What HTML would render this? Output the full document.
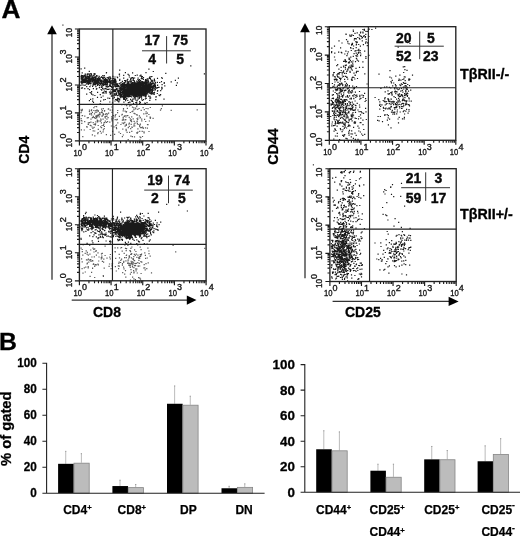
<!DOCTYPE html>
<html><head><meta charset="utf-8"><title>Figure</title>
<style>html,body{margin:0;padding:0;background:#fff;}body{width:520px;height:536px;overflow:hidden;font-family:"Liberation Sans",sans-serif;}svg{display:block;will-change:transform;}</style>
</head><body>
<svg width="520" height="536" viewBox="0 0 520 536">
<rect width="520" height="536" fill="#fff"/>
<text transform="translate(1.4 17.7) scale(1.05 1)" font-family="Liberation Sans, sans-serif" font-size="25" font-weight="bold" fill="#000" stroke="#000" stroke-width="0.3">A</text>
<text x="-0.9" y="350.4" font-family="Liberation Sans, sans-serif" font-size="24.8" font-weight="bold" fill="#000" stroke="#000" stroke-width="0.3">B</text>
<path d="M79.40 140.90v4.5M79.40 140.90h-4.5M88.93 140.90v2.4M79.40 132.48h-2.4M94.50 140.90v2.4M79.40 127.55h-2.4M98.46 140.90v2.4M79.40 124.06h-2.4M101.52 140.90v2.4M79.40 121.35h-2.4M104.03 140.90v2.4M79.40 119.13h-2.4M106.15 140.90v2.4M79.40 117.26h-2.4M107.98 140.90v2.4M79.40 115.64h-2.4M109.60 140.90v2.4M79.40 114.21h-2.4M111.05 140.90v4.5M79.40 112.93h-4.5M120.58 140.90v2.4M79.40 104.50h-2.4M126.15 140.90v2.4M79.40 99.58h-2.4M130.11 140.90v2.4M79.40 96.08h-2.4M133.17 140.90v2.4M79.40 93.37h-2.4M135.68 140.90v2.4M79.40 91.16h-2.4M137.80 140.90v2.4M79.40 89.28h-2.4M139.63 140.90v2.4M79.40 87.66h-2.4M141.25 140.90v2.4M79.40 86.23h-2.4M142.70 140.90v4.5M79.40 84.95h-4.5M152.23 140.90v2.4M79.40 76.53h-2.4M157.80 140.90v2.4M79.40 71.60h-2.4M161.76 140.90v2.4M79.40 68.11h-2.4M164.82 140.90v2.4M79.40 65.40h-2.4M167.33 140.90v2.4M79.40 63.18h-2.4M169.45 140.90v2.4M79.40 61.31h-2.4M171.28 140.90v2.4M79.40 59.69h-2.4M172.90 140.90v2.4M79.40 58.26h-2.4M174.35 140.90v4.5M79.40 56.97h-4.5M183.88 140.90v2.4M79.40 48.55h-2.4M189.45 140.90v2.4M79.40 43.63h-2.4M193.41 140.90v2.4M79.40 40.13h-2.4M196.47 140.90v2.4M79.40 37.42h-2.4M198.98 140.90v2.4M79.40 35.21h-2.4M201.10 140.90v2.4M79.40 33.33h-2.4M202.93 140.90v2.4M79.40 31.71h-2.4M204.55 140.90v2.4M79.40 30.28h-2.4M206.00 140.90v4.5M79.40 29.00h-4.5" stroke="#1a1a1a" stroke-width="1.15" fill="none"/>
<path d="M91.7 81.4h1.2v1.2h-1.2zM82.6 81.4h1.2v1.2h-1.2zM99.3 79.6h1.2v1.2h-1.2zM98.3 80.6h1.2v1.2h-1.2zM81.3 77.9h1.2v1.2h-1.2zM83.3 79.2h1.2v1.2h-1.2zM95.3 80.3h1.2v1.2h-1.2zM88.0 78.2h1.2v1.2h-1.2zM102.6 83.1h1.2v1.2h-1.2zM94.3 78.8h1.2v1.2h-1.2zM115.1 85.5h1.2v1.2h-1.2zM90.4 80.7h1.2v1.2h-1.2zM85.2 80.4h1.2v1.2h-1.2zM109.4 82.2h1.2v1.2h-1.2zM86.5 76.4h1.2v1.2h-1.2zM93.4 78.1h1.2v1.2h-1.2zM99.7 80.8h1.2v1.2h-1.2zM87.4 79.5h1.2v1.2h-1.2zM104.5 78.8h1.2v1.2h-1.2zM101.1 81.1h1.2v1.2h-1.2zM96.3 78.7h1.2v1.2h-1.2zM105.2 84.3h1.2v1.2h-1.2zM88.8 76.9h1.2v1.2h-1.2zM111.5 79.8h1.2v1.2h-1.2zM106.3 79.2h1.2v1.2h-1.2zM84.3 84.9h1.2v1.2h-1.2zM95.1 79.8h1.2v1.2h-1.2zM97.6 78.7h1.2v1.2h-1.2zM81.4 76.9h1.2v1.2h-1.2zM100.6 76.9h1.2v1.2h-1.2zM111.5 79.7h1.2v1.2h-1.2zM101.4 83.4h1.2v1.2h-1.2zM100.9 76.2h1.2v1.2h-1.2zM114.0 82.4h1.2v1.2h-1.2zM97.1 79.5h1.2v1.2h-1.2zM105.3 79.9h1.2v1.2h-1.2zM103.3 84.5h1.2v1.2h-1.2zM90.2 79.2h1.2v1.2h-1.2zM93.9 79.5h1.2v1.2h-1.2zM96.6 79.5h1.2v1.2h-1.2zM86.0 79.6h1.2v1.2h-1.2zM107.7 81.3h1.2v1.2h-1.2zM84.7 79.0h1.2v1.2h-1.2zM111.4 83.2h1.2v1.2h-1.2zM82.9 76.2h1.2v1.2h-1.2zM111.8 81.9h1.2v1.2h-1.2zM109.5 82.1h1.2v1.2h-1.2zM95.0 78.4h1.2v1.2h-1.2zM92.9 83.7h1.2v1.2h-1.2zM85.4 75.3h1.2v1.2h-1.2zM86.3 79.3h1.2v1.2h-1.2zM97.5 81.6h1.2v1.2h-1.2zM101.2 80.2h1.2v1.2h-1.2zM95.1 80.0h1.2v1.2h-1.2zM93.3 74.7h1.2v1.2h-1.2zM104.9 78.3h1.2v1.2h-1.2zM98.6 77.6h1.2v1.2h-1.2zM81.9 76.5h1.2v1.2h-1.2zM112.4 82.0h1.2v1.2h-1.2zM108.7 76.4h1.2v1.2h-1.2zM94.1 78.9h1.2v1.2h-1.2zM102.8 81.0h1.2v1.2h-1.2zM82.2 80.1h1.2v1.2h-1.2zM85.8 79.7h1.2v1.2h-1.2zM92.2 79.6h1.2v1.2h-1.2zM85.4 79.0h1.2v1.2h-1.2zM83.7 78.6h1.2v1.2h-1.2zM111.5 81.4h1.2v1.2h-1.2zM102.1 81.3h1.2v1.2h-1.2zM92.5 80.9h1.2v1.2h-1.2zM93.1 82.7h1.2v1.2h-1.2zM115.8 84.4h1.2v1.2h-1.2zM96.8 79.0h1.2v1.2h-1.2zM83.7 79.0h1.2v1.2h-1.2zM92.3 79.2h1.2v1.2h-1.2zM85.8 83.2h1.2v1.2h-1.2zM80.8 81.2h1.2v1.2h-1.2zM85.3 78.2h1.2v1.2h-1.2zM99.6 82.8h1.2v1.2h-1.2zM115.2 81.8h1.2v1.2h-1.2zM111.1 80.4h1.2v1.2h-1.2zM93.2 78.0h1.2v1.2h-1.2zM86.0 79.4h1.2v1.2h-1.2zM108.0 78.1h1.2v1.2h-1.2zM91.9 80.2h1.2v1.2h-1.2zM115.5 85.3h1.2v1.2h-1.2zM110.7 82.4h1.2v1.2h-1.2zM106.6 76.9h1.2v1.2h-1.2zM88.2 77.2h1.2v1.2h-1.2zM81.0 78.5h1.2v1.2h-1.2zM81.0 78.4h1.2v1.2h-1.2zM104.9 82.2h1.2v1.2h-1.2zM114.4 76.4h1.2v1.2h-1.2zM115.6 83.1h1.2v1.2h-1.2zM114.4 80.2h1.2v1.2h-1.2zM88.2 80.4h1.2v1.2h-1.2zM87.1 80.0h1.2v1.2h-1.2zM112.4 84.1h1.2v1.2h-1.2zM110.3 77.8h1.2v1.2h-1.2zM108.8 81.3h1.2v1.2h-1.2zM83.1 76.3h1.2v1.2h-1.2zM108.2 76.7h1.2v1.2h-1.2zM107.0 79.3h1.2v1.2h-1.2zM108.4 81.0h1.2v1.2h-1.2zM92.0 81.4h1.2v1.2h-1.2zM94.3 74.1h1.2v1.2h-1.2zM94.4 83.1h1.2v1.2h-1.2zM86.1 77.9h1.2v1.2h-1.2zM84.6 81.7h1.2v1.2h-1.2zM109.0 84.7h1.2v1.2h-1.2zM85.3 81.9h1.2v1.2h-1.2zM103.7 75.0h1.2v1.2h-1.2zM92.6 78.5h1.2v1.2h-1.2zM80.5 78.3h1.2v1.2h-1.2zM115.0 79.7h1.2v1.2h-1.2zM113.6 79.0h1.2v1.2h-1.2zM95.6 82.7h1.2v1.2h-1.2zM87.6 76.2h1.2v1.2h-1.2zM89.1 78.9h1.2v1.2h-1.2zM101.1 81.8h1.2v1.2h-1.2zM89.3 78.3h1.2v1.2h-1.2zM112.8 81.7h1.2v1.2h-1.2zM92.7 76.8h1.2v1.2h-1.2zM112.6 81.9h1.2v1.2h-1.2zM95.1 82.0h1.2v1.2h-1.2zM99.1 78.8h1.2v1.2h-1.2zM98.8 82.4h1.2v1.2h-1.2zM86.6 79.4h1.2v1.2h-1.2zM97.0 78.6h1.2v1.2h-1.2zM106.1 78.8h1.2v1.2h-1.2zM98.7 79.4h1.2v1.2h-1.2zM100.0 80.4h1.2v1.2h-1.2zM100.2 79.2h1.2v1.2h-1.2zM88.9 78.7h1.2v1.2h-1.2zM98.3 83.8h1.2v1.2h-1.2zM100.2 80.5h1.2v1.2h-1.2zM96.0 75.0h1.2v1.2h-1.2zM102.1 77.7h1.2v1.2h-1.2zM104.9 80.4h1.2v1.2h-1.2zM96.3 77.4h1.2v1.2h-1.2zM113.9 80.7h1.2v1.2h-1.2zM105.2 84.3h1.2v1.2h-1.2zM89.3 75.6h1.2v1.2h-1.2zM100.1 84.1h1.2v1.2h-1.2zM84.9 77.5h1.2v1.2h-1.2zM84.4 78.1h1.2v1.2h-1.2zM88.7 79.6h1.2v1.2h-1.2zM82.6 76.9h1.2v1.2h-1.2zM112.3 77.7h1.2v1.2h-1.2zM85.6 78.3h1.2v1.2h-1.2zM85.1 75.8h1.2v1.2h-1.2zM111.8 82.6h1.2v1.2h-1.2zM114.3 81.0h1.2v1.2h-1.2zM94.3 73.1h1.2v1.2h-1.2zM110.0 81.5h1.2v1.2h-1.2zM85.8 76.6h1.2v1.2h-1.2zM92.2 80.7h1.2v1.2h-1.2zM87.0 77.7h1.2v1.2h-1.2zM80.7 81.9h1.2v1.2h-1.2zM99.9 79.8h1.2v1.2h-1.2zM91.9 79.7h1.2v1.2h-1.2zM102.5 79.5h1.2v1.2h-1.2zM115.5 81.3h1.2v1.2h-1.2zM108.4 81.8h1.2v1.2h-1.2zM89.6 79.2h1.2v1.2h-1.2zM81.4 79.0h1.2v1.2h-1.2zM84.7 77.2h1.2v1.2h-1.2zM95.2 83.2h1.2v1.2h-1.2zM89.3 77.2h1.2v1.2h-1.2zM85.4 81.5h1.2v1.2h-1.2zM105.2 79.2h1.2v1.2h-1.2zM83.2 82.0h1.2v1.2h-1.2zM95.3 81.0h1.2v1.2h-1.2zM82.6 81.7h1.2v1.2h-1.2zM108.9 79.7h1.2v1.2h-1.2zM83.0 79.3h1.2v1.2h-1.2zM111.1 80.4h1.2v1.2h-1.2zM96.3 78.4h1.2v1.2h-1.2zM113.4 83.6h1.2v1.2h-1.2zM89.6 81.2h1.2v1.2h-1.2zM88.6 81.2h1.2v1.2h-1.2zM83.9 79.3h1.2v1.2h-1.2zM87.3 79.8h1.2v1.2h-1.2zM91.2 78.2h1.2v1.2h-1.2zM90.4 82.9h1.2v1.2h-1.2zM98.0 80.9h1.2v1.2h-1.2zM80.7 80.5h1.2v1.2h-1.2zM89.0 82.9h1.2v1.2h-1.2zM99.8 80.5h1.2v1.2h-1.2zM86.8 74.1h1.2v1.2h-1.2zM83.8 79.7h1.2v1.2h-1.2zM109.5 78.6h1.2v1.2h-1.2zM110.0 82.0h1.2v1.2h-1.2zM94.2 76.3h1.2v1.2h-1.2zM115.4 81.2h1.2v1.2h-1.2zM92.3 81.3h1.2v1.2h-1.2zM102.9 77.4h1.2v1.2h-1.2zM94.6 79.3h1.2v1.2h-1.2zM84.7 79.6h1.2v1.2h-1.2zM82.5 78.7h1.2v1.2h-1.2zM85.9 77.4h1.2v1.2h-1.2zM83.0 81.3h1.2v1.2h-1.2zM104.1 76.7h1.2v1.2h-1.2zM90.1 79.5h1.2v1.2h-1.2zM96.5 81.7h1.2v1.2h-1.2zM85.7 77.4h1.2v1.2h-1.2zM114.6 81.9h1.2v1.2h-1.2zM115.0 79.7h1.2v1.2h-1.2zM114.8 80.8h1.2v1.2h-1.2zM91.1 79.4h1.2v1.2h-1.2zM93.7 79.7h1.2v1.2h-1.2zM97.1 78.5h1.2v1.2h-1.2zM98.2 80.0h1.2v1.2h-1.2zM94.4 80.7h1.2v1.2h-1.2zM81.5 80.6h1.2v1.2h-1.2zM88.4 79.5h1.2v1.2h-1.2zM101.1 76.6h1.2v1.2h-1.2zM103.7 79.8h1.2v1.2h-1.2zM105.8 82.2h1.2v1.2h-1.2zM91.7 78.0h1.2v1.2h-1.2zM115.5 83.4h1.2v1.2h-1.2zM103.2 83.3h1.2v1.2h-1.2zM81.6 81.1h1.2v1.2h-1.2zM102.6 76.4h1.2v1.2h-1.2zM106.4 81.1h1.2v1.2h-1.2zM98.9 79.0h1.2v1.2h-1.2zM98.2 82.0h1.2v1.2h-1.2zM109.8 77.5h1.2v1.2h-1.2zM101.0 82.8h1.2v1.2h-1.2zM105.0 78.5h1.2v1.2h-1.2zM88.3 80.4h1.2v1.2h-1.2zM93.0 79.8h1.2v1.2h-1.2zM83.8 80.3h1.2v1.2h-1.2zM102.6 77.9h1.2v1.2h-1.2zM102.5 79.3h1.2v1.2h-1.2zM108.7 80.8h1.2v1.2h-1.2zM99.3 77.5h1.2v1.2h-1.2zM103.7 83.7h1.2v1.2h-1.2zM89.1 80.8h1.2v1.2h-1.2zM82.7 78.5h1.2v1.2h-1.2zM87.4 82.7h1.2v1.2h-1.2zM106.6 83.2h1.2v1.2h-1.2zM93.8 79.3h1.2v1.2h-1.2zM97.2 78.4h1.2v1.2h-1.2zM102.2 76.9h1.2v1.2h-1.2zM103.1 81.5h1.2v1.2h-1.2zM89.1 79.9h1.2v1.2h-1.2zM106.8 79.7h1.2v1.2h-1.2zM80.4 81.3h1.2v1.2h-1.2zM82.2 78.4h1.2v1.2h-1.2zM104.9 83.8h1.2v1.2h-1.2zM104.3 79.8h1.2v1.2h-1.2zM96.7 82.5h1.2v1.2h-1.2zM96.8 83.3h1.2v1.2h-1.2zM87.2 82.3h1.2v1.2h-1.2zM115.2 81.7h1.2v1.2h-1.2zM96.5 79.7h1.2v1.2h-1.2zM109.5 83.3h1.2v1.2h-1.2zM89.7 78.9h1.2v1.2h-1.2zM87.6 80.6h1.2v1.2h-1.2zM100.9 79.7h1.2v1.2h-1.2zM85.1 73.6h1.2v1.2h-1.2zM84.8 78.2h1.2v1.2h-1.2zM109.5 76.3h1.2v1.2h-1.2zM105.3 80.3h1.2v1.2h-1.2zM88.3 81.3h1.2v1.2h-1.2zM80.9 77.1h1.2v1.2h-1.2zM90.9 79.6h1.2v1.2h-1.2zM85.1 77.9h1.2v1.2h-1.2zM110.2 82.5h1.2v1.2h-1.2zM84.3 74.7h1.2v1.2h-1.2zM113.4 80.1h1.2v1.2h-1.2zM90.4 74.8h1.2v1.2h-1.2zM93.4 73.3h1.2v1.2h-1.2zM101.2 85.3h1.2v1.2h-1.2zM93.0 78.0h1.2v1.2h-1.2zM81.7 79.5h1.2v1.2h-1.2zM83.7 79.8h1.2v1.2h-1.2zM113.7 79.7h1.2v1.2h-1.2zM89.0 79.0h1.2v1.2h-1.2zM86.8 81.8h1.2v1.2h-1.2zM93.4 84.0h1.2v1.2h-1.2zM109.2 79.6h1.2v1.2h-1.2zM102.7 84.8h1.2v1.2h-1.2zM99.8 77.4h1.2v1.2h-1.2zM105.9 84.0h1.2v1.2h-1.2zM96.2 81.0h1.2v1.2h-1.2zM107.1 79.6h1.2v1.2h-1.2zM81.8 77.3h1.2v1.2h-1.2zM113.4 82.9h1.2v1.2h-1.2zM92.4 81.3h1.2v1.2h-1.2zM90.7 79.0h1.2v1.2h-1.2zM89.4 73.3h1.2v1.2h-1.2zM103.6 79.6h1.2v1.2h-1.2zM94.2 82.4h1.2v1.2h-1.2zM86.0 79.9h1.2v1.2h-1.2zM112.6 82.4h1.2v1.2h-1.2zM97.9 80.9h1.2v1.2h-1.2zM115.9 86.1h1.2v1.2h-1.2zM96.2 80.8h1.2v1.2h-1.2zM83.3 80.0h1.2v1.2h-1.2zM92.3 80.9h1.2v1.2h-1.2zM89.3 80.2h1.2v1.2h-1.2zM100.5 83.0h1.2v1.2h-1.2zM94.9 77.4h1.2v1.2h-1.2zM94.9 77.6h1.2v1.2h-1.2zM92.2 79.2h1.2v1.2h-1.2zM82.2 77.8h1.2v1.2h-1.2zM84.5 84.6h1.2v1.2h-1.2zM98.1 77.0h1.2v1.2h-1.2zM87.8 76.0h1.2v1.2h-1.2zM89.8 79.4h1.2v1.2h-1.2zM96.1 82.1h1.2v1.2h-1.2zM114.3 83.9h1.2v1.2h-1.2zM80.8 75.0h1.2v1.2h-1.2zM81.2 77.5h1.2v1.2h-1.2zM97.0 75.4h1.2v1.2h-1.2zM101.1 82.4h1.2v1.2h-1.2zM113.4 81.2h1.2v1.2h-1.2zM109.7 84.5h1.2v1.2h-1.2zM88.9 74.7h1.2v1.2h-1.2zM83.9 80.4h1.2v1.2h-1.2zM104.6 82.7h1.2v1.2h-1.2zM113.9 80.7h1.2v1.2h-1.2zM107.5 77.6h1.2v1.2h-1.2zM96.5 79.3h1.2v1.2h-1.2zM108.2 80.6h1.2v1.2h-1.2zM88.4 82.0h1.2v1.2h-1.2zM90.9 77.9h1.2v1.2h-1.2zM84.6 78.9h1.2v1.2h-1.2zM105.1 83.7h1.2v1.2h-1.2zM84.0 81.3h1.2v1.2h-1.2zM101.0 81.4h1.2v1.2h-1.2zM94.0 80.2h1.2v1.2h-1.2zM80.4 81.6h1.2v1.2h-1.2zM90.9 74.1h1.2v1.2h-1.2zM103.2 81.8h1.2v1.2h-1.2zM111.8 79.5h1.2v1.2h-1.2zM88.9 79.5h1.2v1.2h-1.2zM114.6 80.8h1.2v1.2h-1.2zM80.8 76.9h1.2v1.2h-1.2zM97.9 78.9h1.2v1.2h-1.2zM89.3 77.3h1.2v1.2h-1.2zM104.0 81.9h1.2v1.2h-1.2zM81.2 78.0h1.2v1.2h-1.2zM92.2 76.6h1.2v1.2h-1.2zM87.1 80.7h1.2v1.2h-1.2zM108.7 80.7h1.2v1.2h-1.2zM87.4 76.6h1.2v1.2h-1.2zM114.9 79.8h1.2v1.2h-1.2zM88.3 83.0h1.2v1.2h-1.2zM88.0 79.3h1.2v1.2h-1.2zM114.3 79.4h1.2v1.2h-1.2zM97.8 80.6h1.2v1.2h-1.2zM95.0 81.2h1.2v1.2h-1.2zM104.0 81.6h1.2v1.2h-1.2zM94.2 79.3h1.2v1.2h-1.2zM87.7 80.4h1.2v1.2h-1.2zM81.9 78.5h1.2v1.2h-1.2zM82.2 75.1h1.2v1.2h-1.2zM111.8 84.0h1.2v1.2h-1.2zM106.4 85.7h1.2v1.2h-1.2zM91.9 79.4h1.2v1.2h-1.2zM86.7 82.5h1.2v1.2h-1.2zM81.1 77.3h1.2v1.2h-1.2zM103.9 78.9h1.2v1.2h-1.2zM91.9 81.0h1.2v1.2h-1.2zM86.1 80.9h1.2v1.2h-1.2zM92.7 79.6h1.2v1.2h-1.2zM114.4 85.3h1.2v1.2h-1.2zM87.5 83.2h1.2v1.2h-1.2zM92.8 81.4h1.2v1.2h-1.2zM95.6 76.1h1.2v1.2h-1.2zM81.8 76.6h1.2v1.2h-1.2zM113.1 81.5h1.2v1.2h-1.2zM86.9 76.1h1.2v1.2h-1.2zM81.1 82.2h1.2v1.2h-1.2zM94.8 81.2h1.2v1.2h-1.2zM81.5 75.2h1.2v1.2h-1.2zM81.3 83.3h1.2v1.2h-1.2zM89.3 81.2h1.2v1.2h-1.2zM106.9 82.3h1.2v1.2h-1.2zM89.8 78.2h1.2v1.2h-1.2zM114.5 80.0h1.2v1.2h-1.2zM105.8 79.5h1.2v1.2h-1.2zM91.4 79.5h1.2v1.2h-1.2zM107.2 80.9h1.2v1.2h-1.2zM113.0 77.7h1.2v1.2h-1.2zM80.9 74.7h1.2v1.2h-1.2zM88.4 73.8h1.2v1.2h-1.2zM114.3 82.1h1.2v1.2h-1.2zM93.9 79.7h1.2v1.2h-1.2zM97.8 82.3h1.2v1.2h-1.2zM113.4 82.8h1.2v1.2h-1.2zM106.6 84.3h1.2v1.2h-1.2zM109.6 81.3h1.2v1.2h-1.2zM91.8 76.5h1.2v1.2h-1.2zM91.5 77.0h1.2v1.2h-1.2zM82.8 81.8h1.2v1.2h-1.2zM87.1 79.2h1.2v1.2h-1.2zM82.3 77.1h1.2v1.2h-1.2zM81.2 76.8h1.2v1.2h-1.2zM115.3 80.7h1.2v1.2h-1.2zM111.8 82.8h1.2v1.2h-1.2zM83.0 78.7h1.2v1.2h-1.2zM83.5 75.4h1.2v1.2h-1.2zM96.1 79.9h1.2v1.2h-1.2zM88.4 76.6h1.2v1.2h-1.2zM104.3 82.0h1.2v1.2h-1.2zM106.9 82.6h1.2v1.2h-1.2zM84.4 76.3h1.2v1.2h-1.2zM110.3 80.2h1.2v1.2h-1.2zM93.4 82.4h1.2v1.2h-1.2zM106.6 81.2h1.2v1.2h-1.2zM88.8 80.9h1.2v1.2h-1.2zM86.1 86.0h1.2v1.2h-1.2zM93.1 77.4h1.2v1.2h-1.2zM95.8 88.6h1.2v1.2h-1.2zM89.3 81.1h1.2v1.2h-1.2zM112.3 75.7h1.2v1.2h-1.2zM84.1 67.5h1.2v1.2h-1.2zM99.0 87.0h1.2v1.2h-1.2zM116.6 76.4h1.2v1.2h-1.2zM81.6 79.5h1.2v1.2h-1.2zM87.6 83.7h1.2v1.2h-1.2zM118.9 75.4h1.2v1.2h-1.2zM94.9 76.2h1.2v1.2h-1.2zM114.6 81.4h1.2v1.2h-1.2zM111.1 85.9h1.2v1.2h-1.2zM117.8 91.2h1.2v1.2h-1.2zM104.8 88.0h1.2v1.2h-1.2zM88.7 79.4h1.2v1.2h-1.2zM88.2 83.3h1.2v1.2h-1.2zM90.2 75.4h1.2v1.2h-1.2zM88.1 76.8h1.2v1.2h-1.2zM80.5 76.4h1.2v1.2h-1.2zM87.4 88.0h1.2v1.2h-1.2zM92.5 84.5h1.2v1.2h-1.2zM101.9 92.2h1.2v1.2h-1.2zM82.5 84.6h1.2v1.2h-1.2zM102.0 86.4h1.2v1.2h-1.2zM105.6 86.4h1.2v1.2h-1.2zM107.8 85.9h1.2v1.2h-1.2zM96.4 81.5h1.2v1.2h-1.2zM118.1 90.1h1.2v1.2h-1.2zM92.5 77.4h1.2v1.2h-1.2zM96.7 80.5h1.2v1.2h-1.2zM114.6 90.1h1.2v1.2h-1.2zM87.9 81.1h1.2v1.2h-1.2zM109.1 84.5h1.2v1.2h-1.2zM116.1 86.0h1.2v1.2h-1.2zM97.0 84.8h1.2v1.2h-1.2zM115.3 80.5h1.2v1.2h-1.2zM98.4 83.2h1.2v1.2h-1.2zM102.1 84.1h1.2v1.2h-1.2zM105.6 85.7h1.2v1.2h-1.2zM104.9 82.5h1.2v1.2h-1.2zM94.8 79.3h1.2v1.2h-1.2zM91.3 81.6h1.2v1.2h-1.2zM100.8 85.4h1.2v1.2h-1.2zM99.6 81.8h1.2v1.2h-1.2zM112.2 88.2h1.2v1.2h-1.2zM85.1 80.0h1.2v1.2h-1.2zM117.7 91.6h1.2v1.2h-1.2zM82.1 79.4h1.2v1.2h-1.2zM117.0 77.0h1.2v1.2h-1.2zM104.8 91.0h1.2v1.2h-1.2zM113.0 89.8h1.2v1.2h-1.2zM88.9 89.0h1.2v1.2h-1.2zM96.2 88.0h1.2v1.2h-1.2zM87.3 73.1h1.2v1.2h-1.2zM88.7 76.2h1.2v1.2h-1.2zM95.3 86.0h1.2v1.2h-1.2zM84.9 80.9h1.2v1.2h-1.2zM115.9 93.7h1.2v1.2h-1.2zM81.6 72.2h1.2v1.2h-1.2zM81.5 76.9h1.2v1.2h-1.2zM113.5 90.2h1.2v1.2h-1.2zM102.0 88.0h1.2v1.2h-1.2zM105.1 81.9h1.2v1.2h-1.2zM103.3 88.6h1.2v1.2h-1.2zM97.0 79.5h1.2v1.2h-1.2zM97.5 77.9h1.2v1.2h-1.2zM80.9 75.7h1.2v1.2h-1.2zM89.4 77.3h1.2v1.2h-1.2zM110.5 85.7h1.2v1.2h-1.2zM87.2 75.4h1.2v1.2h-1.2zM98.9 85.0h1.2v1.2h-1.2zM97.2 84.3h1.2v1.2h-1.2zM83.7 74.7h1.2v1.2h-1.2zM81.6 82.5h1.2v1.2h-1.2zM105.5 91.2h1.2v1.2h-1.2zM111.1 88.8h1.2v1.2h-1.2zM100.5 88.9h1.2v1.2h-1.2zM95.1 84.3h1.2v1.2h-1.2zM118.0 92.4h1.2v1.2h-1.2zM119.8 93.7h1.2v1.2h-1.2zM109.3 85.7h1.2v1.2h-1.2zM119.3 82.8h1.2v1.2h-1.2zM99.7 94.1h1.2v1.2h-1.2zM86.6 77.9h1.2v1.2h-1.2zM111.5 86.5h1.2v1.2h-1.2zM94.0 81.3h1.2v1.2h-1.2zM110.2 90.5h1.2v1.2h-1.2zM91.0 91.0h1.2v1.2h-1.2zM112.6 88.7h1.2v1.2h-1.2zM116.8 90.3h1.2v1.2h-1.2zM88.3 80.8h1.2v1.2h-1.2zM92.8 88.1h1.2v1.2h-1.2zM81.5 81.5h1.2v1.2h-1.2zM117.5 88.4h1.2v1.2h-1.2zM107.2 86.6h1.2v1.2h-1.2zM111.4 82.8h1.2v1.2h-1.2zM84.6 73.4h1.2v1.2h-1.2zM94.4 80.7h1.2v1.2h-1.2zM114.9 78.8h1.2v1.2h-1.2zM115.3 83.0h1.2v1.2h-1.2zM84.2 88.0h1.2v1.2h-1.2zM95.8 82.0h1.2v1.2h-1.2zM111.9 83.3h1.2v1.2h-1.2zM103.1 99.3h1.2v1.2h-1.2zM94.4 82.7h1.2v1.2h-1.2zM87.1 75.5h1.2v1.2h-1.2zM109.7 93.6h1.2v1.2h-1.2zM90.1 84.4h1.2v1.2h-1.2zM105.6 90.7h1.2v1.2h-1.2zM106.5 83.3h1.2v1.2h-1.2zM92.5 83.2h1.2v1.2h-1.2zM86.0 80.9h1.2v1.2h-1.2zM104.6 78.0h1.2v1.2h-1.2zM115.8 87.9h1.2v1.2h-1.2zM85.3 81.9h1.2v1.2h-1.2zM80.9 87.6h1.2v1.2h-1.2zM94.3 84.1h1.2v1.2h-1.2zM89.0 75.3h1.2v1.2h-1.2zM88.2 77.7h1.2v1.2h-1.2zM105.0 81.0h1.2v1.2h-1.2zM117.5 86.1h1.2v1.2h-1.2zM89.7 82.8h1.2v1.2h-1.2zM105.5 85.7h1.2v1.2h-1.2zM114.9 86.3h1.2v1.2h-1.2zM90.6 76.4h1.2v1.2h-1.2zM80.5 76.0h1.2v1.2h-1.2zM94.0 76.8h1.2v1.2h-1.2zM105.8 72.4h1.2v1.2h-1.2zM109.3 88.6h1.2v1.2h-1.2zM89.9 82.8h1.2v1.2h-1.2zM101.3 82.3h1.2v1.2h-1.2zM96.2 82.6h1.2v1.2h-1.2zM111.2 86.5h1.2v1.2h-1.2zM80.5 68.3h1.2v1.2h-1.2zM85.7 77.0h1.2v1.2h-1.2zM88.0 76.4h1.2v1.2h-1.2zM105.7 80.0h1.2v1.2h-1.2zM112.5 86.9h1.2v1.2h-1.2zM92.0 85.8h1.2v1.2h-1.2zM81.9 87.3h1.2v1.2h-1.2zM108.6 78.5h1.2v1.2h-1.2zM80.3 84.8h1.2v1.2h-1.2zM98.6 75.7h1.2v1.2h-1.2zM109.7 80.9h1.2v1.2h-1.2zM84.2 81.7h1.2v1.2h-1.2zM89.3 86.0h1.2v1.2h-1.2zM110.0 85.6h1.2v1.2h-1.2zM107.8 88.8h1.2v1.2h-1.2zM90.6 74.8h1.2v1.2h-1.2zM102.2 74.9h1.2v1.2h-1.2zM100.9 86.7h1.2v1.2h-1.2zM90.6 73.1h1.2v1.2h-1.2zM88.7 70.8h1.2v1.2h-1.2zM115.2 89.3h1.2v1.2h-1.2zM89.4 81.8h1.2v1.2h-1.2zM109.8 92.6h1.2v1.2h-1.2zM93.1 79.0h1.2v1.2h-1.2zM115.2 83.5h1.2v1.2h-1.2zM116.3 88.8h1.2v1.2h-1.2zM105.2 81.1h1.2v1.2h-1.2zM119.2 78.7h1.2v1.2h-1.2zM98.8 87.1h1.2v1.2h-1.2zM114.3 78.3h1.2v1.2h-1.2zM97.5 81.6h1.2v1.2h-1.2zM92.3 75.2h1.2v1.2h-1.2zM88.5 79.8h1.2v1.2h-1.2zM116.4 84.0h1.2v1.2h-1.2zM136.7 89.1h1.2v1.2h-1.2zM151.0 92.1h1.2v1.2h-1.2zM132.8 90.4h1.2v1.2h-1.2zM138.0 88.6h1.2v1.2h-1.2zM131.2 84.5h1.2v1.2h-1.2zM130.9 83.7h1.2v1.2h-1.2zM146.0 89.5h1.2v1.2h-1.2zM125.1 94.3h1.2v1.2h-1.2zM143.2 81.4h1.2v1.2h-1.2zM151.3 89.9h1.2v1.2h-1.2zM153.3 82.8h1.2v1.2h-1.2zM140.1 89.6h1.2v1.2h-1.2zM137.2 89.0h1.2v1.2h-1.2zM144.6 82.7h1.2v1.2h-1.2zM124.8 84.8h1.2v1.2h-1.2zM130.7 87.0h1.2v1.2h-1.2zM138.7 89.2h1.2v1.2h-1.2zM135.8 86.3h1.2v1.2h-1.2zM131.7 92.2h1.2v1.2h-1.2zM142.1 88.4h1.2v1.2h-1.2zM132.7 94.2h1.2v1.2h-1.2zM130.4 91.3h1.2v1.2h-1.2zM145.4 86.8h1.2v1.2h-1.2zM142.6 84.2h1.2v1.2h-1.2zM144.2 88.5h1.2v1.2h-1.2zM121.9 92.1h1.2v1.2h-1.2zM127.8 93.7h1.2v1.2h-1.2zM129.7 88.6h1.2v1.2h-1.2zM137.9 87.2h1.2v1.2h-1.2zM137.7 86.5h1.2v1.2h-1.2zM141.3 88.1h1.2v1.2h-1.2zM137.3 79.0h1.2v1.2h-1.2zM145.5 87.8h1.2v1.2h-1.2zM120.2 90.3h1.2v1.2h-1.2zM139.5 91.9h1.2v1.2h-1.2zM126.2 94.7h1.2v1.2h-1.2zM134.1 96.9h1.2v1.2h-1.2zM134.2 91.0h1.2v1.2h-1.2zM132.3 85.1h1.2v1.2h-1.2zM144.9 90.9h1.2v1.2h-1.2zM148.7 90.3h1.2v1.2h-1.2zM130.6 83.4h1.2v1.2h-1.2zM129.9 86.8h1.2v1.2h-1.2zM128.5 91.2h1.2v1.2h-1.2zM138.3 87.4h1.2v1.2h-1.2zM137.0 88.0h1.2v1.2h-1.2zM137.3 91.0h1.2v1.2h-1.2zM143.8 85.5h1.2v1.2h-1.2zM122.5 94.6h1.2v1.2h-1.2zM136.5 92.3h1.2v1.2h-1.2zM121.4 88.7h1.2v1.2h-1.2zM135.7 83.7h1.2v1.2h-1.2zM131.1 91.5h1.2v1.2h-1.2zM144.8 93.2h1.2v1.2h-1.2zM128.1 84.5h1.2v1.2h-1.2zM140.0 91.4h1.2v1.2h-1.2zM137.2 84.0h1.2v1.2h-1.2zM142.2 90.7h1.2v1.2h-1.2zM140.3 86.5h1.2v1.2h-1.2zM138.1 91.1h1.2v1.2h-1.2zM130.7 82.7h1.2v1.2h-1.2zM138.3 90.0h1.2v1.2h-1.2zM135.6 91.6h1.2v1.2h-1.2zM130.5 88.8h1.2v1.2h-1.2zM132.9 90.8h1.2v1.2h-1.2zM149.2 86.5h1.2v1.2h-1.2zM153.2 92.2h1.2v1.2h-1.2zM142.3 90.0h1.2v1.2h-1.2zM150.7 86.6h1.2v1.2h-1.2zM134.5 85.1h1.2v1.2h-1.2zM139.6 92.8h1.2v1.2h-1.2zM140.1 89.6h1.2v1.2h-1.2zM133.8 89.3h1.2v1.2h-1.2zM123.2 93.3h1.2v1.2h-1.2zM132.0 85.1h1.2v1.2h-1.2zM129.0 86.4h1.2v1.2h-1.2zM142.9 91.6h1.2v1.2h-1.2zM123.8 92.8h1.2v1.2h-1.2zM143.1 85.9h1.2v1.2h-1.2zM122.7 87.2h1.2v1.2h-1.2zM130.0 90.3h1.2v1.2h-1.2zM132.4 82.0h1.2v1.2h-1.2zM137.5 83.2h1.2v1.2h-1.2zM143.3 83.8h1.2v1.2h-1.2zM129.5 86.2h1.2v1.2h-1.2zM130.8 93.4h1.2v1.2h-1.2zM142.8 90.0h1.2v1.2h-1.2zM138.2 83.1h1.2v1.2h-1.2zM131.0 87.1h1.2v1.2h-1.2zM127.1 91.1h1.2v1.2h-1.2zM129.1 86.7h1.2v1.2h-1.2zM126.5 82.4h1.2v1.2h-1.2zM140.6 92.7h1.2v1.2h-1.2zM137.0 85.1h1.2v1.2h-1.2zM112.2 91.3h1.2v1.2h-1.2zM146.0 88.7h1.2v1.2h-1.2zM143.5 92.9h1.2v1.2h-1.2zM145.2 86.2h1.2v1.2h-1.2zM144.6 90.4h1.2v1.2h-1.2zM122.3 88.4h1.2v1.2h-1.2zM123.3 89.3h1.2v1.2h-1.2zM140.5 84.5h1.2v1.2h-1.2zM117.8 94.6h1.2v1.2h-1.2zM138.7 93.3h1.2v1.2h-1.2zM124.1 93.2h1.2v1.2h-1.2zM153.3 93.9h1.2v1.2h-1.2zM133.7 89.7h1.2v1.2h-1.2zM134.2 92.1h1.2v1.2h-1.2zM144.4 88.1h1.2v1.2h-1.2zM123.8 92.2h1.2v1.2h-1.2zM131.5 91.1h1.2v1.2h-1.2zM137.8 93.9h1.2v1.2h-1.2zM145.3 86.2h1.2v1.2h-1.2zM138.5 94.4h1.2v1.2h-1.2zM130.9 90.5h1.2v1.2h-1.2zM145.7 92.0h1.2v1.2h-1.2zM140.0 83.7h1.2v1.2h-1.2zM124.7 90.4h1.2v1.2h-1.2zM138.8 97.0h1.2v1.2h-1.2zM128.1 93.1h1.2v1.2h-1.2zM142.1 82.3h1.2v1.2h-1.2zM128.5 89.8h1.2v1.2h-1.2zM131.3 88.5h1.2v1.2h-1.2zM139.5 85.5h1.2v1.2h-1.2zM139.5 86.1h1.2v1.2h-1.2zM130.8 90.9h1.2v1.2h-1.2zM130.6 90.0h1.2v1.2h-1.2zM149.3 87.5h1.2v1.2h-1.2zM134.2 91.2h1.2v1.2h-1.2zM132.4 92.6h1.2v1.2h-1.2zM124.5 91.7h1.2v1.2h-1.2zM131.1 86.3h1.2v1.2h-1.2zM150.7 84.3h1.2v1.2h-1.2zM150.6 89.5h1.2v1.2h-1.2zM148.0 84.1h1.2v1.2h-1.2zM145.8 92.7h1.2v1.2h-1.2zM134.5 88.2h1.2v1.2h-1.2zM156.6 87.3h1.2v1.2h-1.2zM131.9 86.8h1.2v1.2h-1.2zM139.3 89.4h1.2v1.2h-1.2zM137.0 94.3h1.2v1.2h-1.2zM132.7 90.5h1.2v1.2h-1.2zM148.0 84.0h1.2v1.2h-1.2zM144.4 94.1h1.2v1.2h-1.2zM123.8 85.9h1.2v1.2h-1.2zM126.6 83.1h1.2v1.2h-1.2zM139.4 81.9h1.2v1.2h-1.2zM139.8 93.2h1.2v1.2h-1.2zM121.6 88.8h1.2v1.2h-1.2zM119.0 92.7h1.2v1.2h-1.2zM129.2 88.3h1.2v1.2h-1.2zM136.0 90.4h1.2v1.2h-1.2zM132.5 88.9h1.2v1.2h-1.2zM130.8 89.4h1.2v1.2h-1.2zM125.4 89.7h1.2v1.2h-1.2zM118.9 88.4h1.2v1.2h-1.2zM152.0 87.4h1.2v1.2h-1.2zM124.7 90.4h1.2v1.2h-1.2zM127.1 83.7h1.2v1.2h-1.2zM129.2 91.7h1.2v1.2h-1.2zM138.8 88.0h1.2v1.2h-1.2zM127.5 85.6h1.2v1.2h-1.2zM147.1 88.4h1.2v1.2h-1.2zM127.3 82.1h1.2v1.2h-1.2zM123.7 98.1h1.2v1.2h-1.2zM125.6 89.2h1.2v1.2h-1.2zM137.3 87.9h1.2v1.2h-1.2zM133.1 84.1h1.2v1.2h-1.2zM126.5 95.2h1.2v1.2h-1.2zM129.0 92.1h1.2v1.2h-1.2zM120.9 89.0h1.2v1.2h-1.2zM137.7 91.9h1.2v1.2h-1.2zM125.8 91.5h1.2v1.2h-1.2zM138.8 85.8h1.2v1.2h-1.2zM139.6 85.2h1.2v1.2h-1.2zM128.7 89.1h1.2v1.2h-1.2zM112.2 90.3h1.2v1.2h-1.2zM126.9 84.4h1.2v1.2h-1.2zM131.8 91.5h1.2v1.2h-1.2zM132.0 93.2h1.2v1.2h-1.2zM125.5 85.0h1.2v1.2h-1.2zM148.8 88.8h1.2v1.2h-1.2zM143.6 85.0h1.2v1.2h-1.2zM142.4 88.9h1.2v1.2h-1.2zM141.1 88.2h1.2v1.2h-1.2zM145.9 85.5h1.2v1.2h-1.2zM127.2 84.3h1.2v1.2h-1.2zM145.5 85.2h1.2v1.2h-1.2zM126.5 86.2h1.2v1.2h-1.2zM131.7 84.6h1.2v1.2h-1.2zM133.0 86.7h1.2v1.2h-1.2zM130.8 85.7h1.2v1.2h-1.2zM135.8 87.0h1.2v1.2h-1.2zM136.5 89.4h1.2v1.2h-1.2zM138.4 80.9h1.2v1.2h-1.2zM130.9 86.3h1.2v1.2h-1.2zM142.2 82.6h1.2v1.2h-1.2zM129.4 88.1h1.2v1.2h-1.2zM132.6 92.2h1.2v1.2h-1.2zM131.7 92.2h1.2v1.2h-1.2zM122.9 83.5h1.2v1.2h-1.2zM146.0 89.1h1.2v1.2h-1.2zM139.7 88.6h1.2v1.2h-1.2zM139.7 84.1h1.2v1.2h-1.2zM143.7 86.1h1.2v1.2h-1.2zM144.0 88.1h1.2v1.2h-1.2zM118.5 85.7h1.2v1.2h-1.2zM145.2 87.3h1.2v1.2h-1.2zM132.1 89.7h1.2v1.2h-1.2zM131.8 87.1h1.2v1.2h-1.2zM136.4 89.0h1.2v1.2h-1.2zM148.5 87.6h1.2v1.2h-1.2zM151.7 93.3h1.2v1.2h-1.2zM150.3 90.9h1.2v1.2h-1.2zM136.6 89.0h1.2v1.2h-1.2zM134.3 86.2h1.2v1.2h-1.2zM134.9 86.5h1.2v1.2h-1.2zM149.6 89.2h1.2v1.2h-1.2zM131.7 82.4h1.2v1.2h-1.2zM135.0 87.2h1.2v1.2h-1.2zM126.2 85.6h1.2v1.2h-1.2zM116.1 92.3h1.2v1.2h-1.2zM134.9 97.5h1.2v1.2h-1.2zM135.2 88.1h1.2v1.2h-1.2zM147.9 87.9h1.2v1.2h-1.2zM136.9 87.2h1.2v1.2h-1.2zM130.3 94.2h1.2v1.2h-1.2zM144.1 93.7h1.2v1.2h-1.2zM132.5 89.0h1.2v1.2h-1.2zM127.9 92.6h1.2v1.2h-1.2zM123.5 91.6h1.2v1.2h-1.2zM144.9 92.6h1.2v1.2h-1.2zM127.4 93.0h1.2v1.2h-1.2zM129.4 86.6h1.2v1.2h-1.2zM124.1 93.6h1.2v1.2h-1.2zM149.7 85.3h1.2v1.2h-1.2zM129.0 88.0h1.2v1.2h-1.2zM157.1 90.1h1.2v1.2h-1.2zM130.8 82.9h1.2v1.2h-1.2zM129.7 93.2h1.2v1.2h-1.2zM151.6 86.3h1.2v1.2h-1.2zM129.6 87.4h1.2v1.2h-1.2zM119.3 93.2h1.2v1.2h-1.2zM126.2 93.1h1.2v1.2h-1.2zM120.8 85.6h1.2v1.2h-1.2zM138.0 85.8h1.2v1.2h-1.2zM142.2 88.0h1.2v1.2h-1.2zM125.4 91.6h1.2v1.2h-1.2zM142.7 81.4h1.2v1.2h-1.2zM151.2 88.9h1.2v1.2h-1.2zM142.0 81.7h1.2v1.2h-1.2zM129.3 88.0h1.2v1.2h-1.2zM144.8 82.8h1.2v1.2h-1.2zM127.9 82.4h1.2v1.2h-1.2zM133.4 90.0h1.2v1.2h-1.2zM121.0 87.9h1.2v1.2h-1.2zM139.9 93.6h1.2v1.2h-1.2zM141.2 87.1h1.2v1.2h-1.2zM125.4 86.3h1.2v1.2h-1.2zM129.8 89.6h1.2v1.2h-1.2zM135.1 94.3h1.2v1.2h-1.2zM138.0 84.7h1.2v1.2h-1.2zM148.8 90.7h1.2v1.2h-1.2zM136.4 86.1h1.2v1.2h-1.2zM119.4 86.6h1.2v1.2h-1.2zM143.3 85.2h1.2v1.2h-1.2zM124.2 90.3h1.2v1.2h-1.2zM137.6 90.5h1.2v1.2h-1.2zM141.1 92.9h1.2v1.2h-1.2zM128.3 92.6h1.2v1.2h-1.2zM127.0 91.7h1.2v1.2h-1.2zM137.0 89.3h1.2v1.2h-1.2zM143.8 87.8h1.2v1.2h-1.2zM145.1 90.7h1.2v1.2h-1.2zM136.7 86.6h1.2v1.2h-1.2zM129.0 87.4h1.2v1.2h-1.2zM133.8 88.7h1.2v1.2h-1.2zM161.1 88.5h1.2v1.2h-1.2zM142.1 85.1h1.2v1.2h-1.2zM129.4 88.1h1.2v1.2h-1.2zM137.2 84.9h1.2v1.2h-1.2zM149.4 85.4h1.2v1.2h-1.2zM144.8 79.8h1.2v1.2h-1.2zM135.4 89.6h1.2v1.2h-1.2zM137.1 90.5h1.2v1.2h-1.2zM137.9 88.9h1.2v1.2h-1.2zM119.2 87.6h1.2v1.2h-1.2zM115.4 92.5h1.2v1.2h-1.2zM138.1 87.7h1.2v1.2h-1.2zM128.4 87.2h1.2v1.2h-1.2zM151.4 93.1h1.2v1.2h-1.2zM135.0 93.0h1.2v1.2h-1.2zM121.8 83.2h1.2v1.2h-1.2zM131.3 86.0h1.2v1.2h-1.2zM130.7 89.7h1.2v1.2h-1.2zM161.5 84.0h1.2v1.2h-1.2zM135.9 89.5h1.2v1.2h-1.2zM135.2 91.8h1.2v1.2h-1.2zM150.8 83.0h1.2v1.2h-1.2zM136.9 87.6h1.2v1.2h-1.2zM138.6 83.1h1.2v1.2h-1.2zM120.4 82.0h1.2v1.2h-1.2zM140.0 88.9h1.2v1.2h-1.2zM136.1 80.5h1.2v1.2h-1.2zM132.3 86.3h1.2v1.2h-1.2zM123.3 86.6h1.2v1.2h-1.2zM141.5 89.9h1.2v1.2h-1.2zM135.3 90.4h1.2v1.2h-1.2zM130.3 89.3h1.2v1.2h-1.2zM135.8 90.5h1.2v1.2h-1.2zM134.9 88.2h1.2v1.2h-1.2zM134.3 86.5h1.2v1.2h-1.2zM154.7 88.6h1.2v1.2h-1.2zM139.2 96.1h1.2v1.2h-1.2zM147.6 82.2h1.2v1.2h-1.2zM141.5 90.9h1.2v1.2h-1.2zM151.7 91.6h1.2v1.2h-1.2zM142.1 84.0h1.2v1.2h-1.2zM128.0 90.2h1.2v1.2h-1.2zM139.8 84.7h1.2v1.2h-1.2zM132.2 87.5h1.2v1.2h-1.2zM136.0 89.7h1.2v1.2h-1.2zM133.0 84.6h1.2v1.2h-1.2zM146.2 93.1h1.2v1.2h-1.2zM134.6 92.2h1.2v1.2h-1.2zM139.3 90.5h1.2v1.2h-1.2zM139.6 85.6h1.2v1.2h-1.2zM140.4 91.6h1.2v1.2h-1.2zM127.8 96.0h1.2v1.2h-1.2zM153.5 93.2h1.2v1.2h-1.2zM152.6 89.6h1.2v1.2h-1.2zM132.6 86.8h1.2v1.2h-1.2zM128.5 89.6h1.2v1.2h-1.2zM135.2 90.9h1.2v1.2h-1.2zM118.1 98.0h1.2v1.2h-1.2zM155.1 86.8h1.2v1.2h-1.2zM141.3 89.7h1.2v1.2h-1.2zM137.9 87.7h1.2v1.2h-1.2zM134.4 85.9h1.2v1.2h-1.2zM137.0 88.4h1.2v1.2h-1.2zM138.3 85.4h1.2v1.2h-1.2zM135.8 88.7h1.2v1.2h-1.2zM140.7 84.5h1.2v1.2h-1.2zM139.1 91.6h1.2v1.2h-1.2zM140.6 86.9h1.2v1.2h-1.2zM131.3 88.2h1.2v1.2h-1.2zM141.8 93.3h1.2v1.2h-1.2zM134.1 86.5h1.2v1.2h-1.2zM138.7 89.0h1.2v1.2h-1.2zM127.7 86.8h1.2v1.2h-1.2zM134.6 91.0h1.2v1.2h-1.2zM125.2 86.0h1.2v1.2h-1.2zM139.8 84.0h1.2v1.2h-1.2zM136.4 89.7h1.2v1.2h-1.2zM134.5 85.2h1.2v1.2h-1.2zM135.0 87.5h1.2v1.2h-1.2zM138.4 85.5h1.2v1.2h-1.2zM144.9 82.0h1.2v1.2h-1.2zM134.0 88.8h1.2v1.2h-1.2zM143.8 85.8h1.2v1.2h-1.2zM140.2 86.2h1.2v1.2h-1.2zM141.8 94.0h1.2v1.2h-1.2zM132.1 90.4h1.2v1.2h-1.2zM127.5 92.6h1.2v1.2h-1.2zM145.9 87.8h1.2v1.2h-1.2zM125.7 90.8h1.2v1.2h-1.2zM145.4 91.4h1.2v1.2h-1.2zM142.5 81.7h1.2v1.2h-1.2zM129.7 94.0h1.2v1.2h-1.2zM125.0 93.4h1.2v1.2h-1.2zM151.7 89.8h1.2v1.2h-1.2zM145.1 86.6h1.2v1.2h-1.2zM125.0 89.2h1.2v1.2h-1.2zM133.8 88.6h1.2v1.2h-1.2zM141.5 87.6h1.2v1.2h-1.2zM137.1 89.9h1.2v1.2h-1.2zM135.5 94.9h1.2v1.2h-1.2zM139.3 88.5h1.2v1.2h-1.2zM133.7 86.6h1.2v1.2h-1.2zM147.1 88.1h1.2v1.2h-1.2zM126.2 87.5h1.2v1.2h-1.2zM134.3 87.2h1.2v1.2h-1.2zM144.8 83.8h1.2v1.2h-1.2zM139.7 88.7h1.2v1.2h-1.2zM125.4 89.7h1.2v1.2h-1.2zM134.7 90.4h1.2v1.2h-1.2zM131.6 90.0h1.2v1.2h-1.2zM121.2 86.2h1.2v1.2h-1.2zM142.3 91.6h1.2v1.2h-1.2zM135.4 86.6h1.2v1.2h-1.2zM144.8 80.6h1.2v1.2h-1.2zM128.6 91.5h1.2v1.2h-1.2zM141.1 84.6h1.2v1.2h-1.2zM119.3 95.0h1.2v1.2h-1.2zM136.8 85.4h1.2v1.2h-1.2zM136.0 91.6h1.2v1.2h-1.2zM113.2 94.4h1.2v1.2h-1.2zM141.9 80.9h1.2v1.2h-1.2zM142.1 81.9h1.2v1.2h-1.2zM145.3 89.1h1.2v1.2h-1.2zM154.9 84.8h1.2v1.2h-1.2zM135.5 92.2h1.2v1.2h-1.2zM130.0 86.7h1.2v1.2h-1.2zM132.3 88.6h1.2v1.2h-1.2zM126.2 91.1h1.2v1.2h-1.2zM140.2 88.4h1.2v1.2h-1.2zM150.1 86.2h1.2v1.2h-1.2zM146.7 85.7h1.2v1.2h-1.2zM142.0 81.4h1.2v1.2h-1.2zM137.2 87.8h1.2v1.2h-1.2zM131.2 86.9h1.2v1.2h-1.2zM132.5 86.4h1.2v1.2h-1.2zM116.6 88.3h1.2v1.2h-1.2zM130.8 87.2h1.2v1.2h-1.2zM126.4 89.0h1.2v1.2h-1.2zM142.2 87.1h1.2v1.2h-1.2zM131.3 93.6h1.2v1.2h-1.2zM143.9 91.0h1.2v1.2h-1.2zM145.4 86.6h1.2v1.2h-1.2zM134.4 92.5h1.2v1.2h-1.2zM130.7 88.6h1.2v1.2h-1.2zM138.7 89.6h1.2v1.2h-1.2zM133.1 92.2h1.2v1.2h-1.2zM134.0 91.2h1.2v1.2h-1.2zM144.7 90.0h1.2v1.2h-1.2zM141.8 84.1h1.2v1.2h-1.2zM124.2 87.5h1.2v1.2h-1.2zM139.6 93.4h1.2v1.2h-1.2zM125.0 90.6h1.2v1.2h-1.2zM128.2 86.8h1.2v1.2h-1.2zM133.1 91.2h1.2v1.2h-1.2zM137.3 92.5h1.2v1.2h-1.2zM127.0 92.4h1.2v1.2h-1.2zM143.5 88.1h1.2v1.2h-1.2zM139.6 86.3h1.2v1.2h-1.2zM126.1 88.1h1.2v1.2h-1.2zM130.0 99.0h1.2v1.2h-1.2zM131.3 94.6h1.2v1.2h-1.2zM137.2 89.5h1.2v1.2h-1.2zM141.9 85.4h1.2v1.2h-1.2zM143.4 89.2h1.2v1.2h-1.2zM122.5 91.8h1.2v1.2h-1.2zM140.3 89.7h1.2v1.2h-1.2zM149.1 86.0h1.2v1.2h-1.2zM139.9 90.8h1.2v1.2h-1.2zM127.8 93.4h1.2v1.2h-1.2zM123.0 85.3h1.2v1.2h-1.2zM140.0 84.5h1.2v1.2h-1.2zM134.5 83.1h1.2v1.2h-1.2zM136.1 84.7h1.2v1.2h-1.2zM138.4 83.1h1.2v1.2h-1.2zM139.4 87.3h1.2v1.2h-1.2zM136.1 88.3h1.2v1.2h-1.2zM136.6 84.0h1.2v1.2h-1.2zM113.4 90.7h1.2v1.2h-1.2zM127.5 87.8h1.2v1.2h-1.2zM139.2 81.5h1.2v1.2h-1.2zM128.9 87.1h1.2v1.2h-1.2zM126.4 90.5h1.2v1.2h-1.2zM134.3 85.9h1.2v1.2h-1.2zM127.0 92.1h1.2v1.2h-1.2zM129.8 91.1h1.2v1.2h-1.2zM139.4 81.8h1.2v1.2h-1.2zM126.2 89.4h1.2v1.2h-1.2zM138.4 91.0h1.2v1.2h-1.2zM142.4 91.5h1.2v1.2h-1.2zM132.3 88.2h1.2v1.2h-1.2zM142.2 86.6h1.2v1.2h-1.2zM144.6 82.4h1.2v1.2h-1.2zM141.1 87.5h1.2v1.2h-1.2zM118.6 93.5h1.2v1.2h-1.2zM138.2 88.4h1.2v1.2h-1.2zM126.2 87.8h1.2v1.2h-1.2zM148.5 84.6h1.2v1.2h-1.2zM105.6 88.3h1.2v1.2h-1.2zM125.2 89.1h1.2v1.2h-1.2zM132.1 85.8h1.2v1.2h-1.2zM128.3 92.8h1.2v1.2h-1.2zM123.1 96.4h1.2v1.2h-1.2zM130.8 85.3h1.2v1.2h-1.2zM142.3 89.9h1.2v1.2h-1.2zM126.5 92.0h1.2v1.2h-1.2zM119.7 86.9h1.2v1.2h-1.2zM145.2 86.9h1.2v1.2h-1.2zM124.3 91.4h1.2v1.2h-1.2zM143.4 87.8h1.2v1.2h-1.2zM120.0 88.8h1.2v1.2h-1.2zM139.1 90.9h1.2v1.2h-1.2zM151.4 86.3h1.2v1.2h-1.2zM131.4 88.8h1.2v1.2h-1.2zM145.9 84.5h1.2v1.2h-1.2zM146.7 78.2h1.2v1.2h-1.2zM142.4 85.7h1.2v1.2h-1.2zM139.4 90.6h1.2v1.2h-1.2zM125.3 89.2h1.2v1.2h-1.2zM137.6 90.4h1.2v1.2h-1.2zM127.5 85.9h1.2v1.2h-1.2zM119.0 98.8h1.2v1.2h-1.2zM133.8 88.0h1.2v1.2h-1.2zM122.6 92.9h1.2v1.2h-1.2zM130.9 93.9h1.2v1.2h-1.2zM142.8 88.0h1.2v1.2h-1.2zM141.8 84.2h1.2v1.2h-1.2zM132.7 86.9h1.2v1.2h-1.2zM124.6 89.6h1.2v1.2h-1.2zM134.3 93.6h1.2v1.2h-1.2zM106.7 88.9h1.2v1.2h-1.2zM127.6 87.7h1.2v1.2h-1.2zM139.1 89.7h1.2v1.2h-1.2zM135.7 87.0h1.2v1.2h-1.2zM139.8 89.4h1.2v1.2h-1.2zM119.7 89.1h1.2v1.2h-1.2zM123.7 85.6h1.2v1.2h-1.2zM136.8 88.7h1.2v1.2h-1.2zM136.5 85.5h1.2v1.2h-1.2zM133.8 85.6h1.2v1.2h-1.2zM138.8 90.7h1.2v1.2h-1.2zM150.6 91.6h1.2v1.2h-1.2zM128.6 87.7h1.2v1.2h-1.2zM127.4 90.4h1.2v1.2h-1.2zM152.5 89.5h1.2v1.2h-1.2zM116.6 86.0h1.2v1.2h-1.2zM124.4 91.4h1.2v1.2h-1.2zM135.5 89.6h1.2v1.2h-1.2zM150.8 84.4h1.2v1.2h-1.2zM128.2 96.0h1.2v1.2h-1.2zM138.4 85.7h1.2v1.2h-1.2zM118.1 85.0h1.2v1.2h-1.2zM114.5 90.7h1.2v1.2h-1.2zM135.9 92.0h1.2v1.2h-1.2zM134.3 86.3h1.2v1.2h-1.2zM129.1 95.7h1.2v1.2h-1.2zM120.3 90.6h1.2v1.2h-1.2zM135.7 90.7h1.2v1.2h-1.2zM132.0 90.6h1.2v1.2h-1.2zM142.5 87.5h1.2v1.2h-1.2zM131.6 88.3h1.2v1.2h-1.2zM127.2 88.6h1.2v1.2h-1.2zM132.9 89.6h1.2v1.2h-1.2zM147.0 92.0h1.2v1.2h-1.2zM131.7 91.0h1.2v1.2h-1.2zM138.0 91.0h1.2v1.2h-1.2zM135.7 89.5h1.2v1.2h-1.2zM131.5 86.3h1.2v1.2h-1.2zM143.0 92.4h1.2v1.2h-1.2zM141.2 89.6h1.2v1.2h-1.2zM137.8 86.9h1.2v1.2h-1.2zM120.2 92.2h1.2v1.2h-1.2zM137.2 86.6h1.2v1.2h-1.2zM127.2 93.7h1.2v1.2h-1.2zM120.0 96.0h1.2v1.2h-1.2zM141.0 96.2h1.2v1.2h-1.2zM129.3 89.1h1.2v1.2h-1.2zM131.1 89.5h1.2v1.2h-1.2zM133.7 86.2h1.2v1.2h-1.2zM144.7 85.1h1.2v1.2h-1.2zM131.1 90.9h1.2v1.2h-1.2zM130.9 87.5h1.2v1.2h-1.2zM138.6 87.1h1.2v1.2h-1.2zM124.8 89.2h1.2v1.2h-1.2zM133.6 94.6h1.2v1.2h-1.2zM126.1 92.8h1.2v1.2h-1.2zM128.7 88.0h1.2v1.2h-1.2zM132.7 89.8h1.2v1.2h-1.2zM142.9 93.9h1.2v1.2h-1.2zM130.0 93.6h1.2v1.2h-1.2zM144.1 90.6h1.2v1.2h-1.2zM129.0 92.3h1.2v1.2h-1.2zM134.6 89.9h1.2v1.2h-1.2zM133.2 91.1h1.2v1.2h-1.2zM145.1 91.6h1.2v1.2h-1.2zM133.7 92.2h1.2v1.2h-1.2zM148.0 84.3h1.2v1.2h-1.2zM148.2 82.9h1.2v1.2h-1.2zM140.2 90.2h1.2v1.2h-1.2zM148.3 88.4h1.2v1.2h-1.2zM131.4 86.2h1.2v1.2h-1.2zM124.7 92.2h1.2v1.2h-1.2zM133.5 86.3h1.2v1.2h-1.2zM140.1 85.6h1.2v1.2h-1.2zM131.7 87.4h1.2v1.2h-1.2zM149.7 92.3h1.2v1.2h-1.2zM134.1 83.4h1.2v1.2h-1.2zM137.9 88.6h1.2v1.2h-1.2zM138.5 90.3h1.2v1.2h-1.2zM132.7 92.0h1.2v1.2h-1.2zM142.7 88.7h1.2v1.2h-1.2zM132.0 87.3h1.2v1.2h-1.2zM141.5 84.3h1.2v1.2h-1.2zM134.1 86.2h1.2v1.2h-1.2zM123.5 91.7h1.2v1.2h-1.2zM135.3 88.7h1.2v1.2h-1.2zM143.0 82.8h1.2v1.2h-1.2zM134.9 89.6h1.2v1.2h-1.2zM142.7 84.3h1.2v1.2h-1.2zM141.7 88.8h1.2v1.2h-1.2zM147.2 91.4h1.2v1.2h-1.2zM140.2 95.5h1.2v1.2h-1.2zM135.5 87.2h1.2v1.2h-1.2zM132.6 85.7h1.2v1.2h-1.2zM135.3 82.2h1.2v1.2h-1.2zM134.8 90.1h1.2v1.2h-1.2zM144.0 86.7h1.2v1.2h-1.2zM147.4 85.3h1.2v1.2h-1.2zM134.3 82.3h1.2v1.2h-1.2zM129.0 86.5h1.2v1.2h-1.2zM148.0 89.2h1.2v1.2h-1.2zM126.2 91.2h1.2v1.2h-1.2zM139.5 87.5h1.2v1.2h-1.2zM135.7 87.6h1.2v1.2h-1.2zM130.9 83.1h1.2v1.2h-1.2zM134.7 93.0h1.2v1.2h-1.2zM147.5 86.6h1.2v1.2h-1.2zM129.2 88.5h1.2v1.2h-1.2zM143.0 89.1h1.2v1.2h-1.2zM130.6 90.2h1.2v1.2h-1.2zM133.8 90.5h1.2v1.2h-1.2zM132.1 84.0h1.2v1.2h-1.2zM136.0 91.1h1.2v1.2h-1.2zM126.2 89.1h1.2v1.2h-1.2zM142.9 86.7h1.2v1.2h-1.2zM130.0 95.8h1.2v1.2h-1.2zM142.5 91.4h1.2v1.2h-1.2zM127.6 94.7h1.2v1.2h-1.2zM121.6 88.1h1.2v1.2h-1.2zM141.7 92.5h1.2v1.2h-1.2zM127.7 87.1h1.2v1.2h-1.2zM137.1 82.0h1.2v1.2h-1.2zM140.8 90.0h1.2v1.2h-1.2zM131.8 90.7h1.2v1.2h-1.2zM142.0 89.0h1.2v1.2h-1.2zM139.9 93.2h1.2v1.2h-1.2zM131.5 89.5h1.2v1.2h-1.2zM131.1 92.4h1.2v1.2h-1.2zM132.1 90.5h1.2v1.2h-1.2zM136.6 88.7h1.2v1.2h-1.2zM149.8 87.0h1.2v1.2h-1.2zM147.3 90.3h1.2v1.2h-1.2zM146.5 87.1h1.2v1.2h-1.2zM143.2 90.4h1.2v1.2h-1.2zM130.4 89.9h1.2v1.2h-1.2zM134.4 88.6h1.2v1.2h-1.2zM146.3 85.3h1.2v1.2h-1.2zM121.5 84.1h1.2v1.2h-1.2zM131.7 86.8h1.2v1.2h-1.2zM135.6 90.5h1.2v1.2h-1.2zM150.1 88.3h1.2v1.2h-1.2zM139.3 85.8h1.2v1.2h-1.2zM140.3 92.6h1.2v1.2h-1.2zM146.6 81.2h1.2v1.2h-1.2zM142.9 93.2h1.2v1.2h-1.2zM142.4 83.1h1.2v1.2h-1.2zM133.0 90.8h1.2v1.2h-1.2zM138.9 85.6h1.2v1.2h-1.2zM128.1 92.4h1.2v1.2h-1.2zM124.4 94.3h1.2v1.2h-1.2zM135.7 89.6h1.2v1.2h-1.2zM124.5 87.6h1.2v1.2h-1.2zM141.2 83.3h1.2v1.2h-1.2zM152.6 82.5h1.2v1.2h-1.2zM125.4 89.6h1.2v1.2h-1.2zM139.5 90.7h1.2v1.2h-1.2zM132.4 88.2h1.2v1.2h-1.2zM133.5 86.9h1.2v1.2h-1.2zM114.2 93.7h1.2v1.2h-1.2zM137.6 88.9h1.2v1.2h-1.2zM130.3 89.9h1.2v1.2h-1.2zM135.4 88.4h1.2v1.2h-1.2zM144.6 82.1h1.2v1.2h-1.2zM137.6 84.9h1.2v1.2h-1.2zM132.9 93.8h1.2v1.2h-1.2zM126.5 89.1h1.2v1.2h-1.2zM130.6 92.2h1.2v1.2h-1.2zM127.4 83.8h1.2v1.2h-1.2zM139.7 87.1h1.2v1.2h-1.2zM132.9 92.4h1.2v1.2h-1.2zM128.2 88.0h1.2v1.2h-1.2zM136.7 89.8h1.2v1.2h-1.2zM131.2 92.4h1.2v1.2h-1.2zM154.0 85.6h1.2v1.2h-1.2zM150.9 80.3h1.2v1.2h-1.2zM147.1 86.4h1.2v1.2h-1.2zM136.6 87.4h1.2v1.2h-1.2zM130.2 84.9h1.2v1.2h-1.2zM132.2 93.1h1.2v1.2h-1.2zM144.9 86.6h1.2v1.2h-1.2zM131.1 86.7h1.2v1.2h-1.2zM125.6 95.4h1.2v1.2h-1.2zM141.0 88.5h1.2v1.2h-1.2zM131.4 85.6h1.2v1.2h-1.2zM146.4 90.2h1.2v1.2h-1.2zM127.6 92.5h1.2v1.2h-1.2zM126.4 91.5h1.2v1.2h-1.2zM127.6 88.0h1.2v1.2h-1.2zM139.6 89.7h1.2v1.2h-1.2zM143.9 85.1h1.2v1.2h-1.2zM148.5 91.8h1.2v1.2h-1.2zM135.4 90.1h1.2v1.2h-1.2zM129.1 88.7h1.2v1.2h-1.2zM124.6 89.9h1.2v1.2h-1.2zM137.1 92.9h1.2v1.2h-1.2zM143.3 90.6h1.2v1.2h-1.2zM132.5 88.1h1.2v1.2h-1.2zM132.7 89.6h1.2v1.2h-1.2zM119.6 92.6h1.2v1.2h-1.2zM122.6 88.1h1.2v1.2h-1.2zM135.7 86.9h1.2v1.2h-1.2zM149.2 87.1h1.2v1.2h-1.2zM148.5 91.3h1.2v1.2h-1.2zM131.4 90.3h1.2v1.2h-1.2zM146.2 86.5h1.2v1.2h-1.2zM136.2 86.7h1.2v1.2h-1.2zM136.0 87.4h1.2v1.2h-1.2zM136.2 91.8h1.2v1.2h-1.2zM147.0 88.0h1.2v1.2h-1.2zM137.2 91.3h1.2v1.2h-1.2zM133.1 85.3h1.2v1.2h-1.2zM144.7 84.7h1.2v1.2h-1.2zM143.2 84.8h1.2v1.2h-1.2zM150.6 83.8h1.2v1.2h-1.2zM142.5 92.9h1.2v1.2h-1.2zM127.6 94.2h1.2v1.2h-1.2zM128.7 83.4h1.2v1.2h-1.2zM141.5 90.4h1.2v1.2h-1.2zM133.8 80.5h1.2v1.2h-1.2zM135.0 87.6h1.2v1.2h-1.2zM132.4 87.9h1.2v1.2h-1.2zM120.7 88.1h1.2v1.2h-1.2zM150.4 92.3h1.2v1.2h-1.2zM132.5 86.5h1.2v1.2h-1.2zM138.8 91.8h1.2v1.2h-1.2zM141.5 84.2h1.2v1.2h-1.2zM136.8 88.9h1.2v1.2h-1.2zM147.4 91.5h1.2v1.2h-1.2zM139.8 92.2h1.2v1.2h-1.2zM132.2 93.9h1.2v1.2h-1.2zM132.0 90.2h1.2v1.2h-1.2zM143.1 84.9h1.2v1.2h-1.2zM129.7 83.4h1.2v1.2h-1.2zM136.9 88.3h1.2v1.2h-1.2zM132.8 90.5h1.2v1.2h-1.2zM118.0 90.1h1.2v1.2h-1.2zM136.2 87.7h1.2v1.2h-1.2zM142.1 93.8h1.2v1.2h-1.2zM131.8 85.8h1.2v1.2h-1.2zM130.5 89.4h1.2v1.2h-1.2zM140.3 85.3h1.2v1.2h-1.2zM143.8 84.5h1.2v1.2h-1.2zM142.3 89.4h1.2v1.2h-1.2zM139.3 95.3h1.2v1.2h-1.2zM133.3 88.3h1.2v1.2h-1.2zM139.4 91.1h1.2v1.2h-1.2zM124.4 90.5h1.2v1.2h-1.2zM129.4 91.2h1.2v1.2h-1.2zM146.8 87.8h1.2v1.2h-1.2zM134.6 89.3h1.2v1.2h-1.2zM111.1 93.3h1.2v1.2h-1.2zM140.1 88.7h1.2v1.2h-1.2zM132.2 86.5h1.2v1.2h-1.2zM134.0 92.7h1.2v1.2h-1.2zM134.7 93.1h1.2v1.2h-1.2zM114.3 89.0h1.2v1.2h-1.2zM137.8 88.4h1.2v1.2h-1.2zM121.8 87.6h1.2v1.2h-1.2zM145.8 83.4h1.2v1.2h-1.2zM127.3 85.7h1.2v1.2h-1.2zM130.9 91.1h1.2v1.2h-1.2zM140.4 81.5h1.2v1.2h-1.2zM147.6 85.6h1.2v1.2h-1.2zM130.6 94.5h1.2v1.2h-1.2zM134.8 84.6h1.2v1.2h-1.2zM130.2 86.7h1.2v1.2h-1.2zM127.2 88.3h1.2v1.2h-1.2zM142.7 89.1h1.2v1.2h-1.2zM124.1 98.8h1.2v1.2h-1.2zM127.3 89.7h1.2v1.2h-1.2zM135.8 91.1h1.2v1.2h-1.2zM132.8 90.3h1.2v1.2h-1.2zM152.9 87.4h1.2v1.2h-1.2zM126.6 90.5h1.2v1.2h-1.2zM128.9 88.0h1.2v1.2h-1.2zM137.1 89.6h1.2v1.2h-1.2zM133.2 91.6h1.2v1.2h-1.2zM133.9 84.5h1.2v1.2h-1.2zM142.7 86.8h1.2v1.2h-1.2zM145.5 85.6h1.2v1.2h-1.2zM140.2 89.2h1.2v1.2h-1.2zM113.2 85.7h1.2v1.2h-1.2zM126.3 94.0h1.2v1.2h-1.2zM119.9 93.0h1.2v1.2h-1.2zM144.5 89.4h1.2v1.2h-1.2zM141.1 86.5h1.2v1.2h-1.2zM135.4 89.3h1.2v1.2h-1.2zM139.0 90.6h1.2v1.2h-1.2zM133.8 86.5h1.2v1.2h-1.2zM130.9 90.4h1.2v1.2h-1.2zM121.8 85.7h1.2v1.2h-1.2zM132.1 87.1h1.2v1.2h-1.2zM133.3 80.1h1.2v1.2h-1.2zM132.7 88.0h1.2v1.2h-1.2zM141.9 81.5h1.2v1.2h-1.2zM133.0 90.4h1.2v1.2h-1.2zM139.5 92.2h1.2v1.2h-1.2zM144.2 84.4h1.2v1.2h-1.2zM140.8 87.0h1.2v1.2h-1.2zM128.9 94.2h1.2v1.2h-1.2zM130.3 86.3h1.2v1.2h-1.2zM132.1 86.1h1.2v1.2h-1.2zM143.8 89.1h1.2v1.2h-1.2zM147.1 88.9h1.2v1.2h-1.2zM130.4 92.5h1.2v1.2h-1.2zM130.1 87.6h1.2v1.2h-1.2zM134.1 88.9h1.2v1.2h-1.2zM145.4 85.7h1.2v1.2h-1.2zM138.4 88.2h1.2v1.2h-1.2zM125.1 85.9h1.2v1.2h-1.2zM133.7 90.1h1.2v1.2h-1.2zM138.2 89.9h1.2v1.2h-1.2zM135.9 87.1h1.2v1.2h-1.2zM139.0 85.0h1.2v1.2h-1.2zM124.4 88.5h1.2v1.2h-1.2zM123.7 88.0h1.2v1.2h-1.2zM129.3 87.3h1.2v1.2h-1.2zM135.1 86.0h1.2v1.2h-1.2zM132.0 83.3h1.2v1.2h-1.2zM136.7 85.6h1.2v1.2h-1.2zM138.9 79.0h1.2v1.2h-1.2zM128.9 90.0h1.2v1.2h-1.2zM115.3 89.2h1.2v1.2h-1.2zM136.3 88.9h1.2v1.2h-1.2zM123.1 90.5h1.2v1.2h-1.2zM136.7 85.3h1.2v1.2h-1.2zM141.7 87.9h1.2v1.2h-1.2zM135.7 87.1h1.2v1.2h-1.2zM140.0 88.5h1.2v1.2h-1.2zM144.9 89.2h1.2v1.2h-1.2zM130.4 88.3h1.2v1.2h-1.2zM143.1 86.7h1.2v1.2h-1.2zM138.7 90.0h1.2v1.2h-1.2zM134.0 81.1h1.2v1.2h-1.2zM136.6 89.2h1.2v1.2h-1.2zM136.6 86.0h1.2v1.2h-1.2zM145.5 87.3h1.2v1.2h-1.2zM130.3 86.7h1.2v1.2h-1.2zM138.5 84.7h1.2v1.2h-1.2zM127.2 95.9h1.2v1.2h-1.2zM146.4 91.1h1.2v1.2h-1.2zM146.9 89.5h1.2v1.2h-1.2zM121.5 93.8h1.2v1.2h-1.2zM145.8 89.3h1.2v1.2h-1.2zM119.2 94.2h1.2v1.2h-1.2zM146.9 86.0h1.2v1.2h-1.2zM136.6 91.1h1.2v1.2h-1.2zM134.8 92.3h1.2v1.2h-1.2zM136.2 90.8h1.2v1.2h-1.2zM136.2 83.6h1.2v1.2h-1.2zM127.2 99.8h1.2v1.2h-1.2zM137.8 92.7h1.2v1.2h-1.2zM145.0 93.4h1.2v1.2h-1.2zM140.1 86.2h1.2v1.2h-1.2zM135.7 82.2h1.2v1.2h-1.2zM133.9 91.7h1.2v1.2h-1.2zM117.5 90.9h1.2v1.2h-1.2zM142.4 92.4h1.2v1.2h-1.2zM127.8 87.1h1.2v1.2h-1.2zM119.9 86.6h1.2v1.2h-1.2zM140.0 95.1h1.2v1.2h-1.2zM125.9 94.0h1.2v1.2h-1.2zM139.1 86.6h1.2v1.2h-1.2zM153.8 78.6h1.2v1.2h-1.2zM134.9 89.4h1.2v1.2h-1.2zM153.3 93.0h1.2v1.2h-1.2zM154.4 87.4h1.2v1.2h-1.2zM143.7 92.4h1.2v1.2h-1.2zM139.8 89.4h1.2v1.2h-1.2zM134.0 87.4h1.2v1.2h-1.2zM125.2 96.0h1.2v1.2h-1.2zM131.8 82.0h1.2v1.2h-1.2zM137.7 88.3h1.2v1.2h-1.2zM137.0 94.5h1.2v1.2h-1.2zM134.6 87.8h1.2v1.2h-1.2zM129.3 89.1h1.2v1.2h-1.2zM131.8 89.6h1.2v1.2h-1.2zM161.6 87.6h1.2v1.2h-1.2zM128.3 95.6h1.2v1.2h-1.2zM142.7 90.7h1.2v1.2h-1.2zM141.5 90.8h1.2v1.2h-1.2zM141.1 92.8h1.2v1.2h-1.2zM143.9 92.3h1.2v1.2h-1.2zM131.3 89.0h1.2v1.2h-1.2zM129.4 92.3h1.2v1.2h-1.2zM142.5 86.4h1.2v1.2h-1.2zM140.4 96.9h1.2v1.2h-1.2zM145.9 84.0h1.2v1.2h-1.2zM134.7 90.8h1.2v1.2h-1.2zM135.2 89.9h1.2v1.2h-1.2zM145.4 88.8h1.2v1.2h-1.2zM126.3 91.8h1.2v1.2h-1.2zM134.7 89.1h1.2v1.2h-1.2zM130.8 84.4h1.2v1.2h-1.2zM125.1 88.4h1.2v1.2h-1.2zM126.5 80.4h1.2v1.2h-1.2zM145.1 83.9h1.2v1.2h-1.2zM129.4 90.9h1.2v1.2h-1.2zM115.3 94.9h1.2v1.2h-1.2zM129.1 91.4h1.2v1.2h-1.2zM131.5 90.0h1.2v1.2h-1.2zM136.4 88.5h1.2v1.2h-1.2zM120.2 85.1h1.2v1.2h-1.2zM135.2 93.3h1.2v1.2h-1.2zM130.9 90.8h1.2v1.2h-1.2zM136.9 90.1h1.2v1.2h-1.2zM143.8 82.9h1.2v1.2h-1.2zM137.8 87.8h1.2v1.2h-1.2zM132.9 86.0h1.2v1.2h-1.2zM128.9 85.8h1.2v1.2h-1.2zM126.3 97.8h1.2v1.2h-1.2zM149.7 87.4h1.2v1.2h-1.2zM141.7 84.8h1.2v1.2h-1.2zM112.2 84.6h1.2v1.2h-1.2zM136.7 93.3h1.2v1.2h-1.2zM135.1 85.3h1.2v1.2h-1.2zM133.5 85.5h1.2v1.2h-1.2zM123.8 88.9h1.2v1.2h-1.2zM132.2 86.2h1.2v1.2h-1.2zM128.1 86.2h1.2v1.2h-1.2zM137.5 93.1h1.2v1.2h-1.2zM133.7 96.2h1.2v1.2h-1.2zM121.9 90.7h1.2v1.2h-1.2zM125.8 88.9h1.2v1.2h-1.2zM136.4 90.4h1.2v1.2h-1.2zM145.0 85.9h1.2v1.2h-1.2zM125.1 88.9h1.2v1.2h-1.2zM138.0 86.1h1.2v1.2h-1.2zM143.0 93.5h1.2v1.2h-1.2zM123.6 90.9h1.2v1.2h-1.2zM144.0 81.4h1.2v1.2h-1.2zM137.2 87.7h1.2v1.2h-1.2zM123.6 94.0h1.2v1.2h-1.2zM137.3 86.8h1.2v1.2h-1.2zM139.2 90.4h1.2v1.2h-1.2zM141.9 90.0h1.2v1.2h-1.2zM138.9 84.4h1.2v1.2h-1.2zM132.0 89.3h1.2v1.2h-1.2zM112.3 97.8h1.2v1.2h-1.2zM132.3 85.4h1.2v1.2h-1.2zM120.3 90.8h1.2v1.2h-1.2zM135.8 86.6h1.2v1.2h-1.2zM132.0 86.0h1.2v1.2h-1.2zM129.2 88.8h1.2v1.2h-1.2zM130.1 91.3h1.2v1.2h-1.2zM134.3 89.1h1.2v1.2h-1.2zM138.9 92.5h1.2v1.2h-1.2zM140.5 88.9h1.2v1.2h-1.2zM134.1 86.0h1.2v1.2h-1.2zM132.6 91.1h1.2v1.2h-1.2zM137.4 87.1h1.2v1.2h-1.2zM124.3 84.5h1.2v1.2h-1.2zM138.2 91.8h1.2v1.2h-1.2zM138.6 83.7h1.2v1.2h-1.2zM133.7 89.5h1.2v1.2h-1.2zM127.8 90.4h1.2v1.2h-1.2zM133.8 86.0h1.2v1.2h-1.2zM125.1 92.2h1.2v1.2h-1.2zM138.5 85.4h1.2v1.2h-1.2zM127.0 92.3h1.2v1.2h-1.2zM140.5 87.1h1.2v1.2h-1.2zM148.8 86.4h1.2v1.2h-1.2zM126.6 93.0h1.2v1.2h-1.2zM133.9 89.9h1.2v1.2h-1.2zM135.8 85.2h1.2v1.2h-1.2zM125.6 88.8h1.2v1.2h-1.2zM147.3 84.2h1.2v1.2h-1.2zM146.9 88.3h1.2v1.2h-1.2zM126.2 90.3h1.2v1.2h-1.2zM140.3 85.2h1.2v1.2h-1.2zM117.7 91.4h1.2v1.2h-1.2zM126.2 90.9h1.2v1.2h-1.2zM119.5 89.6h1.2v1.2h-1.2zM128.7 84.3h1.2v1.2h-1.2zM133.5 89.3h1.2v1.2h-1.2zM130.8 85.1h1.2v1.2h-1.2zM137.3 82.6h1.2v1.2h-1.2zM140.0 89.8h1.2v1.2h-1.2zM149.5 90.3h1.2v1.2h-1.2zM138.5 89.2h1.2v1.2h-1.2zM135.7 84.2h1.2v1.2h-1.2zM147.7 89.3h1.2v1.2h-1.2zM133.1 85.0h1.2v1.2h-1.2zM147.9 89.3h1.2v1.2h-1.2zM125.6 91.7h1.2v1.2h-1.2zM151.3 87.1h1.2v1.2h-1.2zM138.8 86.9h1.2v1.2h-1.2zM130.2 92.6h1.2v1.2h-1.2zM161.2 86.7h1.2v1.2h-1.2zM134.5 91.3h1.2v1.2h-1.2zM133.0 91.2h1.2v1.2h-1.2zM142.4 84.6h1.2v1.2h-1.2zM126.5 89.2h1.2v1.2h-1.2zM142.5 88.9h1.2v1.2h-1.2zM145.9 83.1h1.2v1.2h-1.2zM139.6 86.2h1.2v1.2h-1.2zM136.3 89.6h1.2v1.2h-1.2zM127.4 88.6h1.2v1.2h-1.2zM125.8 90.4h1.2v1.2h-1.2zM128.4 87.6h1.2v1.2h-1.2zM137.3 86.3h1.2v1.2h-1.2zM145.1 85.6h1.2v1.2h-1.2zM142.6 88.9h1.2v1.2h-1.2zM126.9 88.7h1.2v1.2h-1.2zM128.5 88.0h1.2v1.2h-1.2zM133.2 94.8h1.2v1.2h-1.2zM132.0 94.1h1.2v1.2h-1.2zM139.2 83.9h1.2v1.2h-1.2zM116.2 92.6h1.2v1.2h-1.2zM118.9 92.5h1.2v1.2h-1.2zM144.1 89.1h1.2v1.2h-1.2zM133.8 87.9h1.2v1.2h-1.2zM137.7 87.4h1.2v1.2h-1.2zM131.0 87.8h1.2v1.2h-1.2zM145.3 85.7h1.2v1.2h-1.2zM138.7 84.5h1.2v1.2h-1.2zM129.6 84.6h1.2v1.2h-1.2zM133.9 91.0h1.2v1.2h-1.2zM138.0 86.7h1.2v1.2h-1.2zM140.6 87.0h1.2v1.2h-1.2zM138.6 89.2h1.2v1.2h-1.2zM140.0 80.0h1.2v1.2h-1.2zM124.7 92.1h1.2v1.2h-1.2zM134.6 96.1h1.2v1.2h-1.2zM133.5 87.0h1.2v1.2h-1.2zM147.9 89.3h1.2v1.2h-1.2zM151.3 88.9h1.2v1.2h-1.2zM133.8 91.1h1.2v1.2h-1.2zM128.9 87.7h1.2v1.2h-1.2zM130.9 88.3h1.2v1.2h-1.2zM142.0 86.4h1.2v1.2h-1.2zM138.2 86.7h1.2v1.2h-1.2zM142.8 78.8h1.2v1.2h-1.2zM133.8 89.3h1.2v1.2h-1.2zM126.5 92.7h1.2v1.2h-1.2zM137.3 92.7h1.2v1.2h-1.2zM143.5 90.0h1.2v1.2h-1.2zM134.3 85.1h1.2v1.2h-1.2zM133.7 87.2h1.2v1.2h-1.2zM137.6 86.9h1.2v1.2h-1.2zM160.9 81.1h1.2v1.2h-1.2zM145.3 86.2h1.2v1.2h-1.2zM133.5 91.8h1.2v1.2h-1.2zM135.5 84.6h1.2v1.2h-1.2zM138.9 87.6h1.2v1.2h-1.2zM118.4 90.8h1.2v1.2h-1.2zM126.7 86.9h1.2v1.2h-1.2zM139.5 89.2h1.2v1.2h-1.2zM133.1 96.0h1.2v1.2h-1.2zM139.0 86.3h1.2v1.2h-1.2zM137.5 88.0h1.2v1.2h-1.2zM117.2 85.0h1.2v1.2h-1.2zM124.0 96.4h1.2v1.2h-1.2zM134.0 87.8h1.2v1.2h-1.2zM130.8 92.3h1.2v1.2h-1.2zM135.7 94.2h1.2v1.2h-1.2zM142.0 93.4h1.2v1.2h-1.2zM134.5 89.9h1.2v1.2h-1.2zM131.9 88.4h1.2v1.2h-1.2zM121.1 88.0h1.2v1.2h-1.2zM127.6 87.2h1.2v1.2h-1.2zM145.6 88.6h1.2v1.2h-1.2zM145.7 90.5h1.2v1.2h-1.2zM143.1 91.2h1.2v1.2h-1.2zM130.5 91.7h1.2v1.2h-1.2zM132.8 87.1h1.2v1.2h-1.2zM145.4 94.8h1.2v1.2h-1.2zM127.4 95.0h1.2v1.2h-1.2zM142.4 85.2h1.2v1.2h-1.2zM137.8 89.6h1.2v1.2h-1.2zM138.6 87.1h1.2v1.2h-1.2zM124.8 89.7h1.2v1.2h-1.2zM142.6 90.5h1.2v1.2h-1.2zM141.0 91.7h1.2v1.2h-1.2zM127.3 89.2h1.2v1.2h-1.2zM138.3 91.6h1.2v1.2h-1.2zM136.8 90.2h1.2v1.2h-1.2zM136.6 95.4h1.2v1.2h-1.2zM117.4 90.1h1.2v1.2h-1.2zM156.0 87.5h1.2v1.2h-1.2zM120.3 90.4h1.2v1.2h-1.2zM123.6 87.4h1.2v1.2h-1.2zM137.4 94.1h1.2v1.2h-1.2zM139.3 90.5h1.2v1.2h-1.2zM143.9 88.5h1.2v1.2h-1.2zM128.4 88.9h1.2v1.2h-1.2zM138.3 87.4h1.2v1.2h-1.2zM130.0 87.9h1.2v1.2h-1.2zM123.1 86.3h1.2v1.2h-1.2zM134.7 87.5h1.2v1.2h-1.2zM135.8 93.2h1.2v1.2h-1.2zM138.0 88.3h1.2v1.2h-1.2zM125.8 85.9h1.2v1.2h-1.2zM138.6 85.5h1.2v1.2h-1.2zM139.1 84.8h1.2v1.2h-1.2zM136.6 88.3h1.2v1.2h-1.2zM143.7 86.6h1.2v1.2h-1.2zM132.4 89.7h1.2v1.2h-1.2zM136.0 94.1h1.2v1.2h-1.2zM133.4 87.0h1.2v1.2h-1.2zM132.9 90.4h1.2v1.2h-1.2zM137.4 90.7h1.2v1.2h-1.2zM124.0 97.8h1.2v1.2h-1.2zM150.7 87.1h1.2v1.2h-1.2zM125.5 90.0h1.2v1.2h-1.2zM138.9 81.0h1.2v1.2h-1.2zM135.6 83.7h1.2v1.2h-1.2zM139.3 92.8h1.2v1.2h-1.2zM144.1 82.9h1.2v1.2h-1.2zM146.9 90.6h1.2v1.2h-1.2zM132.5 90.5h1.2v1.2h-1.2zM148.1 86.4h1.2v1.2h-1.2zM135.4 86.8h1.2v1.2h-1.2zM145.1 80.7h1.2v1.2h-1.2zM147.2 84.4h1.2v1.2h-1.2zM143.2 82.6h1.2v1.2h-1.2zM127.7 87.3h1.2v1.2h-1.2zM142.4 82.7h1.2v1.2h-1.2zM140.5 86.1h1.2v1.2h-1.2zM145.8 86.7h1.2v1.2h-1.2zM139.5 87.7h1.2v1.2h-1.2zM150.3 86.1h1.2v1.2h-1.2zM135.3 95.1h1.2v1.2h-1.2zM136.1 90.8h1.2v1.2h-1.2zM129.4 89.8h1.2v1.2h-1.2zM116.7 90.6h1.2v1.2h-1.2zM130.1 84.1h1.2v1.2h-1.2zM123.8 93.4h1.2v1.2h-1.2zM139.0 83.3h1.2v1.2h-1.2zM150.5 85.0h1.2v1.2h-1.2zM132.4 89.7h1.2v1.2h-1.2zM126.1 84.1h1.2v1.2h-1.2zM129.3 93.0h1.2v1.2h-1.2zM143.4 82.7h1.2v1.2h-1.2zM145.5 87.8h1.2v1.2h-1.2zM139.6 88.4h1.2v1.2h-1.2zM138.9 85.0h1.2v1.2h-1.2zM128.0 87.0h1.2v1.2h-1.2zM132.5 90.9h1.2v1.2h-1.2zM125.4 94.7h1.2v1.2h-1.2zM130.3 87.1h1.2v1.2h-1.2zM141.3 89.5h1.2v1.2h-1.2zM132.7 85.3h1.2v1.2h-1.2zM127.2 84.1h1.2v1.2h-1.2zM145.0 91.3h1.2v1.2h-1.2zM151.0 88.9h1.2v1.2h-1.2zM138.3 90.8h1.2v1.2h-1.2zM143.4 87.0h1.2v1.2h-1.2zM138.4 95.4h1.2v1.2h-1.2zM121.5 85.2h1.2v1.2h-1.2zM127.5 91.8h1.2v1.2h-1.2zM145.3 86.6h1.2v1.2h-1.2zM141.1 87.9h1.2v1.2h-1.2zM138.0 86.6h1.2v1.2h-1.2zM135.3 88.6h1.2v1.2h-1.2zM144.9 95.1h1.2v1.2h-1.2zM120.5 91.7h1.2v1.2h-1.2zM135.5 91.8h1.2v1.2h-1.2zM144.3 90.4h1.2v1.2h-1.2zM142.2 84.9h1.2v1.2h-1.2zM121.4 95.4h1.2v1.2h-1.2zM145.5 84.6h1.2v1.2h-1.2zM146.2 89.8h1.2v1.2h-1.2zM115.2 93.4h1.2v1.2h-1.2zM127.3 93.2h1.2v1.2h-1.2zM129.9 86.7h1.2v1.2h-1.2zM122.7 89.0h1.2v1.2h-1.2zM143.9 85.6h1.2v1.2h-1.2zM120.1 97.0h1.2v1.2h-1.2zM150.8 89.5h1.2v1.2h-1.2zM131.0 85.0h1.2v1.2h-1.2zM121.9 91.7h1.2v1.2h-1.2zM146.3 84.1h1.2v1.2h-1.2zM135.5 87.7h1.2v1.2h-1.2zM133.4 90.4h1.2v1.2h-1.2zM152.8 85.0h1.2v1.2h-1.2zM142.5 91.6h1.2v1.2h-1.2zM133.1 88.3h1.2v1.2h-1.2zM124.4 93.1h1.2v1.2h-1.2zM131.1 86.8h1.2v1.2h-1.2zM136.1 85.7h1.2v1.2h-1.2zM126.9 88.4h1.2v1.2h-1.2zM147.8 86.8h1.2v1.2h-1.2zM139.9 83.4h1.2v1.2h-1.2zM119.4 96.0h1.2v1.2h-1.2zM132.2 83.8h1.2v1.2h-1.2zM134.6 90.7h1.2v1.2h-1.2zM121.2 87.0h1.2v1.2h-1.2zM137.7 85.4h1.2v1.2h-1.2zM142.1 91.2h1.2v1.2h-1.2zM139.2 86.9h1.2v1.2h-1.2zM135.1 86.6h1.2v1.2h-1.2zM134.4 89.7h1.2v1.2h-1.2zM133.0 92.0h1.2v1.2h-1.2zM157.0 84.9h1.2v1.2h-1.2zM138.3 91.1h1.2v1.2h-1.2zM140.8 87.3h1.2v1.2h-1.2zM131.5 92.3h1.2v1.2h-1.2zM140.7 89.8h1.2v1.2h-1.2zM128.8 91.3h1.2v1.2h-1.2zM142.1 87.4h1.2v1.2h-1.2zM140.9 95.3h1.2v1.2h-1.2zM119.9 92.0h1.2v1.2h-1.2zM125.8 85.0h1.2v1.2h-1.2zM133.5 90.6h1.2v1.2h-1.2zM135.9 84.7h1.2v1.2h-1.2zM123.5 87.8h1.2v1.2h-1.2zM135.6 85.8h1.2v1.2h-1.2zM123.0 95.5h1.2v1.2h-1.2zM128.5 88.7h1.2v1.2h-1.2zM130.9 87.1h1.2v1.2h-1.2zM135.8 87.6h1.2v1.2h-1.2zM140.7 84.2h1.2v1.2h-1.2zM123.1 96.1h1.2v1.2h-1.2zM134.9 91.2h1.2v1.2h-1.2zM145.3 89.6h1.2v1.2h-1.2zM135.8 83.4h1.2v1.2h-1.2zM122.2 93.0h1.2v1.2h-1.2zM141.1 90.0h1.2v1.2h-1.2zM121.7 82.8h1.2v1.2h-1.2zM126.7 85.5h1.2v1.2h-1.2zM136.8 85.1h1.2v1.2h-1.2zM148.7 85.4h1.2v1.2h-1.2zM130.8 91.9h1.2v1.2h-1.2zM138.2 85.4h1.2v1.2h-1.2zM142.3 94.3h1.2v1.2h-1.2zM125.3 88.7h1.2v1.2h-1.2zM126.5 83.0h1.2v1.2h-1.2zM140.7 90.4h1.2v1.2h-1.2zM143.6 89.3h1.2v1.2h-1.2zM118.7 90.0h1.2v1.2h-1.2zM129.9 85.2h1.2v1.2h-1.2zM126.3 92.0h1.2v1.2h-1.2zM133.0 95.3h1.2v1.2h-1.2zM139.4 81.9h1.2v1.2h-1.2zM143.0 92.1h1.2v1.2h-1.2zM135.8 84.6h1.2v1.2h-1.2zM150.3 82.9h1.2v1.2h-1.2zM134.8 82.3h1.2v1.2h-1.2zM125.0 83.9h1.2v1.2h-1.2zM144.6 91.7h1.2v1.2h-1.2zM132.1 84.4h1.2v1.2h-1.2zM135.0 89.9h1.2v1.2h-1.2zM122.7 85.9h1.2v1.2h-1.2zM134.6 91.0h1.2v1.2h-1.2zM136.1 90.0h1.2v1.2h-1.2zM125.0 81.3h1.2v1.2h-1.2zM138.1 85.3h1.2v1.2h-1.2zM134.5 87.4h1.2v1.2h-1.2zM139.5 85.7h1.2v1.2h-1.2zM147.6 87.6h1.2v1.2h-1.2zM139.9 90.3h1.2v1.2h-1.2zM144.2 89.2h1.2v1.2h-1.2zM120.8 87.8h1.2v1.2h-1.2zM151.1 88.8h1.2v1.2h-1.2zM140.2 89.7h1.2v1.2h-1.2zM130.1 86.8h1.2v1.2h-1.2zM130.1 93.0h1.2v1.2h-1.2zM138.6 94.3h1.2v1.2h-1.2zM139.7 94.5h1.2v1.2h-1.2zM139.3 84.3h1.2v1.2h-1.2zM150.1 88.4h1.2v1.2h-1.2zM145.5 88.4h1.2v1.2h-1.2zM132.7 89.4h1.2v1.2h-1.2zM126.0 85.4h1.2v1.2h-1.2zM128.0 87.5h1.2v1.2h-1.2zM124.1 89.3h1.2v1.2h-1.2zM138.1 95.2h1.2v1.2h-1.2zM151.0 87.0h1.2v1.2h-1.2zM143.0 87.2h1.2v1.2h-1.2zM138.8 88.2h1.2v1.2h-1.2zM130.9 89.3h1.2v1.2h-1.2zM123.0 91.2h1.2v1.2h-1.2zM133.1 85.2h1.2v1.2h-1.2zM132.5 90.7h1.2v1.2h-1.2zM129.8 90.7h1.2v1.2h-1.2zM140.3 93.4h1.2v1.2h-1.2zM126.3 89.1h1.2v1.2h-1.2zM139.8 93.3h1.2v1.2h-1.2zM137.7 90.9h1.2v1.2h-1.2zM123.1 87.8h1.2v1.2h-1.2zM149.6 86.4h1.2v1.2h-1.2zM153.8 84.5h1.2v1.2h-1.2zM133.1 83.4h1.2v1.2h-1.2zM140.9 89.0h1.2v1.2h-1.2zM152.6 87.6h1.2v1.2h-1.2zM133.4 84.0h1.2v1.2h-1.2zM134.8 91.9h1.2v1.2h-1.2zM141.8 92.2h1.2v1.2h-1.2zM142.8 87.8h1.2v1.2h-1.2zM140.6 88.7h1.2v1.2h-1.2zM124.2 95.4h1.2v1.2h-1.2zM138.7 84.8h1.2v1.2h-1.2zM138.8 89.3h1.2v1.2h-1.2zM144.0 92.7h1.2v1.2h-1.2zM109.7 92.8h1.2v1.2h-1.2zM148.5 84.2h1.2v1.2h-1.2zM119.7 91.0h1.2v1.2h-1.2zM138.4 89.5h1.2v1.2h-1.2zM126.1 87.9h1.2v1.2h-1.2zM137.2 91.0h1.2v1.2h-1.2zM154.2 87.9h1.2v1.2h-1.2zM130.4 81.1h1.2v1.2h-1.2zM144.6 87.3h1.2v1.2h-1.2zM134.6 85.3h1.2v1.2h-1.2zM141.8 82.0h1.2v1.2h-1.2zM136.4 88.9h1.2v1.2h-1.2zM138.1 92.8h1.2v1.2h-1.2zM134.7 89.0h1.2v1.2h-1.2zM142.8 82.7h1.2v1.2h-1.2zM133.0 89.1h1.2v1.2h-1.2zM143.6 85.2h1.2v1.2h-1.2zM142.4 89.3h1.2v1.2h-1.2zM122.8 84.7h1.2v1.2h-1.2zM123.3 90.2h1.2v1.2h-1.2zM137.3 90.9h1.2v1.2h-1.2zM142.5 86.1h1.2v1.2h-1.2zM144.6 90.6h1.2v1.2h-1.2zM139.5 89.9h1.2v1.2h-1.2zM124.5 90.8h1.2v1.2h-1.2zM126.7 85.3h1.2v1.2h-1.2zM132.5 89.3h1.2v1.2h-1.2zM135.0 87.5h1.2v1.2h-1.2zM127.0 90.0h1.2v1.2h-1.2zM129.2 84.4h1.2v1.2h-1.2zM136.3 93.5h1.2v1.2h-1.2zM132.0 85.3h1.2v1.2h-1.2zM147.3 93.4h1.2v1.2h-1.2zM133.0 88.1h1.2v1.2h-1.2zM137.3 98.5h1.2v1.2h-1.2zM136.6 91.9h1.2v1.2h-1.2zM139.3 82.1h1.2v1.2h-1.2zM126.1 85.3h1.2v1.2h-1.2zM139.2 88.6h1.2v1.2h-1.2zM150.8 86.3h1.2v1.2h-1.2zM138.1 88.6h1.2v1.2h-1.2zM136.7 96.4h1.2v1.2h-1.2zM137.9 93.4h1.2v1.2h-1.2zM146.6 85.5h1.2v1.2h-1.2zM141.4 86.8h1.2v1.2h-1.2zM136.4 89.1h1.2v1.2h-1.2zM135.7 87.0h1.2v1.2h-1.2zM148.8 86.5h1.2v1.2h-1.2zM141.5 93.8h1.2v1.2h-1.2zM140.9 91.6h1.2v1.2h-1.2zM147.4 91.2h1.2v1.2h-1.2zM150.2 82.4h1.2v1.2h-1.2zM152.3 87.2h1.2v1.2h-1.2zM120.5 87.8h1.2v1.2h-1.2zM123.5 89.6h1.2v1.2h-1.2zM122.7 86.3h1.2v1.2h-1.2zM138.0 88.9h1.2v1.2h-1.2zM128.7 88.4h1.2v1.2h-1.2zM134.7 88.9h1.2v1.2h-1.2zM135.4 87.9h1.2v1.2h-1.2zM143.0 82.5h1.2v1.2h-1.2zM131.3 89.4h1.2v1.2h-1.2zM132.1 87.0h1.2v1.2h-1.2zM131.7 89.6h1.2v1.2h-1.2zM146.2 87.0h1.2v1.2h-1.2zM133.2 90.0h1.2v1.2h-1.2zM133.4 82.2h1.2v1.2h-1.2zM137.8 87.1h1.2v1.2h-1.2zM130.6 91.2h1.2v1.2h-1.2zM135.9 86.6h1.2v1.2h-1.2zM116.8 84.4h1.2v1.2h-1.2zM135.6 88.2h1.2v1.2h-1.2zM139.3 89.0h1.2v1.2h-1.2zM131.4 84.7h1.2v1.2h-1.2zM126.1 89.0h1.2v1.2h-1.2zM125.6 92.1h1.2v1.2h-1.2zM124.1 83.5h1.2v1.2h-1.2zM133.8 82.7h1.2v1.2h-1.2zM149.5 84.0h1.2v1.2h-1.2zM135.1 87.8h1.2v1.2h-1.2zM128.5 83.2h1.2v1.2h-1.2zM119.5 93.0h1.2v1.2h-1.2zM144.3 95.2h1.2v1.2h-1.2zM122.9 91.6h1.2v1.2h-1.2zM135.4 91.5h1.2v1.2h-1.2zM131.1 91.5h1.2v1.2h-1.2zM143.2 90.0h1.2v1.2h-1.2zM147.9 86.9h1.2v1.2h-1.2zM148.8 85.0h1.2v1.2h-1.2zM149.8 77.9h1.2v1.2h-1.2zM135.6 85.9h1.2v1.2h-1.2zM135.5 92.1h1.2v1.2h-1.2zM141.7 88.4h1.2v1.2h-1.2zM150.1 82.3h1.2v1.2h-1.2zM128.5 94.4h1.2v1.2h-1.2zM138.3 81.3h1.2v1.2h-1.2zM138.4 84.3h1.2v1.2h-1.2zM148.2 91.4h1.2v1.2h-1.2zM130.8 93.4h1.2v1.2h-1.2zM128.3 92.4h1.2v1.2h-1.2zM140.5 87.7h1.2v1.2h-1.2zM123.3 88.7h1.2v1.2h-1.2zM115.8 88.4h1.2v1.2h-1.2zM119.6 94.2h1.2v1.2h-1.2zM127.2 81.0h1.2v1.2h-1.2zM140.5 89.4h1.2v1.2h-1.2zM131.1 96.2h1.2v1.2h-1.2zM142.2 88.2h1.2v1.2h-1.2zM130.0 79.0h1.2v1.2h-1.2zM139.6 91.5h1.2v1.2h-1.2zM130.4 84.2h1.2v1.2h-1.2zM135.1 82.9h1.2v1.2h-1.2zM135.6 91.2h1.2v1.2h-1.2zM148.5 88.3h1.2v1.2h-1.2zM137.2 91.0h1.2v1.2h-1.2zM147.5 86.4h1.2v1.2h-1.2zM124.9 86.8h1.2v1.2h-1.2zM124.7 86.5h1.2v1.2h-1.2zM134.5 89.9h1.2v1.2h-1.2zM136.8 88.7h1.2v1.2h-1.2zM132.4 90.3h1.2v1.2h-1.2zM143.1 90.5h1.2v1.2h-1.2zM148.4 86.5h1.2v1.2h-1.2zM133.3 94.6h1.2v1.2h-1.2zM137.2 89.9h1.2v1.2h-1.2zM132.6 92.2h1.2v1.2h-1.2zM132.0 85.5h1.2v1.2h-1.2zM135.0 87.1h1.2v1.2h-1.2zM142.7 86.7h1.2v1.2h-1.2zM136.6 87.8h1.2v1.2h-1.2zM138.4 86.2h1.2v1.2h-1.2zM145.0 82.9h1.2v1.2h-1.2zM132.2 86.5h1.2v1.2h-1.2zM141.1 88.2h1.2v1.2h-1.2zM139.7 87.1h1.2v1.2h-1.2zM129.3 85.3h1.2v1.2h-1.2zM132.6 87.0h1.2v1.2h-1.2zM137.9 89.6h1.2v1.2h-1.2zM143.9 87.5h1.2v1.2h-1.2zM129.1 85.6h1.2v1.2h-1.2zM136.0 89.8h1.2v1.2h-1.2zM152.3 87.7h1.2v1.2h-1.2zM150.6 93.6h1.2v1.2h-1.2zM126.5 93.5h1.2v1.2h-1.2zM145.3 92.3h1.2v1.2h-1.2zM135.4 91.9h1.2v1.2h-1.2zM131.4 88.7h1.2v1.2h-1.2zM135.7 94.7h1.2v1.2h-1.2zM133.6 92.0h1.2v1.2h-1.2zM136.1 86.1h1.2v1.2h-1.2zM137.6 90.7h1.2v1.2h-1.2zM129.4 91.3h1.2v1.2h-1.2zM129.4 86.2h1.2v1.2h-1.2zM137.4 87.6h1.2v1.2h-1.2zM127.0 83.8h1.2v1.2h-1.2zM135.7 89.4h1.2v1.2h-1.2zM131.5 89.6h1.2v1.2h-1.2zM122.4 91.1h1.2v1.2h-1.2zM139.1 89.2h1.2v1.2h-1.2zM130.2 89.3h1.2v1.2h-1.2zM136.6 92.2h1.2v1.2h-1.2zM137.9 89.3h1.2v1.2h-1.2zM129.3 92.1h1.2v1.2h-1.2zM145.6 86.0h1.2v1.2h-1.2zM141.0 89.2h1.2v1.2h-1.2zM135.1 84.2h1.2v1.2h-1.2zM150.6 80.9h1.2v1.2h-1.2zM138.1 87.1h1.2v1.2h-1.2zM145.3 86.3h1.2v1.2h-1.2zM135.8 90.7h1.2v1.2h-1.2zM139.4 86.5h1.2v1.2h-1.2zM141.4 89.4h1.2v1.2h-1.2zM144.0 86.1h1.2v1.2h-1.2zM135.1 87.3h1.2v1.2h-1.2zM128.3 90.1h1.2v1.2h-1.2zM139.0 93.1h1.2v1.2h-1.2zM132.7 90.2h1.2v1.2h-1.2zM145.3 87.3h1.2v1.2h-1.2zM136.0 89.0h1.2v1.2h-1.2zM129.6 85.8h1.2v1.2h-1.2zM145.1 88.3h1.2v1.2h-1.2zM134.9 84.4h1.2v1.2h-1.2zM136.5 92.5h1.2v1.2h-1.2zM125.6 86.4h1.2v1.2h-1.2zM145.0 92.6h1.2v1.2h-1.2zM148.8 85.5h1.2v1.2h-1.2zM140.6 85.6h1.2v1.2h-1.2zM140.0 87.0h1.2v1.2h-1.2zM137.2 93.0h1.2v1.2h-1.2zM138.4 87.5h1.2v1.2h-1.2zM136.0 89.5h1.2v1.2h-1.2zM131.1 89.7h1.2v1.2h-1.2zM140.6 93.4h1.2v1.2h-1.2zM117.9 86.1h1.2v1.2h-1.2zM124.9 92.5h1.2v1.2h-1.2zM156.4 87.4h1.2v1.2h-1.2zM136.5 92.4h1.2v1.2h-1.2zM114.6 89.9h1.2v1.2h-1.2zM108.9 91.5h1.2v1.2h-1.2zM131.2 87.3h1.2v1.2h-1.2zM138.4 86.4h1.2v1.2h-1.2zM145.0 87.7h1.2v1.2h-1.2zM138.8 96.9h1.2v1.2h-1.2zM131.7 92.1h1.2v1.2h-1.2zM128.4 93.5h1.2v1.2h-1.2zM143.7 88.3h1.2v1.2h-1.2zM144.0 93.3h1.2v1.2h-1.2zM147.3 87.6h1.2v1.2h-1.2zM135.0 92.4h1.2v1.2h-1.2zM122.9 87.7h1.2v1.2h-1.2zM139.6 90.2h1.2v1.2h-1.2zM151.4 93.1h1.2v1.2h-1.2zM138.3 89.8h1.2v1.2h-1.2zM124.3 89.0h1.2v1.2h-1.2zM137.7 87.6h1.2v1.2h-1.2zM136.0 90.6h1.2v1.2h-1.2zM127.4 87.4h1.2v1.2h-1.2zM120.4 93.8h1.2v1.2h-1.2zM126.5 83.6h1.2v1.2h-1.2zM142.1 87.3h1.2v1.2h-1.2zM143.7 86.6h1.2v1.2h-1.2zM153.6 89.4h1.2v1.2h-1.2zM136.8 88.9h1.2v1.2h-1.2zM133.7 91.5h1.2v1.2h-1.2zM152.5 85.7h1.2v1.2h-1.2zM126.2 91.4h1.2v1.2h-1.2zM144.6 82.7h1.2v1.2h-1.2zM129.6 85.8h1.2v1.2h-1.2zM140.3 89.9h1.2v1.2h-1.2zM129.3 85.4h1.2v1.2h-1.2zM141.3 81.1h1.2v1.2h-1.2zM141.0 87.6h1.2v1.2h-1.2zM151.8 90.5h1.2v1.2h-1.2zM130.6 88.1h1.2v1.2h-1.2zM133.1 86.4h1.2v1.2h-1.2zM136.2 91.8h1.2v1.2h-1.2zM122.7 89.0h1.2v1.2h-1.2zM148.2 90.0h1.2v1.2h-1.2zM128.6 86.5h1.2v1.2h-1.2zM128.3 83.8h1.2v1.2h-1.2zM145.3 88.0h1.2v1.2h-1.2zM129.6 84.3h1.2v1.2h-1.2zM132.2 87.2h1.2v1.2h-1.2zM150.1 85.7h1.2v1.2h-1.2zM136.5 92.1h1.2v1.2h-1.2zM141.2 87.5h1.2v1.2h-1.2zM117.0 95.0h1.2v1.2h-1.2zM140.6 86.7h1.2v1.2h-1.2zM134.7 85.5h1.2v1.2h-1.2zM127.9 84.3h1.2v1.2h-1.2zM139.7 90.0h1.2v1.2h-1.2zM137.0 91.1h1.2v1.2h-1.2zM140.0 88.6h1.2v1.2h-1.2zM128.0 91.3h1.2v1.2h-1.2zM145.5 89.8h1.2v1.2h-1.2zM146.0 86.1h1.2v1.2h-1.2zM127.2 93.5h1.2v1.2h-1.2zM130.6 89.9h1.2v1.2h-1.2zM133.9 88.8h1.2v1.2h-1.2zM133.2 87.0h1.2v1.2h-1.2zM120.4 96.3h1.2v1.2h-1.2zM137.2 82.0h1.2v1.2h-1.2zM127.8 85.5h1.2v1.2h-1.2zM129.2 80.6h1.2v1.2h-1.2zM140.4 93.7h1.2v1.2h-1.2zM133.4 91.3h1.2v1.2h-1.2zM140.6 84.0h1.2v1.2h-1.2zM145.8 82.0h1.2v1.2h-1.2zM130.6 87.8h1.2v1.2h-1.2zM146.1 88.0h1.2v1.2h-1.2zM134.5 86.0h1.2v1.2h-1.2zM136.3 88.7h1.2v1.2h-1.2zM141.7 92.7h1.2v1.2h-1.2zM141.7 88.1h1.2v1.2h-1.2zM134.2 94.1h1.2v1.2h-1.2zM137.2 88.4h1.2v1.2h-1.2zM150.6 92.5h1.2v1.2h-1.2zM140.3 87.8h1.2v1.2h-1.2zM130.2 92.6h1.2v1.2h-1.2zM131.7 92.2h1.2v1.2h-1.2zM128.9 89.5h1.2v1.2h-1.2zM138.9 88.8h1.2v1.2h-1.2zM137.5 89.7h1.2v1.2h-1.2zM126.1 85.7h1.2v1.2h-1.2zM134.3 94.7h1.2v1.2h-1.2zM134.5 85.6h1.2v1.2h-1.2zM130.0 89.2h1.2v1.2h-1.2zM145.4 85.8h1.2v1.2h-1.2zM140.2 88.8h1.2v1.2h-1.2zM132.5 85.7h1.2v1.2h-1.2zM134.2 86.3h1.2v1.2h-1.2zM140.0 82.3h1.2v1.2h-1.2zM145.0 90.3h1.2v1.2h-1.2zM140.4 93.2h1.2v1.2h-1.2zM140.6 82.4h1.2v1.2h-1.2zM135.9 90.1h1.2v1.2h-1.2zM129.8 85.3h1.2v1.2h-1.2zM139.1 90.0h1.2v1.2h-1.2zM131.9 88.1h1.2v1.2h-1.2zM131.2 87.1h1.2v1.2h-1.2zM135.0 92.2h1.2v1.2h-1.2zM122.0 88.7h1.2v1.2h-1.2zM149.0 88.4h1.2v1.2h-1.2zM136.8 91.3h1.2v1.2h-1.2zM127.1 85.3h1.2v1.2h-1.2zM121.6 85.0h1.2v1.2h-1.2zM137.6 91.2h1.2v1.2h-1.2zM132.0 86.6h1.2v1.2h-1.2zM138.9 90.3h1.2v1.2h-1.2zM137.7 82.1h1.2v1.2h-1.2zM130.9 80.6h1.2v1.2h-1.2zM137.5 85.6h1.2v1.2h-1.2zM130.0 94.1h1.2v1.2h-1.2zM146.6 89.2h1.2v1.2h-1.2zM137.8 89.0h1.2v1.2h-1.2zM130.6 88.9h1.2v1.2h-1.2zM151.5 84.3h1.2v1.2h-1.2zM130.0 89.6h1.2v1.2h-1.2zM143.0 90.7h1.2v1.2h-1.2zM127.4 88.9h1.2v1.2h-1.2zM133.3 84.7h1.2v1.2h-1.2zM136.1 86.9h1.2v1.2h-1.2zM143.2 89.4h1.2v1.2h-1.2zM129.0 89.5h1.2v1.2h-1.2zM132.5 86.8h1.2v1.2h-1.2zM131.4 92.5h1.2v1.2h-1.2zM132.0 83.2h1.2v1.2h-1.2zM129.0 91.9h1.2v1.2h-1.2zM153.5 83.5h1.2v1.2h-1.2zM132.5 87.8h1.2v1.2h-1.2zM123.7 91.0h1.2v1.2h-1.2zM135.1 89.6h1.2v1.2h-1.2zM154.2 86.0h1.2v1.2h-1.2zM142.1 90.8h1.2v1.2h-1.2zM130.2 87.1h1.2v1.2h-1.2zM148.5 89.8h1.2v1.2h-1.2zM136.7 84.9h1.2v1.2h-1.2zM142.9 89.7h1.2v1.2h-1.2zM153.9 91.8h1.2v1.2h-1.2zM142.2 88.9h1.2v1.2h-1.2zM136.0 86.7h1.2v1.2h-1.2zM138.1 89.2h1.2v1.2h-1.2zM141.0 91.7h1.2v1.2h-1.2zM138.1 86.6h1.2v1.2h-1.2zM142.3 93.2h1.2v1.2h-1.2zM128.5 90.6h1.2v1.2h-1.2zM140.1 90.0h1.2v1.2h-1.2zM139.7 87.9h1.2v1.2h-1.2zM134.7 94.3h1.2v1.2h-1.2zM156.9 77.7h1.2v1.2h-1.2zM102.9 91.8h1.2v1.2h-1.2zM126.5 84.7h1.2v1.2h-1.2zM114.9 90.7h1.2v1.2h-1.2zM134.3 84.2h1.2v1.2h-1.2zM146.4 102.0h1.2v1.2h-1.2zM153.6 93.8h1.2v1.2h-1.2zM129.8 91.8h1.2v1.2h-1.2zM134.5 94.7h1.2v1.2h-1.2zM142.4 86.9h1.2v1.2h-1.2zM142.0 82.7h1.2v1.2h-1.2zM145.0 96.3h1.2v1.2h-1.2zM130.4 91.2h1.2v1.2h-1.2zM114.0 94.3h1.2v1.2h-1.2zM146.1 80.6h1.2v1.2h-1.2zM157.0 87.1h1.2v1.2h-1.2zM113.2 80.1h1.2v1.2h-1.2zM146.0 85.3h1.2v1.2h-1.2zM148.9 77.2h1.2v1.2h-1.2zM133.8 93.6h1.2v1.2h-1.2zM126.4 92.1h1.2v1.2h-1.2zM130.5 89.9h1.2v1.2h-1.2zM139.1 101.1h1.2v1.2h-1.2zM119.4 93.1h1.2v1.2h-1.2zM151.6 79.7h1.2v1.2h-1.2zM136.0 101.7h1.2v1.2h-1.2zM148.3 68.5h1.2v1.2h-1.2zM132.0 77.1h1.2v1.2h-1.2zM138.8 82.8h1.2v1.2h-1.2zM127.9 82.7h1.2v1.2h-1.2zM138.7 84.4h1.2v1.2h-1.2zM123.6 86.7h1.2v1.2h-1.2zM140.1 82.0h1.2v1.2h-1.2zM149.0 76.5h1.2v1.2h-1.2zM140.2 84.8h1.2v1.2h-1.2zM154.9 82.5h1.2v1.2h-1.2zM126.6 79.6h1.2v1.2h-1.2zM160.1 90.1h1.2v1.2h-1.2zM121.3 86.1h1.2v1.2h-1.2zM122.9 97.5h1.2v1.2h-1.2zM140.3 74.6h1.2v1.2h-1.2zM137.7 93.0h1.2v1.2h-1.2zM135.0 90.4h1.2v1.2h-1.2zM133.6 88.9h1.2v1.2h-1.2zM137.7 83.0h1.2v1.2h-1.2zM139.4 88.3h1.2v1.2h-1.2zM134.5 83.3h1.2v1.2h-1.2zM122.2 89.7h1.2v1.2h-1.2zM145.4 72.0h1.2v1.2h-1.2zM128.2 96.2h1.2v1.2h-1.2zM146.6 82.5h1.2v1.2h-1.2zM152.1 80.6h1.2v1.2h-1.2zM125.0 100.0h1.2v1.2h-1.2zM129.5 86.4h1.2v1.2h-1.2zM114.2 82.3h1.2v1.2h-1.2zM120.1 87.4h1.2v1.2h-1.2zM111.8 95.2h1.2v1.2h-1.2zM130.5 84.0h1.2v1.2h-1.2zM127.0 92.5h1.2v1.2h-1.2zM154.4 84.0h1.2v1.2h-1.2zM155.4 96.5h1.2v1.2h-1.2zM152.0 88.5h1.2v1.2h-1.2zM116.2 92.6h1.2v1.2h-1.2zM129.8 89.0h1.2v1.2h-1.2zM111.2 86.9h1.2v1.2h-1.2zM138.0 81.6h1.2v1.2h-1.2zM138.7 97.7h1.2v1.2h-1.2zM137.9 83.1h1.2v1.2h-1.2zM165.2 72.7h1.2v1.2h-1.2zM123.4 90.6h1.2v1.2h-1.2zM127.5 73.7h1.2v1.2h-1.2zM138.3 92.5h1.2v1.2h-1.2zM124.9 97.1h1.2v1.2h-1.2zM141.3 94.6h1.2v1.2h-1.2zM115.7 88.4h1.2v1.2h-1.2zM155.2 99.0h1.2v1.2h-1.2zM151.7 86.7h1.2v1.2h-1.2zM137.3 83.5h1.2v1.2h-1.2zM148.9 82.5h1.2v1.2h-1.2zM136.6 74.6h1.2v1.2h-1.2zM115.9 99.5h1.2v1.2h-1.2zM135.7 88.8h1.2v1.2h-1.2zM107.2 88.7h1.2v1.2h-1.2zM161.2 76.9h1.2v1.2h-1.2zM104.9 88.0h1.2v1.2h-1.2zM128.3 86.5h1.2v1.2h-1.2zM119.1 79.9h1.2v1.2h-1.2zM119.3 92.3h1.2v1.2h-1.2zM134.4 92.6h1.2v1.2h-1.2zM121.3 91.8h1.2v1.2h-1.2zM129.4 88.3h1.2v1.2h-1.2zM146.8 87.1h1.2v1.2h-1.2zM130.5 77.4h1.2v1.2h-1.2zM135.8 92.3h1.2v1.2h-1.2zM127.0 87.5h1.2v1.2h-1.2zM112.5 80.3h1.2v1.2h-1.2zM140.1 95.3h1.2v1.2h-1.2zM131.1 77.3h1.2v1.2h-1.2zM130.2 78.0h1.2v1.2h-1.2zM131.5 99.7h1.2v1.2h-1.2zM138.8 86.4h1.2v1.2h-1.2zM148.2 84.5h1.2v1.2h-1.2zM139.2 88.5h1.2v1.2h-1.2zM140.7 78.1h1.2v1.2h-1.2zM144.1 92.6h1.2v1.2h-1.2zM105.9 72.0h1.2v1.2h-1.2zM123.6 97.4h1.2v1.2h-1.2zM135.3 91.7h1.2v1.2h-1.2zM142.1 92.7h1.2v1.2h-1.2zM126.9 84.2h1.2v1.2h-1.2zM139.8 91.1h1.2v1.2h-1.2zM142.3 89.3h1.2v1.2h-1.2zM128.8 94.7h1.2v1.2h-1.2zM141.0 93.9h1.2v1.2h-1.2zM102.5 95.4h1.2v1.2h-1.2zM103.8 90.4h1.2v1.2h-1.2zM126.5 88.7h1.2v1.2h-1.2zM128.9 85.9h1.2v1.2h-1.2zM137.5 89.5h1.2v1.2h-1.2zM124.8 72.1h1.2v1.2h-1.2zM125.0 91.4h1.2v1.2h-1.2zM124.2 90.7h1.2v1.2h-1.2zM130.3 81.8h1.2v1.2h-1.2zM150.0 97.2h1.2v1.2h-1.2zM133.7 87.2h1.2v1.2h-1.2zM147.3 78.6h1.2v1.2h-1.2zM123.8 95.2h1.2v1.2h-1.2zM146.6 83.8h1.2v1.2h-1.2zM125.0 90.2h1.2v1.2h-1.2zM116.9 85.3h1.2v1.2h-1.2zM132.0 72.2h1.2v1.2h-1.2zM142.6 91.9h1.2v1.2h-1.2zM148.7 77.8h1.2v1.2h-1.2zM118.5 83.2h1.2v1.2h-1.2zM118.2 101.3h1.2v1.2h-1.2zM122.4 86.1h1.2v1.2h-1.2zM137.7 90.2h1.2v1.2h-1.2zM153.7 79.7h1.2v1.2h-1.2zM146.3 87.9h1.2v1.2h-1.2zM119.9 89.2h1.2v1.2h-1.2zM116.9 98.6h1.2v1.2h-1.2zM125.6 94.3h1.2v1.2h-1.2zM151.8 82.8h1.2v1.2h-1.2zM123.4 88.9h1.2v1.2h-1.2zM121.5 93.9h1.2v1.2h-1.2zM137.3 82.6h1.2v1.2h-1.2zM126.2 92.5h1.2v1.2h-1.2zM116.3 99.1h1.2v1.2h-1.2zM124.9 86.8h1.2v1.2h-1.2zM123.1 98.4h1.2v1.2h-1.2zM145.6 95.2h1.2v1.2h-1.2zM143.4 87.7h1.2v1.2h-1.2zM156.9 90.6h1.2v1.2h-1.2zM140.6 90.9h1.2v1.2h-1.2zM144.5 88.8h1.2v1.2h-1.2zM132.8 77.5h1.2v1.2h-1.2zM161.6 77.9h1.2v1.2h-1.2zM107.1 84.4h1.2v1.2h-1.2zM160.0 94.0h1.2v1.2h-1.2zM127.2 89.6h1.2v1.2h-1.2zM134.7 74.9h1.2v1.2h-1.2zM130.7 89.6h1.2v1.2h-1.2zM150.2 79.1h1.2v1.2h-1.2zM105.8 78.9h1.2v1.2h-1.2zM139.3 87.8h1.2v1.2h-1.2zM136.9 88.3h1.2v1.2h-1.2zM130.2 79.1h1.2v1.2h-1.2zM140.9 89.7h1.2v1.2h-1.2zM142.5 95.1h1.2v1.2h-1.2zM118.9 73.4h1.2v1.2h-1.2zM111.9 102.2h1.2v1.2h-1.2zM123.1 90.6h1.2v1.2h-1.2zM134.8 92.1h1.2v1.2h-1.2zM176.7 82.2h1.2v1.2h-1.2zM132.8 83.8h1.2v1.2h-1.2zM138.2 90.7h1.2v1.2h-1.2zM122.4 96.5h1.2v1.2h-1.2zM149.9 89.6h1.2v1.2h-1.2zM133.6 86.1h1.2v1.2h-1.2zM113.6 92.7h1.2v1.2h-1.2zM122.3 84.9h1.2v1.2h-1.2zM148.0 81.0h1.2v1.2h-1.2zM128.2 93.3h1.2v1.2h-1.2zM159.1 81.9h1.2v1.2h-1.2zM149.3 82.6h1.2v1.2h-1.2zM140.0 90.3h1.2v1.2h-1.2zM120.2 94.8h1.2v1.2h-1.2zM158.4 86.7h1.2v1.2h-1.2zM138.5 79.9h1.2v1.2h-1.2zM158.2 86.8h1.2v1.2h-1.2zM118.4 93.2h1.2v1.2h-1.2zM116.0 84.1h1.2v1.2h-1.2zM107.3 97.6h1.2v1.2h-1.2zM163.7 82.0h1.2v1.2h-1.2zM126.5 84.2h1.2v1.2h-1.2zM127.7 91.4h1.2v1.2h-1.2zM154.0 80.2h1.2v1.2h-1.2zM140.7 75.7h1.2v1.2h-1.2zM154.8 86.0h1.2v1.2h-1.2zM125.9 97.7h1.2v1.2h-1.2zM133.6 96.3h1.2v1.2h-1.2zM149.0 97.4h1.2v1.2h-1.2zM124.6 88.4h1.2v1.2h-1.2zM139.8 86.0h1.2v1.2h-1.2zM154.8 82.0h1.2v1.2h-1.2zM148.0 95.5h1.2v1.2h-1.2zM109.6 82.6h1.2v1.2h-1.2zM123.3 84.6h1.2v1.2h-1.2zM140.1 86.1h1.2v1.2h-1.2zM136.0 84.5h1.2v1.2h-1.2zM133.9 90.6h1.2v1.2h-1.2zM144.7 82.0h1.2v1.2h-1.2zM133.5 82.7h1.2v1.2h-1.2zM132.7 78.5h1.2v1.2h-1.2zM147.4 91.2h1.2v1.2h-1.2zM133.4 83.2h1.2v1.2h-1.2zM129.1 83.6h1.2v1.2h-1.2zM114.9 98.9h1.2v1.2h-1.2zM177.8 77.6h1.2v1.2h-1.2zM119.8 91.9h1.2v1.2h-1.2zM142.9 77.1h1.2v1.2h-1.2zM110.0 92.2h1.2v1.2h-1.2zM109.1 97.8h1.2v1.2h-1.2zM128.6 88.4h1.2v1.2h-1.2zM135.0 83.9h1.2v1.2h-1.2zM133.2 85.7h1.2v1.2h-1.2zM151.2 86.1h1.2v1.2h-1.2zM134.6 84.1h1.2v1.2h-1.2zM126.8 83.2h1.2v1.2h-1.2zM135.1 99.2h1.2v1.2h-1.2zM149.5 88.3h1.2v1.2h-1.2zM156.7 92.9h1.2v1.2h-1.2zM137.7 86.3h1.2v1.2h-1.2zM120.7 89.8h1.2v1.2h-1.2zM130.9 77.6h1.2v1.2h-1.2zM118.3 100.7h1.2v1.2h-1.2zM137.8 90.5h1.2v1.2h-1.2zM137.6 84.4h1.2v1.2h-1.2zM141.0 94.1h1.2v1.2h-1.2zM131.0 91.0h1.2v1.2h-1.2zM148.3 83.8h1.2v1.2h-1.2zM137.2 82.7h1.2v1.2h-1.2zM142.8 84.8h1.2v1.2h-1.2zM149.9 81.9h1.2v1.2h-1.2zM157.0 84.4h1.2v1.2h-1.2zM124.1 82.3h1.2v1.2h-1.2zM143.6 81.6h1.2v1.2h-1.2zM158.5 94.5h1.2v1.2h-1.2zM141.7 78.1h1.2v1.2h-1.2zM134.7 82.9h1.2v1.2h-1.2zM111.5 91.4h1.2v1.2h-1.2zM163.6 82.7h1.2v1.2h-1.2zM145.5 95.2h1.2v1.2h-1.2zM122.5 86.0h1.2v1.2h-1.2zM138.5 90.3h1.2v1.2h-1.2zM120.1 89.6h1.2v1.2h-1.2zM133.6 93.6h1.2v1.2h-1.2zM114.2 84.9h1.2v1.2h-1.2zM128.5 85.8h1.2v1.2h-1.2zM144.4 83.0h1.2v1.2h-1.2zM170.6 81.2h1.2v1.2h-1.2zM145.9 93.5h1.2v1.2h-1.2zM147.5 85.6h1.2v1.2h-1.2zM124.2 86.4h1.2v1.2h-1.2zM143.7 87.8h1.2v1.2h-1.2zM142.6 90.8h1.2v1.2h-1.2zM123.5 82.1h1.2v1.2h-1.2zM153.7 83.5h1.2v1.2h-1.2zM114.4 100.4h1.2v1.2h-1.2zM124.2 82.1h1.2v1.2h-1.2zM147.6 79.7h1.2v1.2h-1.2zM123.7 94.7h1.2v1.2h-1.2zM124.3 104.0h1.2v1.2h-1.2zM136.7 87.8h1.2v1.2h-1.2zM126.7 86.5h1.2v1.2h-1.2zM128.5 87.7h1.2v1.2h-1.2zM145.0 78.9h1.2v1.2h-1.2zM123.1 74.8h1.2v1.2h-1.2zM154.6 86.1h1.2v1.2h-1.2zM134.8 87.1h1.2v1.2h-1.2zM148.1 88.9h1.2v1.2h-1.2zM146.1 85.9h1.2v1.2h-1.2zM133.4 87.2h1.2v1.2h-1.2zM110.8 95.6h1.2v1.2h-1.2zM114.5 82.2h1.2v1.2h-1.2zM143.7 87.4h1.2v1.2h-1.2zM145.6 97.8h1.2v1.2h-1.2zM159.2 95.1h1.2v1.2h-1.2zM132.1 100.7h1.2v1.2h-1.2zM123.6 87.5h1.2v1.2h-1.2zM148.0 85.5h1.2v1.2h-1.2zM133.4 85.3h1.2v1.2h-1.2zM152.7 70.9h1.2v1.2h-1.2zM151.5 93.4h1.2v1.2h-1.2zM134.1 91.1h1.2v1.2h-1.2zM122.4 95.2h1.2v1.2h-1.2zM174.8 79.7h1.2v1.2h-1.2zM153.2 86.2h1.2v1.2h-1.2zM130.6 84.6h1.2v1.2h-1.2zM132.5 79.7h1.2v1.2h-1.2zM117.3 99.0h1.2v1.2h-1.2zM134.8 91.0h1.2v1.2h-1.2zM139.0 90.3h1.2v1.2h-1.2zM115.2 82.4h1.2v1.2h-1.2zM143.2 93.5h1.2v1.2h-1.2zM120.1 84.6h1.2v1.2h-1.2zM121.1 92.3h1.2v1.2h-1.2zM139.5 87.5h1.2v1.2h-1.2zM126.6 90.1h1.2v1.2h-1.2zM135.4 82.7h1.2v1.2h-1.2zM139.3 83.1h1.2v1.2h-1.2zM147.4 90.9h1.2v1.2h-1.2zM126.1 91.7h1.2v1.2h-1.2zM135.9 83.0h1.2v1.2h-1.2zM123.1 77.5h1.2v1.2h-1.2zM120.3 90.4h1.2v1.2h-1.2zM150.7 82.7h1.2v1.2h-1.2zM137.1 89.6h1.2v1.2h-1.2zM145.1 89.8h1.2v1.2h-1.2zM151.0 91.6h1.2v1.2h-1.2zM125.1 90.5h1.2v1.2h-1.2zM104.6 87.9h1.2v1.2h-1.2zM135.3 91.2h1.2v1.2h-1.2zM131.1 93.0h1.2v1.2h-1.2zM152.2 81.3h1.2v1.2h-1.2zM127.9 89.5h1.2v1.2h-1.2zM141.4 88.1h1.2v1.2h-1.2zM145.8 79.4h1.2v1.2h-1.2zM145.1 94.4h1.2v1.2h-1.2zM149.4 89.5h1.2v1.2h-1.2zM131.9 90.2h1.2v1.2h-1.2zM134.0 77.4h1.2v1.2h-1.2zM127.1 87.6h1.2v1.2h-1.2zM128.3 81.9h1.2v1.2h-1.2zM132.0 85.3h1.2v1.2h-1.2zM135.9 87.1h1.2v1.2h-1.2zM137.2 93.7h1.2v1.2h-1.2zM136.8 90.0h1.2v1.2h-1.2zM119.1 69.5h1.2v1.2h-1.2zM129.8 92.1h1.2v1.2h-1.2zM130.6 83.7h1.2v1.2h-1.2zM118.9 94.0h1.2v1.2h-1.2zM128.1 89.4h1.2v1.2h-1.2zM149.7 90.2h1.2v1.2h-1.2zM164.2 85.2h1.2v1.2h-1.2zM147.4 91.3h1.2v1.2h-1.2zM126.5 88.2h1.2v1.2h-1.2zM127.7 81.3h1.2v1.2h-1.2zM138.9 82.4h1.2v1.2h-1.2zM156.8 81.7h1.2v1.2h-1.2zM127.9 88.4h1.2v1.2h-1.2zM128.3 88.2h1.2v1.2h-1.2zM127.1 78.8h1.2v1.2h-1.2zM103.6 80.8h1.2v1.2h-1.2zM154.8 89.4h1.2v1.2h-1.2zM137.0 84.4h1.2v1.2h-1.2zM133.1 89.5h1.2v1.2h-1.2zM116.9 83.3h1.2v1.2h-1.2zM123.4 96.1h1.2v1.2h-1.2zM121.3 95.6h1.2v1.2h-1.2zM134.0 87.8h1.2v1.2h-1.2zM152.6 92.2h1.2v1.2h-1.2zM147.2 80.1h1.2v1.2h-1.2zM149.8 97.5h1.2v1.2h-1.2zM133.7 84.5h1.2v1.2h-1.2zM120.8 94.7h1.2v1.2h-1.2zM138.8 87.4h1.2v1.2h-1.2zM118.9 98.6h1.2v1.2h-1.2zM146.4 86.8h1.2v1.2h-1.2zM154.2 80.5h1.2v1.2h-1.2zM146.5 80.6h1.2v1.2h-1.2zM153.3 84.8h1.2v1.2h-1.2zM150.9 84.1h1.2v1.2h-1.2zM140.2 94.5h1.2v1.2h-1.2zM123.3 88.7h1.2v1.2h-1.2zM124.1 93.5h1.2v1.2h-1.2zM127.2 85.5h1.2v1.2h-1.2zM132.4 95.0h1.2v1.2h-1.2zM121.5 88.0h1.2v1.2h-1.2zM130.7 84.2h1.2v1.2h-1.2zM124.8 87.0h1.2v1.2h-1.2zM137.5 77.5h1.2v1.2h-1.2zM138.0 79.8h1.2v1.2h-1.2zM135.2 102.0h1.2v1.2h-1.2zM122.4 87.7h1.2v1.2h-1.2zM131.7 93.9h1.2v1.2h-1.2zM128.8 76.4h1.2v1.2h-1.2zM114.1 89.7h1.2v1.2h-1.2zM138.3 94.1h1.2v1.2h-1.2zM128.0 92.1h1.2v1.2h-1.2zM121.2 96.4h1.2v1.2h-1.2zM134.1 83.2h1.2v1.2h-1.2zM137.3 98.5h1.2v1.2h-1.2zM124.0 80.1h1.2v1.2h-1.2zM121.8 80.8h1.2v1.2h-1.2zM134.3 89.8h1.2v1.2h-1.2zM132.9 88.9h1.2v1.2h-1.2zM150.4 84.9h1.2v1.2h-1.2zM118.7 73.7h1.2v1.2h-1.2zM138.1 83.0h1.2v1.2h-1.2zM131.8 90.3h1.2v1.2h-1.2zM141.0 77.2h1.2v1.2h-1.2zM122.6 88.6h1.2v1.2h-1.2zM133.1 94.9h1.2v1.2h-1.2zM128.5 74.7h1.2v1.2h-1.2zM150.2 76.3h1.2v1.2h-1.2zM122.4 90.6h1.2v1.2h-1.2zM121.2 104.0h1.2v1.2h-1.2zM138.1 90.8h1.2v1.2h-1.2zM129.3 101.9h1.2v1.2h-1.2zM142.0 82.6h1.2v1.2h-1.2zM151.3 75.9h1.2v1.2h-1.2zM127.4 89.7h1.2v1.2h-1.2zM136.8 81.3h1.2v1.2h-1.2zM155.5 95.9h1.2v1.2h-1.2zM122.8 90.5h1.2v1.2h-1.2zM126.8 85.2h1.2v1.2h-1.2zM147.8 87.7h1.2v1.2h-1.2zM133.6 88.2h1.2v1.2h-1.2zM119.8 96.0h1.2v1.2h-1.2zM125.2 96.3h1.2v1.2h-1.2zM129.0 84.9h1.2v1.2h-1.2zM154.3 87.8h1.2v1.2h-1.2zM126.7 84.5h1.2v1.2h-1.2zM142.9 99.0h1.2v1.2h-1.2zM143.0 84.6h1.2v1.2h-1.2zM120.4 83.9h1.2v1.2h-1.2zM133.5 89.1h1.2v1.2h-1.2zM126.5 96.1h1.2v1.2h-1.2zM122.6 83.6h1.2v1.2h-1.2zM141.5 90.2h1.2v1.2h-1.2zM129.9 93.9h1.2v1.2h-1.2zM116.7 98.8h1.2v1.2h-1.2zM163.4 98.5h1.2v1.2h-1.2zM136.5 100.0h1.2v1.2h-1.2zM135.7 95.9h1.2v1.2h-1.2zM132.4 88.9h1.2v1.2h-1.2zM141.8 76.0h1.2v1.2h-1.2zM132.3 98.6h1.2v1.2h-1.2zM97.0 91.8h1.2v1.2h-1.2zM147.0 89.0h1.2v1.2h-1.2zM137.5 96.2h1.2v1.2h-1.2zM139.4 75.2h1.2v1.2h-1.2zM122.7 86.2h1.2v1.2h-1.2zM136.9 84.6h1.2v1.2h-1.2zM133.6 98.2h1.2v1.2h-1.2zM96.9 96.7h1.2v1.2h-1.2zM147.2 90.7h1.2v1.2h-1.2zM135.2 87.9h1.2v1.2h-1.2zM139.7 88.8h1.2v1.2h-1.2zM125.6 92.9h1.2v1.2h-1.2zM124.3 87.8h1.2v1.2h-1.2zM130.3 80.4h1.2v1.2h-1.2zM142.9 86.7h1.2v1.2h-1.2zM119.9 87.8h1.2v1.2h-1.2zM117.1 97.5h1.2v1.2h-1.2zM141.7 99.8h1.2v1.2h-1.2zM127.6 92.3h1.2v1.2h-1.2zM122.4 82.7h1.2v1.2h-1.2zM133.8 90.2h1.2v1.2h-1.2zM147.0 85.2h1.2v1.2h-1.2zM149.3 92.9h1.2v1.2h-1.2zM123.7 86.9h1.2v1.2h-1.2zM123.1 98.9h1.2v1.2h-1.2zM127.9 93.5h1.2v1.2h-1.2zM146.9 85.3h1.2v1.2h-1.2zM128.7 90.0h1.2v1.2h-1.2zM125.0 80.0h1.2v1.2h-1.2zM122.5 90.3h1.2v1.2h-1.2zM137.5 98.6h1.2v1.2h-1.2zM111.3 91.9h1.2v1.2h-1.2zM120.1 95.6h1.2v1.2h-1.2zM144.0 87.9h1.2v1.2h-1.2zM154.1 84.2h1.2v1.2h-1.2zM128.1 81.2h1.2v1.2h-1.2zM126.5 88.6h1.2v1.2h-1.2zM143.7 95.2h1.2v1.2h-1.2zM131.5 83.0h1.2v1.2h-1.2zM99.6 103.2h1.2v1.2h-1.2zM136.2 102.5h1.2v1.2h-1.2zM125.4 98.9h1.2v1.2h-1.2zM123.3 101.6h1.2v1.2h-1.2zM123.4 96.8h1.2v1.2h-1.2zM149.2 99.8h1.2v1.2h-1.2zM139.8 102.0h1.2v1.2h-1.2zM139.0 102.7h1.2v1.2h-1.2zM104.7 98.9h1.2v1.2h-1.2zM129.2 101.6h1.2v1.2h-1.2zM121.4 92.4h1.2v1.2h-1.2zM100.6 96.7h1.2v1.2h-1.2zM92.9 101.8h1.2v1.2h-1.2zM142.7 91.9h1.2v1.2h-1.2zM130.0 98.8h1.2v1.2h-1.2zM92.0 100.5h1.2v1.2h-1.2zM134.6 92.9h1.2v1.2h-1.2zM90.5 92.5h1.2v1.2h-1.2zM134.9 95.5h1.2v1.2h-1.2zM137.8 90.6h1.2v1.2h-1.2zM91.0 93.6h1.2v1.2h-1.2zM142.1 90.6h1.2v1.2h-1.2zM88.8 100.0h1.2v1.2h-1.2zM90.0 98.7h1.2v1.2h-1.2zM89.5 91.9h1.2v1.2h-1.2zM127.8 102.0h1.2v1.2h-1.2zM111.0 95.2h1.2v1.2h-1.2zM86.1 93.5h1.2v1.2h-1.2zM100.0 100.6h1.2v1.2h-1.2zM131.1 100.6h1.2v1.2h-1.2zM119.1 99.2h1.2v1.2h-1.2zM92.4 94.2h1.2v1.2h-1.2zM103.3 92.5h1.2v1.2h-1.2zM132.8 91.4h1.2v1.2h-1.2zM105.5 92.5h1.2v1.2h-1.2zM141.0 98.2h1.2v1.2h-1.2zM115.7 94.1h1.2v1.2h-1.2zM144.8 103.0h1.2v1.2h-1.2zM113.7 97.1h1.2v1.2h-1.2zM140.9 92.1h1.2v1.2h-1.2zM101.1 89.6h1.2v1.2h-1.2zM117.1 100.3h1.2v1.2h-1.2zM94.3 94.9h1.2v1.2h-1.2zM149.4 95.7h1.2v1.2h-1.2zM109.2 101.4h1.2v1.2h-1.2zM142.9 94.0h1.2v1.2h-1.2zM92.2 98.2h1.2v1.2h-1.2zM132.9 102.8h1.2v1.2h-1.2zM127.6 92.9h1.2v1.2h-1.2zM118.0 92.6h1.2v1.2h-1.2zM113.4 95.5h1.2v1.2h-1.2zM144.2 102.5h1.2v1.2h-1.2zM145.1 95.6h1.2v1.2h-1.2zM147.6 90.2h1.2v1.2h-1.2zM144.8 98.2h1.2v1.2h-1.2zM141.6 94.6h1.2v1.2h-1.2zM149.4 88.4h1.2v1.2h-1.2zM175.8 84.7h1.2v1.2h-1.2zM190.2 65.3h1.2v1.2h-1.2zM203.8 73.3h1.2v1.2h-1.2z" fill="#1a1a1a" fill-opacity="1.00"/>
<path d="M136.3 104.5h1.2v1.2h-1.2zM128.9 105.2h1.2v1.2h-1.2zM97.7 114.5h1.2v1.2h-1.2zM96.7 114.7h1.2v1.2h-1.2zM93.9 117.1h1.2v1.2h-1.2zM96.4 116.3h1.2v1.2h-1.2zM90.4 118.5h1.2v1.2h-1.2zM104.0 122.0h1.2v1.2h-1.2zM96.2 109.6h1.2v1.2h-1.2zM91.0 109.3h1.2v1.2h-1.2zM95.5 115.3h1.2v1.2h-1.2zM87.7 122.2h1.2v1.2h-1.2zM89.3 112.7h1.2v1.2h-1.2zM95.0 123.3h1.2v1.2h-1.2zM112.8 115.0h1.2v1.2h-1.2zM98.1 114.8h1.2v1.2h-1.2zM98.6 116.3h1.2v1.2h-1.2zM117.1 109.9h1.2v1.2h-1.2zM99.2 112.0h1.2v1.2h-1.2zM102.5 113.9h1.2v1.2h-1.2zM104.0 110.0h1.2v1.2h-1.2zM114.6 119.0h1.2v1.2h-1.2zM87.7 122.4h1.2v1.2h-1.2zM96.7 109.5h1.2v1.2h-1.2zM103.1 113.9h1.2v1.2h-1.2zM105.1 113.7h1.2v1.2h-1.2zM106.3 118.5h1.2v1.2h-1.2zM102.5 118.6h1.2v1.2h-1.2zM97.5 115.0h1.2v1.2h-1.2zM103.1 122.4h1.2v1.2h-1.2zM97.2 133.0h1.2v1.2h-1.2zM111.7 109.6h1.2v1.2h-1.2zM107.5 117.0h1.2v1.2h-1.2zM101.6 112.0h1.2v1.2h-1.2zM111.4 111.8h1.2v1.2h-1.2zM99.4 112.5h1.2v1.2h-1.2zM113.4 126.2h1.2v1.2h-1.2zM90.9 114.4h1.2v1.2h-1.2zM102.5 114.5h1.2v1.2h-1.2zM97.6 110.1h1.2v1.2h-1.2zM101.7 110.0h1.2v1.2h-1.2zM105.8 134.0h1.2v1.2h-1.2zM97.7 128.8h1.2v1.2h-1.2zM102.6 112.9h1.2v1.2h-1.2zM97.6 110.9h1.2v1.2h-1.2zM100.8 122.3h1.2v1.2h-1.2zM106.4 115.6h1.2v1.2h-1.2zM91.8 117.0h1.2v1.2h-1.2zM111.6 119.4h1.2v1.2h-1.2zM97.0 121.3h1.2v1.2h-1.2zM93.5 126.8h1.2v1.2h-1.2zM96.1 111.5h1.2v1.2h-1.2zM96.0 116.9h1.2v1.2h-1.2zM106.9 113.6h1.2v1.2h-1.2zM87.7 117.0h1.2v1.2h-1.2zM103.6 128.1h1.2v1.2h-1.2zM92.3 127.7h1.2v1.2h-1.2zM104.7 120.6h1.2v1.2h-1.2zM94.7 111.5h1.2v1.2h-1.2zM93.4 123.9h1.2v1.2h-1.2zM101.5 124.9h1.2v1.2h-1.2zM112.5 117.6h1.2v1.2h-1.2zM99.7 130.7h1.2v1.2h-1.2zM91.0 114.4h1.2v1.2h-1.2zM97.5 114.9h1.2v1.2h-1.2zM101.0 111.8h1.2v1.2h-1.2zM108.0 108.2h1.2v1.2h-1.2zM94.4 105.9h1.2v1.2h-1.2zM90.3 121.6h1.2v1.2h-1.2zM104.3 116.2h1.2v1.2h-1.2zM105.8 121.8h1.2v1.2h-1.2zM96.0 117.3h1.2v1.2h-1.2zM102.5 131.3h1.2v1.2h-1.2zM97.0 120.1h1.2v1.2h-1.2zM103.8 125.9h1.2v1.2h-1.2zM102.9 124.9h1.2v1.2h-1.2zM92.7 115.7h1.2v1.2h-1.2zM86.7 117.2h1.2v1.2h-1.2zM116.1 119.2h1.2v1.2h-1.2zM100.6 119.4h1.2v1.2h-1.2zM101.0 108.5h1.2v1.2h-1.2zM95.2 116.3h1.2v1.2h-1.2zM101.2 111.6h1.2v1.2h-1.2zM99.3 112.5h1.2v1.2h-1.2zM90.9 113.0h1.2v1.2h-1.2zM94.5 123.3h1.2v1.2h-1.2zM109.2 121.5h1.2v1.2h-1.2zM98.5 113.7h1.2v1.2h-1.2zM89.2 113.9h1.2v1.2h-1.2zM110.8 125.4h1.2v1.2h-1.2zM101.5 115.9h1.2v1.2h-1.2zM100.0 120.4h1.2v1.2h-1.2zM99.9 120.5h1.2v1.2h-1.2zM94.7 117.9h1.2v1.2h-1.2zM97.6 124.9h1.2v1.2h-1.2zM91.5 126.4h1.2v1.2h-1.2zM99.4 114.1h1.2v1.2h-1.2zM100.1 118.4h1.2v1.2h-1.2zM98.4 120.4h1.2v1.2h-1.2zM96.0 106.0h1.2v1.2h-1.2zM104.8 117.4h1.2v1.2h-1.2zM111.5 120.2h1.2v1.2h-1.2zM86.2 126.0h1.2v1.2h-1.2zM95.3 121.3h1.2v1.2h-1.2zM115.3 125.0h1.2v1.2h-1.2zM92.5 116.9h1.2v1.2h-1.2zM88.9 122.1h1.2v1.2h-1.2zM103.9 110.5h1.2v1.2h-1.2zM103.1 123.9h1.2v1.2h-1.2zM105.6 113.0h1.2v1.2h-1.2zM95.2 109.9h1.2v1.2h-1.2zM94.8 124.4h1.2v1.2h-1.2zM87.8 123.8h1.2v1.2h-1.2zM107.7 108.6h1.2v1.2h-1.2zM91.8 134.2h1.2v1.2h-1.2zM111.3 106.4h1.2v1.2h-1.2zM100.1 126.2h1.2v1.2h-1.2zM107.0 121.0h1.2v1.2h-1.2zM84.2 115.6h1.2v1.2h-1.2zM102.8 129.3h1.2v1.2h-1.2zM86.5 126.6h1.2v1.2h-1.2zM101.0 127.0h1.2v1.2h-1.2zM80.7 120.1h1.2v1.2h-1.2zM90.4 125.1h1.2v1.2h-1.2zM90.8 110.1h1.2v1.2h-1.2zM101.5 115.2h1.2v1.2h-1.2zM105.3 115.8h1.2v1.2h-1.2zM97.5 131.9h1.2v1.2h-1.2zM83.7 129.4h1.2v1.2h-1.2zM82.2 136.0h1.2v1.2h-1.2zM80.8 129.2h1.2v1.2h-1.2zM91.8 111.7h1.2v1.2h-1.2zM92.6 122.0h1.2v1.2h-1.2zM93.3 109.9h1.2v1.2h-1.2zM96.7 115.6h1.2v1.2h-1.2zM111.0 118.3h1.2v1.2h-1.2zM93.9 113.3h1.2v1.2h-1.2zM111.0 116.3h1.2v1.2h-1.2zM100.7 132.6h1.2v1.2h-1.2zM92.6 130.2h1.2v1.2h-1.2zM88.9 109.5h1.2v1.2h-1.2zM81.4 120.4h1.2v1.2h-1.2zM108.0 112.5h1.2v1.2h-1.2zM94.1 130.4h1.2v1.2h-1.2zM88.8 110.9h1.2v1.2h-1.2zM96.6 119.6h1.2v1.2h-1.2zM110.0 134.7h1.2v1.2h-1.2zM87.6 123.9h1.2v1.2h-1.2zM93.3 107.1h1.2v1.2h-1.2zM94.2 135.3h1.2v1.2h-1.2zM89.7 124.8h1.2v1.2h-1.2zM102.7 108.0h1.2v1.2h-1.2zM109.6 109.5h1.2v1.2h-1.2zM89.6 128.9h1.2v1.2h-1.2zM80.6 118.0h1.2v1.2h-1.2zM84.1 121.1h1.2v1.2h-1.2zM80.4 109.4h1.2v1.2h-1.2zM81.0 110.3h1.2v1.2h-1.2zM81.6 115.1h1.2v1.2h-1.2zM80.5 112.1h1.2v1.2h-1.2zM81.7 108.8h1.2v1.2h-1.2zM81.5 109.7h1.2v1.2h-1.2zM81.9 114.9h1.2v1.2h-1.2zM81.2 122.7h1.2v1.2h-1.2zM133.6 120.9h1.2v1.2h-1.2zM126.8 107.8h1.2v1.2h-1.2zM129.7 111.9h1.2v1.2h-1.2zM125.2 119.1h1.2v1.2h-1.2zM124.2 121.8h1.2v1.2h-1.2zM124.5 115.1h1.2v1.2h-1.2zM129.0 131.8h1.2v1.2h-1.2zM144.9 127.3h1.2v1.2h-1.2zM124.5 119.2h1.2v1.2h-1.2zM139.1 126.1h1.2v1.2h-1.2zM116.7 118.7h1.2v1.2h-1.2zM124.5 125.6h1.2v1.2h-1.2zM136.6 114.5h1.2v1.2h-1.2zM149.9 116.7h1.2v1.2h-1.2zM152.5 117.7h1.2v1.2h-1.2zM130.3 135.5h1.2v1.2h-1.2zM126.4 115.1h1.2v1.2h-1.2zM144.0 118.8h1.2v1.2h-1.2zM135.2 108.3h1.2v1.2h-1.2zM146.8 127.6h1.2v1.2h-1.2zM134.1 125.2h1.2v1.2h-1.2zM126.6 115.1h1.2v1.2h-1.2zM117.2 122.3h1.2v1.2h-1.2zM141.9 126.5h1.2v1.2h-1.2zM139.1 125.2h1.2v1.2h-1.2zM122.9 107.9h1.2v1.2h-1.2zM136.6 120.6h1.2v1.2h-1.2zM139.7 116.8h1.2v1.2h-1.2zM123.2 123.0h1.2v1.2h-1.2zM126.1 105.1h1.2v1.2h-1.2zM125.6 111.6h1.2v1.2h-1.2zM121.2 114.4h1.2v1.2h-1.2zM139.4 139.3h1.2v1.2h-1.2zM146.2 115.6h1.2v1.2h-1.2zM141.1 118.5h1.2v1.2h-1.2zM134.5 113.3h1.2v1.2h-1.2zM130.3 104.8h1.2v1.2h-1.2zM146.8 112.6h1.2v1.2h-1.2zM136.2 114.1h1.2v1.2h-1.2zM133.4 109.1h1.2v1.2h-1.2zM127.7 127.0h1.2v1.2h-1.2zM138.5 107.9h1.2v1.2h-1.2zM133.5 123.6h1.2v1.2h-1.2zM125.3 116.4h1.2v1.2h-1.2zM128.8 122.6h1.2v1.2h-1.2zM139.1 130.8h1.2v1.2h-1.2zM133.9 136.2h1.2v1.2h-1.2zM122.7 134.4h1.2v1.2h-1.2zM128.7 125.7h1.2v1.2h-1.2zM129.9 119.9h1.2v1.2h-1.2zM122.9 122.5h1.2v1.2h-1.2zM148.8 120.4h1.2v1.2h-1.2zM130.8 119.2h1.2v1.2h-1.2zM137.3 117.4h1.2v1.2h-1.2zM131.0 121.0h1.2v1.2h-1.2zM142.5 127.3h1.2v1.2h-1.2zM121.7 113.7h1.2v1.2h-1.2zM131.2 126.4h1.2v1.2h-1.2zM139.5 117.4h1.2v1.2h-1.2zM149.7 117.8h1.2v1.2h-1.2zM143.4 131.3h1.2v1.2h-1.2zM145.1 120.9h1.2v1.2h-1.2zM136.1 106.1h1.2v1.2h-1.2zM115.3 113.9h1.2v1.2h-1.2zM137.3 128.2h1.2v1.2h-1.2zM130.1 128.0h1.2v1.2h-1.2zM136.1 132.2h1.2v1.2h-1.2zM117.0 112.1h1.2v1.2h-1.2zM122.6 110.2h1.2v1.2h-1.2zM145.5 111.2h1.2v1.2h-1.2zM123.7 115.7h1.2v1.2h-1.2zM138.8 115.2h1.2v1.2h-1.2zM137.5 123.9h1.2v1.2h-1.2zM122.9 108.5h1.2v1.2h-1.2zM145.4 113.0h1.2v1.2h-1.2zM121.6 122.4h1.2v1.2h-1.2zM131.5 111.1h1.2v1.2h-1.2zM140.7 127.0h1.2v1.2h-1.2zM133.5 112.7h1.2v1.2h-1.2zM134.4 122.5h1.2v1.2h-1.2zM122.9 119.4h1.2v1.2h-1.2zM159.9 109.5h1.2v1.2h-1.2zM115.9 124.4h1.2v1.2h-1.2zM127.2 114.9h1.2v1.2h-1.2zM136.5 118.0h1.2v1.2h-1.2zM139.8 123.5h1.2v1.2h-1.2zM141.2 120.2h1.2v1.2h-1.2zM112.0 130.7h1.2v1.2h-1.2zM116.0 128.0h1.2v1.2h-1.2zM133.2 107.3h1.2v1.2h-1.2zM131.6 126.7h1.2v1.2h-1.2zM122.0 119.5h1.2v1.2h-1.2zM124.5 110.5h1.2v1.2h-1.2zM125.6 130.0h1.2v1.2h-1.2zM137.1 118.9h1.2v1.2h-1.2zM130.3 120.2h1.2v1.2h-1.2zM133.5 120.7h1.2v1.2h-1.2zM115.8 127.0h1.2v1.2h-1.2zM137.2 108.8h1.2v1.2h-1.2zM129.7 118.3h1.2v1.2h-1.2zM125.8 123.7h1.2v1.2h-1.2zM128.6 116.7h1.2v1.2h-1.2zM122.6 116.7h1.2v1.2h-1.2zM121.8 119.5h1.2v1.2h-1.2zM142.7 127.7h1.2v1.2h-1.2zM134.8 107.4h1.2v1.2h-1.2zM140.1 127.1h1.2v1.2h-1.2zM131.1 116.2h1.2v1.2h-1.2zM140.6 109.8h1.2v1.2h-1.2zM127.6 139.0h1.2v1.2h-1.2zM131.2 130.8h1.2v1.2h-1.2zM125.5 124.2h1.2v1.2h-1.2zM131.9 106.6h1.2v1.2h-1.2zM125.5 128.8h1.2v1.2h-1.2zM147.4 124.1h1.2v1.2h-1.2zM146.9 124.1h1.2v1.2h-1.2zM149.7 106.9h1.2v1.2h-1.2zM130.6 123.7h1.2v1.2h-1.2zM140.2 137.0h1.2v1.2h-1.2zM136.4 121.3h1.2v1.2h-1.2zM136.8 123.1h1.2v1.2h-1.2zM139.4 136.3h1.2v1.2h-1.2zM114.5 116.3h1.2v1.2h-1.2zM145.5 107.9h1.2v1.2h-1.2zM142.5 107.0h1.2v1.2h-1.2zM137.3 131.6h1.2v1.2h-1.2zM122.6 118.2h1.2v1.2h-1.2zM122.2 128.6h1.2v1.2h-1.2zM133.0 125.4h1.2v1.2h-1.2zM125.7 124.8h1.2v1.2h-1.2zM148.4 130.9h1.2v1.2h-1.2zM148.3 113.9h1.2v1.2h-1.2zM132.6 118.3h1.2v1.2h-1.2zM126.5 131.7h1.2v1.2h-1.2zM120.3 123.9h1.2v1.2h-1.2zM141.9 135.9h1.2v1.2h-1.2zM114.7 114.7h1.2v1.2h-1.2zM131.8 136.0h1.2v1.2h-1.2zM119.9 132.9h1.2v1.2h-1.2zM128.3 123.5h1.2v1.2h-1.2zM147.4 108.1h1.2v1.2h-1.2zM125.9 111.0h1.2v1.2h-1.2zM118.8 115.7h1.2v1.2h-1.2zM139.2 124.6h1.2v1.2h-1.2zM118.4 131.6h1.2v1.2h-1.2zM132.3 110.6h1.2v1.2h-1.2zM143.5 132.3h1.2v1.2h-1.2zM121.8 136.1h1.2v1.2h-1.2zM143.2 113.3h1.2v1.2h-1.2zM114.0 133.8h1.2v1.2h-1.2zM143.7 109.1h1.2v1.2h-1.2zM141.6 130.7h1.2v1.2h-1.2zM136.8 132.6h1.2v1.2h-1.2zM149.5 116.5h1.2v1.2h-1.2zM196.6 109.2h1.2v1.2h-1.2zM170.6 109.7h1.2v1.2h-1.2zM161.8 105.2h1.2v1.2h-1.2zM160.8 108.0h1.2v1.2h-1.2z" fill="#1a1a1a" fill-opacity="0.72"/>
<rect x="79.40" y="29.00" width="126.60" height="111.90" fill="none" stroke="#222" stroke-width="1.35"/>
<path d="M112.85 29.00V140.90M79.40 104.40H206.00" stroke="#222" stroke-width="1.15" fill="none"/>
<text x="73.40" y="155.60" font-family="Liberation Sans, sans-serif" font-size="9" fill="#151515" stroke="#151515" stroke-width="0.35" textLength="8.5" lengthAdjust="spacingAndGlyphs">10</text>
<text x="82.00" y="150.30" font-family="Liberation Sans, sans-serif" font-size="9" fill="#151515" stroke="#151515" stroke-width="0.35">0</text>
<g transform="translate(71.80 140.90) rotate(-90)"><text x="-6.5" y="0" font-family="Liberation Sans, sans-serif" font-size="9" fill="#151515" stroke="#151515" stroke-width="0.35" textLength="9.2" lengthAdjust="spacingAndGlyphs">10</text><text x="2.5" y="-5.6" font-family="Liberation Sans, sans-serif" font-size="9" fill="#151515" stroke="#151515" stroke-width="0.35">0</text></g>
<text x="105.05" y="155.60" font-family="Liberation Sans, sans-serif" font-size="9" fill="#151515" stroke="#151515" stroke-width="0.35" textLength="8.5" lengthAdjust="spacingAndGlyphs">10</text>
<text x="113.65" y="150.30" font-family="Liberation Sans, sans-serif" font-size="9" fill="#151515" stroke="#151515" stroke-width="0.35">1</text>
<g transform="translate(71.80 112.93) rotate(-90)"><text x="-6.5" y="0" font-family="Liberation Sans, sans-serif" font-size="9" fill="#151515" stroke="#151515" stroke-width="0.35" textLength="9.2" lengthAdjust="spacingAndGlyphs">10</text><text x="2.5" y="-5.6" font-family="Liberation Sans, sans-serif" font-size="9" fill="#151515" stroke="#151515" stroke-width="0.35">1</text></g>
<text x="136.70" y="155.60" font-family="Liberation Sans, sans-serif" font-size="9" fill="#151515" stroke="#151515" stroke-width="0.35" textLength="8.5" lengthAdjust="spacingAndGlyphs">10</text>
<text x="145.30" y="150.30" font-family="Liberation Sans, sans-serif" font-size="9" fill="#151515" stroke="#151515" stroke-width="0.35">2</text>
<g transform="translate(71.80 84.95) rotate(-90)"><text x="-6.5" y="0" font-family="Liberation Sans, sans-serif" font-size="9" fill="#151515" stroke="#151515" stroke-width="0.35" textLength="9.2" lengthAdjust="spacingAndGlyphs">10</text><text x="2.5" y="-5.6" font-family="Liberation Sans, sans-serif" font-size="9" fill="#151515" stroke="#151515" stroke-width="0.35">2</text></g>
<text x="168.35" y="155.60" font-family="Liberation Sans, sans-serif" font-size="9" fill="#151515" stroke="#151515" stroke-width="0.35" textLength="8.5" lengthAdjust="spacingAndGlyphs">10</text>
<text x="176.95" y="150.30" font-family="Liberation Sans, sans-serif" font-size="9" fill="#151515" stroke="#151515" stroke-width="0.35">3</text>
<g transform="translate(71.80 56.97) rotate(-90)"><text x="-6.5" y="0" font-family="Liberation Sans, sans-serif" font-size="9" fill="#151515" stroke="#151515" stroke-width="0.35" textLength="9.2" lengthAdjust="spacingAndGlyphs">10</text><text x="2.5" y="-5.6" font-family="Liberation Sans, sans-serif" font-size="9" fill="#151515" stroke="#151515" stroke-width="0.35">3</text></g>
<text x="200.00" y="155.60" font-family="Liberation Sans, sans-serif" font-size="9" fill="#151515" stroke="#151515" stroke-width="0.35" textLength="8.5" lengthAdjust="spacingAndGlyphs">10</text>
<text x="208.60" y="150.30" font-family="Liberation Sans, sans-serif" font-size="9" fill="#151515" stroke="#151515" stroke-width="0.35">4</text>
<g transform="translate(71.80 29.00) rotate(-90)"><text x="-8.2" y="0" font-family="Liberation Sans, sans-serif" font-size="9" fill="#151515" stroke="#151515" stroke-width="0.35" textLength="9.2" lengthAdjust="spacingAndGlyphs">10</text><rect x="3.2" y="-9.5" width="1.4" height="1.2" fill="#555"/></g>
<path d="M142.00 50.80H190.80M166.60 36.10V63.50" stroke="#333" stroke-width="1" fill="none"/>
<text x="152.20" y="45.00" font-family="Liberation Sans, sans-serif" font-size="14" font-weight="bold" text-anchor="middle" fill="#0a0a0a" stroke="#0a0a0a" stroke-width="0.35">17</text>
<text x="180.20" y="45.00" font-family="Liberation Sans, sans-serif" font-size="14" font-weight="bold" text-anchor="middle" fill="#0a0a0a" stroke="#0a0a0a" stroke-width="0.35">75</text>
<text x="152.20" y="63.50" font-family="Liberation Sans, sans-serif" font-size="14" font-weight="bold" text-anchor="middle" fill="#0a0a0a" stroke="#0a0a0a" stroke-width="0.35">4</text>
<text x="180.20" y="63.50" font-family="Liberation Sans, sans-serif" font-size="14" font-weight="bold" text-anchor="middle" fill="#0a0a0a" stroke="#0a0a0a" stroke-width="0.35">5</text>
<path d="M79.40 280.80v4.5M79.40 280.80h-4.5M88.94 280.80v2.4M79.40 272.36h-2.4M94.51 280.80v2.4M79.40 267.43h-2.4M98.47 280.80v2.4M79.40 263.93h-2.4M101.54 280.80v2.4M79.40 261.21h-2.4M104.05 280.80v2.4M79.40 258.99h-2.4M106.17 280.80v2.4M79.40 257.12h-2.4M108.01 280.80v2.4M79.40 255.49h-2.4M109.63 280.80v2.4M79.40 254.06h-2.4M111.08 280.80v4.5M79.40 252.78h-4.5M120.61 280.80v2.4M79.40 244.34h-2.4M126.19 280.80v2.4M79.40 239.40h-2.4M130.15 280.80v2.4M79.40 235.90h-2.4M133.21 280.80v2.4M79.40 233.19h-2.4M135.72 280.80v2.4M79.40 230.97h-2.4M137.84 280.80v2.4M79.40 229.09h-2.4M139.68 280.80v2.4M79.40 227.47h-2.4M141.30 280.80v2.4M79.40 226.03h-2.4M142.75 280.80v4.5M79.40 224.75h-4.5M152.29 280.80v2.4M79.40 216.31h-2.4M157.86 280.80v2.4M79.40 211.38h-2.4M161.82 280.80v2.4M79.40 207.88h-2.4M164.89 280.80v2.4M79.40 205.16h-2.4M167.40 280.80v2.4M79.40 202.94h-2.4M169.52 280.80v2.4M79.40 201.07h-2.4M171.36 280.80v2.4M79.40 199.44h-2.4M172.98 280.80v2.4M79.40 198.01h-2.4M174.43 280.80v4.5M79.40 196.72h-4.5M183.96 280.80v2.4M79.40 188.29h-2.4M189.54 280.80v2.4M79.40 183.35h-2.4M193.50 280.80v2.4M79.40 179.85h-2.4M196.56 280.80v2.4M79.40 177.14h-2.4M199.07 280.80v2.4M79.40 174.92h-2.4M201.19 280.80v2.4M79.40 173.04h-2.4M203.03 280.80v2.4M79.40 171.42h-2.4M204.65 280.80v2.4M79.40 169.98h-2.4M206.10 280.80v4.5M79.40 168.70h-4.5" stroke="#1a1a1a" stroke-width="1.15" fill="none"/>
<path d="M93.5 219.7h1.2v1.2h-1.2zM112.0 225.9h1.2v1.2h-1.2zM114.0 222.8h1.2v1.2h-1.2zM83.9 219.8h1.2v1.2h-1.2zM82.5 218.1h1.2v1.2h-1.2zM96.1 222.3h1.2v1.2h-1.2zM115.4 222.5h1.2v1.2h-1.2zM95.1 223.8h1.2v1.2h-1.2zM86.2 224.9h1.2v1.2h-1.2zM99.5 221.8h1.2v1.2h-1.2zM95.3 222.6h1.2v1.2h-1.2zM97.8 225.1h1.2v1.2h-1.2zM96.1 225.9h1.2v1.2h-1.2zM87.5 221.5h1.2v1.2h-1.2zM81.9 222.6h1.2v1.2h-1.2zM108.2 225.8h1.2v1.2h-1.2zM112.0 224.6h1.2v1.2h-1.2zM95.9 227.0h1.2v1.2h-1.2zM99.4 222.3h1.2v1.2h-1.2zM82.4 221.3h1.2v1.2h-1.2zM104.0 222.6h1.2v1.2h-1.2zM113.1 222.1h1.2v1.2h-1.2zM109.5 223.7h1.2v1.2h-1.2zM99.9 224.0h1.2v1.2h-1.2zM103.6 223.5h1.2v1.2h-1.2zM97.5 223.6h1.2v1.2h-1.2zM81.2 221.0h1.2v1.2h-1.2zM90.1 218.7h1.2v1.2h-1.2zM96.0 222.9h1.2v1.2h-1.2zM86.5 223.4h1.2v1.2h-1.2zM109.4 220.2h1.2v1.2h-1.2zM92.5 223.5h1.2v1.2h-1.2zM109.0 220.9h1.2v1.2h-1.2zM94.1 220.5h1.2v1.2h-1.2zM100.2 225.6h1.2v1.2h-1.2zM104.2 229.8h1.2v1.2h-1.2zM99.2 222.3h1.2v1.2h-1.2zM92.0 221.5h1.2v1.2h-1.2zM88.3 222.2h1.2v1.2h-1.2zM96.0 222.4h1.2v1.2h-1.2zM111.3 225.0h1.2v1.2h-1.2zM90.9 218.3h1.2v1.2h-1.2zM88.4 221.4h1.2v1.2h-1.2zM106.0 221.6h1.2v1.2h-1.2zM92.6 222.6h1.2v1.2h-1.2zM109.4 220.7h1.2v1.2h-1.2zM115.5 219.2h1.2v1.2h-1.2zM80.4 226.3h1.2v1.2h-1.2zM111.6 227.3h1.2v1.2h-1.2zM94.0 223.1h1.2v1.2h-1.2zM107.7 223.1h1.2v1.2h-1.2zM108.2 225.4h1.2v1.2h-1.2zM99.8 223.2h1.2v1.2h-1.2zM81.3 218.4h1.2v1.2h-1.2zM107.8 224.4h1.2v1.2h-1.2zM89.3 219.9h1.2v1.2h-1.2zM102.9 219.7h1.2v1.2h-1.2zM96.0 222.3h1.2v1.2h-1.2zM87.4 218.2h1.2v1.2h-1.2zM99.3 219.7h1.2v1.2h-1.2zM87.1 219.5h1.2v1.2h-1.2zM91.2 221.6h1.2v1.2h-1.2zM92.5 223.3h1.2v1.2h-1.2zM106.3 222.3h1.2v1.2h-1.2zM106.3 223.0h1.2v1.2h-1.2zM84.2 221.6h1.2v1.2h-1.2zM83.5 220.1h1.2v1.2h-1.2zM89.1 220.1h1.2v1.2h-1.2zM111.8 224.0h1.2v1.2h-1.2zM113.8 223.5h1.2v1.2h-1.2zM105.0 227.6h1.2v1.2h-1.2zM100.2 222.9h1.2v1.2h-1.2zM114.4 230.6h1.2v1.2h-1.2zM80.5 220.2h1.2v1.2h-1.2zM87.1 223.8h1.2v1.2h-1.2zM95.5 223.1h1.2v1.2h-1.2zM110.1 223.7h1.2v1.2h-1.2zM91.1 227.6h1.2v1.2h-1.2zM89.8 222.6h1.2v1.2h-1.2zM87.6 223.7h1.2v1.2h-1.2zM84.3 223.2h1.2v1.2h-1.2zM86.5 221.8h1.2v1.2h-1.2zM96.1 226.0h1.2v1.2h-1.2zM91.0 218.0h1.2v1.2h-1.2zM106.1 223.0h1.2v1.2h-1.2zM92.4 226.2h1.2v1.2h-1.2zM100.2 220.9h1.2v1.2h-1.2zM97.1 222.2h1.2v1.2h-1.2zM111.9 225.4h1.2v1.2h-1.2zM101.9 227.9h1.2v1.2h-1.2zM111.9 227.5h1.2v1.2h-1.2zM81.2 220.8h1.2v1.2h-1.2zM99.3 221.3h1.2v1.2h-1.2zM110.0 222.3h1.2v1.2h-1.2zM104.0 225.8h1.2v1.2h-1.2zM86.9 220.0h1.2v1.2h-1.2zM115.4 222.7h1.2v1.2h-1.2zM86.8 221.7h1.2v1.2h-1.2zM89.9 221.4h1.2v1.2h-1.2zM84.2 223.4h1.2v1.2h-1.2zM86.3 224.3h1.2v1.2h-1.2zM108.6 226.8h1.2v1.2h-1.2zM111.0 226.1h1.2v1.2h-1.2zM84.6 222.5h1.2v1.2h-1.2zM96.9 227.0h1.2v1.2h-1.2zM113.6 223.0h1.2v1.2h-1.2zM114.5 226.6h1.2v1.2h-1.2zM92.4 227.5h1.2v1.2h-1.2zM87.2 220.8h1.2v1.2h-1.2zM99.6 224.2h1.2v1.2h-1.2zM110.6 223.6h1.2v1.2h-1.2zM107.9 223.8h1.2v1.2h-1.2zM83.6 218.2h1.2v1.2h-1.2zM114.5 228.0h1.2v1.2h-1.2zM106.0 226.3h1.2v1.2h-1.2zM91.4 221.3h1.2v1.2h-1.2zM107.0 221.4h1.2v1.2h-1.2zM81.6 223.6h1.2v1.2h-1.2zM108.9 222.9h1.2v1.2h-1.2zM97.0 223.6h1.2v1.2h-1.2zM99.6 221.1h1.2v1.2h-1.2zM80.9 220.3h1.2v1.2h-1.2zM110.9 224.2h1.2v1.2h-1.2zM104.4 217.5h1.2v1.2h-1.2zM114.1 227.5h1.2v1.2h-1.2zM114.4 227.8h1.2v1.2h-1.2zM106.2 225.6h1.2v1.2h-1.2zM101.8 228.9h1.2v1.2h-1.2zM95.8 223.3h1.2v1.2h-1.2zM101.4 224.0h1.2v1.2h-1.2zM81.1 219.5h1.2v1.2h-1.2zM113.2 224.2h1.2v1.2h-1.2zM84.9 222.4h1.2v1.2h-1.2zM115.8 224.5h1.2v1.2h-1.2zM85.3 220.0h1.2v1.2h-1.2zM112.3 222.6h1.2v1.2h-1.2zM84.7 218.8h1.2v1.2h-1.2zM94.9 222.8h1.2v1.2h-1.2zM95.1 222.6h1.2v1.2h-1.2zM82.1 222.6h1.2v1.2h-1.2zM114.3 224.4h1.2v1.2h-1.2zM110.3 224.0h1.2v1.2h-1.2zM105.0 222.8h1.2v1.2h-1.2zM97.7 221.5h1.2v1.2h-1.2zM98.4 223.0h1.2v1.2h-1.2zM108.9 227.4h1.2v1.2h-1.2zM95.1 226.4h1.2v1.2h-1.2zM89.6 222.3h1.2v1.2h-1.2zM103.3 226.2h1.2v1.2h-1.2zM100.5 225.4h1.2v1.2h-1.2zM98.5 221.0h1.2v1.2h-1.2zM115.6 224.7h1.2v1.2h-1.2zM91.8 222.8h1.2v1.2h-1.2zM91.3 224.1h1.2v1.2h-1.2zM81.2 223.1h1.2v1.2h-1.2zM113.1 219.2h1.2v1.2h-1.2zM105.1 224.1h1.2v1.2h-1.2zM106.3 223.8h1.2v1.2h-1.2zM106.2 221.6h1.2v1.2h-1.2zM87.4 218.7h1.2v1.2h-1.2zM107.9 222.7h1.2v1.2h-1.2zM86.0 219.2h1.2v1.2h-1.2zM109.0 227.8h1.2v1.2h-1.2zM115.2 225.8h1.2v1.2h-1.2zM83.8 222.7h1.2v1.2h-1.2zM106.1 223.6h1.2v1.2h-1.2zM108.1 220.2h1.2v1.2h-1.2zM98.6 217.7h1.2v1.2h-1.2zM103.3 221.3h1.2v1.2h-1.2zM103.6 221.0h1.2v1.2h-1.2zM107.2 222.2h1.2v1.2h-1.2zM100.6 225.0h1.2v1.2h-1.2zM95.2 224.5h1.2v1.2h-1.2zM95.6 220.5h1.2v1.2h-1.2zM94.1 221.6h1.2v1.2h-1.2zM95.4 218.0h1.2v1.2h-1.2zM83.3 226.3h1.2v1.2h-1.2zM80.6 220.8h1.2v1.2h-1.2zM96.2 220.3h1.2v1.2h-1.2zM101.3 222.0h1.2v1.2h-1.2zM80.6 222.6h1.2v1.2h-1.2zM111.5 226.1h1.2v1.2h-1.2zM96.7 222.0h1.2v1.2h-1.2zM91.7 227.2h1.2v1.2h-1.2zM110.1 225.9h1.2v1.2h-1.2zM88.7 221.9h1.2v1.2h-1.2zM108.7 227.8h1.2v1.2h-1.2zM96.9 221.4h1.2v1.2h-1.2zM108.7 225.1h1.2v1.2h-1.2zM111.1 224.9h1.2v1.2h-1.2zM101.4 222.3h1.2v1.2h-1.2zM115.5 223.9h1.2v1.2h-1.2zM85.2 219.0h1.2v1.2h-1.2zM82.2 221.3h1.2v1.2h-1.2zM109.1 223.0h1.2v1.2h-1.2zM104.0 218.3h1.2v1.2h-1.2zM113.6 225.2h1.2v1.2h-1.2zM102.2 226.0h1.2v1.2h-1.2zM95.2 224.6h1.2v1.2h-1.2zM89.0 225.7h1.2v1.2h-1.2zM84.4 219.9h1.2v1.2h-1.2zM88.2 220.2h1.2v1.2h-1.2zM91.7 225.0h1.2v1.2h-1.2zM95.8 223.3h1.2v1.2h-1.2zM105.9 222.2h1.2v1.2h-1.2zM91.9 228.1h1.2v1.2h-1.2zM91.8 220.2h1.2v1.2h-1.2zM101.8 225.2h1.2v1.2h-1.2zM102.4 225.0h1.2v1.2h-1.2zM103.0 223.0h1.2v1.2h-1.2zM84.5 222.2h1.2v1.2h-1.2zM100.2 224.1h1.2v1.2h-1.2zM102.3 225.2h1.2v1.2h-1.2zM112.4 222.4h1.2v1.2h-1.2zM101.1 223.0h1.2v1.2h-1.2zM89.9 222.4h1.2v1.2h-1.2zM89.4 220.7h1.2v1.2h-1.2zM95.8 224.0h1.2v1.2h-1.2zM86.9 221.0h1.2v1.2h-1.2zM84.7 222.2h1.2v1.2h-1.2zM94.2 224.7h1.2v1.2h-1.2zM107.3 221.4h1.2v1.2h-1.2zM94.3 224.2h1.2v1.2h-1.2zM107.9 226.0h1.2v1.2h-1.2zM113.2 222.8h1.2v1.2h-1.2zM89.0 225.1h1.2v1.2h-1.2zM104.6 223.1h1.2v1.2h-1.2zM93.7 222.3h1.2v1.2h-1.2zM111.9 225.5h1.2v1.2h-1.2zM92.9 221.5h1.2v1.2h-1.2zM99.0 220.4h1.2v1.2h-1.2zM87.4 222.9h1.2v1.2h-1.2zM104.5 225.5h1.2v1.2h-1.2zM99.6 227.0h1.2v1.2h-1.2zM95.6 222.7h1.2v1.2h-1.2zM82.5 221.3h1.2v1.2h-1.2zM109.6 225.7h1.2v1.2h-1.2zM99.8 222.2h1.2v1.2h-1.2zM90.5 223.9h1.2v1.2h-1.2zM90.1 219.6h1.2v1.2h-1.2zM108.4 227.5h1.2v1.2h-1.2zM105.1 226.3h1.2v1.2h-1.2zM84.1 219.2h1.2v1.2h-1.2zM81.6 222.3h1.2v1.2h-1.2zM99.0 224.7h1.2v1.2h-1.2zM109.6 221.7h1.2v1.2h-1.2zM88.7 220.7h1.2v1.2h-1.2zM115.3 224.6h1.2v1.2h-1.2zM81.7 219.1h1.2v1.2h-1.2zM115.3 224.4h1.2v1.2h-1.2zM84.2 226.4h1.2v1.2h-1.2zM103.5 220.2h1.2v1.2h-1.2zM90.7 226.3h1.2v1.2h-1.2zM83.6 223.0h1.2v1.2h-1.2zM115.2 228.8h1.2v1.2h-1.2zM103.1 222.5h1.2v1.2h-1.2zM89.8 220.3h1.2v1.2h-1.2zM83.1 222.2h1.2v1.2h-1.2zM102.0 223.2h1.2v1.2h-1.2zM92.6 223.4h1.2v1.2h-1.2zM113.5 226.8h1.2v1.2h-1.2zM88.9 223.8h1.2v1.2h-1.2zM103.7 226.5h1.2v1.2h-1.2zM98.4 225.1h1.2v1.2h-1.2zM84.0 226.2h1.2v1.2h-1.2zM86.3 221.9h1.2v1.2h-1.2zM97.1 225.8h1.2v1.2h-1.2zM99.9 222.3h1.2v1.2h-1.2zM96.9 217.6h1.2v1.2h-1.2zM81.5 221.6h1.2v1.2h-1.2zM91.4 221.9h1.2v1.2h-1.2zM85.2 218.2h1.2v1.2h-1.2zM84.6 219.0h1.2v1.2h-1.2zM90.6 224.5h1.2v1.2h-1.2zM83.9 218.5h1.2v1.2h-1.2zM104.7 224.2h1.2v1.2h-1.2zM85.6 219.3h1.2v1.2h-1.2zM103.7 222.9h1.2v1.2h-1.2zM85.9 223.0h1.2v1.2h-1.2zM94.5 224.3h1.2v1.2h-1.2zM99.9 224.8h1.2v1.2h-1.2zM99.9 219.4h1.2v1.2h-1.2zM83.2 224.0h1.2v1.2h-1.2zM91.9 226.9h1.2v1.2h-1.2zM113.1 222.3h1.2v1.2h-1.2zM107.5 219.5h1.2v1.2h-1.2zM100.6 222.2h1.2v1.2h-1.2zM84.2 221.6h1.2v1.2h-1.2zM111.5 225.3h1.2v1.2h-1.2zM91.6 219.7h1.2v1.2h-1.2zM83.6 223.2h1.2v1.2h-1.2zM105.4 224.9h1.2v1.2h-1.2zM111.7 219.9h1.2v1.2h-1.2zM91.4 224.9h1.2v1.2h-1.2zM105.0 226.9h1.2v1.2h-1.2zM93.4 221.7h1.2v1.2h-1.2zM109.9 225.2h1.2v1.2h-1.2zM96.6 223.6h1.2v1.2h-1.2zM91.6 220.2h1.2v1.2h-1.2zM98.5 222.8h1.2v1.2h-1.2zM92.7 217.2h1.2v1.2h-1.2zM105.0 219.5h1.2v1.2h-1.2zM107.4 226.6h1.2v1.2h-1.2zM100.0 221.8h1.2v1.2h-1.2zM111.9 225.7h1.2v1.2h-1.2zM108.8 223.6h1.2v1.2h-1.2zM87.0 222.9h1.2v1.2h-1.2zM114.7 228.9h1.2v1.2h-1.2zM99.0 224.1h1.2v1.2h-1.2zM99.9 220.6h1.2v1.2h-1.2zM100.1 222.5h1.2v1.2h-1.2zM83.2 222.5h1.2v1.2h-1.2zM85.0 221.1h1.2v1.2h-1.2zM104.2 220.6h1.2v1.2h-1.2zM104.9 220.0h1.2v1.2h-1.2zM113.5 224.7h1.2v1.2h-1.2zM88.5 222.1h1.2v1.2h-1.2zM108.0 225.6h1.2v1.2h-1.2zM107.7 226.3h1.2v1.2h-1.2zM85.6 216.4h1.2v1.2h-1.2zM106.9 222.8h1.2v1.2h-1.2zM94.3 220.6h1.2v1.2h-1.2zM114.6 224.7h1.2v1.2h-1.2zM108.2 223.0h1.2v1.2h-1.2zM106.3 221.8h1.2v1.2h-1.2zM97.5 223.6h1.2v1.2h-1.2zM111.7 221.9h1.2v1.2h-1.2zM104.6 220.5h1.2v1.2h-1.2zM109.0 224.9h1.2v1.2h-1.2zM99.0 223.3h1.2v1.2h-1.2zM112.3 224.2h1.2v1.2h-1.2zM105.7 218.8h1.2v1.2h-1.2zM85.4 222.0h1.2v1.2h-1.2zM92.2 221.3h1.2v1.2h-1.2zM93.4 217.9h1.2v1.2h-1.2zM115.8 224.1h1.2v1.2h-1.2zM84.4 221.0h1.2v1.2h-1.2zM82.7 219.5h1.2v1.2h-1.2zM89.4 221.2h1.2v1.2h-1.2zM93.9 221.6h1.2v1.2h-1.2zM104.8 218.8h1.2v1.2h-1.2zM90.4 220.4h1.2v1.2h-1.2zM93.3 224.3h1.2v1.2h-1.2zM87.4 226.7h1.2v1.2h-1.2zM104.5 220.2h1.2v1.2h-1.2zM97.0 220.5h1.2v1.2h-1.2zM99.6 222.8h1.2v1.2h-1.2zM100.0 223.1h1.2v1.2h-1.2zM106.4 220.9h1.2v1.2h-1.2zM99.8 220.9h1.2v1.2h-1.2zM96.2 221.8h1.2v1.2h-1.2zM95.7 222.1h1.2v1.2h-1.2zM91.4 220.9h1.2v1.2h-1.2zM92.7 218.6h1.2v1.2h-1.2zM92.2 220.1h1.2v1.2h-1.2zM95.2 217.6h1.2v1.2h-1.2zM94.6 218.7h1.2v1.2h-1.2zM91.6 221.7h1.2v1.2h-1.2zM102.0 222.0h1.2v1.2h-1.2zM93.4 220.3h1.2v1.2h-1.2zM103.2 217.5h1.2v1.2h-1.2zM102.1 217.8h1.2v1.2h-1.2zM92.6 221.4h1.2v1.2h-1.2zM94.8 225.2h1.2v1.2h-1.2zM98.7 221.2h1.2v1.2h-1.2zM101.1 221.4h1.2v1.2h-1.2zM91.7 223.9h1.2v1.2h-1.2zM104.1 224.3h1.2v1.2h-1.2zM89.7 225.8h1.2v1.2h-1.2zM93.8 223.1h1.2v1.2h-1.2zM102.4 226.9h1.2v1.2h-1.2zM87.3 218.9h1.2v1.2h-1.2zM102.3 222.5h1.2v1.2h-1.2zM94.3 214.4h1.2v1.2h-1.2zM98.4 220.9h1.2v1.2h-1.2zM81.9 227.6h1.2v1.2h-1.2zM82.5 220.0h1.2v1.2h-1.2zM96.0 221.8h1.2v1.2h-1.2zM100.1 220.7h1.2v1.2h-1.2zM91.2 220.5h1.2v1.2h-1.2zM84.7 218.7h1.2v1.2h-1.2zM106.6 219.7h1.2v1.2h-1.2zM95.6 225.7h1.2v1.2h-1.2zM101.7 221.6h1.2v1.2h-1.2zM100.0 220.7h1.2v1.2h-1.2zM91.1 223.6h1.2v1.2h-1.2zM96.7 225.1h1.2v1.2h-1.2zM94.6 220.4h1.2v1.2h-1.2zM97.9 220.9h1.2v1.2h-1.2zM94.3 219.2h1.2v1.2h-1.2zM97.4 222.1h1.2v1.2h-1.2zM105.9 221.2h1.2v1.2h-1.2zM86.5 222.4h1.2v1.2h-1.2zM108.3 220.3h1.2v1.2h-1.2zM91.7 220.9h1.2v1.2h-1.2zM80.6 220.5h1.2v1.2h-1.2zM95.0 217.8h1.2v1.2h-1.2zM99.1 219.2h1.2v1.2h-1.2zM86.0 219.6h1.2v1.2h-1.2zM99.4 225.8h1.2v1.2h-1.2zM102.7 221.8h1.2v1.2h-1.2zM93.2 220.7h1.2v1.2h-1.2zM101.2 220.1h1.2v1.2h-1.2zM98.2 223.6h1.2v1.2h-1.2zM91.1 219.9h1.2v1.2h-1.2zM98.4 221.3h1.2v1.2h-1.2zM95.3 220.1h1.2v1.2h-1.2zM95.7 225.7h1.2v1.2h-1.2zM103.3 217.5h1.2v1.2h-1.2zM96.3 221.5h1.2v1.2h-1.2zM96.2 218.1h1.2v1.2h-1.2zM95.3 221.6h1.2v1.2h-1.2zM92.3 222.0h1.2v1.2h-1.2zM82.9 217.8h1.2v1.2h-1.2zM96.5 222.2h1.2v1.2h-1.2zM95.1 220.2h1.2v1.2h-1.2zM97.0 223.8h1.2v1.2h-1.2zM100.9 221.1h1.2v1.2h-1.2zM93.5 223.8h1.2v1.2h-1.2zM98.9 223.4h1.2v1.2h-1.2zM94.5 219.3h1.2v1.2h-1.2zM97.0 219.8h1.2v1.2h-1.2zM102.2 223.3h1.2v1.2h-1.2zM84.2 222.9h1.2v1.2h-1.2zM103.2 223.7h1.2v1.2h-1.2zM93.4 219.3h1.2v1.2h-1.2zM101.2 223.7h1.2v1.2h-1.2zM96.3 218.6h1.2v1.2h-1.2zM87.8 221.9h1.2v1.2h-1.2zM91.5 219.7h1.2v1.2h-1.2zM98.4 223.8h1.2v1.2h-1.2zM84.9 219.7h1.2v1.2h-1.2zM103.0 221.2h1.2v1.2h-1.2zM94.2 222.8h1.2v1.2h-1.2zM89.9 218.4h1.2v1.2h-1.2zM96.1 225.0h1.2v1.2h-1.2zM101.5 221.3h1.2v1.2h-1.2zM101.5 220.3h1.2v1.2h-1.2zM89.6 217.4h1.2v1.2h-1.2zM97.5 223.4h1.2v1.2h-1.2zM98.0 221.2h1.2v1.2h-1.2zM93.8 223.9h1.2v1.2h-1.2zM95.7 217.9h1.2v1.2h-1.2zM103.4 219.8h1.2v1.2h-1.2zM98.1 221.3h1.2v1.2h-1.2zM101.7 221.9h1.2v1.2h-1.2zM102.6 221.8h1.2v1.2h-1.2zM93.5 220.1h1.2v1.2h-1.2zM99.5 219.4h1.2v1.2h-1.2zM101.0 220.7h1.2v1.2h-1.2zM91.0 219.2h1.2v1.2h-1.2zM95.2 225.5h1.2v1.2h-1.2zM100.2 221.3h1.2v1.2h-1.2zM91.1 225.8h1.2v1.2h-1.2zM94.5 221.3h1.2v1.2h-1.2zM93.7 224.4h1.2v1.2h-1.2zM97.0 220.2h1.2v1.2h-1.2zM97.0 219.0h1.2v1.2h-1.2zM90.3 220.9h1.2v1.2h-1.2zM80.5 224.1h1.2v1.2h-1.2zM106.7 218.7h1.2v1.2h-1.2zM95.2 217.6h1.2v1.2h-1.2zM96.9 221.8h1.2v1.2h-1.2zM100.0 218.2h1.2v1.2h-1.2zM92.8 219.8h1.2v1.2h-1.2zM94.7 226.7h1.2v1.2h-1.2zM94.9 221.2h1.2v1.2h-1.2zM93.3 223.2h1.2v1.2h-1.2zM109.8 224.0h1.2v1.2h-1.2zM104.3 218.8h1.2v1.2h-1.2zM101.7 221.4h1.2v1.2h-1.2zM102.8 223.8h1.2v1.2h-1.2zM99.5 217.4h1.2v1.2h-1.2zM96.7 220.1h1.2v1.2h-1.2zM98.4 221.4h1.2v1.2h-1.2zM101.7 217.5h1.2v1.2h-1.2zM92.0 221.1h1.2v1.2h-1.2zM97.7 220.3h1.2v1.2h-1.2zM95.8 221.4h1.2v1.2h-1.2zM101.7 221.0h1.2v1.2h-1.2zM97.3 217.0h1.2v1.2h-1.2zM81.9 217.9h1.2v1.2h-1.2zM97.9 215.9h1.2v1.2h-1.2zM98.2 221.1h1.2v1.2h-1.2zM96.0 219.6h1.2v1.2h-1.2zM93.7 223.3h1.2v1.2h-1.2zM97.9 221.2h1.2v1.2h-1.2zM93.4 221.8h1.2v1.2h-1.2zM102.4 221.3h1.2v1.2h-1.2zM94.0 218.5h1.2v1.2h-1.2zM96.5 219.1h1.2v1.2h-1.2zM88.2 223.4h1.2v1.2h-1.2zM92.6 216.5h1.2v1.2h-1.2zM92.1 225.6h1.2v1.2h-1.2zM95.4 218.2h1.2v1.2h-1.2zM90.0 223.0h1.2v1.2h-1.2zM98.2 221.8h1.2v1.2h-1.2zM94.9 222.4h1.2v1.2h-1.2zM104.3 222.4h1.2v1.2h-1.2zM95.1 218.0h1.2v1.2h-1.2zM98.4 225.0h1.2v1.2h-1.2zM99.5 218.3h1.2v1.2h-1.2zM97.0 224.4h1.2v1.2h-1.2zM92.6 222.5h1.2v1.2h-1.2zM102.5 225.2h1.2v1.2h-1.2zM87.4 217.2h1.2v1.2h-1.2zM98.0 223.0h1.2v1.2h-1.2zM94.1 221.3h1.2v1.2h-1.2zM93.8 224.1h1.2v1.2h-1.2zM99.3 231.5h1.2v1.2h-1.2zM105.5 222.3h1.2v1.2h-1.2zM103.4 227.1h1.2v1.2h-1.2zM119.2 228.7h1.2v1.2h-1.2zM84.5 220.8h1.2v1.2h-1.2zM88.9 222.5h1.2v1.2h-1.2zM80.8 220.7h1.2v1.2h-1.2zM99.8 229.7h1.2v1.2h-1.2zM95.3 225.1h1.2v1.2h-1.2zM88.2 228.3h1.2v1.2h-1.2zM89.8 224.3h1.2v1.2h-1.2zM93.0 220.2h1.2v1.2h-1.2zM93.0 227.3h1.2v1.2h-1.2zM80.8 227.8h1.2v1.2h-1.2zM99.7 217.8h1.2v1.2h-1.2zM98.3 237.0h1.2v1.2h-1.2zM88.2 229.0h1.2v1.2h-1.2zM84.9 213.1h1.2v1.2h-1.2zM100.0 223.0h1.2v1.2h-1.2zM92.8 223.6h1.2v1.2h-1.2zM104.7 222.5h1.2v1.2h-1.2zM104.8 219.2h1.2v1.2h-1.2zM95.1 225.8h1.2v1.2h-1.2zM113.5 227.6h1.2v1.2h-1.2zM114.6 229.1h1.2v1.2h-1.2zM110.8 225.6h1.2v1.2h-1.2zM86.9 221.8h1.2v1.2h-1.2zM114.4 230.3h1.2v1.2h-1.2zM112.8 229.8h1.2v1.2h-1.2zM117.4 223.0h1.2v1.2h-1.2zM90.4 217.0h1.2v1.2h-1.2zM89.3 220.5h1.2v1.2h-1.2zM95.3 232.8h1.2v1.2h-1.2zM87.4 229.7h1.2v1.2h-1.2zM85.4 222.3h1.2v1.2h-1.2zM105.5 233.9h1.2v1.2h-1.2zM101.0 231.2h1.2v1.2h-1.2zM88.4 216.7h1.2v1.2h-1.2zM101.4 227.7h1.2v1.2h-1.2zM85.9 227.3h1.2v1.2h-1.2zM83.1 216.6h1.2v1.2h-1.2zM106.2 235.6h1.2v1.2h-1.2zM83.5 224.9h1.2v1.2h-1.2zM101.2 232.9h1.2v1.2h-1.2zM81.1 229.0h1.2v1.2h-1.2zM104.0 230.0h1.2v1.2h-1.2zM83.2 224.0h1.2v1.2h-1.2zM103.6 221.9h1.2v1.2h-1.2zM101.2 218.5h1.2v1.2h-1.2zM95.8 236.2h1.2v1.2h-1.2zM96.9 214.9h1.2v1.2h-1.2zM119.5 225.3h1.2v1.2h-1.2zM110.8 218.4h1.2v1.2h-1.2zM105.5 224.1h1.2v1.2h-1.2zM118.4 236.9h1.2v1.2h-1.2zM88.7 222.4h1.2v1.2h-1.2zM102.7 222.1h1.2v1.2h-1.2zM111.3 228.4h1.2v1.2h-1.2zM88.8 222.5h1.2v1.2h-1.2zM97.1 219.0h1.2v1.2h-1.2zM108.3 223.9h1.2v1.2h-1.2zM120.0 211.6h1.2v1.2h-1.2zM112.0 226.3h1.2v1.2h-1.2zM99.8 233.6h1.2v1.2h-1.2zM117.6 222.8h1.2v1.2h-1.2zM81.0 224.8h1.2v1.2h-1.2zM98.8 220.7h1.2v1.2h-1.2zM84.2 222.6h1.2v1.2h-1.2zM99.4 228.5h1.2v1.2h-1.2zM97.8 226.7h1.2v1.2h-1.2zM93.9 218.0h1.2v1.2h-1.2zM95.5 224.9h1.2v1.2h-1.2zM85.3 230.7h1.2v1.2h-1.2zM118.8 228.7h1.2v1.2h-1.2zM91.3 221.5h1.2v1.2h-1.2zM109.7 230.6h1.2v1.2h-1.2zM99.7 225.6h1.2v1.2h-1.2zM85.3 223.1h1.2v1.2h-1.2zM88.2 220.3h1.2v1.2h-1.2zM95.4 229.0h1.2v1.2h-1.2zM118.6 221.1h1.2v1.2h-1.2zM118.5 230.5h1.2v1.2h-1.2zM105.7 217.7h1.2v1.2h-1.2zM93.4 218.9h1.2v1.2h-1.2zM81.4 229.7h1.2v1.2h-1.2zM103.3 224.1h1.2v1.2h-1.2zM82.7 223.2h1.2v1.2h-1.2zM105.7 220.9h1.2v1.2h-1.2zM91.3 229.0h1.2v1.2h-1.2zM91.0 221.8h1.2v1.2h-1.2zM115.8 228.2h1.2v1.2h-1.2zM99.5 229.7h1.2v1.2h-1.2zM119.2 230.7h1.2v1.2h-1.2zM111.8 229.5h1.2v1.2h-1.2zM83.0 215.1h1.2v1.2h-1.2zM108.5 231.5h1.2v1.2h-1.2zM111.7 235.5h1.2v1.2h-1.2zM94.3 232.5h1.2v1.2h-1.2zM112.6 215.7h1.2v1.2h-1.2zM99.1 227.4h1.2v1.2h-1.2zM90.3 228.1h1.2v1.2h-1.2zM82.0 228.5h1.2v1.2h-1.2zM86.6 228.9h1.2v1.2h-1.2zM114.5 222.2h1.2v1.2h-1.2zM86.0 217.6h1.2v1.2h-1.2zM84.3 224.3h1.2v1.2h-1.2zM90.5 232.1h1.2v1.2h-1.2zM100.4 221.4h1.2v1.2h-1.2zM104.4 234.8h1.2v1.2h-1.2zM103.8 215.5h1.2v1.2h-1.2zM82.0 225.5h1.2v1.2h-1.2zM89.6 221.8h1.2v1.2h-1.2zM85.5 216.4h1.2v1.2h-1.2zM98.4 224.7h1.2v1.2h-1.2zM98.8 230.9h1.2v1.2h-1.2zM101.5 232.5h1.2v1.2h-1.2zM92.4 231.1h1.2v1.2h-1.2zM116.9 216.4h1.2v1.2h-1.2zM119.4 232.9h1.2v1.2h-1.2zM98.0 227.5h1.2v1.2h-1.2zM90.3 223.8h1.2v1.2h-1.2zM85.5 211.8h1.2v1.2h-1.2zM100.2 236.8h1.2v1.2h-1.2zM98.0 222.9h1.2v1.2h-1.2zM84.2 217.1h1.2v1.2h-1.2zM111.4 228.7h1.2v1.2h-1.2zM87.4 221.0h1.2v1.2h-1.2zM80.5 238.7h1.2v1.2h-1.2zM104.4 233.6h1.2v1.2h-1.2zM96.9 230.3h1.2v1.2h-1.2zM117.0 229.5h1.2v1.2h-1.2zM89.1 235.3h1.2v1.2h-1.2zM81.9 225.1h1.2v1.2h-1.2zM95.5 226.1h1.2v1.2h-1.2zM118.9 222.5h1.2v1.2h-1.2zM81.4 230.1h1.2v1.2h-1.2zM100.6 223.2h1.2v1.2h-1.2zM103.2 225.3h1.2v1.2h-1.2zM97.8 220.4h1.2v1.2h-1.2zM107.7 235.6h1.2v1.2h-1.2zM84.8 225.0h1.2v1.2h-1.2zM90.5 225.4h1.2v1.2h-1.2zM105.5 240.4h1.2v1.2h-1.2zM114.6 224.5h1.2v1.2h-1.2zM85.0 226.0h1.2v1.2h-1.2zM98.9 216.4h1.2v1.2h-1.2zM119.8 225.7h1.2v1.2h-1.2zM88.6 222.5h1.2v1.2h-1.2zM85.2 217.7h1.2v1.2h-1.2zM114.3 222.4h1.2v1.2h-1.2zM80.4 237.8h1.2v1.2h-1.2zM90.5 225.2h1.2v1.2h-1.2zM90.6 226.1h1.2v1.2h-1.2zM111.7 225.0h1.2v1.2h-1.2zM115.9 220.5h1.2v1.2h-1.2zM80.2 220.2h1.2v1.2h-1.2zM104.3 218.9h1.2v1.2h-1.2zM100.7 219.4h1.2v1.2h-1.2zM84.6 224.9h1.2v1.2h-1.2zM83.2 231.3h1.2v1.2h-1.2zM84.3 223.5h1.2v1.2h-1.2zM101.9 235.5h1.2v1.2h-1.2zM94.3 231.9h1.2v1.2h-1.2zM89.5 222.6h1.2v1.2h-1.2zM102.6 229.1h1.2v1.2h-1.2zM97.4 221.0h1.2v1.2h-1.2zM103.1 233.7h1.2v1.2h-1.2zM87.2 223.3h1.2v1.2h-1.2zM125.5 227.4h1.2v1.2h-1.2zM119.3 230.4h1.2v1.2h-1.2zM140.7 228.1h1.2v1.2h-1.2zM127.4 233.0h1.2v1.2h-1.2zM135.3 224.6h1.2v1.2h-1.2zM127.1 226.7h1.2v1.2h-1.2zM131.1 232.5h1.2v1.2h-1.2zM126.1 228.4h1.2v1.2h-1.2zM132.4 224.3h1.2v1.2h-1.2zM127.8 230.8h1.2v1.2h-1.2zM140.2 221.3h1.2v1.2h-1.2zM137.0 226.9h1.2v1.2h-1.2zM141.4 229.6h1.2v1.2h-1.2zM146.7 228.1h1.2v1.2h-1.2zM128.5 225.9h1.2v1.2h-1.2zM120.5 231.3h1.2v1.2h-1.2zM135.5 230.8h1.2v1.2h-1.2zM134.2 223.1h1.2v1.2h-1.2zM128.4 227.9h1.2v1.2h-1.2zM132.7 230.9h1.2v1.2h-1.2zM142.4 228.4h1.2v1.2h-1.2zM115.6 226.4h1.2v1.2h-1.2zM115.0 227.3h1.2v1.2h-1.2zM122.3 230.0h1.2v1.2h-1.2zM129.8 232.3h1.2v1.2h-1.2zM139.8 226.1h1.2v1.2h-1.2zM138.8 227.8h1.2v1.2h-1.2zM135.0 232.6h1.2v1.2h-1.2zM122.7 229.0h1.2v1.2h-1.2zM143.4 224.8h1.2v1.2h-1.2zM133.2 228.7h1.2v1.2h-1.2zM128.3 224.3h1.2v1.2h-1.2zM126.2 225.6h1.2v1.2h-1.2zM139.8 228.5h1.2v1.2h-1.2zM136.9 223.9h1.2v1.2h-1.2zM135.4 228.5h1.2v1.2h-1.2zM139.6 225.2h1.2v1.2h-1.2zM137.8 232.5h1.2v1.2h-1.2zM145.4 224.0h1.2v1.2h-1.2zM122.8 224.3h1.2v1.2h-1.2zM138.9 229.7h1.2v1.2h-1.2zM134.1 225.3h1.2v1.2h-1.2zM141.2 232.9h1.2v1.2h-1.2zM131.2 228.0h1.2v1.2h-1.2zM140.7 229.3h1.2v1.2h-1.2zM141.9 226.1h1.2v1.2h-1.2zM134.1 227.0h1.2v1.2h-1.2zM127.1 227.8h1.2v1.2h-1.2zM129.3 230.3h1.2v1.2h-1.2zM129.2 228.8h1.2v1.2h-1.2zM125.3 224.8h1.2v1.2h-1.2zM142.5 224.1h1.2v1.2h-1.2zM145.5 230.3h1.2v1.2h-1.2zM113.9 227.8h1.2v1.2h-1.2zM128.3 228.8h1.2v1.2h-1.2zM130.1 226.5h1.2v1.2h-1.2zM141.2 227.1h1.2v1.2h-1.2zM138.9 225.4h1.2v1.2h-1.2zM126.2 233.4h1.2v1.2h-1.2zM129.3 224.9h1.2v1.2h-1.2zM130.2 232.1h1.2v1.2h-1.2zM130.3 226.1h1.2v1.2h-1.2zM136.4 231.3h1.2v1.2h-1.2zM129.9 227.5h1.2v1.2h-1.2zM128.7 237.7h1.2v1.2h-1.2zM130.1 234.4h1.2v1.2h-1.2zM130.4 229.9h1.2v1.2h-1.2zM115.8 230.4h1.2v1.2h-1.2zM131.9 227.3h1.2v1.2h-1.2zM128.4 224.1h1.2v1.2h-1.2zM120.0 230.0h1.2v1.2h-1.2zM126.6 228.5h1.2v1.2h-1.2zM130.1 226.8h1.2v1.2h-1.2zM125.9 235.1h1.2v1.2h-1.2zM123.0 227.5h1.2v1.2h-1.2zM129.2 224.7h1.2v1.2h-1.2zM124.1 232.0h1.2v1.2h-1.2zM138.7 228.2h1.2v1.2h-1.2zM156.5 228.9h1.2v1.2h-1.2zM141.0 224.8h1.2v1.2h-1.2zM139.9 233.3h1.2v1.2h-1.2zM128.6 234.7h1.2v1.2h-1.2zM125.3 225.2h1.2v1.2h-1.2zM131.2 225.7h1.2v1.2h-1.2zM136.4 224.3h1.2v1.2h-1.2zM132.2 221.8h1.2v1.2h-1.2zM131.3 231.9h1.2v1.2h-1.2zM129.5 229.6h1.2v1.2h-1.2zM139.9 224.0h1.2v1.2h-1.2zM121.7 229.6h1.2v1.2h-1.2zM133.7 227.3h1.2v1.2h-1.2zM124.1 233.1h1.2v1.2h-1.2zM122.6 228.3h1.2v1.2h-1.2zM131.2 230.9h1.2v1.2h-1.2zM128.1 226.0h1.2v1.2h-1.2zM147.0 224.2h1.2v1.2h-1.2zM137.7 227.3h1.2v1.2h-1.2zM127.9 228.6h1.2v1.2h-1.2zM129.6 229.6h1.2v1.2h-1.2zM111.9 230.1h1.2v1.2h-1.2zM132.1 225.1h1.2v1.2h-1.2zM128.5 236.5h1.2v1.2h-1.2zM145.7 229.3h1.2v1.2h-1.2zM133.3 227.2h1.2v1.2h-1.2zM142.2 225.9h1.2v1.2h-1.2zM125.2 231.3h1.2v1.2h-1.2zM124.1 226.4h1.2v1.2h-1.2zM142.7 222.0h1.2v1.2h-1.2zM131.0 228.8h1.2v1.2h-1.2zM133.5 223.3h1.2v1.2h-1.2zM129.8 227.4h1.2v1.2h-1.2zM146.3 230.4h1.2v1.2h-1.2zM125.7 231.8h1.2v1.2h-1.2zM136.6 227.6h1.2v1.2h-1.2zM129.7 227.6h1.2v1.2h-1.2zM119.7 227.4h1.2v1.2h-1.2zM138.7 232.6h1.2v1.2h-1.2zM145.8 225.9h1.2v1.2h-1.2zM136.3 219.9h1.2v1.2h-1.2zM129.5 224.4h1.2v1.2h-1.2zM137.9 222.3h1.2v1.2h-1.2zM123.5 225.4h1.2v1.2h-1.2zM134.6 230.9h1.2v1.2h-1.2zM124.5 235.1h1.2v1.2h-1.2zM132.8 225.5h1.2v1.2h-1.2zM134.2 228.1h1.2v1.2h-1.2zM137.9 229.0h1.2v1.2h-1.2zM148.4 230.8h1.2v1.2h-1.2zM126.6 231.5h1.2v1.2h-1.2zM137.4 224.5h1.2v1.2h-1.2zM125.8 226.2h1.2v1.2h-1.2zM112.5 232.2h1.2v1.2h-1.2zM129.9 232.7h1.2v1.2h-1.2zM127.2 229.0h1.2v1.2h-1.2zM137.1 231.1h1.2v1.2h-1.2zM134.0 224.7h1.2v1.2h-1.2zM148.5 229.8h1.2v1.2h-1.2zM142.0 232.9h1.2v1.2h-1.2zM142.3 228.8h1.2v1.2h-1.2zM135.2 230.2h1.2v1.2h-1.2zM120.0 232.2h1.2v1.2h-1.2zM124.0 230.5h1.2v1.2h-1.2zM123.8 231.5h1.2v1.2h-1.2zM127.8 237.1h1.2v1.2h-1.2zM133.0 230.0h1.2v1.2h-1.2zM124.6 228.1h1.2v1.2h-1.2zM131.1 227.5h1.2v1.2h-1.2zM128.2 225.8h1.2v1.2h-1.2zM137.4 226.6h1.2v1.2h-1.2zM125.3 230.2h1.2v1.2h-1.2zM125.3 228.4h1.2v1.2h-1.2zM127.6 225.7h1.2v1.2h-1.2zM129.8 225.8h1.2v1.2h-1.2zM121.9 230.4h1.2v1.2h-1.2zM129.3 223.7h1.2v1.2h-1.2zM128.5 229.3h1.2v1.2h-1.2zM134.8 229.4h1.2v1.2h-1.2zM133.5 230.2h1.2v1.2h-1.2zM127.8 226.1h1.2v1.2h-1.2zM136.3 226.6h1.2v1.2h-1.2zM131.6 230.6h1.2v1.2h-1.2zM138.8 231.8h1.2v1.2h-1.2zM126.3 227.6h1.2v1.2h-1.2zM135.8 223.2h1.2v1.2h-1.2zM121.9 231.3h1.2v1.2h-1.2zM126.8 225.7h1.2v1.2h-1.2zM137.7 229.6h1.2v1.2h-1.2zM138.6 226.7h1.2v1.2h-1.2zM129.3 227.5h1.2v1.2h-1.2zM133.8 221.4h1.2v1.2h-1.2zM126.2 231.2h1.2v1.2h-1.2zM125.6 228.7h1.2v1.2h-1.2zM132.5 230.1h1.2v1.2h-1.2zM127.9 224.9h1.2v1.2h-1.2zM150.7 224.3h1.2v1.2h-1.2zM144.7 221.4h1.2v1.2h-1.2zM132.4 227.7h1.2v1.2h-1.2zM146.1 233.9h1.2v1.2h-1.2zM139.1 224.3h1.2v1.2h-1.2zM125.4 226.4h1.2v1.2h-1.2zM127.6 229.6h1.2v1.2h-1.2zM125.5 228.1h1.2v1.2h-1.2zM142.9 232.2h1.2v1.2h-1.2zM117.3 226.5h1.2v1.2h-1.2zM128.7 233.0h1.2v1.2h-1.2zM129.0 235.0h1.2v1.2h-1.2zM134.4 232.9h1.2v1.2h-1.2zM125.0 228.0h1.2v1.2h-1.2zM139.4 229.6h1.2v1.2h-1.2zM117.2 228.8h1.2v1.2h-1.2zM132.9 230.4h1.2v1.2h-1.2zM126.7 234.6h1.2v1.2h-1.2zM132.7 233.1h1.2v1.2h-1.2zM134.7 228.4h1.2v1.2h-1.2zM129.1 224.7h1.2v1.2h-1.2zM138.2 230.3h1.2v1.2h-1.2zM138.7 226.5h1.2v1.2h-1.2zM123.9 227.8h1.2v1.2h-1.2zM129.2 228.6h1.2v1.2h-1.2zM139.1 224.7h1.2v1.2h-1.2zM127.8 231.0h1.2v1.2h-1.2zM138.5 235.1h1.2v1.2h-1.2zM135.6 225.2h1.2v1.2h-1.2zM123.6 226.5h1.2v1.2h-1.2zM132.1 229.2h1.2v1.2h-1.2zM131.1 226.4h1.2v1.2h-1.2zM130.2 228.3h1.2v1.2h-1.2zM136.1 228.3h1.2v1.2h-1.2zM125.4 225.1h1.2v1.2h-1.2zM142.9 227.1h1.2v1.2h-1.2zM130.2 228.4h1.2v1.2h-1.2zM140.2 226.6h1.2v1.2h-1.2zM132.9 227.5h1.2v1.2h-1.2zM136.0 224.6h1.2v1.2h-1.2zM133.1 231.7h1.2v1.2h-1.2zM140.7 229.6h1.2v1.2h-1.2zM133.8 233.4h1.2v1.2h-1.2zM137.0 232.6h1.2v1.2h-1.2zM122.4 225.6h1.2v1.2h-1.2zM137.7 227.0h1.2v1.2h-1.2zM128.3 225.5h1.2v1.2h-1.2zM143.0 223.4h1.2v1.2h-1.2zM132.4 223.7h1.2v1.2h-1.2zM130.3 236.0h1.2v1.2h-1.2zM150.2 225.1h1.2v1.2h-1.2zM123.9 234.5h1.2v1.2h-1.2zM125.0 223.1h1.2v1.2h-1.2zM134.3 224.6h1.2v1.2h-1.2zM120.5 233.1h1.2v1.2h-1.2zM126.0 225.4h1.2v1.2h-1.2zM132.9 227.7h1.2v1.2h-1.2zM140.2 227.9h1.2v1.2h-1.2zM143.8 231.1h1.2v1.2h-1.2zM145.2 230.9h1.2v1.2h-1.2zM132.2 230.2h1.2v1.2h-1.2zM131.8 223.2h1.2v1.2h-1.2zM122.6 231.7h1.2v1.2h-1.2zM113.5 227.3h1.2v1.2h-1.2zM121.8 229.1h1.2v1.2h-1.2zM123.7 229.9h1.2v1.2h-1.2zM130.1 227.0h1.2v1.2h-1.2zM125.1 221.6h1.2v1.2h-1.2zM132.2 224.1h1.2v1.2h-1.2zM129.4 229.8h1.2v1.2h-1.2zM139.6 230.0h1.2v1.2h-1.2zM142.9 222.7h1.2v1.2h-1.2zM136.8 233.1h1.2v1.2h-1.2zM134.6 224.4h1.2v1.2h-1.2zM134.7 226.4h1.2v1.2h-1.2zM126.7 232.4h1.2v1.2h-1.2zM130.3 224.8h1.2v1.2h-1.2zM126.5 235.4h1.2v1.2h-1.2zM125.2 231.2h1.2v1.2h-1.2zM133.0 232.2h1.2v1.2h-1.2zM129.5 225.5h1.2v1.2h-1.2zM126.7 225.4h1.2v1.2h-1.2zM151.4 227.3h1.2v1.2h-1.2zM129.2 232.8h1.2v1.2h-1.2zM136.6 227.3h1.2v1.2h-1.2zM136.4 228.9h1.2v1.2h-1.2zM140.2 233.1h1.2v1.2h-1.2zM129.2 228.5h1.2v1.2h-1.2zM130.2 232.6h1.2v1.2h-1.2zM134.6 230.7h1.2v1.2h-1.2zM138.5 225.7h1.2v1.2h-1.2zM132.6 232.9h1.2v1.2h-1.2zM138.7 230.5h1.2v1.2h-1.2zM129.5 227.4h1.2v1.2h-1.2zM125.1 228.1h1.2v1.2h-1.2zM131.1 223.7h1.2v1.2h-1.2zM140.5 225.1h1.2v1.2h-1.2zM133.5 230.2h1.2v1.2h-1.2zM127.4 222.8h1.2v1.2h-1.2zM139.0 229.1h1.2v1.2h-1.2zM129.7 232.3h1.2v1.2h-1.2zM138.4 224.6h1.2v1.2h-1.2zM131.0 222.6h1.2v1.2h-1.2zM129.6 233.3h1.2v1.2h-1.2zM125.2 231.7h1.2v1.2h-1.2zM120.1 228.5h1.2v1.2h-1.2zM138.8 233.4h1.2v1.2h-1.2zM135.1 230.6h1.2v1.2h-1.2zM144.7 219.1h1.2v1.2h-1.2zM118.6 235.8h1.2v1.2h-1.2zM150.4 228.7h1.2v1.2h-1.2zM132.1 229.2h1.2v1.2h-1.2zM131.8 226.3h1.2v1.2h-1.2zM131.5 228.0h1.2v1.2h-1.2zM136.7 230.2h1.2v1.2h-1.2zM139.1 229.7h1.2v1.2h-1.2zM124.2 233.7h1.2v1.2h-1.2zM111.3 230.6h1.2v1.2h-1.2zM134.1 226.4h1.2v1.2h-1.2zM145.9 223.5h1.2v1.2h-1.2zM122.7 227.5h1.2v1.2h-1.2zM134.8 230.7h1.2v1.2h-1.2zM132.5 230.5h1.2v1.2h-1.2zM126.3 226.9h1.2v1.2h-1.2zM132.6 223.9h1.2v1.2h-1.2zM133.1 227.0h1.2v1.2h-1.2zM136.8 224.6h1.2v1.2h-1.2zM127.6 226.9h1.2v1.2h-1.2zM128.9 225.3h1.2v1.2h-1.2zM129.7 224.1h1.2v1.2h-1.2zM135.7 230.3h1.2v1.2h-1.2zM131.5 227.8h1.2v1.2h-1.2zM124.9 225.8h1.2v1.2h-1.2zM130.0 225.5h1.2v1.2h-1.2zM122.7 229.8h1.2v1.2h-1.2zM131.5 227.1h1.2v1.2h-1.2zM125.5 228.8h1.2v1.2h-1.2zM126.4 227.4h1.2v1.2h-1.2zM133.0 230.7h1.2v1.2h-1.2zM137.4 225.9h1.2v1.2h-1.2zM140.8 223.7h1.2v1.2h-1.2zM130.3 232.8h1.2v1.2h-1.2zM149.6 227.2h1.2v1.2h-1.2zM128.9 227.4h1.2v1.2h-1.2zM122.4 228.7h1.2v1.2h-1.2zM128.4 226.2h1.2v1.2h-1.2zM140.7 225.0h1.2v1.2h-1.2zM144.4 230.0h1.2v1.2h-1.2zM136.5 226.0h1.2v1.2h-1.2zM127.8 222.1h1.2v1.2h-1.2zM133.7 227.3h1.2v1.2h-1.2zM134.6 225.9h1.2v1.2h-1.2zM135.3 223.1h1.2v1.2h-1.2zM115.1 231.5h1.2v1.2h-1.2zM139.7 217.2h1.2v1.2h-1.2zM141.3 226.4h1.2v1.2h-1.2zM130.4 223.4h1.2v1.2h-1.2zM124.1 231.4h1.2v1.2h-1.2zM126.1 228.8h1.2v1.2h-1.2zM130.5 235.1h1.2v1.2h-1.2zM138.3 223.4h1.2v1.2h-1.2zM128.0 224.9h1.2v1.2h-1.2zM121.1 227.1h1.2v1.2h-1.2zM139.9 227.8h1.2v1.2h-1.2zM136.7 227.5h1.2v1.2h-1.2zM128.4 229.0h1.2v1.2h-1.2zM131.0 234.8h1.2v1.2h-1.2zM145.2 228.4h1.2v1.2h-1.2zM136.2 221.4h1.2v1.2h-1.2zM130.7 236.4h1.2v1.2h-1.2zM125.6 231.6h1.2v1.2h-1.2zM140.8 226.3h1.2v1.2h-1.2zM129.9 227.0h1.2v1.2h-1.2zM137.6 227.9h1.2v1.2h-1.2zM142.9 231.3h1.2v1.2h-1.2zM131.5 237.0h1.2v1.2h-1.2zM129.3 226.6h1.2v1.2h-1.2zM129.8 225.6h1.2v1.2h-1.2zM128.4 228.4h1.2v1.2h-1.2zM138.3 222.6h1.2v1.2h-1.2zM121.1 226.8h1.2v1.2h-1.2zM129.3 230.1h1.2v1.2h-1.2zM125.7 233.9h1.2v1.2h-1.2zM127.6 228.0h1.2v1.2h-1.2zM132.0 232.2h1.2v1.2h-1.2zM133.9 228.3h1.2v1.2h-1.2zM127.5 229.3h1.2v1.2h-1.2zM134.6 227.0h1.2v1.2h-1.2zM131.4 222.3h1.2v1.2h-1.2zM127.6 232.7h1.2v1.2h-1.2zM142.3 227.2h1.2v1.2h-1.2zM115.3 235.9h1.2v1.2h-1.2zM130.3 237.0h1.2v1.2h-1.2zM128.5 232.0h1.2v1.2h-1.2zM127.0 233.4h1.2v1.2h-1.2zM140.3 224.1h1.2v1.2h-1.2zM141.3 237.0h1.2v1.2h-1.2zM129.9 224.5h1.2v1.2h-1.2zM133.7 226.9h1.2v1.2h-1.2zM120.3 225.9h1.2v1.2h-1.2zM133.4 223.2h1.2v1.2h-1.2zM139.7 229.2h1.2v1.2h-1.2zM130.2 233.2h1.2v1.2h-1.2zM124.6 231.3h1.2v1.2h-1.2zM121.4 228.2h1.2v1.2h-1.2zM136.4 226.2h1.2v1.2h-1.2zM130.7 230.6h1.2v1.2h-1.2zM143.0 231.7h1.2v1.2h-1.2zM135.0 227.2h1.2v1.2h-1.2zM120.7 235.1h1.2v1.2h-1.2zM145.7 220.0h1.2v1.2h-1.2zM138.1 227.7h1.2v1.2h-1.2zM136.9 229.0h1.2v1.2h-1.2zM130.1 228.5h1.2v1.2h-1.2zM131.3 232.3h1.2v1.2h-1.2zM129.6 226.8h1.2v1.2h-1.2zM136.5 230.1h1.2v1.2h-1.2zM134.9 229.0h1.2v1.2h-1.2zM142.7 231.1h1.2v1.2h-1.2zM133.2 227.6h1.2v1.2h-1.2zM136.5 221.7h1.2v1.2h-1.2zM127.7 226.4h1.2v1.2h-1.2zM132.9 227.0h1.2v1.2h-1.2zM150.1 229.2h1.2v1.2h-1.2zM134.6 235.6h1.2v1.2h-1.2zM131.6 227.3h1.2v1.2h-1.2zM140.8 230.3h1.2v1.2h-1.2zM138.5 231.8h1.2v1.2h-1.2zM128.8 226.4h1.2v1.2h-1.2zM126.2 229.2h1.2v1.2h-1.2zM139.1 224.2h1.2v1.2h-1.2zM127.6 224.3h1.2v1.2h-1.2zM146.6 229.7h1.2v1.2h-1.2zM133.2 224.2h1.2v1.2h-1.2zM123.8 226.9h1.2v1.2h-1.2zM131.8 224.1h1.2v1.2h-1.2zM129.9 232.6h1.2v1.2h-1.2zM131.7 228.7h1.2v1.2h-1.2zM115.9 228.9h1.2v1.2h-1.2zM130.5 226.2h1.2v1.2h-1.2zM121.2 229.1h1.2v1.2h-1.2zM123.9 227.3h1.2v1.2h-1.2zM119.6 229.2h1.2v1.2h-1.2zM138.4 225.0h1.2v1.2h-1.2zM134.0 223.1h1.2v1.2h-1.2zM135.9 229.8h1.2v1.2h-1.2zM128.7 231.6h1.2v1.2h-1.2zM125.0 229.1h1.2v1.2h-1.2zM144.2 227.2h1.2v1.2h-1.2zM123.1 233.0h1.2v1.2h-1.2zM135.6 227.1h1.2v1.2h-1.2zM117.9 223.3h1.2v1.2h-1.2zM120.2 234.4h1.2v1.2h-1.2zM133.8 225.4h1.2v1.2h-1.2zM140.2 232.5h1.2v1.2h-1.2zM125.3 230.6h1.2v1.2h-1.2zM119.2 230.7h1.2v1.2h-1.2zM145.2 222.5h1.2v1.2h-1.2zM132.0 226.2h1.2v1.2h-1.2zM130.9 228.8h1.2v1.2h-1.2zM133.7 231.2h1.2v1.2h-1.2zM135.4 231.5h1.2v1.2h-1.2zM139.2 231.4h1.2v1.2h-1.2zM126.5 230.2h1.2v1.2h-1.2zM128.8 225.8h1.2v1.2h-1.2zM146.2 228.1h1.2v1.2h-1.2zM131.9 221.3h1.2v1.2h-1.2zM129.8 231.1h1.2v1.2h-1.2zM130.0 226.7h1.2v1.2h-1.2zM142.6 226.4h1.2v1.2h-1.2zM129.1 228.3h1.2v1.2h-1.2zM129.8 232.1h1.2v1.2h-1.2zM135.8 227.8h1.2v1.2h-1.2zM128.9 227.9h1.2v1.2h-1.2zM144.2 226.2h1.2v1.2h-1.2zM136.5 222.7h1.2v1.2h-1.2zM134.0 230.5h1.2v1.2h-1.2zM141.1 228.6h1.2v1.2h-1.2zM135.9 229.1h1.2v1.2h-1.2zM139.6 234.5h1.2v1.2h-1.2zM133.1 225.5h1.2v1.2h-1.2zM136.0 227.6h1.2v1.2h-1.2zM136.4 230.6h1.2v1.2h-1.2zM132.7 226.8h1.2v1.2h-1.2zM133.9 224.0h1.2v1.2h-1.2zM133.6 225.2h1.2v1.2h-1.2zM134.9 228.5h1.2v1.2h-1.2zM129.9 224.5h1.2v1.2h-1.2zM131.9 226.1h1.2v1.2h-1.2zM130.5 230.8h1.2v1.2h-1.2zM138.7 223.4h1.2v1.2h-1.2zM138.6 232.3h1.2v1.2h-1.2zM140.0 228.6h1.2v1.2h-1.2zM130.9 234.3h1.2v1.2h-1.2zM129.2 223.5h1.2v1.2h-1.2zM132.3 229.3h1.2v1.2h-1.2zM123.8 225.0h1.2v1.2h-1.2zM146.4 227.4h1.2v1.2h-1.2zM137.4 225.9h1.2v1.2h-1.2zM120.3 228.8h1.2v1.2h-1.2zM141.6 225.3h1.2v1.2h-1.2zM118.2 229.0h1.2v1.2h-1.2zM129.5 228.6h1.2v1.2h-1.2zM123.8 228.1h1.2v1.2h-1.2zM127.5 231.7h1.2v1.2h-1.2zM132.7 231.2h1.2v1.2h-1.2zM131.2 221.3h1.2v1.2h-1.2zM117.0 231.5h1.2v1.2h-1.2zM138.1 230.7h1.2v1.2h-1.2zM131.0 222.5h1.2v1.2h-1.2zM127.9 230.1h1.2v1.2h-1.2zM141.9 226.3h1.2v1.2h-1.2zM127.4 226.2h1.2v1.2h-1.2zM139.2 230.6h1.2v1.2h-1.2zM118.0 233.7h1.2v1.2h-1.2zM124.7 224.1h1.2v1.2h-1.2zM119.7 227.0h1.2v1.2h-1.2zM148.9 235.4h1.2v1.2h-1.2zM122.3 227.0h1.2v1.2h-1.2zM132.8 229.7h1.2v1.2h-1.2zM128.0 223.4h1.2v1.2h-1.2zM128.5 226.4h1.2v1.2h-1.2zM118.2 230.1h1.2v1.2h-1.2zM120.6 223.6h1.2v1.2h-1.2zM142.9 230.5h1.2v1.2h-1.2zM142.4 227.8h1.2v1.2h-1.2zM128.5 228.4h1.2v1.2h-1.2zM121.4 231.8h1.2v1.2h-1.2zM133.6 227.2h1.2v1.2h-1.2zM117.6 229.3h1.2v1.2h-1.2zM143.7 232.2h1.2v1.2h-1.2zM138.1 226.6h1.2v1.2h-1.2zM132.6 230.2h1.2v1.2h-1.2zM133.0 231.8h1.2v1.2h-1.2zM126.6 221.1h1.2v1.2h-1.2zM113.5 227.0h1.2v1.2h-1.2zM121.3 231.5h1.2v1.2h-1.2zM139.6 227.7h1.2v1.2h-1.2zM135.6 228.3h1.2v1.2h-1.2zM132.9 226.7h1.2v1.2h-1.2zM128.6 232.7h1.2v1.2h-1.2zM129.6 228.4h1.2v1.2h-1.2zM140.5 230.9h1.2v1.2h-1.2zM128.7 229.5h1.2v1.2h-1.2zM124.0 229.5h1.2v1.2h-1.2zM133.9 228.2h1.2v1.2h-1.2zM132.8 229.5h1.2v1.2h-1.2zM112.7 227.3h1.2v1.2h-1.2zM132.2 226.7h1.2v1.2h-1.2zM124.4 228.2h1.2v1.2h-1.2zM143.6 226.6h1.2v1.2h-1.2zM126.7 227.2h1.2v1.2h-1.2zM122.7 230.8h1.2v1.2h-1.2zM124.2 232.1h1.2v1.2h-1.2zM138.4 229.7h1.2v1.2h-1.2zM139.3 227.4h1.2v1.2h-1.2zM118.5 229.4h1.2v1.2h-1.2zM136.4 222.8h1.2v1.2h-1.2zM122.5 232.9h1.2v1.2h-1.2zM134.9 232.6h1.2v1.2h-1.2zM136.6 228.2h1.2v1.2h-1.2zM134.8 231.0h1.2v1.2h-1.2zM131.4 227.7h1.2v1.2h-1.2zM133.9 227.1h1.2v1.2h-1.2zM149.6 224.2h1.2v1.2h-1.2zM120.3 225.1h1.2v1.2h-1.2zM139.4 226.3h1.2v1.2h-1.2zM132.8 227.6h1.2v1.2h-1.2zM133.7 223.3h1.2v1.2h-1.2zM132.2 226.4h1.2v1.2h-1.2zM139.7 229.7h1.2v1.2h-1.2zM122.2 226.0h1.2v1.2h-1.2zM135.9 232.0h1.2v1.2h-1.2zM137.3 227.4h1.2v1.2h-1.2zM139.9 219.7h1.2v1.2h-1.2zM127.6 225.5h1.2v1.2h-1.2zM123.9 231.0h1.2v1.2h-1.2zM133.7 229.2h1.2v1.2h-1.2zM130.6 230.6h1.2v1.2h-1.2zM137.5 225.9h1.2v1.2h-1.2zM138.6 224.6h1.2v1.2h-1.2zM144.8 222.8h1.2v1.2h-1.2zM129.4 225.0h1.2v1.2h-1.2zM131.9 232.8h1.2v1.2h-1.2zM126.0 234.9h1.2v1.2h-1.2zM142.2 228.7h1.2v1.2h-1.2zM127.2 231.8h1.2v1.2h-1.2zM110.1 227.8h1.2v1.2h-1.2zM138.8 227.6h1.2v1.2h-1.2zM150.3 224.4h1.2v1.2h-1.2zM121.6 228.6h1.2v1.2h-1.2zM136.0 233.7h1.2v1.2h-1.2zM118.3 230.1h1.2v1.2h-1.2zM141.1 225.3h1.2v1.2h-1.2zM128.2 224.6h1.2v1.2h-1.2zM137.4 230.7h1.2v1.2h-1.2zM136.0 228.8h1.2v1.2h-1.2zM139.1 227.3h1.2v1.2h-1.2zM137.0 230.7h1.2v1.2h-1.2zM141.4 229.2h1.2v1.2h-1.2zM132.2 230.7h1.2v1.2h-1.2zM119.9 223.5h1.2v1.2h-1.2zM143.8 227.8h1.2v1.2h-1.2zM123.7 227.2h1.2v1.2h-1.2zM130.5 228.7h1.2v1.2h-1.2zM125.8 232.3h1.2v1.2h-1.2zM118.7 239.0h1.2v1.2h-1.2zM123.4 234.7h1.2v1.2h-1.2zM136.7 222.3h1.2v1.2h-1.2zM122.3 229.4h1.2v1.2h-1.2zM133.7 226.8h1.2v1.2h-1.2zM131.7 228.9h1.2v1.2h-1.2zM122.9 229.4h1.2v1.2h-1.2zM148.8 224.7h1.2v1.2h-1.2zM123.9 231.3h1.2v1.2h-1.2zM141.8 231.0h1.2v1.2h-1.2zM126.8 228.6h1.2v1.2h-1.2zM133.1 227.5h1.2v1.2h-1.2zM134.6 231.8h1.2v1.2h-1.2zM135.8 228.0h1.2v1.2h-1.2zM130.1 234.6h1.2v1.2h-1.2zM122.2 236.0h1.2v1.2h-1.2zM137.2 228.2h1.2v1.2h-1.2zM125.9 235.1h1.2v1.2h-1.2zM140.9 230.6h1.2v1.2h-1.2zM147.5 220.9h1.2v1.2h-1.2zM132.4 227.3h1.2v1.2h-1.2zM126.1 229.1h1.2v1.2h-1.2zM135.7 229.8h1.2v1.2h-1.2zM130.5 224.0h1.2v1.2h-1.2zM135.9 230.1h1.2v1.2h-1.2zM147.8 230.1h1.2v1.2h-1.2zM131.7 224.5h1.2v1.2h-1.2zM152.4 224.2h1.2v1.2h-1.2zM133.1 230.8h1.2v1.2h-1.2zM135.5 232.5h1.2v1.2h-1.2zM123.7 226.8h1.2v1.2h-1.2zM132.9 224.1h1.2v1.2h-1.2zM126.9 233.5h1.2v1.2h-1.2zM133.9 227.8h1.2v1.2h-1.2zM127.2 228.9h1.2v1.2h-1.2zM131.4 224.8h1.2v1.2h-1.2zM137.6 223.5h1.2v1.2h-1.2zM141.4 226.4h1.2v1.2h-1.2zM114.1 224.7h1.2v1.2h-1.2zM133.8 225.2h1.2v1.2h-1.2zM145.5 231.8h1.2v1.2h-1.2zM147.8 230.0h1.2v1.2h-1.2zM142.0 225.4h1.2v1.2h-1.2zM141.6 226.0h1.2v1.2h-1.2zM131.2 223.8h1.2v1.2h-1.2zM132.0 229.7h1.2v1.2h-1.2zM131.1 224.7h1.2v1.2h-1.2zM138.6 230.9h1.2v1.2h-1.2zM130.9 231.1h1.2v1.2h-1.2zM139.2 224.4h1.2v1.2h-1.2zM131.3 222.1h1.2v1.2h-1.2zM123.6 230.6h1.2v1.2h-1.2zM124.8 230.3h1.2v1.2h-1.2zM134.4 221.1h1.2v1.2h-1.2zM127.8 233.9h1.2v1.2h-1.2zM131.7 228.8h1.2v1.2h-1.2zM126.2 223.4h1.2v1.2h-1.2zM119.3 239.3h1.2v1.2h-1.2zM130.2 225.6h1.2v1.2h-1.2zM132.5 221.7h1.2v1.2h-1.2zM142.4 233.3h1.2v1.2h-1.2zM125.8 230.0h1.2v1.2h-1.2zM124.6 231.9h1.2v1.2h-1.2zM125.1 228.5h1.2v1.2h-1.2zM141.7 229.3h1.2v1.2h-1.2zM129.1 223.4h1.2v1.2h-1.2zM119.2 233.6h1.2v1.2h-1.2zM135.6 228.2h1.2v1.2h-1.2zM141.4 228.0h1.2v1.2h-1.2zM126.0 228.5h1.2v1.2h-1.2zM130.8 228.4h1.2v1.2h-1.2zM151.0 228.6h1.2v1.2h-1.2zM133.7 227.3h1.2v1.2h-1.2zM126.3 225.5h1.2v1.2h-1.2zM117.0 228.1h1.2v1.2h-1.2zM119.8 223.1h1.2v1.2h-1.2zM124.3 222.1h1.2v1.2h-1.2zM142.3 231.7h1.2v1.2h-1.2zM124.1 236.1h1.2v1.2h-1.2zM136.7 219.3h1.2v1.2h-1.2zM131.8 225.0h1.2v1.2h-1.2zM118.0 228.7h1.2v1.2h-1.2zM140.6 229.1h1.2v1.2h-1.2zM120.2 227.1h1.2v1.2h-1.2zM125.7 232.8h1.2v1.2h-1.2zM130.8 225.1h1.2v1.2h-1.2zM124.5 222.3h1.2v1.2h-1.2zM125.0 232.0h1.2v1.2h-1.2zM116.7 230.4h1.2v1.2h-1.2zM130.7 231.3h1.2v1.2h-1.2zM122.7 232.3h1.2v1.2h-1.2zM143.7 235.1h1.2v1.2h-1.2zM118.9 229.4h1.2v1.2h-1.2zM129.9 229.0h1.2v1.2h-1.2zM123.9 232.0h1.2v1.2h-1.2zM149.9 231.9h1.2v1.2h-1.2zM124.1 227.1h1.2v1.2h-1.2zM137.3 228.3h1.2v1.2h-1.2zM125.6 233.2h1.2v1.2h-1.2zM135.6 231.5h1.2v1.2h-1.2zM130.2 232.9h1.2v1.2h-1.2zM127.9 224.9h1.2v1.2h-1.2zM131.5 223.6h1.2v1.2h-1.2zM141.4 230.0h1.2v1.2h-1.2zM118.4 230.2h1.2v1.2h-1.2zM138.2 226.6h1.2v1.2h-1.2zM134.8 226.1h1.2v1.2h-1.2zM131.0 228.2h1.2v1.2h-1.2zM135.3 224.7h1.2v1.2h-1.2zM122.7 230.3h1.2v1.2h-1.2zM127.6 230.5h1.2v1.2h-1.2zM127.6 224.2h1.2v1.2h-1.2zM137.3 228.8h1.2v1.2h-1.2zM137.3 226.7h1.2v1.2h-1.2zM128.7 233.0h1.2v1.2h-1.2zM118.3 235.6h1.2v1.2h-1.2zM135.6 227.8h1.2v1.2h-1.2zM132.2 230.4h1.2v1.2h-1.2zM125.5 229.9h1.2v1.2h-1.2zM124.1 222.7h1.2v1.2h-1.2zM133.1 228.6h1.2v1.2h-1.2zM136.6 229.9h1.2v1.2h-1.2zM137.0 230.6h1.2v1.2h-1.2zM123.3 233.3h1.2v1.2h-1.2zM152.5 224.6h1.2v1.2h-1.2zM121.7 231.6h1.2v1.2h-1.2zM138.7 231.2h1.2v1.2h-1.2zM143.6 222.6h1.2v1.2h-1.2zM134.5 229.7h1.2v1.2h-1.2zM141.3 224.5h1.2v1.2h-1.2zM131.7 227.1h1.2v1.2h-1.2zM130.3 228.0h1.2v1.2h-1.2zM130.3 222.4h1.2v1.2h-1.2zM131.2 228.7h1.2v1.2h-1.2zM128.5 216.5h1.2v1.2h-1.2zM126.1 226.6h1.2v1.2h-1.2zM124.7 234.5h1.2v1.2h-1.2zM138.8 227.1h1.2v1.2h-1.2zM136.2 239.3h1.2v1.2h-1.2zM123.9 230.7h1.2v1.2h-1.2zM126.8 233.9h1.2v1.2h-1.2zM140.2 227.2h1.2v1.2h-1.2zM136.3 225.2h1.2v1.2h-1.2zM119.1 232.4h1.2v1.2h-1.2zM144.4 226.2h1.2v1.2h-1.2zM127.4 222.6h1.2v1.2h-1.2zM148.4 222.8h1.2v1.2h-1.2zM123.9 228.4h1.2v1.2h-1.2zM141.0 227.7h1.2v1.2h-1.2zM131.4 228.5h1.2v1.2h-1.2zM138.2 227.7h1.2v1.2h-1.2zM132.8 228.0h1.2v1.2h-1.2zM122.8 233.8h1.2v1.2h-1.2zM126.1 224.3h1.2v1.2h-1.2zM128.1 228.8h1.2v1.2h-1.2zM138.0 222.8h1.2v1.2h-1.2zM121.6 229.9h1.2v1.2h-1.2zM134.5 224.4h1.2v1.2h-1.2zM122.6 229.8h1.2v1.2h-1.2zM130.4 222.9h1.2v1.2h-1.2zM124.6 234.1h1.2v1.2h-1.2zM123.2 232.8h1.2v1.2h-1.2zM119.5 234.6h1.2v1.2h-1.2zM144.1 225.1h1.2v1.2h-1.2zM126.2 231.0h1.2v1.2h-1.2zM121.8 231.2h1.2v1.2h-1.2zM141.1 228.4h1.2v1.2h-1.2zM134.1 227.6h1.2v1.2h-1.2zM139.4 224.9h1.2v1.2h-1.2zM144.0 227.2h1.2v1.2h-1.2zM129.0 223.0h1.2v1.2h-1.2zM128.1 229.5h1.2v1.2h-1.2zM141.3 222.0h1.2v1.2h-1.2zM130.5 226.1h1.2v1.2h-1.2zM122.1 229.3h1.2v1.2h-1.2zM125.6 231.9h1.2v1.2h-1.2zM110.4 232.8h1.2v1.2h-1.2zM116.6 223.0h1.2v1.2h-1.2zM135.6 226.9h1.2v1.2h-1.2zM132.5 225.0h1.2v1.2h-1.2zM123.3 226.6h1.2v1.2h-1.2zM131.1 225.5h1.2v1.2h-1.2zM128.2 225.7h1.2v1.2h-1.2zM133.3 224.3h1.2v1.2h-1.2zM115.2 220.8h1.2v1.2h-1.2zM131.4 228.7h1.2v1.2h-1.2zM139.0 225.2h1.2v1.2h-1.2zM122.6 224.1h1.2v1.2h-1.2zM137.4 225.7h1.2v1.2h-1.2zM139.2 227.4h1.2v1.2h-1.2zM129.4 222.2h1.2v1.2h-1.2zM126.2 231.6h1.2v1.2h-1.2zM126.7 231.2h1.2v1.2h-1.2zM118.6 233.1h1.2v1.2h-1.2zM153.3 230.3h1.2v1.2h-1.2zM134.0 223.9h1.2v1.2h-1.2zM127.4 226.5h1.2v1.2h-1.2zM133.0 221.3h1.2v1.2h-1.2zM124.7 231.7h1.2v1.2h-1.2zM132.7 230.9h1.2v1.2h-1.2zM138.2 223.9h1.2v1.2h-1.2zM121.0 230.9h1.2v1.2h-1.2zM131.8 228.6h1.2v1.2h-1.2zM125.1 232.5h1.2v1.2h-1.2zM135.4 232.0h1.2v1.2h-1.2zM128.7 231.0h1.2v1.2h-1.2zM131.0 225.2h1.2v1.2h-1.2zM130.9 222.8h1.2v1.2h-1.2zM130.1 229.1h1.2v1.2h-1.2zM136.9 224.3h1.2v1.2h-1.2zM121.1 226.8h1.2v1.2h-1.2zM115.3 227.6h1.2v1.2h-1.2zM152.0 227.1h1.2v1.2h-1.2zM125.6 226.6h1.2v1.2h-1.2zM145.3 223.1h1.2v1.2h-1.2zM130.6 228.2h1.2v1.2h-1.2zM125.8 226.4h1.2v1.2h-1.2zM118.4 226.7h1.2v1.2h-1.2zM141.7 232.4h1.2v1.2h-1.2zM129.3 231.0h1.2v1.2h-1.2zM135.1 228.5h1.2v1.2h-1.2zM130.4 232.7h1.2v1.2h-1.2zM136.0 227.2h1.2v1.2h-1.2zM129.7 231.8h1.2v1.2h-1.2zM126.9 226.3h1.2v1.2h-1.2zM129.4 226.9h1.2v1.2h-1.2zM141.4 228.7h1.2v1.2h-1.2zM130.8 226.6h1.2v1.2h-1.2zM142.6 228.9h1.2v1.2h-1.2zM147.8 230.1h1.2v1.2h-1.2zM129.8 226.7h1.2v1.2h-1.2zM129.3 229.2h1.2v1.2h-1.2zM137.7 229.5h1.2v1.2h-1.2zM143.8 222.1h1.2v1.2h-1.2zM131.7 223.5h1.2v1.2h-1.2zM123.4 227.1h1.2v1.2h-1.2zM126.4 225.5h1.2v1.2h-1.2zM119.6 233.4h1.2v1.2h-1.2zM129.0 231.9h1.2v1.2h-1.2zM122.9 221.2h1.2v1.2h-1.2zM126.8 231.8h1.2v1.2h-1.2zM127.1 230.2h1.2v1.2h-1.2zM123.1 233.9h1.2v1.2h-1.2zM134.9 231.7h1.2v1.2h-1.2zM129.3 233.0h1.2v1.2h-1.2zM132.1 226.7h1.2v1.2h-1.2zM126.5 229.0h1.2v1.2h-1.2zM124.4 224.9h1.2v1.2h-1.2zM132.5 230.8h1.2v1.2h-1.2zM129.2 231.5h1.2v1.2h-1.2zM143.9 222.9h1.2v1.2h-1.2zM133.5 224.9h1.2v1.2h-1.2zM126.5 229.5h1.2v1.2h-1.2zM112.9 232.1h1.2v1.2h-1.2zM138.1 229.7h1.2v1.2h-1.2zM136.6 234.2h1.2v1.2h-1.2zM128.6 232.4h1.2v1.2h-1.2zM142.8 229.1h1.2v1.2h-1.2zM117.5 229.1h1.2v1.2h-1.2zM129.2 223.0h1.2v1.2h-1.2zM131.0 231.0h1.2v1.2h-1.2zM129.5 228.0h1.2v1.2h-1.2zM143.0 225.3h1.2v1.2h-1.2zM124.1 229.2h1.2v1.2h-1.2zM140.3 229.7h1.2v1.2h-1.2zM132.1 226.7h1.2v1.2h-1.2zM141.1 230.6h1.2v1.2h-1.2zM117.9 230.8h1.2v1.2h-1.2zM112.7 235.2h1.2v1.2h-1.2zM136.3 225.8h1.2v1.2h-1.2zM121.4 228.3h1.2v1.2h-1.2zM117.8 231.6h1.2v1.2h-1.2zM127.5 222.7h1.2v1.2h-1.2zM131.3 232.5h1.2v1.2h-1.2zM121.6 228.1h1.2v1.2h-1.2zM145.7 227.8h1.2v1.2h-1.2zM127.2 229.4h1.2v1.2h-1.2zM137.6 224.4h1.2v1.2h-1.2zM130.7 222.9h1.2v1.2h-1.2zM119.1 224.2h1.2v1.2h-1.2zM138.1 228.9h1.2v1.2h-1.2zM137.2 232.1h1.2v1.2h-1.2zM131.9 229.2h1.2v1.2h-1.2zM134.7 229.7h1.2v1.2h-1.2zM123.2 228.2h1.2v1.2h-1.2zM130.3 228.6h1.2v1.2h-1.2zM125.6 228.5h1.2v1.2h-1.2zM133.7 228.8h1.2v1.2h-1.2zM136.1 230.8h1.2v1.2h-1.2zM135.8 231.3h1.2v1.2h-1.2zM138.1 232.6h1.2v1.2h-1.2zM136.4 225.8h1.2v1.2h-1.2zM149.7 230.6h1.2v1.2h-1.2zM141.3 230.0h1.2v1.2h-1.2zM131.9 224.4h1.2v1.2h-1.2zM134.9 226.9h1.2v1.2h-1.2zM128.4 221.3h1.2v1.2h-1.2zM143.6 223.3h1.2v1.2h-1.2zM122.9 230.8h1.2v1.2h-1.2zM135.9 225.3h1.2v1.2h-1.2zM131.4 229.3h1.2v1.2h-1.2zM132.7 230.1h1.2v1.2h-1.2zM137.6 226.6h1.2v1.2h-1.2zM118.8 237.0h1.2v1.2h-1.2zM128.5 225.3h1.2v1.2h-1.2zM137.4 229.9h1.2v1.2h-1.2zM126.7 236.9h1.2v1.2h-1.2zM113.1 234.5h1.2v1.2h-1.2zM131.2 229.5h1.2v1.2h-1.2zM134.0 227.4h1.2v1.2h-1.2zM134.0 223.7h1.2v1.2h-1.2zM128.4 235.0h1.2v1.2h-1.2zM111.3 234.4h1.2v1.2h-1.2zM114.0 227.0h1.2v1.2h-1.2zM138.4 226.4h1.2v1.2h-1.2zM127.0 223.6h1.2v1.2h-1.2zM130.6 227.9h1.2v1.2h-1.2zM126.5 223.5h1.2v1.2h-1.2zM132.7 229.7h1.2v1.2h-1.2zM140.4 229.4h1.2v1.2h-1.2zM143.4 231.5h1.2v1.2h-1.2zM109.4 236.1h1.2v1.2h-1.2zM130.7 224.9h1.2v1.2h-1.2zM134.9 231.4h1.2v1.2h-1.2zM119.4 225.2h1.2v1.2h-1.2zM136.9 226.0h1.2v1.2h-1.2zM142.9 228.1h1.2v1.2h-1.2zM127.2 224.2h1.2v1.2h-1.2zM136.2 222.1h1.2v1.2h-1.2zM121.3 224.8h1.2v1.2h-1.2zM144.8 233.1h1.2v1.2h-1.2zM129.8 227.2h1.2v1.2h-1.2zM137.0 232.2h1.2v1.2h-1.2zM125.2 236.5h1.2v1.2h-1.2zM129.9 232.4h1.2v1.2h-1.2zM113.0 229.9h1.2v1.2h-1.2zM126.0 235.7h1.2v1.2h-1.2zM129.8 224.2h1.2v1.2h-1.2zM146.8 224.7h1.2v1.2h-1.2zM131.5 224.1h1.2v1.2h-1.2zM136.8 228.6h1.2v1.2h-1.2zM129.2 227.2h1.2v1.2h-1.2zM127.0 226.3h1.2v1.2h-1.2zM120.5 233.5h1.2v1.2h-1.2zM138.5 223.0h1.2v1.2h-1.2zM122.4 230.6h1.2v1.2h-1.2zM149.2 226.1h1.2v1.2h-1.2zM129.0 227.8h1.2v1.2h-1.2zM133.4 227.6h1.2v1.2h-1.2zM140.0 231.0h1.2v1.2h-1.2zM135.8 233.4h1.2v1.2h-1.2zM129.7 226.7h1.2v1.2h-1.2zM154.8 219.7h1.2v1.2h-1.2zM119.3 221.4h1.2v1.2h-1.2zM134.3 224.5h1.2v1.2h-1.2zM139.8 220.4h1.2v1.2h-1.2zM130.4 227.1h1.2v1.2h-1.2zM123.0 233.0h1.2v1.2h-1.2zM128.4 230.2h1.2v1.2h-1.2zM127.4 229.3h1.2v1.2h-1.2zM128.0 229.0h1.2v1.2h-1.2zM130.7 226.1h1.2v1.2h-1.2zM134.9 227.5h1.2v1.2h-1.2zM123.9 225.5h1.2v1.2h-1.2zM135.0 232.7h1.2v1.2h-1.2zM121.2 227.9h1.2v1.2h-1.2zM135.0 231.7h1.2v1.2h-1.2zM137.1 223.8h1.2v1.2h-1.2zM131.8 231.5h1.2v1.2h-1.2zM133.4 227.5h1.2v1.2h-1.2zM122.2 229.8h1.2v1.2h-1.2zM131.0 228.6h1.2v1.2h-1.2zM143.3 231.4h1.2v1.2h-1.2zM125.3 229.8h1.2v1.2h-1.2zM129.1 229.0h1.2v1.2h-1.2zM144.3 230.4h1.2v1.2h-1.2zM131.8 226.1h1.2v1.2h-1.2zM130.2 229.8h1.2v1.2h-1.2zM127.6 232.5h1.2v1.2h-1.2zM131.7 224.3h1.2v1.2h-1.2zM147.5 217.0h1.2v1.2h-1.2zM129.4 228.2h1.2v1.2h-1.2zM139.2 231.5h1.2v1.2h-1.2zM142.9 232.7h1.2v1.2h-1.2zM134.0 228.6h1.2v1.2h-1.2zM139.5 227.6h1.2v1.2h-1.2zM121.6 227.7h1.2v1.2h-1.2zM136.7 230.0h1.2v1.2h-1.2zM122.8 233.3h1.2v1.2h-1.2zM133.9 223.0h1.2v1.2h-1.2zM135.2 231.5h1.2v1.2h-1.2zM135.7 227.0h1.2v1.2h-1.2zM125.2 232.8h1.2v1.2h-1.2zM133.3 228.2h1.2v1.2h-1.2zM128.4 225.1h1.2v1.2h-1.2zM116.8 228.5h1.2v1.2h-1.2zM140.2 230.2h1.2v1.2h-1.2zM126.2 234.1h1.2v1.2h-1.2zM129.7 225.1h1.2v1.2h-1.2zM139.2 232.5h1.2v1.2h-1.2zM128.4 224.5h1.2v1.2h-1.2zM131.0 220.1h1.2v1.2h-1.2zM131.9 233.6h1.2v1.2h-1.2zM133.6 225.7h1.2v1.2h-1.2zM137.1 226.2h1.2v1.2h-1.2zM141.4 226.3h1.2v1.2h-1.2zM147.5 225.8h1.2v1.2h-1.2zM133.0 225.0h1.2v1.2h-1.2zM121.5 230.5h1.2v1.2h-1.2zM134.2 224.8h1.2v1.2h-1.2zM135.9 226.6h1.2v1.2h-1.2zM127.2 228.5h1.2v1.2h-1.2zM134.6 230.6h1.2v1.2h-1.2zM141.2 228.8h1.2v1.2h-1.2zM125.8 226.6h1.2v1.2h-1.2zM134.4 224.0h1.2v1.2h-1.2zM130.2 227.2h1.2v1.2h-1.2zM130.7 229.1h1.2v1.2h-1.2zM139.6 233.3h1.2v1.2h-1.2zM138.4 231.3h1.2v1.2h-1.2zM123.1 232.7h1.2v1.2h-1.2zM141.6 222.8h1.2v1.2h-1.2zM151.3 224.7h1.2v1.2h-1.2zM112.8 236.1h1.2v1.2h-1.2zM132.0 225.6h1.2v1.2h-1.2zM127.0 232.5h1.2v1.2h-1.2zM133.5 226.9h1.2v1.2h-1.2zM140.5 224.4h1.2v1.2h-1.2zM124.8 227.1h1.2v1.2h-1.2zM125.6 231.3h1.2v1.2h-1.2zM129.7 224.9h1.2v1.2h-1.2zM127.9 221.9h1.2v1.2h-1.2zM132.8 228.6h1.2v1.2h-1.2zM136.3 227.2h1.2v1.2h-1.2zM134.6 224.9h1.2v1.2h-1.2zM131.7 228.9h1.2v1.2h-1.2zM122.0 231.3h1.2v1.2h-1.2zM132.6 228.5h1.2v1.2h-1.2zM127.8 235.6h1.2v1.2h-1.2zM131.5 225.8h1.2v1.2h-1.2zM124.8 231.0h1.2v1.2h-1.2zM129.9 225.8h1.2v1.2h-1.2zM125.8 232.1h1.2v1.2h-1.2zM132.2 232.0h1.2v1.2h-1.2zM131.4 224.3h1.2v1.2h-1.2zM138.3 228.9h1.2v1.2h-1.2zM126.4 227.8h1.2v1.2h-1.2zM123.9 231.9h1.2v1.2h-1.2zM128.2 230.3h1.2v1.2h-1.2zM133.5 227.3h1.2v1.2h-1.2zM134.4 227.3h1.2v1.2h-1.2zM122.3 227.8h1.2v1.2h-1.2zM122.3 231.8h1.2v1.2h-1.2zM136.6 225.9h1.2v1.2h-1.2zM136.3 228.8h1.2v1.2h-1.2zM139.1 224.5h1.2v1.2h-1.2zM131.7 225.0h1.2v1.2h-1.2zM126.2 233.6h1.2v1.2h-1.2zM115.8 226.7h1.2v1.2h-1.2zM135.3 230.7h1.2v1.2h-1.2zM125.4 222.0h1.2v1.2h-1.2zM118.1 230.9h1.2v1.2h-1.2zM140.1 230.7h1.2v1.2h-1.2zM125.8 233.5h1.2v1.2h-1.2zM130.0 230.6h1.2v1.2h-1.2zM130.0 234.0h1.2v1.2h-1.2zM127.5 221.4h1.2v1.2h-1.2zM129.0 229.3h1.2v1.2h-1.2zM133.7 225.7h1.2v1.2h-1.2zM129.7 224.7h1.2v1.2h-1.2zM129.7 228.9h1.2v1.2h-1.2zM133.4 233.9h1.2v1.2h-1.2zM115.9 231.6h1.2v1.2h-1.2zM134.9 224.1h1.2v1.2h-1.2zM132.0 228.3h1.2v1.2h-1.2zM123.7 231.6h1.2v1.2h-1.2zM146.4 229.4h1.2v1.2h-1.2zM137.6 231.5h1.2v1.2h-1.2zM130.5 231.8h1.2v1.2h-1.2zM125.2 229.6h1.2v1.2h-1.2zM137.0 232.4h1.2v1.2h-1.2zM129.3 227.6h1.2v1.2h-1.2zM135.1 227.8h1.2v1.2h-1.2zM132.6 231.1h1.2v1.2h-1.2zM125.5 231.9h1.2v1.2h-1.2zM134.5 227.2h1.2v1.2h-1.2zM121.8 227.1h1.2v1.2h-1.2zM131.2 231.6h1.2v1.2h-1.2zM116.2 232.2h1.2v1.2h-1.2zM133.0 224.4h1.2v1.2h-1.2zM138.2 229.2h1.2v1.2h-1.2zM134.9 224.8h1.2v1.2h-1.2zM122.9 232.3h1.2v1.2h-1.2zM142.4 228.7h1.2v1.2h-1.2zM130.0 227.0h1.2v1.2h-1.2zM118.2 233.0h1.2v1.2h-1.2zM130.8 232.7h1.2v1.2h-1.2zM125.9 232.5h1.2v1.2h-1.2zM126.0 230.9h1.2v1.2h-1.2zM142.2 225.0h1.2v1.2h-1.2zM138.5 227.7h1.2v1.2h-1.2zM124.2 229.7h1.2v1.2h-1.2zM136.5 225.5h1.2v1.2h-1.2zM129.4 226.6h1.2v1.2h-1.2zM125.5 228.2h1.2v1.2h-1.2zM137.9 226.1h1.2v1.2h-1.2zM141.1 226.2h1.2v1.2h-1.2zM126.2 232.5h1.2v1.2h-1.2zM142.4 225.2h1.2v1.2h-1.2zM136.0 224.0h1.2v1.2h-1.2zM128.3 227.4h1.2v1.2h-1.2zM137.0 223.6h1.2v1.2h-1.2zM127.5 226.4h1.2v1.2h-1.2zM132.3 224.1h1.2v1.2h-1.2zM121.1 238.9h1.2v1.2h-1.2zM133.1 223.1h1.2v1.2h-1.2zM137.9 223.4h1.2v1.2h-1.2zM116.9 235.4h1.2v1.2h-1.2zM141.2 224.7h1.2v1.2h-1.2zM123.1 230.8h1.2v1.2h-1.2zM147.2 229.0h1.2v1.2h-1.2zM136.6 223.9h1.2v1.2h-1.2zM117.7 230.9h1.2v1.2h-1.2zM139.3 228.2h1.2v1.2h-1.2zM131.5 233.1h1.2v1.2h-1.2zM125.0 232.7h1.2v1.2h-1.2zM137.9 225.7h1.2v1.2h-1.2zM132.4 228.7h1.2v1.2h-1.2zM136.0 224.7h1.2v1.2h-1.2zM129.7 228.9h1.2v1.2h-1.2zM131.7 228.5h1.2v1.2h-1.2zM133.4 227.6h1.2v1.2h-1.2zM127.7 232.2h1.2v1.2h-1.2zM126.5 227.8h1.2v1.2h-1.2zM124.7 225.1h1.2v1.2h-1.2zM134.9 227.9h1.2v1.2h-1.2zM130.5 230.0h1.2v1.2h-1.2zM130.2 230.8h1.2v1.2h-1.2zM145.4 228.3h1.2v1.2h-1.2zM129.5 234.2h1.2v1.2h-1.2zM136.9 222.3h1.2v1.2h-1.2zM141.7 228.2h1.2v1.2h-1.2zM138.1 223.9h1.2v1.2h-1.2zM125.0 226.8h1.2v1.2h-1.2zM135.7 224.2h1.2v1.2h-1.2zM126.0 232.1h1.2v1.2h-1.2zM126.6 229.2h1.2v1.2h-1.2zM124.6 223.3h1.2v1.2h-1.2zM130.9 228.1h1.2v1.2h-1.2zM120.5 232.7h1.2v1.2h-1.2zM137.8 230.8h1.2v1.2h-1.2zM127.6 224.9h1.2v1.2h-1.2zM130.8 229.0h1.2v1.2h-1.2zM130.2 226.5h1.2v1.2h-1.2zM123.9 226.6h1.2v1.2h-1.2zM130.9 226.8h1.2v1.2h-1.2zM144.3 226.3h1.2v1.2h-1.2zM135.0 226.5h1.2v1.2h-1.2zM130.1 225.2h1.2v1.2h-1.2zM127.8 223.7h1.2v1.2h-1.2zM115.6 234.3h1.2v1.2h-1.2zM123.4 230.6h1.2v1.2h-1.2zM130.5 226.6h1.2v1.2h-1.2zM137.1 226.0h1.2v1.2h-1.2zM134.8 226.9h1.2v1.2h-1.2zM138.9 231.0h1.2v1.2h-1.2zM132.0 232.0h1.2v1.2h-1.2zM135.4 233.3h1.2v1.2h-1.2zM130.6 223.3h1.2v1.2h-1.2zM133.1 229.1h1.2v1.2h-1.2zM128.7 227.9h1.2v1.2h-1.2zM129.4 224.4h1.2v1.2h-1.2zM144.6 224.6h1.2v1.2h-1.2zM123.3 223.8h1.2v1.2h-1.2zM125.0 228.8h1.2v1.2h-1.2zM142.8 229.4h1.2v1.2h-1.2zM125.9 224.7h1.2v1.2h-1.2zM122.9 228.9h1.2v1.2h-1.2zM138.1 226.2h1.2v1.2h-1.2zM143.7 233.8h1.2v1.2h-1.2zM132.7 221.0h1.2v1.2h-1.2zM139.8 227.3h1.2v1.2h-1.2zM136.6 231.3h1.2v1.2h-1.2zM123.8 229.3h1.2v1.2h-1.2zM132.8 225.7h1.2v1.2h-1.2zM136.8 227.5h1.2v1.2h-1.2zM128.4 235.0h1.2v1.2h-1.2zM132.8 233.8h1.2v1.2h-1.2zM130.3 232.0h1.2v1.2h-1.2zM125.7 229.4h1.2v1.2h-1.2zM139.7 220.4h1.2v1.2h-1.2zM135.6 227.1h1.2v1.2h-1.2zM139.8 228.3h1.2v1.2h-1.2zM130.9 224.1h1.2v1.2h-1.2zM153.9 223.9h1.2v1.2h-1.2zM129.0 226.2h1.2v1.2h-1.2zM129.2 229.3h1.2v1.2h-1.2zM121.3 232.9h1.2v1.2h-1.2zM129.5 230.6h1.2v1.2h-1.2zM115.4 228.1h1.2v1.2h-1.2zM129.2 227.3h1.2v1.2h-1.2zM126.4 229.9h1.2v1.2h-1.2zM134.6 224.8h1.2v1.2h-1.2zM116.5 232.2h1.2v1.2h-1.2zM129.0 232.2h1.2v1.2h-1.2zM138.1 227.4h1.2v1.2h-1.2zM120.6 228.2h1.2v1.2h-1.2zM125.9 233.1h1.2v1.2h-1.2zM118.5 232.6h1.2v1.2h-1.2zM119.7 227.5h1.2v1.2h-1.2zM120.7 227.0h1.2v1.2h-1.2zM128.1 229.9h1.2v1.2h-1.2zM127.0 231.1h1.2v1.2h-1.2zM144.8 227.7h1.2v1.2h-1.2zM122.7 228.6h1.2v1.2h-1.2zM130.7 227.3h1.2v1.2h-1.2zM140.2 231.5h1.2v1.2h-1.2zM146.7 228.8h1.2v1.2h-1.2zM111.2 229.8h1.2v1.2h-1.2zM136.6 225.2h1.2v1.2h-1.2zM126.9 231.9h1.2v1.2h-1.2zM132.6 224.5h1.2v1.2h-1.2zM127.0 218.4h1.2v1.2h-1.2zM131.4 224.3h1.2v1.2h-1.2zM131.1 224.4h1.2v1.2h-1.2zM124.4 227.3h1.2v1.2h-1.2zM152.7 222.5h1.2v1.2h-1.2zM122.4 227.4h1.2v1.2h-1.2zM139.5 230.4h1.2v1.2h-1.2zM136.7 226.8h1.2v1.2h-1.2zM132.4 225.7h1.2v1.2h-1.2zM130.1 225.8h1.2v1.2h-1.2zM120.4 226.1h1.2v1.2h-1.2zM146.1 228.4h1.2v1.2h-1.2zM125.7 228.5h1.2v1.2h-1.2zM128.0 232.8h1.2v1.2h-1.2zM131.2 226.3h1.2v1.2h-1.2zM136.6 229.0h1.2v1.2h-1.2zM126.2 226.3h1.2v1.2h-1.2zM132.5 222.8h1.2v1.2h-1.2zM124.5 232.4h1.2v1.2h-1.2zM138.0 231.5h1.2v1.2h-1.2zM128.1 226.7h1.2v1.2h-1.2zM129.4 227.0h1.2v1.2h-1.2zM141.2 226.8h1.2v1.2h-1.2zM141.7 225.1h1.2v1.2h-1.2zM134.3 233.6h1.2v1.2h-1.2zM125.8 226.7h1.2v1.2h-1.2zM126.9 223.4h1.2v1.2h-1.2zM129.2 226.4h1.2v1.2h-1.2zM148.2 225.3h1.2v1.2h-1.2zM115.2 233.0h1.2v1.2h-1.2zM138.7 227.6h1.2v1.2h-1.2zM133.6 230.6h1.2v1.2h-1.2zM127.2 228.9h1.2v1.2h-1.2zM132.5 233.9h1.2v1.2h-1.2zM142.2 228.0h1.2v1.2h-1.2zM121.2 232.3h1.2v1.2h-1.2zM131.0 232.4h1.2v1.2h-1.2zM131.8 229.0h1.2v1.2h-1.2zM136.4 225.5h1.2v1.2h-1.2zM126.4 236.5h1.2v1.2h-1.2zM124.8 232.1h1.2v1.2h-1.2zM136.6 230.7h1.2v1.2h-1.2zM141.8 223.0h1.2v1.2h-1.2zM138.7 220.8h1.2v1.2h-1.2zM131.8 229.5h1.2v1.2h-1.2zM139.2 231.3h1.2v1.2h-1.2zM124.3 228.1h1.2v1.2h-1.2zM130.2 226.2h1.2v1.2h-1.2zM125.2 226.7h1.2v1.2h-1.2zM140.1 232.2h1.2v1.2h-1.2zM137.1 233.5h1.2v1.2h-1.2zM132.1 224.7h1.2v1.2h-1.2zM126.4 229.5h1.2v1.2h-1.2zM139.2 231.8h1.2v1.2h-1.2zM124.6 232.2h1.2v1.2h-1.2zM127.4 230.8h1.2v1.2h-1.2zM138.4 232.8h1.2v1.2h-1.2zM127.4 229.6h1.2v1.2h-1.2zM134.7 226.7h1.2v1.2h-1.2zM132.1 230.3h1.2v1.2h-1.2zM118.9 227.4h1.2v1.2h-1.2zM148.9 228.3h1.2v1.2h-1.2zM127.2 222.6h1.2v1.2h-1.2zM124.1 230.8h1.2v1.2h-1.2zM136.6 229.4h1.2v1.2h-1.2zM135.9 226.0h1.2v1.2h-1.2zM143.5 223.5h1.2v1.2h-1.2zM135.3 227.2h1.2v1.2h-1.2zM118.4 232.6h1.2v1.2h-1.2zM129.3 231.0h1.2v1.2h-1.2zM141.1 228.1h1.2v1.2h-1.2zM126.4 228.1h1.2v1.2h-1.2zM130.9 233.3h1.2v1.2h-1.2zM137.9 233.2h1.2v1.2h-1.2zM137.2 225.3h1.2v1.2h-1.2zM138.4 231.0h1.2v1.2h-1.2zM130.5 230.0h1.2v1.2h-1.2zM129.0 224.4h1.2v1.2h-1.2zM130.7 231.0h1.2v1.2h-1.2zM128.7 221.1h1.2v1.2h-1.2zM125.3 232.6h1.2v1.2h-1.2zM133.1 232.0h1.2v1.2h-1.2zM125.7 227.5h1.2v1.2h-1.2zM123.8 226.5h1.2v1.2h-1.2zM135.3 228.5h1.2v1.2h-1.2zM127.7 229.7h1.2v1.2h-1.2zM121.5 228.0h1.2v1.2h-1.2zM120.0 224.4h1.2v1.2h-1.2zM121.1 225.6h1.2v1.2h-1.2zM143.4 232.0h1.2v1.2h-1.2zM140.9 225.6h1.2v1.2h-1.2zM136.1 224.2h1.2v1.2h-1.2zM127.3 229.6h1.2v1.2h-1.2zM119.3 230.2h1.2v1.2h-1.2zM136.0 221.0h1.2v1.2h-1.2zM112.8 229.1h1.2v1.2h-1.2zM130.4 229.0h1.2v1.2h-1.2zM122.8 231.1h1.2v1.2h-1.2zM132.3 225.9h1.2v1.2h-1.2zM143.8 228.2h1.2v1.2h-1.2zM137.0 234.2h1.2v1.2h-1.2zM127.6 228.0h1.2v1.2h-1.2zM118.2 228.8h1.2v1.2h-1.2zM134.7 236.6h1.2v1.2h-1.2zM135.6 228.7h1.2v1.2h-1.2zM121.8 226.4h1.2v1.2h-1.2zM117.3 225.0h1.2v1.2h-1.2zM132.2 229.3h1.2v1.2h-1.2zM124.4 228.3h1.2v1.2h-1.2zM125.3 231.0h1.2v1.2h-1.2zM136.2 226.1h1.2v1.2h-1.2zM127.9 224.6h1.2v1.2h-1.2zM127.8 236.1h1.2v1.2h-1.2zM131.3 231.3h1.2v1.2h-1.2zM135.8 233.0h1.2v1.2h-1.2zM128.9 225.6h1.2v1.2h-1.2zM139.3 230.8h1.2v1.2h-1.2zM126.4 232.6h1.2v1.2h-1.2zM131.3 228.3h1.2v1.2h-1.2zM145.3 229.0h1.2v1.2h-1.2zM133.8 227.1h1.2v1.2h-1.2zM132.9 231.8h1.2v1.2h-1.2zM134.8 225.5h1.2v1.2h-1.2zM134.8 227.7h1.2v1.2h-1.2zM133.7 227.5h1.2v1.2h-1.2zM114.8 224.4h1.2v1.2h-1.2zM128.4 221.2h1.2v1.2h-1.2zM119.9 236.3h1.2v1.2h-1.2zM136.6 226.4h1.2v1.2h-1.2zM133.9 220.6h1.2v1.2h-1.2zM133.3 231.6h1.2v1.2h-1.2zM132.8 223.8h1.2v1.2h-1.2zM138.7 225.9h1.2v1.2h-1.2zM127.0 229.5h1.2v1.2h-1.2zM129.1 235.5h1.2v1.2h-1.2zM130.3 235.8h1.2v1.2h-1.2zM134.8 223.9h1.2v1.2h-1.2zM131.4 228.6h1.2v1.2h-1.2zM142.3 231.8h1.2v1.2h-1.2zM150.8 224.4h1.2v1.2h-1.2zM128.0 236.6h1.2v1.2h-1.2zM124.5 230.2h1.2v1.2h-1.2zM143.6 223.9h1.2v1.2h-1.2zM128.7 226.1h1.2v1.2h-1.2zM135.4 229.4h1.2v1.2h-1.2zM131.1 230.7h1.2v1.2h-1.2zM125.4 227.7h1.2v1.2h-1.2zM134.9 234.9h1.2v1.2h-1.2zM131.1 228.6h1.2v1.2h-1.2zM141.4 227.8h1.2v1.2h-1.2zM141.3 228.3h1.2v1.2h-1.2zM140.2 228.2h1.2v1.2h-1.2zM124.4 226.1h1.2v1.2h-1.2zM134.6 234.5h1.2v1.2h-1.2zM145.6 226.1h1.2v1.2h-1.2zM150.4 222.9h1.2v1.2h-1.2zM124.9 232.2h1.2v1.2h-1.2zM119.8 232.6h1.2v1.2h-1.2zM134.3 230.3h1.2v1.2h-1.2zM122.2 230.5h1.2v1.2h-1.2zM138.5 227.6h1.2v1.2h-1.2zM139.2 227.8h1.2v1.2h-1.2zM134.0 227.1h1.2v1.2h-1.2zM121.0 228.8h1.2v1.2h-1.2zM135.2 225.5h1.2v1.2h-1.2zM116.5 224.5h1.2v1.2h-1.2zM141.4 226.7h1.2v1.2h-1.2zM125.5 233.2h1.2v1.2h-1.2zM130.1 223.4h1.2v1.2h-1.2zM128.0 225.7h1.2v1.2h-1.2zM130.0 225.4h1.2v1.2h-1.2zM131.9 229.9h1.2v1.2h-1.2zM127.0 228.1h1.2v1.2h-1.2zM130.2 231.3h1.2v1.2h-1.2zM125.9 231.5h1.2v1.2h-1.2zM140.9 226.9h1.2v1.2h-1.2zM124.0 228.0h1.2v1.2h-1.2zM117.8 227.8h1.2v1.2h-1.2zM122.2 228.6h1.2v1.2h-1.2zM128.5 230.4h1.2v1.2h-1.2zM132.3 229.8h1.2v1.2h-1.2zM131.0 229.4h1.2v1.2h-1.2zM122.7 231.4h1.2v1.2h-1.2zM141.3 231.3h1.2v1.2h-1.2zM121.1 230.8h1.2v1.2h-1.2zM118.9 232.1h1.2v1.2h-1.2zM129.8 227.0h1.2v1.2h-1.2zM125.7 228.1h1.2v1.2h-1.2zM131.3 225.1h1.2v1.2h-1.2zM131.8 229.3h1.2v1.2h-1.2zM135.4 227.9h1.2v1.2h-1.2zM131.3 236.3h1.2v1.2h-1.2zM139.1 228.8h1.2v1.2h-1.2zM120.8 231.5h1.2v1.2h-1.2zM135.8 218.9h1.2v1.2h-1.2zM130.1 229.8h1.2v1.2h-1.2zM131.7 228.7h1.2v1.2h-1.2zM130.2 233.3h1.2v1.2h-1.2zM134.3 227.2h1.2v1.2h-1.2zM129.6 235.7h1.2v1.2h-1.2zM124.8 227.2h1.2v1.2h-1.2zM133.9 228.7h1.2v1.2h-1.2zM133.7 232.8h1.2v1.2h-1.2zM140.1 229.1h1.2v1.2h-1.2zM131.7 228.2h1.2v1.2h-1.2zM129.6 232.0h1.2v1.2h-1.2zM121.7 225.7h1.2v1.2h-1.2zM127.9 225.4h1.2v1.2h-1.2zM125.7 233.0h1.2v1.2h-1.2zM114.1 231.9h1.2v1.2h-1.2zM121.3 228.5h1.2v1.2h-1.2zM127.0 225.4h1.2v1.2h-1.2zM120.0 229.7h1.2v1.2h-1.2zM108.7 223.2h1.2v1.2h-1.2zM128.4 232.4h1.2v1.2h-1.2zM145.6 226.1h1.2v1.2h-1.2zM125.2 228.0h1.2v1.2h-1.2zM135.0 231.3h1.2v1.2h-1.2zM124.1 230.7h1.2v1.2h-1.2zM131.2 232.4h1.2v1.2h-1.2zM128.3 228.0h1.2v1.2h-1.2zM124.9 224.5h1.2v1.2h-1.2zM133.5 230.7h1.2v1.2h-1.2zM140.1 228.6h1.2v1.2h-1.2zM127.9 225.6h1.2v1.2h-1.2zM122.5 226.7h1.2v1.2h-1.2zM134.0 228.5h1.2v1.2h-1.2zM113.8 229.6h1.2v1.2h-1.2zM129.2 225.0h1.2v1.2h-1.2zM131.2 230.2h1.2v1.2h-1.2zM123.4 224.5h1.2v1.2h-1.2zM128.9 229.5h1.2v1.2h-1.2zM129.4 233.9h1.2v1.2h-1.2zM132.5 224.9h1.2v1.2h-1.2zM137.4 225.7h1.2v1.2h-1.2zM136.7 228.3h1.2v1.2h-1.2zM140.9 224.1h1.2v1.2h-1.2zM137.0 229.4h1.2v1.2h-1.2zM124.4 231.4h1.2v1.2h-1.2zM148.9 228.1h1.2v1.2h-1.2zM125.5 228.4h1.2v1.2h-1.2zM141.5 228.4h1.2v1.2h-1.2zM142.8 225.1h1.2v1.2h-1.2zM141.5 222.1h1.2v1.2h-1.2zM130.1 227.5h1.2v1.2h-1.2zM127.6 232.9h1.2v1.2h-1.2zM126.8 230.0h1.2v1.2h-1.2zM145.7 230.0h1.2v1.2h-1.2zM126.2 223.5h1.2v1.2h-1.2zM108.1 230.8h1.2v1.2h-1.2zM141.0 233.4h1.2v1.2h-1.2zM133.6 239.8h1.2v1.2h-1.2zM139.7 213.7h1.2v1.2h-1.2zM120.9 232.6h1.2v1.2h-1.2zM126.4 232.6h1.2v1.2h-1.2zM160.1 221.6h1.2v1.2h-1.2zM156.1 225.8h1.2v1.2h-1.2zM114.1 228.9h1.2v1.2h-1.2zM141.2 223.6h1.2v1.2h-1.2zM148.9 221.6h1.2v1.2h-1.2zM128.7 232.9h1.2v1.2h-1.2zM128.5 224.4h1.2v1.2h-1.2zM130.7 231.3h1.2v1.2h-1.2zM150.7 234.3h1.2v1.2h-1.2zM152.3 226.3h1.2v1.2h-1.2zM112.0 228.2h1.2v1.2h-1.2zM126.2 222.0h1.2v1.2h-1.2zM125.0 227.4h1.2v1.2h-1.2zM131.5 232.8h1.2v1.2h-1.2zM120.5 234.7h1.2v1.2h-1.2zM131.4 231.7h1.2v1.2h-1.2zM145.2 219.6h1.2v1.2h-1.2zM149.2 222.4h1.2v1.2h-1.2zM135.5 233.6h1.2v1.2h-1.2zM141.5 217.9h1.2v1.2h-1.2zM132.8 234.0h1.2v1.2h-1.2zM129.5 227.1h1.2v1.2h-1.2zM131.8 236.9h1.2v1.2h-1.2zM124.7 222.4h1.2v1.2h-1.2zM118.3 225.1h1.2v1.2h-1.2zM128.3 229.6h1.2v1.2h-1.2zM130.0 217.6h1.2v1.2h-1.2zM112.9 232.3h1.2v1.2h-1.2zM139.3 219.3h1.2v1.2h-1.2zM141.7 212.9h1.2v1.2h-1.2zM157.6 229.6h1.2v1.2h-1.2zM111.9 231.4h1.2v1.2h-1.2zM130.6 224.9h1.2v1.2h-1.2zM126.7 226.4h1.2v1.2h-1.2zM129.8 222.3h1.2v1.2h-1.2zM124.4 231.1h1.2v1.2h-1.2zM137.0 219.5h1.2v1.2h-1.2zM125.3 236.8h1.2v1.2h-1.2zM139.2 236.6h1.2v1.2h-1.2zM115.5 222.3h1.2v1.2h-1.2zM106.1 217.6h1.2v1.2h-1.2zM126.7 221.7h1.2v1.2h-1.2zM118.5 224.1h1.2v1.2h-1.2zM128.8 232.4h1.2v1.2h-1.2zM137.4 217.0h1.2v1.2h-1.2zM148.1 224.7h1.2v1.2h-1.2zM119.5 227.9h1.2v1.2h-1.2zM126.4 219.7h1.2v1.2h-1.2zM148.9 223.3h1.2v1.2h-1.2zM124.1 231.0h1.2v1.2h-1.2zM150.2 229.3h1.2v1.2h-1.2zM120.6 230.6h1.2v1.2h-1.2zM143.7 229.1h1.2v1.2h-1.2zM138.4 224.4h1.2v1.2h-1.2zM130.2 217.8h1.2v1.2h-1.2zM122.7 221.4h1.2v1.2h-1.2zM131.1 236.1h1.2v1.2h-1.2zM105.1 221.2h1.2v1.2h-1.2zM120.3 227.5h1.2v1.2h-1.2zM144.4 222.3h1.2v1.2h-1.2zM122.0 235.0h1.2v1.2h-1.2zM135.3 230.3h1.2v1.2h-1.2zM140.6 222.7h1.2v1.2h-1.2zM133.6 223.6h1.2v1.2h-1.2zM122.7 228.7h1.2v1.2h-1.2zM136.0 219.9h1.2v1.2h-1.2zM122.1 231.5h1.2v1.2h-1.2zM132.9 231.3h1.2v1.2h-1.2zM127.4 223.0h1.2v1.2h-1.2zM140.0 230.5h1.2v1.2h-1.2zM98.3 234.2h1.2v1.2h-1.2zM122.2 231.8h1.2v1.2h-1.2zM149.1 225.0h1.2v1.2h-1.2zM119.8 229.6h1.2v1.2h-1.2zM132.0 230.7h1.2v1.2h-1.2zM114.8 229.7h1.2v1.2h-1.2zM141.3 231.0h1.2v1.2h-1.2zM138.2 234.1h1.2v1.2h-1.2zM121.5 235.1h1.2v1.2h-1.2zM133.4 221.6h1.2v1.2h-1.2zM127.6 229.2h1.2v1.2h-1.2zM134.8 235.1h1.2v1.2h-1.2zM133.2 224.4h1.2v1.2h-1.2zM156.2 224.3h1.2v1.2h-1.2zM121.5 233.3h1.2v1.2h-1.2zM126.2 223.2h1.2v1.2h-1.2zM118.7 235.0h1.2v1.2h-1.2zM118.7 228.7h1.2v1.2h-1.2zM125.7 226.7h1.2v1.2h-1.2zM121.6 228.9h1.2v1.2h-1.2zM138.0 233.3h1.2v1.2h-1.2zM126.9 221.0h1.2v1.2h-1.2zM113.9 228.4h1.2v1.2h-1.2zM102.3 236.7h1.2v1.2h-1.2zM131.3 228.2h1.2v1.2h-1.2zM114.9 224.6h1.2v1.2h-1.2zM122.4 231.9h1.2v1.2h-1.2zM126.3 231.3h1.2v1.2h-1.2zM136.9 216.1h1.2v1.2h-1.2zM128.3 235.0h1.2v1.2h-1.2zM125.1 228.6h1.2v1.2h-1.2zM129.5 220.5h1.2v1.2h-1.2zM156.2 225.5h1.2v1.2h-1.2zM138.4 224.6h1.2v1.2h-1.2zM147.2 233.4h1.2v1.2h-1.2zM144.6 232.3h1.2v1.2h-1.2zM139.1 235.1h1.2v1.2h-1.2zM135.6 228.1h1.2v1.2h-1.2zM140.3 221.9h1.2v1.2h-1.2zM101.7 233.7h1.2v1.2h-1.2zM132.8 223.4h1.2v1.2h-1.2zM127.9 222.2h1.2v1.2h-1.2zM121.3 229.1h1.2v1.2h-1.2zM132.4 232.3h1.2v1.2h-1.2zM129.9 231.2h1.2v1.2h-1.2zM138.9 223.1h1.2v1.2h-1.2zM111.5 224.6h1.2v1.2h-1.2zM128.1 224.6h1.2v1.2h-1.2zM156.5 222.3h1.2v1.2h-1.2zM136.5 222.9h1.2v1.2h-1.2zM139.0 219.9h1.2v1.2h-1.2zM142.0 228.0h1.2v1.2h-1.2zM126.4 220.9h1.2v1.2h-1.2zM150.3 223.2h1.2v1.2h-1.2zM147.6 212.8h1.2v1.2h-1.2zM117.1 238.7h1.2v1.2h-1.2zM151.6 226.6h1.2v1.2h-1.2zM142.5 230.5h1.2v1.2h-1.2zM126.9 228.5h1.2v1.2h-1.2zM117.8 220.5h1.2v1.2h-1.2zM132.4 231.7h1.2v1.2h-1.2zM132.8 220.4h1.2v1.2h-1.2zM140.8 227.6h1.2v1.2h-1.2zM139.7 225.5h1.2v1.2h-1.2zM127.9 233.8h1.2v1.2h-1.2zM146.8 219.8h1.2v1.2h-1.2zM118.2 233.8h1.2v1.2h-1.2zM135.1 227.7h1.2v1.2h-1.2zM119.7 234.0h1.2v1.2h-1.2zM133.2 228.7h1.2v1.2h-1.2zM135.5 224.3h1.2v1.2h-1.2zM135.6 228.1h1.2v1.2h-1.2zM139.3 229.3h1.2v1.2h-1.2zM116.2 224.2h1.2v1.2h-1.2zM127.9 234.4h1.2v1.2h-1.2zM123.5 234.5h1.2v1.2h-1.2zM143.5 232.0h1.2v1.2h-1.2zM157.0 226.2h1.2v1.2h-1.2zM134.7 234.4h1.2v1.2h-1.2zM135.7 233.1h1.2v1.2h-1.2zM129.5 235.8h1.2v1.2h-1.2zM135.1 216.3h1.2v1.2h-1.2zM143.5 225.8h1.2v1.2h-1.2zM120.8 226.4h1.2v1.2h-1.2zM127.7 234.3h1.2v1.2h-1.2zM134.8 227.0h1.2v1.2h-1.2zM130.8 222.4h1.2v1.2h-1.2zM123.6 225.3h1.2v1.2h-1.2zM128.4 221.0h1.2v1.2h-1.2zM126.4 233.6h1.2v1.2h-1.2zM136.2 227.3h1.2v1.2h-1.2zM135.0 226.0h1.2v1.2h-1.2zM117.3 233.3h1.2v1.2h-1.2zM156.9 229.2h1.2v1.2h-1.2zM138.9 241.3h1.2v1.2h-1.2zM117.0 231.3h1.2v1.2h-1.2zM127.1 226.2h1.2v1.2h-1.2zM111.9 228.1h1.2v1.2h-1.2zM135.6 218.2h1.2v1.2h-1.2zM128.5 224.9h1.2v1.2h-1.2zM119.5 231.8h1.2v1.2h-1.2zM150.0 229.0h1.2v1.2h-1.2zM142.9 231.4h1.2v1.2h-1.2zM130.3 231.0h1.2v1.2h-1.2zM146.3 224.4h1.2v1.2h-1.2zM129.3 219.8h1.2v1.2h-1.2zM109.5 224.0h1.2v1.2h-1.2zM141.3 229.2h1.2v1.2h-1.2zM134.0 235.0h1.2v1.2h-1.2zM110.6 236.5h1.2v1.2h-1.2zM132.0 232.0h1.2v1.2h-1.2zM146.9 222.1h1.2v1.2h-1.2zM121.0 230.4h1.2v1.2h-1.2zM130.3 224.3h1.2v1.2h-1.2zM129.5 223.5h1.2v1.2h-1.2zM132.6 225.3h1.2v1.2h-1.2zM150.6 220.6h1.2v1.2h-1.2zM137.7 227.7h1.2v1.2h-1.2zM149.3 221.1h1.2v1.2h-1.2zM125.6 237.8h1.2v1.2h-1.2zM123.4 225.8h1.2v1.2h-1.2zM126.5 222.2h1.2v1.2h-1.2zM145.1 235.6h1.2v1.2h-1.2zM129.3 223.4h1.2v1.2h-1.2zM115.4 232.2h1.2v1.2h-1.2zM124.9 231.0h1.2v1.2h-1.2zM103.2 226.6h1.2v1.2h-1.2zM138.2 229.6h1.2v1.2h-1.2zM97.9 230.9h1.2v1.2h-1.2zM132.5 227.4h1.2v1.2h-1.2zM127.1 225.3h1.2v1.2h-1.2zM132.7 230.4h1.2v1.2h-1.2zM94.5 229.4h1.2v1.2h-1.2zM141.7 225.8h1.2v1.2h-1.2zM145.1 221.5h1.2v1.2h-1.2zM153.1 232.0h1.2v1.2h-1.2zM126.3 243.6h1.2v1.2h-1.2zM147.6 235.8h1.2v1.2h-1.2zM117.2 227.6h1.2v1.2h-1.2zM136.4 233.3h1.2v1.2h-1.2zM131.9 220.1h1.2v1.2h-1.2zM145.1 225.9h1.2v1.2h-1.2zM136.1 225.5h1.2v1.2h-1.2zM129.7 219.8h1.2v1.2h-1.2zM138.7 223.6h1.2v1.2h-1.2zM110.5 231.0h1.2v1.2h-1.2zM130.6 233.1h1.2v1.2h-1.2zM140.5 220.2h1.2v1.2h-1.2zM129.0 227.7h1.2v1.2h-1.2zM132.0 221.5h1.2v1.2h-1.2zM131.9 233.1h1.2v1.2h-1.2zM145.3 235.2h1.2v1.2h-1.2zM139.8 212.7h1.2v1.2h-1.2zM127.9 224.6h1.2v1.2h-1.2zM97.5 238.1h1.2v1.2h-1.2zM141.5 227.0h1.2v1.2h-1.2zM135.2 230.1h1.2v1.2h-1.2zM128.5 235.5h1.2v1.2h-1.2zM152.1 231.2h1.2v1.2h-1.2zM124.6 229.3h1.2v1.2h-1.2zM142.3 231.1h1.2v1.2h-1.2zM123.1 233.4h1.2v1.2h-1.2zM139.4 230.5h1.2v1.2h-1.2zM126.2 227.7h1.2v1.2h-1.2zM109.0 228.5h1.2v1.2h-1.2zM125.9 226.1h1.2v1.2h-1.2zM127.8 225.9h1.2v1.2h-1.2zM132.0 228.1h1.2v1.2h-1.2zM123.9 227.2h1.2v1.2h-1.2zM130.0 230.4h1.2v1.2h-1.2zM136.1 225.3h1.2v1.2h-1.2zM121.5 218.7h1.2v1.2h-1.2zM116.6 230.6h1.2v1.2h-1.2zM120.4 237.3h1.2v1.2h-1.2zM129.2 225.5h1.2v1.2h-1.2zM129.2 224.5h1.2v1.2h-1.2zM123.7 228.3h1.2v1.2h-1.2zM114.3 229.2h1.2v1.2h-1.2zM129.9 222.5h1.2v1.2h-1.2zM142.8 229.0h1.2v1.2h-1.2zM143.5 223.1h1.2v1.2h-1.2zM116.7 221.5h1.2v1.2h-1.2zM112.9 217.7h1.2v1.2h-1.2zM149.1 223.9h1.2v1.2h-1.2zM133.2 224.4h1.2v1.2h-1.2zM129.3 236.6h1.2v1.2h-1.2zM111.0 222.9h1.2v1.2h-1.2zM132.6 222.3h1.2v1.2h-1.2zM139.0 234.5h1.2v1.2h-1.2zM141.3 231.3h1.2v1.2h-1.2zM129.1 233.4h1.2v1.2h-1.2zM121.8 221.2h1.2v1.2h-1.2zM128.0 226.3h1.2v1.2h-1.2zM145.1 221.2h1.2v1.2h-1.2zM144.2 222.5h1.2v1.2h-1.2zM116.4 218.6h1.2v1.2h-1.2zM130.6 219.3h1.2v1.2h-1.2zM133.5 227.7h1.2v1.2h-1.2zM126.4 216.8h1.2v1.2h-1.2zM125.0 230.4h1.2v1.2h-1.2zM110.4 232.5h1.2v1.2h-1.2zM131.2 224.4h1.2v1.2h-1.2zM133.3 231.1h1.2v1.2h-1.2zM130.7 223.1h1.2v1.2h-1.2zM140.1 223.2h1.2v1.2h-1.2zM135.2 232.9h1.2v1.2h-1.2zM146.1 235.9h1.2v1.2h-1.2zM142.8 227.8h1.2v1.2h-1.2zM128.7 228.7h1.2v1.2h-1.2zM137.1 244.3h1.2v1.2h-1.2zM138.6 222.4h1.2v1.2h-1.2zM148.6 217.6h1.2v1.2h-1.2zM142.6 219.7h1.2v1.2h-1.2zM118.4 225.3h1.2v1.2h-1.2zM127.7 220.0h1.2v1.2h-1.2zM138.1 226.5h1.2v1.2h-1.2zM146.5 221.0h1.2v1.2h-1.2zM110.1 232.5h1.2v1.2h-1.2zM128.4 233.2h1.2v1.2h-1.2zM104.0 221.8h1.2v1.2h-1.2zM132.0 238.6h1.2v1.2h-1.2zM116.8 217.4h1.2v1.2h-1.2zM125.8 235.9h1.2v1.2h-1.2zM149.2 218.9h1.2v1.2h-1.2zM124.0 217.4h1.2v1.2h-1.2zM121.3 222.5h1.2v1.2h-1.2zM135.9 233.8h1.2v1.2h-1.2zM158.5 224.1h1.2v1.2h-1.2zM140.4 228.3h1.2v1.2h-1.2zM132.5 238.5h1.2v1.2h-1.2zM139.1 236.0h1.2v1.2h-1.2zM134.5 232.3h1.2v1.2h-1.2zM136.9 226.7h1.2v1.2h-1.2zM123.0 225.6h1.2v1.2h-1.2zM131.2 225.3h1.2v1.2h-1.2zM127.1 223.7h1.2v1.2h-1.2zM140.9 225.6h1.2v1.2h-1.2zM129.7 226.3h1.2v1.2h-1.2zM146.1 223.7h1.2v1.2h-1.2zM147.3 221.8h1.2v1.2h-1.2zM148.6 230.1h1.2v1.2h-1.2zM125.4 230.4h1.2v1.2h-1.2zM144.1 221.4h1.2v1.2h-1.2zM128.4 229.4h1.2v1.2h-1.2zM128.6 226.0h1.2v1.2h-1.2zM131.2 229.3h1.2v1.2h-1.2zM140.0 235.5h1.2v1.2h-1.2zM127.3 244.5h1.2v1.2h-1.2zM127.2 237.9h1.2v1.2h-1.2zM129.5 219.3h1.2v1.2h-1.2zM126.0 225.8h1.2v1.2h-1.2zM143.3 215.4h1.2v1.2h-1.2zM123.7 227.1h1.2v1.2h-1.2zM138.6 229.4h1.2v1.2h-1.2zM140.9 226.1h1.2v1.2h-1.2zM128.3 234.6h1.2v1.2h-1.2zM150.8 228.7h1.2v1.2h-1.2zM132.8 222.5h1.2v1.2h-1.2zM155.2 228.6h1.2v1.2h-1.2zM138.1 218.0h1.2v1.2h-1.2zM138.0 241.0h1.2v1.2h-1.2zM129.1 226.5h1.2v1.2h-1.2zM148.7 225.6h1.2v1.2h-1.2zM140.7 238.1h1.2v1.2h-1.2zM117.6 223.5h1.2v1.2h-1.2zM138.8 227.8h1.2v1.2h-1.2zM131.5 226.5h1.2v1.2h-1.2zM132.5 229.5h1.2v1.2h-1.2zM125.6 226.2h1.2v1.2h-1.2zM133.7 221.2h1.2v1.2h-1.2zM136.1 214.7h1.2v1.2h-1.2zM138.4 226.5h1.2v1.2h-1.2zM117.5 235.9h1.2v1.2h-1.2zM117.6 240.0h1.2v1.2h-1.2zM122.7 234.9h1.2v1.2h-1.2zM130.3 236.8h1.2v1.2h-1.2zM128.5 233.5h1.2v1.2h-1.2zM127.4 217.0h1.2v1.2h-1.2zM135.5 230.0h1.2v1.2h-1.2zM135.6 236.8h1.2v1.2h-1.2zM122.6 219.8h1.2v1.2h-1.2zM134.0 223.4h1.2v1.2h-1.2zM129.9 227.6h1.2v1.2h-1.2zM121.7 234.2h1.2v1.2h-1.2zM129.7 237.8h1.2v1.2h-1.2zM133.9 233.4h1.2v1.2h-1.2zM127.7 223.9h1.2v1.2h-1.2zM125.0 222.8h1.2v1.2h-1.2zM136.2 228.1h1.2v1.2h-1.2zM118.7 219.4h1.2v1.2h-1.2zM121.2 217.6h1.2v1.2h-1.2zM120.9 219.4h1.2v1.2h-1.2zM139.1 220.5h1.2v1.2h-1.2zM124.3 227.2h1.2v1.2h-1.2zM131.4 229.9h1.2v1.2h-1.2zM139.8 230.8h1.2v1.2h-1.2zM127.1 234.9h1.2v1.2h-1.2zM135.3 223.3h1.2v1.2h-1.2zM148.2 219.9h1.2v1.2h-1.2zM136.5 234.4h1.2v1.2h-1.2zM132.4 229.4h1.2v1.2h-1.2zM132.4 231.3h1.2v1.2h-1.2zM133.6 227.4h1.2v1.2h-1.2zM139.1 216.3h1.2v1.2h-1.2zM133.9 225.6h1.2v1.2h-1.2zM153.5 228.0h1.2v1.2h-1.2zM123.5 231.6h1.2v1.2h-1.2zM126.7 221.0h1.2v1.2h-1.2zM127.9 230.5h1.2v1.2h-1.2zM144.6 232.8h1.2v1.2h-1.2zM133.7 226.5h1.2v1.2h-1.2zM133.3 234.3h1.2v1.2h-1.2zM129.6 234.2h1.2v1.2h-1.2zM122.0 227.9h1.2v1.2h-1.2zM139.9 231.1h1.2v1.2h-1.2zM133.3 224.5h1.2v1.2h-1.2zM110.6 226.0h1.2v1.2h-1.2zM121.4 225.7h1.2v1.2h-1.2zM149.1 222.2h1.2v1.2h-1.2zM140.7 226.9h1.2v1.2h-1.2zM118.5 228.8h1.2v1.2h-1.2zM139.6 220.3h1.2v1.2h-1.2zM117.9 226.0h1.2v1.2h-1.2zM139.3 223.7h1.2v1.2h-1.2zM135.9 229.9h1.2v1.2h-1.2zM131.2 230.1h1.2v1.2h-1.2zM145.5 225.7h1.2v1.2h-1.2zM134.7 221.2h1.2v1.2h-1.2zM122.9 227.4h1.2v1.2h-1.2zM140.3 223.2h1.2v1.2h-1.2zM115.3 233.6h1.2v1.2h-1.2zM158.0 211.5h1.2v1.2h-1.2zM119.0 228.8h1.2v1.2h-1.2zM136.6 221.8h1.2v1.2h-1.2zM134.9 233.6h1.2v1.2h-1.2zM127.9 231.8h1.2v1.2h-1.2zM132.5 222.1h1.2v1.2h-1.2zM124.1 224.4h1.2v1.2h-1.2zM146.1 233.4h1.2v1.2h-1.2zM133.8 218.5h1.2v1.2h-1.2zM125.5 225.5h1.2v1.2h-1.2zM109.2 228.5h1.2v1.2h-1.2zM134.3 219.8h1.2v1.2h-1.2zM82.6 244.1h1.2v1.2h-1.2zM143.7 243.0h1.2v1.2h-1.2zM146.5 243.5h1.2v1.2h-1.2zM137.8 240.4h1.2v1.2h-1.2zM136.2 242.9h1.2v1.2h-1.2zM148.7 240.6h1.2v1.2h-1.2zM125.3 242.9h1.2v1.2h-1.2zM129.2 238.8h1.2v1.2h-1.2zM121.8 239.9h1.2v1.2h-1.2zM127.3 231.9h1.2v1.2h-1.2zM124.6 236.4h1.2v1.2h-1.2zM124.3 244.2h1.2v1.2h-1.2zM127.8 241.6h1.2v1.2h-1.2zM130.2 242.7h1.2v1.2h-1.2zM139.9 234.7h1.2v1.2h-1.2zM146.3 237.0h1.2v1.2h-1.2zM121.7 239.1h1.2v1.2h-1.2zM124.8 241.7h1.2v1.2h-1.2zM143.3 235.5h1.2v1.2h-1.2zM142.9 235.5h1.2v1.2h-1.2zM129.1 233.7h1.2v1.2h-1.2zM126.1 235.3h1.2v1.2h-1.2zM149.6 239.3h1.2v1.2h-1.2zM109.6 242.6h1.2v1.2h-1.2zM91.6 240.2h1.2v1.2h-1.2zM126.8 232.2h1.2v1.2h-1.2zM114.4 233.3h1.2v1.2h-1.2zM150.0 233.1h1.2v1.2h-1.2zM125.9 238.0h1.2v1.2h-1.2zM92.3 242.3h1.2v1.2h-1.2zM121.9 238.8h1.2v1.2h-1.2zM101.4 233.7h1.2v1.2h-1.2zM105.5 232.4h1.2v1.2h-1.2zM97.3 237.5h1.2v1.2h-1.2zM109.8 240.4h1.2v1.2h-1.2zM93.4 234.3h1.2v1.2h-1.2zM118.5 239.6h1.2v1.2h-1.2zM104.8 234.3h1.2v1.2h-1.2zM92.3 236.0h1.2v1.2h-1.2zM109.0 240.8h1.2v1.2h-1.2zM99.8 235.7h1.2v1.2h-1.2zM133.2 234.3h1.2v1.2h-1.2zM86.5 242.7h1.2v1.2h-1.2zM144.4 235.5h1.2v1.2h-1.2zM102.7 237.1h1.2v1.2h-1.2zM97.9 240.7h1.2v1.2h-1.2zM142.4 239.8h1.2v1.2h-1.2zM110.4 241.2h1.2v1.2h-1.2zM145.8 234.0h1.2v1.2h-1.2zM186.8 210.4h1.2v1.2h-1.2zM172.5 244.5h1.2v1.2h-1.2zM166.1 203.8h1.2v1.2h-1.2zM178.2 204.5h1.2v1.2h-1.2z" fill="#1a1a1a" fill-opacity="1.00"/>
<path d="M91.3 256.4h1.2v1.2h-1.2zM111.4 265.3h1.2v1.2h-1.2zM101.8 260.7h1.2v1.2h-1.2zM83.7 267.3h1.2v1.2h-1.2zM89.1 244.8h1.2v1.2h-1.2zM101.5 257.3h1.2v1.2h-1.2zM95.0 264.1h1.2v1.2h-1.2zM93.0 263.3h1.2v1.2h-1.2zM106.4 257.5h1.2v1.2h-1.2zM91.9 260.2h1.2v1.2h-1.2zM100.7 256.9h1.2v1.2h-1.2zM95.8 254.6h1.2v1.2h-1.2zM94.4 264.3h1.2v1.2h-1.2zM87.8 258.6h1.2v1.2h-1.2zM82.2 254.5h1.2v1.2h-1.2zM95.7 264.2h1.2v1.2h-1.2zM85.9 259.2h1.2v1.2h-1.2zM86.8 262.5h1.2v1.2h-1.2zM97.3 263.5h1.2v1.2h-1.2zM93.2 248.8h1.2v1.2h-1.2zM90.1 249.4h1.2v1.2h-1.2zM89.1 259.6h1.2v1.2h-1.2zM104.5 254.9h1.2v1.2h-1.2zM88.2 261.6h1.2v1.2h-1.2zM81.5 268.0h1.2v1.2h-1.2zM103.6 267.6h1.2v1.2h-1.2zM94.1 265.8h1.2v1.2h-1.2zM92.0 267.6h1.2v1.2h-1.2zM89.3 253.6h1.2v1.2h-1.2zM98.4 256.4h1.2v1.2h-1.2zM100.9 253.2h1.2v1.2h-1.2zM97.4 252.3h1.2v1.2h-1.2zM94.1 276.9h1.2v1.2h-1.2zM85.6 250.3h1.2v1.2h-1.2zM81.0 258.2h1.2v1.2h-1.2zM109.2 256.5h1.2v1.2h-1.2zM103.2 258.6h1.2v1.2h-1.2zM89.5 275.8h1.2v1.2h-1.2zM104.5 245.5h1.2v1.2h-1.2zM86.5 263.3h1.2v1.2h-1.2zM100.7 258.3h1.2v1.2h-1.2zM97.8 264.3h1.2v1.2h-1.2zM92.0 267.9h1.2v1.2h-1.2zM87.6 266.0h1.2v1.2h-1.2zM103.0 261.6h1.2v1.2h-1.2zM92.0 259.9h1.2v1.2h-1.2zM101.7 252.8h1.2v1.2h-1.2zM98.1 260.4h1.2v1.2h-1.2zM92.7 263.7h1.2v1.2h-1.2zM95.6 250.1h1.2v1.2h-1.2zM90.4 260.8h1.2v1.2h-1.2zM97.7 264.4h1.2v1.2h-1.2zM102.7 274.9h1.2v1.2h-1.2zM82.4 272.6h1.2v1.2h-1.2zM90.3 259.3h1.2v1.2h-1.2zM91.0 271.8h1.2v1.2h-1.2zM94.1 248.3h1.2v1.2h-1.2zM95.2 250.7h1.2v1.2h-1.2zM80.5 247.6h1.2v1.2h-1.2zM92.2 260.4h1.2v1.2h-1.2zM108.9 263.4h1.2v1.2h-1.2zM111.4 263.4h1.2v1.2h-1.2zM110.5 268.1h1.2v1.2h-1.2zM92.4 247.6h1.2v1.2h-1.2zM84.7 271.4h1.2v1.2h-1.2zM101.2 255.5h1.2v1.2h-1.2zM85.2 266.5h1.2v1.2h-1.2zM109.8 253.9h1.2v1.2h-1.2zM111.9 263.1h1.2v1.2h-1.2zM86.7 251.8h1.2v1.2h-1.2zM102.8 275.7h1.2v1.2h-1.2zM86.5 253.6h1.2v1.2h-1.2zM84.6 252.7h1.2v1.2h-1.2zM87.2 259.4h1.2v1.2h-1.2zM87.6 267.2h1.2v1.2h-1.2zM87.7 254.5h1.2v1.2h-1.2zM93.4 251.4h1.2v1.2h-1.2zM81.6 248.9h1.2v1.2h-1.2zM81.6 261.3h1.2v1.2h-1.2zM108.5 265.7h1.2v1.2h-1.2zM89.8 258.9h1.2v1.2h-1.2zM93.7 256.3h1.2v1.2h-1.2zM81.7 251.0h1.2v1.2h-1.2zM84.6 252.7h1.2v1.2h-1.2zM130.8 263.4h1.2v1.2h-1.2zM128.8 255.3h1.2v1.2h-1.2zM121.0 258.5h1.2v1.2h-1.2zM120.2 259.8h1.2v1.2h-1.2zM134.0 249.3h1.2v1.2h-1.2zM133.0 262.2h1.2v1.2h-1.2zM130.0 251.0h1.2v1.2h-1.2zM131.7 263.3h1.2v1.2h-1.2zM139.2 277.6h1.2v1.2h-1.2zM118.2 262.7h1.2v1.2h-1.2zM135.7 253.5h1.2v1.2h-1.2zM134.8 279.1h1.2v1.2h-1.2zM133.3 272.3h1.2v1.2h-1.2zM140.2 255.4h1.2v1.2h-1.2zM115.7 270.4h1.2v1.2h-1.2zM131.1 253.0h1.2v1.2h-1.2zM134.0 260.1h1.2v1.2h-1.2zM140.8 254.0h1.2v1.2h-1.2zM131.8 265.4h1.2v1.2h-1.2zM139.0 256.2h1.2v1.2h-1.2zM118.6 261.5h1.2v1.2h-1.2zM129.0 264.8h1.2v1.2h-1.2zM115.1 257.7h1.2v1.2h-1.2zM121.0 246.9h1.2v1.2h-1.2zM135.5 270.2h1.2v1.2h-1.2zM141.0 253.4h1.2v1.2h-1.2zM121.8 264.6h1.2v1.2h-1.2zM129.6 250.0h1.2v1.2h-1.2zM118.9 257.3h1.2v1.2h-1.2zM124.9 270.1h1.2v1.2h-1.2zM118.6 253.7h1.2v1.2h-1.2zM133.0 270.1h1.2v1.2h-1.2zM132.0 276.6h1.2v1.2h-1.2zM132.3 258.5h1.2v1.2h-1.2zM135.7 262.8h1.2v1.2h-1.2zM121.6 250.6h1.2v1.2h-1.2zM130.8 262.7h1.2v1.2h-1.2zM123.6 252.8h1.2v1.2h-1.2zM127.1 262.7h1.2v1.2h-1.2zM129.4 265.2h1.2v1.2h-1.2zM135.3 250.9h1.2v1.2h-1.2zM130.3 247.8h1.2v1.2h-1.2zM133.3 267.1h1.2v1.2h-1.2zM136.3 256.8h1.2v1.2h-1.2zM132.3 263.8h1.2v1.2h-1.2zM135.3 268.2h1.2v1.2h-1.2zM129.0 256.6h1.2v1.2h-1.2zM129.5 263.2h1.2v1.2h-1.2zM130.7 271.7h1.2v1.2h-1.2zM127.9 259.4h1.2v1.2h-1.2zM129.9 279.4h1.2v1.2h-1.2zM125.6 250.1h1.2v1.2h-1.2zM129.7 266.7h1.2v1.2h-1.2zM132.6 257.9h1.2v1.2h-1.2zM130.9 257.3h1.2v1.2h-1.2zM145.4 263.0h1.2v1.2h-1.2zM135.6 268.6h1.2v1.2h-1.2zM126.0 247.9h1.2v1.2h-1.2zM129.8 273.5h1.2v1.2h-1.2zM139.7 254.0h1.2v1.2h-1.2zM123.4 268.3h1.2v1.2h-1.2zM140.5 249.1h1.2v1.2h-1.2zM144.2 252.2h1.2v1.2h-1.2zM138.0 257.6h1.2v1.2h-1.2zM130.1 253.7h1.2v1.2h-1.2zM137.6 265.3h1.2v1.2h-1.2zM138.4 256.8h1.2v1.2h-1.2zM145.0 257.7h1.2v1.2h-1.2zM124.1 273.6h1.2v1.2h-1.2zM133.5 260.0h1.2v1.2h-1.2zM138.7 262.8h1.2v1.2h-1.2zM133.3 278.3h1.2v1.2h-1.2zM118.7 265.6h1.2v1.2h-1.2zM125.3 260.2h1.2v1.2h-1.2zM131.3 262.0h1.2v1.2h-1.2zM114.8 266.1h1.2v1.2h-1.2zM149.6 255.6h1.2v1.2h-1.2zM139.1 265.4h1.2v1.2h-1.2zM134.7 254.8h1.2v1.2h-1.2zM137.2 262.1h1.2v1.2h-1.2zM143.1 267.4h1.2v1.2h-1.2zM143.6 264.1h1.2v1.2h-1.2zM133.8 253.8h1.2v1.2h-1.2zM150.9 272.2h1.2v1.2h-1.2zM133.2 256.0h1.2v1.2h-1.2zM136.7 272.4h1.2v1.2h-1.2zM136.3 268.4h1.2v1.2h-1.2zM134.4 262.9h1.2v1.2h-1.2zM123.2 260.7h1.2v1.2h-1.2zM132.9 258.8h1.2v1.2h-1.2zM130.7 262.4h1.2v1.2h-1.2zM128.2 257.6h1.2v1.2h-1.2zM125.9 248.1h1.2v1.2h-1.2zM128.5 255.6h1.2v1.2h-1.2zM144.6 269.2h1.2v1.2h-1.2zM129.7 264.8h1.2v1.2h-1.2zM135.0 265.0h1.2v1.2h-1.2zM127.4 259.5h1.2v1.2h-1.2zM109.7 258.3h1.2v1.2h-1.2zM140.3 261.1h1.2v1.2h-1.2zM133.8 265.0h1.2v1.2h-1.2zM117.1 247.3h1.2v1.2h-1.2zM123.1 261.8h1.2v1.2h-1.2zM139.1 257.7h1.2v1.2h-1.2zM139.9 278.5h1.2v1.2h-1.2zM120.2 247.4h1.2v1.2h-1.2zM140.5 272.9h1.2v1.2h-1.2zM135.4 262.9h1.2v1.2h-1.2zM137.6 265.7h1.2v1.2h-1.2zM123.0 266.6h1.2v1.2h-1.2zM139.8 255.7h1.2v1.2h-1.2zM125.7 254.9h1.2v1.2h-1.2zM128.1 264.5h1.2v1.2h-1.2zM138.3 259.7h1.2v1.2h-1.2zM129.3 250.1h1.2v1.2h-1.2zM128.4 262.8h1.2v1.2h-1.2zM126.0 254.4h1.2v1.2h-1.2zM124.0 257.1h1.2v1.2h-1.2zM130.4 269.0h1.2v1.2h-1.2zM118.0 268.1h1.2v1.2h-1.2zM137.3 254.5h1.2v1.2h-1.2zM127.4 261.4h1.2v1.2h-1.2zM148.3 250.4h1.2v1.2h-1.2zM131.3 246.4h1.2v1.2h-1.2zM130.6 260.7h1.2v1.2h-1.2zM114.5 250.9h1.2v1.2h-1.2zM132.0 261.2h1.2v1.2h-1.2zM124.9 247.7h1.2v1.2h-1.2zM125.7 257.1h1.2v1.2h-1.2zM117.7 265.2h1.2v1.2h-1.2zM121.9 263.0h1.2v1.2h-1.2zM139.6 246.5h1.2v1.2h-1.2zM131.9 266.4h1.2v1.2h-1.2zM146.2 268.1h1.2v1.2h-1.2zM144.2 267.2h1.2v1.2h-1.2zM122.1 272.0h1.2v1.2h-1.2zM141.2 261.6h1.2v1.2h-1.2zM147.3 247.6h1.2v1.2h-1.2zM146.7 257.4h1.2v1.2h-1.2zM133.5 271.5h1.2v1.2h-1.2zM120.0 261.9h1.2v1.2h-1.2zM114.5 247.2h1.2v1.2h-1.2zM148.4 253.0h1.2v1.2h-1.2zM129.4 249.9h1.2v1.2h-1.2zM147.6 262.2h1.2v1.2h-1.2zM144.8 254.7h1.2v1.2h-1.2zM130.7 253.9h1.2v1.2h-1.2zM135.2 268.6h1.2v1.2h-1.2zM134.6 264.7h1.2v1.2h-1.2zM125.2 276.5h1.2v1.2h-1.2zM114.7 251.3h1.2v1.2h-1.2zM138.0 277.1h1.2v1.2h-1.2zM204.2 247.7h1.2v1.2h-1.2zM175.1 251.2h1.2v1.2h-1.2z" fill="#1a1a1a" fill-opacity="0.72"/>
<rect x="79.40" y="168.70" width="126.70" height="112.10" fill="none" stroke="#222" stroke-width="1.35"/>
<path d="M112.45 168.70V280.80M79.40 244.40H206.10" stroke="#222" stroke-width="1.15" fill="none"/>
<text x="73.40" y="295.50" font-family="Liberation Sans, sans-serif" font-size="9" fill="#151515" stroke="#151515" stroke-width="0.35" textLength="8.5" lengthAdjust="spacingAndGlyphs">10</text>
<text x="82.00" y="290.20" font-family="Liberation Sans, sans-serif" font-size="9" fill="#151515" stroke="#151515" stroke-width="0.35">0</text>
<g transform="translate(71.80 280.80) rotate(-90)"><text x="-6.5" y="0" font-family="Liberation Sans, sans-serif" font-size="9" fill="#151515" stroke="#151515" stroke-width="0.35" textLength="9.2" lengthAdjust="spacingAndGlyphs">10</text><text x="2.5" y="-5.6" font-family="Liberation Sans, sans-serif" font-size="9" fill="#151515" stroke="#151515" stroke-width="0.35">0</text></g>
<text x="105.08" y="295.50" font-family="Liberation Sans, sans-serif" font-size="9" fill="#151515" stroke="#151515" stroke-width="0.35" textLength="8.5" lengthAdjust="spacingAndGlyphs">10</text>
<text x="113.67" y="290.20" font-family="Liberation Sans, sans-serif" font-size="9" fill="#151515" stroke="#151515" stroke-width="0.35">1</text>
<g transform="translate(71.80 252.78) rotate(-90)"><text x="-6.5" y="0" font-family="Liberation Sans, sans-serif" font-size="9" fill="#151515" stroke="#151515" stroke-width="0.35" textLength="9.2" lengthAdjust="spacingAndGlyphs">10</text><text x="2.5" y="-5.6" font-family="Liberation Sans, sans-serif" font-size="9" fill="#151515" stroke="#151515" stroke-width="0.35">1</text></g>
<text x="136.75" y="295.50" font-family="Liberation Sans, sans-serif" font-size="9" fill="#151515" stroke="#151515" stroke-width="0.35" textLength="8.5" lengthAdjust="spacingAndGlyphs">10</text>
<text x="145.35" y="290.20" font-family="Liberation Sans, sans-serif" font-size="9" fill="#151515" stroke="#151515" stroke-width="0.35">2</text>
<g transform="translate(71.80 224.75) rotate(-90)"><text x="-6.5" y="0" font-family="Liberation Sans, sans-serif" font-size="9" fill="#151515" stroke="#151515" stroke-width="0.35" textLength="9.2" lengthAdjust="spacingAndGlyphs">10</text><text x="2.5" y="-5.6" font-family="Liberation Sans, sans-serif" font-size="9" fill="#151515" stroke="#151515" stroke-width="0.35">2</text></g>
<text x="168.43" y="295.50" font-family="Liberation Sans, sans-serif" font-size="9" fill="#151515" stroke="#151515" stroke-width="0.35" textLength="8.5" lengthAdjust="spacingAndGlyphs">10</text>
<text x="177.03" y="290.20" font-family="Liberation Sans, sans-serif" font-size="9" fill="#151515" stroke="#151515" stroke-width="0.35">3</text>
<g transform="translate(71.80 196.72) rotate(-90)"><text x="-6.5" y="0" font-family="Liberation Sans, sans-serif" font-size="9" fill="#151515" stroke="#151515" stroke-width="0.35" textLength="9.2" lengthAdjust="spacingAndGlyphs">10</text><text x="2.5" y="-5.6" font-family="Liberation Sans, sans-serif" font-size="9" fill="#151515" stroke="#151515" stroke-width="0.35">3</text></g>
<text x="200.10" y="295.50" font-family="Liberation Sans, sans-serif" font-size="9" fill="#151515" stroke="#151515" stroke-width="0.35" textLength="8.5" lengthAdjust="spacingAndGlyphs">10</text>
<text x="208.70" y="290.20" font-family="Liberation Sans, sans-serif" font-size="9" fill="#151515" stroke="#151515" stroke-width="0.35">4</text>
<g transform="translate(71.80 168.70) rotate(-90)"><text x="-8.2" y="0" font-family="Liberation Sans, sans-serif" font-size="9" fill="#151515" stroke="#151515" stroke-width="0.35" textLength="9.2" lengthAdjust="spacingAndGlyphs">10</text></g>
<path d="M144.20 190.10H192.80M168.50 175.50V203.20" stroke="#333" stroke-width="1" fill="none"/>
<text x="155.00" y="185.00" font-family="Liberation Sans, sans-serif" font-size="14" font-weight="bold" text-anchor="middle" fill="#0a0a0a" stroke="#0a0a0a" stroke-width="0.35">19</text>
<text x="182.00" y="185.00" font-family="Liberation Sans, sans-serif" font-size="14" font-weight="bold" text-anchor="middle" fill="#0a0a0a" stroke="#0a0a0a" stroke-width="0.35">74</text>
<text x="155.00" y="203.20" font-family="Liberation Sans, sans-serif" font-size="14" font-weight="bold" text-anchor="middle" fill="#0a0a0a" stroke="#0a0a0a" stroke-width="0.35">2</text>
<text x="182.00" y="203.20" font-family="Liberation Sans, sans-serif" font-size="14" font-weight="bold" text-anchor="middle" fill="#0a0a0a" stroke="#0a0a0a" stroke-width="0.35">5</text>
<path d="M329.30 140.30v4.5M329.30 140.30h-4.5M338.82 140.30v2.4M329.30 131.75h-2.4M344.39 140.30v2.4M329.30 126.75h-2.4M348.34 140.30v2.4M329.30 123.20h-2.4M351.40 140.30v2.4M329.30 120.45h-2.4M353.91 140.30v2.4M329.30 118.20h-2.4M356.03 140.30v2.4M329.30 116.30h-2.4M357.86 140.30v2.4M329.30 114.65h-2.4M359.48 140.30v2.4M329.30 113.20h-2.4M360.93 140.30v4.5M329.30 111.90h-4.5M370.45 140.30v2.4M329.30 103.35h-2.4M376.01 140.30v2.4M329.30 98.35h-2.4M379.97 140.30v2.4M329.30 94.80h-2.4M383.03 140.30v2.4M329.30 92.05h-2.4M385.53 140.30v2.4M329.30 89.80h-2.4M387.65 140.30v2.4M329.30 87.90h-2.4M389.49 140.30v2.4M329.30 86.25h-2.4M391.10 140.30v2.4M329.30 84.80h-2.4M392.55 140.30v4.5M329.30 83.50h-4.5M402.07 140.30v2.4M329.30 74.95h-2.4M407.64 140.30v2.4M329.30 69.95h-2.4M411.59 140.30v2.4M329.30 66.40h-2.4M414.65 140.30v2.4M329.30 63.65h-2.4M417.16 140.30v2.4M329.30 61.40h-2.4M419.28 140.30v2.4M329.30 59.50h-2.4M421.11 140.30v2.4M329.30 57.85h-2.4M422.73 140.30v2.4M329.30 56.40h-2.4M424.18 140.30v4.5M329.30 55.10h-4.5M433.70 140.30v2.4M329.30 46.55h-2.4M439.26 140.30v2.4M329.30 41.55h-2.4M443.22 140.30v2.4M329.30 38.00h-2.4M446.28 140.30v2.4M329.30 35.25h-2.4M448.78 140.30v2.4M329.30 33.00h-2.4M450.90 140.30v2.4M329.30 31.10h-2.4M452.74 140.30v2.4M329.30 29.45h-2.4M454.35 140.30v2.4M329.30 28.00h-2.4M455.80 140.30v4.5M329.30 26.70h-4.5" stroke="#1a1a1a" stroke-width="1.15" fill="none"/>
<path d="M335.8 102.1h1.2v1.2h-1.2zM343.3 123.8h1.2v1.2h-1.2zM345.0 120.3h1.2v1.2h-1.2zM334.1 111.2h1.2v1.2h-1.2zM343.9 119.2h1.2v1.2h-1.2zM336.3 104.6h1.2v1.2h-1.2zM337.1 121.9h1.2v1.2h-1.2zM349.0 101.3h1.2v1.2h-1.2zM339.9 109.9h1.2v1.2h-1.2zM334.2 105.6h1.2v1.2h-1.2zM347.4 117.2h1.2v1.2h-1.2zM335.8 98.6h1.2v1.2h-1.2zM340.0 88.0h1.2v1.2h-1.2zM343.2 108.6h1.2v1.2h-1.2zM330.9 104.1h1.2v1.2h-1.2zM335.9 103.6h1.2v1.2h-1.2zM334.3 124.8h1.2v1.2h-1.2zM333.7 117.0h1.2v1.2h-1.2zM342.4 125.8h1.2v1.2h-1.2zM340.4 107.1h1.2v1.2h-1.2zM341.4 82.7h1.2v1.2h-1.2zM358.9 104.4h1.2v1.2h-1.2zM338.5 92.5h1.2v1.2h-1.2zM339.8 128.0h1.2v1.2h-1.2zM335.2 112.8h1.2v1.2h-1.2zM348.6 119.3h1.2v1.2h-1.2zM337.8 84.6h1.2v1.2h-1.2zM343.9 114.5h1.2v1.2h-1.2zM338.4 101.6h1.2v1.2h-1.2zM354.0 86.7h1.2v1.2h-1.2zM337.0 99.3h1.2v1.2h-1.2zM334.9 123.2h1.2v1.2h-1.2zM342.8 87.2h1.2v1.2h-1.2zM331.8 94.6h1.2v1.2h-1.2zM339.7 113.0h1.2v1.2h-1.2zM336.0 103.6h1.2v1.2h-1.2zM346.2 105.2h1.2v1.2h-1.2zM346.4 99.6h1.2v1.2h-1.2zM344.5 123.5h1.2v1.2h-1.2zM338.4 102.8h1.2v1.2h-1.2zM339.7 113.1h1.2v1.2h-1.2zM331.8 107.7h1.2v1.2h-1.2zM336.5 125.5h1.2v1.2h-1.2zM338.5 97.6h1.2v1.2h-1.2zM341.9 104.1h1.2v1.2h-1.2zM341.2 110.2h1.2v1.2h-1.2zM349.9 102.0h1.2v1.2h-1.2zM353.4 72.6h1.2v1.2h-1.2zM354.5 122.7h1.2v1.2h-1.2zM352.6 109.7h1.2v1.2h-1.2zM343.0 94.2h1.2v1.2h-1.2zM350.9 92.3h1.2v1.2h-1.2zM334.9 107.2h1.2v1.2h-1.2zM342.6 111.5h1.2v1.2h-1.2zM332.2 102.8h1.2v1.2h-1.2zM344.5 122.3h1.2v1.2h-1.2zM346.6 112.5h1.2v1.2h-1.2zM338.9 100.2h1.2v1.2h-1.2zM337.0 106.0h1.2v1.2h-1.2zM344.8 100.7h1.2v1.2h-1.2zM356.2 94.4h1.2v1.2h-1.2zM347.0 104.6h1.2v1.2h-1.2zM339.8 102.3h1.2v1.2h-1.2zM352.3 103.4h1.2v1.2h-1.2zM345.0 108.7h1.2v1.2h-1.2zM346.5 114.7h1.2v1.2h-1.2zM353.2 97.8h1.2v1.2h-1.2zM334.7 128.8h1.2v1.2h-1.2zM350.4 108.1h1.2v1.2h-1.2zM338.7 110.4h1.2v1.2h-1.2zM350.6 97.4h1.2v1.2h-1.2zM351.7 106.5h1.2v1.2h-1.2zM338.2 102.1h1.2v1.2h-1.2zM331.0 100.1h1.2v1.2h-1.2zM334.2 110.2h1.2v1.2h-1.2zM346.3 107.7h1.2v1.2h-1.2zM342.3 112.4h1.2v1.2h-1.2zM352.9 114.6h1.2v1.2h-1.2zM352.6 106.4h1.2v1.2h-1.2zM343.5 98.9h1.2v1.2h-1.2zM345.3 96.3h1.2v1.2h-1.2zM344.4 99.1h1.2v1.2h-1.2zM338.2 122.7h1.2v1.2h-1.2zM342.0 117.3h1.2v1.2h-1.2zM339.1 83.4h1.2v1.2h-1.2zM351.9 104.9h1.2v1.2h-1.2zM336.0 119.3h1.2v1.2h-1.2zM332.4 97.7h1.2v1.2h-1.2zM349.4 98.3h1.2v1.2h-1.2zM349.3 103.3h1.2v1.2h-1.2zM339.3 108.1h1.2v1.2h-1.2zM337.1 120.9h1.2v1.2h-1.2zM349.0 108.1h1.2v1.2h-1.2zM345.4 114.1h1.2v1.2h-1.2zM353.4 87.0h1.2v1.2h-1.2zM348.5 118.8h1.2v1.2h-1.2zM338.5 107.4h1.2v1.2h-1.2zM338.3 123.0h1.2v1.2h-1.2zM332.3 114.9h1.2v1.2h-1.2zM350.5 114.5h1.2v1.2h-1.2zM337.3 101.4h1.2v1.2h-1.2zM349.0 95.2h1.2v1.2h-1.2zM334.3 119.3h1.2v1.2h-1.2zM340.0 89.2h1.2v1.2h-1.2zM335.1 99.0h1.2v1.2h-1.2zM334.6 122.9h1.2v1.2h-1.2zM333.4 111.9h1.2v1.2h-1.2zM336.5 114.7h1.2v1.2h-1.2zM330.2 87.3h1.2v1.2h-1.2zM344.7 125.4h1.2v1.2h-1.2zM330.5 103.2h1.2v1.2h-1.2zM337.1 95.3h1.2v1.2h-1.2zM348.1 107.8h1.2v1.2h-1.2zM330.5 104.5h1.2v1.2h-1.2zM350.8 98.2h1.2v1.2h-1.2zM337.0 96.7h1.2v1.2h-1.2zM342.1 100.2h1.2v1.2h-1.2zM347.5 96.7h1.2v1.2h-1.2zM343.0 110.4h1.2v1.2h-1.2zM336.6 101.6h1.2v1.2h-1.2zM334.9 105.0h1.2v1.2h-1.2zM337.5 114.3h1.2v1.2h-1.2zM340.9 114.3h1.2v1.2h-1.2zM353.1 103.8h1.2v1.2h-1.2zM338.7 112.0h1.2v1.2h-1.2zM356.6 102.7h1.2v1.2h-1.2zM353.5 122.3h1.2v1.2h-1.2zM333.5 112.3h1.2v1.2h-1.2zM350.8 107.9h1.2v1.2h-1.2zM342.1 134.8h1.2v1.2h-1.2zM343.5 134.6h1.2v1.2h-1.2zM334.2 128.2h1.2v1.2h-1.2zM337.1 76.4h1.2v1.2h-1.2zM334.7 101.2h1.2v1.2h-1.2zM340.6 116.8h1.2v1.2h-1.2zM346.0 113.9h1.2v1.2h-1.2zM335.3 129.9h1.2v1.2h-1.2zM349.8 107.7h1.2v1.2h-1.2zM336.6 106.6h1.2v1.2h-1.2zM339.2 98.4h1.2v1.2h-1.2zM340.8 98.8h1.2v1.2h-1.2zM345.7 98.9h1.2v1.2h-1.2zM344.6 111.3h1.2v1.2h-1.2zM342.1 113.9h1.2v1.2h-1.2zM335.7 116.6h1.2v1.2h-1.2zM341.1 101.7h1.2v1.2h-1.2zM353.9 121.3h1.2v1.2h-1.2zM338.8 114.4h1.2v1.2h-1.2zM346.0 127.4h1.2v1.2h-1.2zM348.5 105.1h1.2v1.2h-1.2zM339.0 92.4h1.2v1.2h-1.2zM342.9 118.2h1.2v1.2h-1.2zM338.0 115.7h1.2v1.2h-1.2zM341.9 101.3h1.2v1.2h-1.2zM331.8 121.4h1.2v1.2h-1.2zM359.9 114.2h1.2v1.2h-1.2zM332.8 94.0h1.2v1.2h-1.2zM342.8 115.5h1.2v1.2h-1.2zM352.3 76.4h1.2v1.2h-1.2zM354.8 109.3h1.2v1.2h-1.2zM341.9 112.1h1.2v1.2h-1.2zM338.2 103.6h1.2v1.2h-1.2zM348.8 85.1h1.2v1.2h-1.2zM340.1 114.4h1.2v1.2h-1.2zM352.4 112.0h1.2v1.2h-1.2zM346.2 116.2h1.2v1.2h-1.2zM342.6 111.8h1.2v1.2h-1.2zM334.8 104.5h1.2v1.2h-1.2zM354.8 91.5h1.2v1.2h-1.2zM339.7 91.0h1.2v1.2h-1.2zM336.9 97.3h1.2v1.2h-1.2zM331.7 110.3h1.2v1.2h-1.2zM333.8 114.0h1.2v1.2h-1.2zM354.5 74.5h1.2v1.2h-1.2zM339.7 80.4h1.2v1.2h-1.2zM340.0 112.0h1.2v1.2h-1.2zM342.5 122.7h1.2v1.2h-1.2zM342.1 85.1h1.2v1.2h-1.2zM352.2 95.1h1.2v1.2h-1.2zM340.2 111.3h1.2v1.2h-1.2zM334.3 108.3h1.2v1.2h-1.2zM352.1 85.6h1.2v1.2h-1.2zM339.7 90.8h1.2v1.2h-1.2zM343.9 90.2h1.2v1.2h-1.2zM345.2 106.4h1.2v1.2h-1.2zM342.1 90.1h1.2v1.2h-1.2zM339.3 113.3h1.2v1.2h-1.2zM348.2 132.8h1.2v1.2h-1.2zM345.9 106.3h1.2v1.2h-1.2zM332.8 102.0h1.2v1.2h-1.2zM339.1 112.8h1.2v1.2h-1.2zM339.0 139.0h1.2v1.2h-1.2zM350.9 79.0h1.2v1.2h-1.2zM332.2 107.1h1.2v1.2h-1.2zM348.3 112.4h1.2v1.2h-1.2zM351.1 114.8h1.2v1.2h-1.2zM360.2 117.5h1.2v1.2h-1.2zM344.4 126.8h1.2v1.2h-1.2zM337.6 100.2h1.2v1.2h-1.2zM333.4 110.4h1.2v1.2h-1.2zM344.3 119.2h1.2v1.2h-1.2zM351.8 115.2h1.2v1.2h-1.2zM350.2 104.0h1.2v1.2h-1.2zM333.7 116.6h1.2v1.2h-1.2zM348.6 124.4h1.2v1.2h-1.2zM339.7 101.1h1.2v1.2h-1.2zM338.2 111.8h1.2v1.2h-1.2zM340.6 104.8h1.2v1.2h-1.2zM342.9 103.4h1.2v1.2h-1.2zM343.5 99.4h1.2v1.2h-1.2zM355.2 96.7h1.2v1.2h-1.2zM347.9 124.5h1.2v1.2h-1.2zM336.9 110.5h1.2v1.2h-1.2zM352.5 109.5h1.2v1.2h-1.2zM335.4 108.6h1.2v1.2h-1.2zM343.1 101.8h1.2v1.2h-1.2zM338.6 96.6h1.2v1.2h-1.2zM345.3 109.7h1.2v1.2h-1.2zM343.6 100.6h1.2v1.2h-1.2zM344.7 103.3h1.2v1.2h-1.2zM343.2 105.1h1.2v1.2h-1.2zM336.0 93.0h1.2v1.2h-1.2zM339.4 92.0h1.2v1.2h-1.2zM344.1 134.1h1.2v1.2h-1.2zM350.3 92.0h1.2v1.2h-1.2zM340.2 98.9h1.2v1.2h-1.2zM346.7 88.3h1.2v1.2h-1.2zM343.3 109.9h1.2v1.2h-1.2zM345.2 112.6h1.2v1.2h-1.2zM342.1 84.0h1.2v1.2h-1.2zM338.6 94.8h1.2v1.2h-1.2zM345.0 104.1h1.2v1.2h-1.2zM342.1 121.4h1.2v1.2h-1.2zM340.2 129.0h1.2v1.2h-1.2zM347.3 87.8h1.2v1.2h-1.2zM336.6 122.9h1.2v1.2h-1.2zM337.2 122.6h1.2v1.2h-1.2zM336.8 105.5h1.2v1.2h-1.2zM348.7 86.6h1.2v1.2h-1.2zM341.6 101.2h1.2v1.2h-1.2zM342.3 129.3h1.2v1.2h-1.2zM344.7 89.5h1.2v1.2h-1.2zM348.2 101.2h1.2v1.2h-1.2zM342.2 122.1h1.2v1.2h-1.2zM338.7 119.5h1.2v1.2h-1.2zM342.3 95.3h1.2v1.2h-1.2zM338.7 89.4h1.2v1.2h-1.2zM349.9 109.2h1.2v1.2h-1.2zM348.3 92.5h1.2v1.2h-1.2zM347.4 91.5h1.2v1.2h-1.2zM343.1 106.9h1.2v1.2h-1.2zM336.6 111.1h1.2v1.2h-1.2zM341.3 95.7h1.2v1.2h-1.2zM335.4 90.0h1.2v1.2h-1.2zM351.3 109.0h1.2v1.2h-1.2zM338.3 116.1h1.2v1.2h-1.2zM334.5 91.9h1.2v1.2h-1.2zM343.7 127.7h1.2v1.2h-1.2zM343.3 109.1h1.2v1.2h-1.2zM354.1 86.9h1.2v1.2h-1.2zM364.0 92.7h1.2v1.2h-1.2zM340.4 89.5h1.2v1.2h-1.2zM331.9 103.9h1.2v1.2h-1.2zM359.3 94.8h1.2v1.2h-1.2zM336.4 110.6h1.2v1.2h-1.2zM333.4 103.7h1.2v1.2h-1.2zM347.1 78.6h1.2v1.2h-1.2zM338.7 103.2h1.2v1.2h-1.2zM337.2 105.5h1.2v1.2h-1.2zM337.1 93.6h1.2v1.2h-1.2zM350.5 133.2h1.2v1.2h-1.2zM347.0 95.7h1.2v1.2h-1.2zM351.7 113.5h1.2v1.2h-1.2zM334.9 114.9h1.2v1.2h-1.2zM336.7 114.5h1.2v1.2h-1.2zM347.9 122.1h1.2v1.2h-1.2zM333.1 105.4h1.2v1.2h-1.2zM341.0 91.0h1.2v1.2h-1.2zM344.1 116.1h1.2v1.2h-1.2zM330.6 99.8h1.2v1.2h-1.2zM332.7 90.4h1.2v1.2h-1.2zM333.0 125.0h1.2v1.2h-1.2zM336.0 101.8h1.2v1.2h-1.2zM348.4 120.4h1.2v1.2h-1.2zM351.6 79.9h1.2v1.2h-1.2zM346.7 84.0h1.2v1.2h-1.2zM336.2 101.6h1.2v1.2h-1.2zM336.7 132.7h1.2v1.2h-1.2zM339.7 122.4h1.2v1.2h-1.2zM339.6 106.2h1.2v1.2h-1.2zM344.8 112.8h1.2v1.2h-1.2zM344.8 84.3h1.2v1.2h-1.2zM344.8 111.2h1.2v1.2h-1.2zM345.5 106.3h1.2v1.2h-1.2zM344.1 89.9h1.2v1.2h-1.2zM349.5 91.1h1.2v1.2h-1.2zM351.5 120.3h1.2v1.2h-1.2zM340.5 103.2h1.2v1.2h-1.2zM346.8 103.0h1.2v1.2h-1.2zM332.1 110.7h1.2v1.2h-1.2zM331.8 101.0h1.2v1.2h-1.2zM354.5 117.6h1.2v1.2h-1.2zM337.6 106.1h1.2v1.2h-1.2zM336.1 106.9h1.2v1.2h-1.2zM330.1 115.9h1.2v1.2h-1.2zM341.1 99.0h1.2v1.2h-1.2zM337.7 100.8h1.2v1.2h-1.2zM336.6 100.5h1.2v1.2h-1.2zM350.8 115.9h1.2v1.2h-1.2zM344.1 111.8h1.2v1.2h-1.2zM332.5 75.3h1.2v1.2h-1.2zM352.3 116.4h1.2v1.2h-1.2zM342.6 110.7h1.2v1.2h-1.2zM342.5 107.3h1.2v1.2h-1.2zM339.0 77.8h1.2v1.2h-1.2zM345.3 107.6h1.2v1.2h-1.2zM348.3 111.0h1.2v1.2h-1.2zM338.9 114.9h1.2v1.2h-1.2zM342.4 101.2h1.2v1.2h-1.2zM338.2 101.4h1.2v1.2h-1.2zM338.8 101.2h1.2v1.2h-1.2zM340.1 121.7h1.2v1.2h-1.2zM337.4 105.0h1.2v1.2h-1.2zM335.4 89.1h1.2v1.2h-1.2zM334.6 100.3h1.2v1.2h-1.2zM342.2 102.6h1.2v1.2h-1.2zM332.0 102.1h1.2v1.2h-1.2zM352.3 95.4h1.2v1.2h-1.2zM339.4 107.5h1.2v1.2h-1.2zM351.9 107.4h1.2v1.2h-1.2zM333.2 138.6h1.2v1.2h-1.2zM346.9 95.1h1.2v1.2h-1.2zM336.3 88.8h1.2v1.2h-1.2zM362.9 95.1h1.2v1.2h-1.2zM350.7 136.2h1.2v1.2h-1.2zM357.9 118.2h1.2v1.2h-1.2zM341.0 122.4h1.2v1.2h-1.2zM359.2 98.6h1.2v1.2h-1.2zM339.0 109.0h1.2v1.2h-1.2zM351.9 133.4h1.2v1.2h-1.2zM351.7 101.6h1.2v1.2h-1.2zM356.4 95.7h1.2v1.2h-1.2zM334.8 88.5h1.2v1.2h-1.2zM351.2 117.5h1.2v1.2h-1.2zM347.3 116.2h1.2v1.2h-1.2zM337.6 98.7h1.2v1.2h-1.2zM351.5 108.6h1.2v1.2h-1.2zM348.5 134.6h1.2v1.2h-1.2zM347.4 125.9h1.2v1.2h-1.2zM333.1 113.0h1.2v1.2h-1.2zM332.9 98.1h1.2v1.2h-1.2zM337.6 107.6h1.2v1.2h-1.2zM336.6 135.6h1.2v1.2h-1.2zM341.5 103.5h1.2v1.2h-1.2zM333.5 106.8h1.2v1.2h-1.2zM358.4 115.9h1.2v1.2h-1.2zM362.3 119.5h1.2v1.2h-1.2zM353.5 109.8h1.2v1.2h-1.2zM360.2 110.9h1.2v1.2h-1.2zM335.9 99.4h1.2v1.2h-1.2zM358.9 90.9h1.2v1.2h-1.2zM337.3 120.0h1.2v1.2h-1.2zM354.9 111.8h1.2v1.2h-1.2zM353.8 109.4h1.2v1.2h-1.2zM351.6 90.0h1.2v1.2h-1.2zM345.4 137.7h1.2v1.2h-1.2zM351.1 105.4h1.2v1.2h-1.2zM352.8 137.8h1.2v1.2h-1.2zM347.3 109.2h1.2v1.2h-1.2zM359.8 131.4h1.2v1.2h-1.2zM338.9 122.1h1.2v1.2h-1.2zM341.5 106.0h1.2v1.2h-1.2zM359.1 106.5h1.2v1.2h-1.2zM363.0 112.8h1.2v1.2h-1.2zM361.4 94.6h1.2v1.2h-1.2zM345.2 89.7h1.2v1.2h-1.2zM361.0 133.4h1.2v1.2h-1.2zM348.0 111.7h1.2v1.2h-1.2zM365.0 107.7h1.2v1.2h-1.2zM341.7 95.0h1.2v1.2h-1.2zM363.2 128.9h1.2v1.2h-1.2zM349.4 125.2h1.2v1.2h-1.2zM360.3 122.1h1.2v1.2h-1.2zM334.8 121.1h1.2v1.2h-1.2zM361.5 112.2h1.2v1.2h-1.2zM346.0 120.9h1.2v1.2h-1.2zM337.7 99.5h1.2v1.2h-1.2zM354.8 138.7h1.2v1.2h-1.2zM335.0 121.9h1.2v1.2h-1.2zM348.6 89.9h1.2v1.2h-1.2zM336.6 103.6h1.2v1.2h-1.2zM355.2 94.8h1.2v1.2h-1.2zM344.1 119.6h1.2v1.2h-1.2zM357.4 138.8h1.2v1.2h-1.2zM360.3 97.8h1.2v1.2h-1.2zM350.6 118.9h1.2v1.2h-1.2zM350.3 118.5h1.2v1.2h-1.2zM344.4 100.1h1.2v1.2h-1.2zM354.4 132.5h1.2v1.2h-1.2zM354.9 121.6h1.2v1.2h-1.2zM364.5 100.9h1.2v1.2h-1.2zM351.1 130.2h1.2v1.2h-1.2zM353.8 88.1h1.2v1.2h-1.2zM348.9 129.7h1.2v1.2h-1.2zM338.1 108.1h1.2v1.2h-1.2zM365.4 111.2h1.2v1.2h-1.2zM350.0 118.5h1.2v1.2h-1.2zM360.7 111.2h1.2v1.2h-1.2zM362.4 124.0h1.2v1.2h-1.2zM345.0 119.4h1.2v1.2h-1.2zM341.5 90.6h1.2v1.2h-1.2zM348.0 90.3h1.2v1.2h-1.2zM341.5 131.0h1.2v1.2h-1.2zM365.0 98.1h1.2v1.2h-1.2zM336.8 106.0h1.2v1.2h-1.2zM346.8 95.2h1.2v1.2h-1.2zM359.2 96.0h1.2v1.2h-1.2zM349.9 101.9h1.2v1.2h-1.2zM353.6 93.9h1.2v1.2h-1.2zM348.3 131.2h1.2v1.2h-1.2zM331.6 97.9h1.2v1.2h-1.2zM333.5 130.6h1.2v1.2h-1.2zM354.5 100.4h1.2v1.2h-1.2zM362.5 96.8h1.2v1.2h-1.2zM348.1 125.2h1.2v1.2h-1.2zM352.0 91.4h1.2v1.2h-1.2zM332.7 97.4h1.2v1.2h-1.2zM364.1 133.8h1.2v1.2h-1.2zM341.5 90.4h1.2v1.2h-1.2zM353.2 98.1h1.2v1.2h-1.2zM362.2 134.8h1.2v1.2h-1.2zM358.4 127.6h1.2v1.2h-1.2zM358.2 130.4h1.2v1.2h-1.2zM344.3 124.8h1.2v1.2h-1.2zM331.4 123.4h1.2v1.2h-1.2zM346.6 138.2h1.2v1.2h-1.2zM358.5 111.1h1.2v1.2h-1.2zM355.7 117.9h1.2v1.2h-1.2zM352.6 88.4h1.2v1.2h-1.2zM338.9 101.1h1.2v1.2h-1.2zM355.6 134.7h1.2v1.2h-1.2zM353.0 126.7h1.2v1.2h-1.2zM353.3 95.4h1.2v1.2h-1.2zM339.9 117.7h1.2v1.2h-1.2zM357.4 109.4h1.2v1.2h-1.2zM355.3 105.0h1.2v1.2h-1.2zM342.0 96.6h1.2v1.2h-1.2zM345.5 117.6h1.2v1.2h-1.2zM334.8 135.4h1.2v1.2h-1.2zM331.3 125.3h1.2v1.2h-1.2zM343.1 135.8h1.2v1.2h-1.2zM341.0 89.3h1.2v1.2h-1.2zM355.2 107.3h1.2v1.2h-1.2zM359.6 122.0h1.2v1.2h-1.2zM346.4 121.7h1.2v1.2h-1.2zM354.8 104.8h1.2v1.2h-1.2zM337.8 121.3h1.2v1.2h-1.2zM350.9 90.4h1.2v1.2h-1.2zM336.7 110.0h1.2v1.2h-1.2zM334.1 114.8h1.2v1.2h-1.2zM344.8 103.1h1.2v1.2h-1.2zM357.3 125.6h1.2v1.2h-1.2zM333.3 118.4h1.2v1.2h-1.2zM365.7 118.9h1.2v1.2h-1.2zM365.5 99.9h1.2v1.2h-1.2zM338.7 104.7h1.2v1.2h-1.2zM339.2 96.1h1.2v1.2h-1.2zM339.9 113.6h1.2v1.2h-1.2zM356.7 41.5h1.2v1.2h-1.2zM351.9 42.8h1.2v1.2h-1.2zM340.3 83.8h1.2v1.2h-1.2zM338.5 84.3h1.2v1.2h-1.2zM371.3 28.9h1.2v1.2h-1.2zM355.3 40.9h1.2v1.2h-1.2zM344.0 78.8h1.2v1.2h-1.2zM339.1 82.9h1.2v1.2h-1.2zM346.2 70.9h1.2v1.2h-1.2zM349.0 61.2h1.2v1.2h-1.2zM352.6 48.1h1.2v1.2h-1.2zM359.6 35.3h1.2v1.2h-1.2zM352.7 29.4h1.2v1.2h-1.2zM351.4 79.4h1.2v1.2h-1.2zM354.4 50.5h1.2v1.2h-1.2zM347.9 62.3h1.2v1.2h-1.2zM355.1 38.1h1.2v1.2h-1.2zM351.8 43.8h1.2v1.2h-1.2zM351.3 34.3h1.2v1.2h-1.2zM336.9 88.5h1.2v1.2h-1.2zM343.1 66.3h1.2v1.2h-1.2zM357.8 52.0h1.2v1.2h-1.2zM356.0 58.0h1.2v1.2h-1.2zM355.7 38.2h1.2v1.2h-1.2zM340.6 69.9h1.2v1.2h-1.2zM331.9 86.7h1.2v1.2h-1.2zM356.7 59.5h1.2v1.2h-1.2zM355.7 44.3h1.2v1.2h-1.2zM350.3 47.5h1.2v1.2h-1.2zM334.4 81.4h1.2v1.2h-1.2zM348.1 67.3h1.2v1.2h-1.2zM357.9 60.5h1.2v1.2h-1.2zM343.0 60.7h1.2v1.2h-1.2zM344.5 59.1h1.2v1.2h-1.2zM351.4 65.4h1.2v1.2h-1.2zM345.8 64.5h1.2v1.2h-1.2zM336.6 74.2h1.2v1.2h-1.2zM365.5 38.8h1.2v1.2h-1.2zM357.2 36.9h1.2v1.2h-1.2zM348.0 61.8h1.2v1.2h-1.2zM340.8 93.6h1.2v1.2h-1.2zM339.2 85.1h1.2v1.2h-1.2zM350.0 46.9h1.2v1.2h-1.2zM355.8 72.1h1.2v1.2h-1.2zM343.9 72.7h1.2v1.2h-1.2zM351.3 66.4h1.2v1.2h-1.2zM342.3 88.3h1.2v1.2h-1.2zM354.2 78.4h1.2v1.2h-1.2zM334.1 86.5h1.2v1.2h-1.2zM336.7 89.6h1.2v1.2h-1.2zM352.7 55.7h1.2v1.2h-1.2zM354.4 32.8h1.2v1.2h-1.2zM344.8 66.7h1.2v1.2h-1.2zM345.7 72.7h1.2v1.2h-1.2zM352.3 64.3h1.2v1.2h-1.2zM345.6 85.5h1.2v1.2h-1.2zM355.6 41.6h1.2v1.2h-1.2zM339.6 71.9h1.2v1.2h-1.2zM350.7 35.6h1.2v1.2h-1.2zM348.5 43.2h1.2v1.2h-1.2zM345.3 50.5h1.2v1.2h-1.2zM346.0 76.5h1.2v1.2h-1.2zM360.1 31.5h1.2v1.2h-1.2zM334.2 76.1h1.2v1.2h-1.2zM363.7 29.7h1.2v1.2h-1.2zM367.0 42.3h1.2v1.2h-1.2zM353.9 38.0h1.2v1.2h-1.2zM355.9 43.5h1.2v1.2h-1.2zM350.7 49.9h1.2v1.2h-1.2zM356.2 55.6h1.2v1.2h-1.2zM358.2 48.7h1.2v1.2h-1.2zM355.6 52.6h1.2v1.2h-1.2zM342.8 71.6h1.2v1.2h-1.2zM355.4 55.0h1.2v1.2h-1.2zM333.0 72.3h1.2v1.2h-1.2zM360.8 35.8h1.2v1.2h-1.2zM345.5 33.8h1.2v1.2h-1.2zM358.0 52.6h1.2v1.2h-1.2zM336.5 78.9h1.2v1.2h-1.2zM361.3 37.6h1.2v1.2h-1.2zM368.2 28.9h1.2v1.2h-1.2zM368.3 35.9h1.2v1.2h-1.2zM337.1 64.0h1.2v1.2h-1.2zM341.4 71.8h1.2v1.2h-1.2zM341.9 76.4h1.2v1.2h-1.2zM344.2 53.4h1.2v1.2h-1.2zM351.3 78.2h1.2v1.2h-1.2zM344.4 81.1h1.2v1.2h-1.2zM355.8 57.8h1.2v1.2h-1.2zM338.3 68.6h1.2v1.2h-1.2zM337.2 88.1h1.2v1.2h-1.2zM356.6 32.2h1.2v1.2h-1.2zM362.3 28.9h1.2v1.2h-1.2zM355.7 71.7h1.2v1.2h-1.2zM346.4 70.6h1.2v1.2h-1.2zM351.0 43.7h1.2v1.2h-1.2zM337.5 84.7h1.2v1.2h-1.2zM349.1 58.6h1.2v1.2h-1.2zM342.9 65.4h1.2v1.2h-1.2zM338.2 76.5h1.2v1.2h-1.2zM343.1 92.2h1.2v1.2h-1.2zM365.5 41.3h1.2v1.2h-1.2zM350.8 68.3h1.2v1.2h-1.2zM368.3 54.8h1.2v1.2h-1.2zM333.9 84.3h1.2v1.2h-1.2zM345.1 85.4h1.2v1.2h-1.2zM340.0 78.9h1.2v1.2h-1.2zM358.8 34.2h1.2v1.2h-1.2zM349.2 65.4h1.2v1.2h-1.2zM338.7 87.9h1.2v1.2h-1.2zM340.4 77.7h1.2v1.2h-1.2zM357.4 49.7h1.2v1.2h-1.2zM364.9 35.9h1.2v1.2h-1.2zM339.9 77.7h1.2v1.2h-1.2zM354.9 61.1h1.2v1.2h-1.2zM347.2 42.4h1.2v1.2h-1.2zM367.7 29.4h1.2v1.2h-1.2zM345.0 61.4h1.2v1.2h-1.2zM337.4 81.7h1.2v1.2h-1.2zM335.8 78.6h1.2v1.2h-1.2zM346.5 76.8h1.2v1.2h-1.2zM345.0 60.3h1.2v1.2h-1.2zM355.4 67.8h1.2v1.2h-1.2zM361.9 36.7h1.2v1.2h-1.2zM347.6 87.7h1.2v1.2h-1.2zM332.6 85.7h1.2v1.2h-1.2zM364.1 50.6h1.2v1.2h-1.2zM358.8 37.8h1.2v1.2h-1.2zM350.2 56.6h1.2v1.2h-1.2zM363.1 35.8h1.2v1.2h-1.2zM334.1 79.2h1.2v1.2h-1.2zM359.3 38.6h1.2v1.2h-1.2zM357.0 55.4h1.2v1.2h-1.2zM363.6 35.1h1.2v1.2h-1.2zM340.5 66.7h1.2v1.2h-1.2zM349.6 67.1h1.2v1.2h-1.2zM348.5 57.5h1.2v1.2h-1.2zM352.8 30.8h1.2v1.2h-1.2zM355.6 47.0h1.2v1.2h-1.2zM352.8 34.9h1.2v1.2h-1.2zM360.2 53.4h1.2v1.2h-1.2zM359.5 51.8h1.2v1.2h-1.2zM361.7 40.3h1.2v1.2h-1.2zM346.3 55.0h1.2v1.2h-1.2zM340.8 82.6h1.2v1.2h-1.2zM359.8 45.5h1.2v1.2h-1.2zM351.0 61.3h1.2v1.2h-1.2zM336.9 75.7h1.2v1.2h-1.2zM348.6 62.3h1.2v1.2h-1.2zM352.1 62.5h1.2v1.2h-1.2zM345.0 75.8h1.2v1.2h-1.2zM351.8 42.7h1.2v1.2h-1.2zM349.5 71.8h1.2v1.2h-1.2zM346.5 85.3h1.2v1.2h-1.2zM349.8 59.9h1.2v1.2h-1.2zM343.1 70.2h1.2v1.2h-1.2zM348.5 58.8h1.2v1.2h-1.2zM358.1 43.9h1.2v1.2h-1.2zM338.5 73.1h1.2v1.2h-1.2zM343.7 60.8h1.2v1.2h-1.2zM345.9 82.8h1.2v1.2h-1.2zM347.1 68.5h1.2v1.2h-1.2zM353.0 45.4h1.2v1.2h-1.2zM349.2 61.3h1.2v1.2h-1.2zM368.5 28.5h1.2v1.2h-1.2zM353.7 39.4h1.2v1.2h-1.2zM336.2 80.1h1.2v1.2h-1.2zM351.1 44.6h1.2v1.2h-1.2zM362.8 44.0h1.2v1.2h-1.2zM359.9 32.4h1.2v1.2h-1.2zM338.4 73.6h1.2v1.2h-1.2zM352.4 60.4h1.2v1.2h-1.2zM347.3 69.3h1.2v1.2h-1.2zM358.2 50.2h1.2v1.2h-1.2zM350.7 64.5h1.2v1.2h-1.2zM335.0 78.6h1.2v1.2h-1.2zM351.7 76.9h1.2v1.2h-1.2zM363.8 28.8h1.2v1.2h-1.2zM360.0 55.1h1.2v1.2h-1.2zM341.7 74.4h1.2v1.2h-1.2zM343.1 75.7h1.2v1.2h-1.2zM336.7 85.8h1.2v1.2h-1.2zM357.5 70.8h1.2v1.2h-1.2zM338.7 72.0h1.2v1.2h-1.2zM364.7 36.9h1.2v1.2h-1.2zM341.6 72.5h1.2v1.2h-1.2zM356.3 41.8h1.2v1.2h-1.2zM350.2 66.6h1.2v1.2h-1.2zM344.6 59.5h1.2v1.2h-1.2zM333.8 78.7h1.2v1.2h-1.2zM345.9 61.1h1.2v1.2h-1.2zM348.7 89.3h1.2v1.2h-1.2zM356.8 53.7h1.2v1.2h-1.2zM349.4 70.8h1.2v1.2h-1.2zM355.4 50.0h1.2v1.2h-1.2zM337.3 73.1h1.2v1.2h-1.2zM362.4 32.2h1.2v1.2h-1.2zM375.0 27.6h1.2v1.2h-1.2zM334.2 52.6h1.2v1.2h-1.2zM336.2 65.1h1.2v1.2h-1.2zM349.2 34.4h1.2v1.2h-1.2zM333.9 56.4h1.2v1.2h-1.2zM353.5 53.0h1.2v1.2h-1.2zM348.0 66.4h1.2v1.2h-1.2zM356.1 70.8h1.2v1.2h-1.2zM345.9 39.1h1.2v1.2h-1.2zM362.3 31.4h1.2v1.2h-1.2zM338.4 40.2h1.2v1.2h-1.2zM352.4 65.7h1.2v1.2h-1.2zM334.6 59.4h1.2v1.2h-1.2zM351.7 69.5h1.2v1.2h-1.2zM333.7 71.9h1.2v1.2h-1.2zM340.7 51.7h1.2v1.2h-1.2zM335.5 78.7h1.2v1.2h-1.2zM353.3 76.9h1.2v1.2h-1.2zM349.5 35.5h1.2v1.2h-1.2zM345.4 33.6h1.2v1.2h-1.2zM334.6 76.6h1.2v1.2h-1.2zM331.0 52.0h1.2v1.2h-1.2zM332.5 74.1h1.2v1.2h-1.2zM366.7 30.9h1.2v1.2h-1.2zM344.1 86.6h1.2v1.2h-1.2zM340.0 47.3h1.2v1.2h-1.2zM366.5 83.4h1.2v1.2h-1.2zM344.9 68.6h1.2v1.2h-1.2zM359.6 49.9h1.2v1.2h-1.2zM331.1 51.1h1.2v1.2h-1.2zM355.9 85.9h1.2v1.2h-1.2zM346.9 53.2h1.2v1.2h-1.2zM344.7 64.8h1.2v1.2h-1.2zM331.8 82.9h1.2v1.2h-1.2zM365.3 30.8h1.2v1.2h-1.2zM331.2 47.5h1.2v1.2h-1.2zM336.3 74.4h1.2v1.2h-1.2zM362.3 61.2h1.2v1.2h-1.2zM365.0 42.5h1.2v1.2h-1.2zM338.1 51.6h1.2v1.2h-1.2zM347.2 40.7h1.2v1.2h-1.2zM364.2 73.3h1.2v1.2h-1.2zM341.4 42.4h1.2v1.2h-1.2zM341.2 52.3h1.2v1.2h-1.2zM354.6 74.8h1.2v1.2h-1.2zM365.2 33.8h1.2v1.2h-1.2zM338.0 51.4h1.2v1.2h-1.2zM365.3 56.0h1.2v1.2h-1.2zM356.9 77.9h1.2v1.2h-1.2zM347.6 51.2h1.2v1.2h-1.2zM358.9 66.8h1.2v1.2h-1.2zM366.7 45.0h1.2v1.2h-1.2zM365.3 57.7h1.2v1.2h-1.2zM362.3 66.8h1.2v1.2h-1.2zM351.3 79.5h1.2v1.2h-1.2zM333.9 45.6h1.2v1.2h-1.2zM380.0 105.8h1.2v1.2h-1.2zM404.0 113.4h1.2v1.2h-1.2zM405.0 100.2h1.2v1.2h-1.2zM382.8 107.2h1.2v1.2h-1.2zM379.2 101.3h1.2v1.2h-1.2zM394.2 88.2h1.2v1.2h-1.2zM388.2 99.6h1.2v1.2h-1.2zM403.1 88.4h1.2v1.2h-1.2zM400.5 104.1h1.2v1.2h-1.2zM397.5 118.4h1.2v1.2h-1.2zM394.7 90.6h1.2v1.2h-1.2zM379.8 115.9h1.2v1.2h-1.2zM404.0 93.0h1.2v1.2h-1.2zM400.6 95.0h1.2v1.2h-1.2zM405.9 94.2h1.2v1.2h-1.2zM399.8 95.8h1.2v1.2h-1.2zM389.3 76.5h1.2v1.2h-1.2zM402.8 82.0h1.2v1.2h-1.2zM401.4 103.0h1.2v1.2h-1.2zM405.2 82.7h1.2v1.2h-1.2zM399.1 107.2h1.2v1.2h-1.2zM391.4 93.5h1.2v1.2h-1.2zM401.9 118.3h1.2v1.2h-1.2zM407.8 104.0h1.2v1.2h-1.2zM388.6 108.1h1.2v1.2h-1.2zM408.4 79.7h1.2v1.2h-1.2zM397.8 95.3h1.2v1.2h-1.2zM403.7 76.3h1.2v1.2h-1.2zM404.3 95.0h1.2v1.2h-1.2zM395.2 75.5h1.2v1.2h-1.2zM378.2 99.0h1.2v1.2h-1.2zM403.8 99.8h1.2v1.2h-1.2zM404.7 76.4h1.2v1.2h-1.2zM399.6 111.4h1.2v1.2h-1.2zM383.1 110.1h1.2v1.2h-1.2zM390.8 106.0h1.2v1.2h-1.2zM398.6 79.5h1.2v1.2h-1.2zM387.8 115.0h1.2v1.2h-1.2zM396.6 111.3h1.2v1.2h-1.2zM400.8 106.0h1.2v1.2h-1.2zM393.9 101.3h1.2v1.2h-1.2zM394.2 108.6h1.2v1.2h-1.2zM392.2 111.5h1.2v1.2h-1.2zM408.2 78.7h1.2v1.2h-1.2zM396.1 104.0h1.2v1.2h-1.2zM406.3 103.6h1.2v1.2h-1.2zM398.5 78.4h1.2v1.2h-1.2zM405.6 88.1h1.2v1.2h-1.2zM399.5 101.2h1.2v1.2h-1.2zM384.4 114.0h1.2v1.2h-1.2zM406.3 100.4h1.2v1.2h-1.2zM403.3 99.2h1.2v1.2h-1.2zM384.5 97.0h1.2v1.2h-1.2zM405.3 91.0h1.2v1.2h-1.2zM397.9 101.4h1.2v1.2h-1.2zM398.5 100.0h1.2v1.2h-1.2zM402.2 95.8h1.2v1.2h-1.2zM387.3 98.5h1.2v1.2h-1.2zM406.6 86.7h1.2v1.2h-1.2zM402.1 99.1h1.2v1.2h-1.2zM389.4 70.1h1.2v1.2h-1.2zM397.5 89.1h1.2v1.2h-1.2zM391.7 109.8h1.2v1.2h-1.2zM390.4 104.0h1.2v1.2h-1.2zM398.7 99.2h1.2v1.2h-1.2zM404.3 69.1h1.2v1.2h-1.2zM406.7 92.5h1.2v1.2h-1.2zM395.0 91.2h1.2v1.2h-1.2zM398.0 97.8h1.2v1.2h-1.2zM389.0 118.5h1.2v1.2h-1.2zM390.7 98.6h1.2v1.2h-1.2zM385.7 103.6h1.2v1.2h-1.2zM401.0 107.9h1.2v1.2h-1.2zM406.8 88.6h1.2v1.2h-1.2zM407.9 90.6h1.2v1.2h-1.2zM408.4 110.5h1.2v1.2h-1.2zM393.9 87.3h1.2v1.2h-1.2zM402.7 111.1h1.2v1.2h-1.2zM401.4 107.9h1.2v1.2h-1.2zM403.2 105.0h1.2v1.2h-1.2zM410.1 89.6h1.2v1.2h-1.2zM384.4 101.2h1.2v1.2h-1.2zM390.2 87.4h1.2v1.2h-1.2zM396.1 105.8h1.2v1.2h-1.2zM380.3 87.7h1.2v1.2h-1.2zM405.1 85.1h1.2v1.2h-1.2zM394.0 113.5h1.2v1.2h-1.2zM408.2 97.3h1.2v1.2h-1.2zM402.7 66.2h1.2v1.2h-1.2zM402.8 99.6h1.2v1.2h-1.2zM384.6 104.4h1.2v1.2h-1.2zM401.9 94.6h1.2v1.2h-1.2zM405.0 104.2h1.2v1.2h-1.2zM398.1 94.6h1.2v1.2h-1.2zM386.6 114.0h1.2v1.2h-1.2zM392.3 102.9h1.2v1.2h-1.2zM408.6 100.4h1.2v1.2h-1.2zM385.7 101.1h1.2v1.2h-1.2zM390.9 82.2h1.2v1.2h-1.2zM390.1 106.6h1.2v1.2h-1.2zM400.8 94.0h1.2v1.2h-1.2zM399.3 84.3h1.2v1.2h-1.2zM390.4 98.4h1.2v1.2h-1.2zM405.1 91.2h1.2v1.2h-1.2zM396.1 101.7h1.2v1.2h-1.2zM409.2 78.7h1.2v1.2h-1.2zM402.6 97.6h1.2v1.2h-1.2zM397.0 100.4h1.2v1.2h-1.2zM379.0 104.8h1.2v1.2h-1.2zM395.4 85.0h1.2v1.2h-1.2zM405.5 93.2h1.2v1.2h-1.2zM394.4 106.9h1.2v1.2h-1.2zM389.0 93.0h1.2v1.2h-1.2zM405.3 103.9h1.2v1.2h-1.2zM404.1 85.4h1.2v1.2h-1.2zM384.0 86.6h1.2v1.2h-1.2zM386.4 102.9h1.2v1.2h-1.2zM395.4 91.1h1.2v1.2h-1.2zM388.2 93.6h1.2v1.2h-1.2zM394.2 111.6h1.2v1.2h-1.2zM403.5 110.0h1.2v1.2h-1.2zM405.3 102.8h1.2v1.2h-1.2zM408.6 98.2h1.2v1.2h-1.2zM408.6 104.2h1.2v1.2h-1.2zM406.0 93.4h1.2v1.2h-1.2zM390.4 127.3h1.2v1.2h-1.2zM395.0 104.1h1.2v1.2h-1.2zM394.1 91.3h1.2v1.2h-1.2zM401.7 83.9h1.2v1.2h-1.2zM396.1 113.2h1.2v1.2h-1.2zM398.8 105.9h1.2v1.2h-1.2zM403.6 99.4h1.2v1.2h-1.2zM398.6 103.7h1.2v1.2h-1.2zM388.5 107.2h1.2v1.2h-1.2zM387.5 93.2h1.2v1.2h-1.2zM392.1 85.2h1.2v1.2h-1.2zM379.2 108.6h1.2v1.2h-1.2zM402.3 102.8h1.2v1.2h-1.2zM402.3 91.5h1.2v1.2h-1.2zM404.6 86.8h1.2v1.2h-1.2zM404.2 82.7h1.2v1.2h-1.2zM404.6 80.1h1.2v1.2h-1.2zM393.7 107.0h1.2v1.2h-1.2zM377.0 119.7h1.2v1.2h-1.2zM388.7 103.0h1.2v1.2h-1.2zM406.8 95.7h1.2v1.2h-1.2zM406.3 88.8h1.2v1.2h-1.2zM403.1 71.9h1.2v1.2h-1.2zM408.9 85.0h1.2v1.2h-1.2zM389.5 100.7h1.2v1.2h-1.2zM407.1 83.9h1.2v1.2h-1.2zM397.4 93.7h1.2v1.2h-1.2zM388.8 86.7h1.2v1.2h-1.2zM403.1 103.0h1.2v1.2h-1.2zM390.5 102.6h1.2v1.2h-1.2zM401.8 100.0h1.2v1.2h-1.2zM396.0 98.6h1.2v1.2h-1.2zM400.1 85.0h1.2v1.2h-1.2zM396.2 106.6h1.2v1.2h-1.2zM392.3 113.6h1.2v1.2h-1.2zM395.3 86.5h1.2v1.2h-1.2zM394.8 84.0h1.2v1.2h-1.2zM403.3 78.2h1.2v1.2h-1.2zM397.7 94.9h1.2v1.2h-1.2zM394.7 103.1h1.2v1.2h-1.2zM400.2 90.5h1.2v1.2h-1.2zM405.2 89.7h1.2v1.2h-1.2zM406.0 108.8h1.2v1.2h-1.2zM401.1 106.1h1.2v1.2h-1.2zM385.0 108.3h1.2v1.2h-1.2zM383.6 100.9h1.2v1.2h-1.2zM404.1 66.1h1.2v1.2h-1.2zM390.2 91.9h1.2v1.2h-1.2zM388.7 101.1h1.2v1.2h-1.2zM403.5 82.8h1.2v1.2h-1.2zM391.7 79.7h1.2v1.2h-1.2zM390.9 77.4h1.2v1.2h-1.2zM383.4 107.9h1.2v1.2h-1.2zM405.7 85.6h1.2v1.2h-1.2zM400.8 87.9h1.2v1.2h-1.2zM407.5 112.5h1.2v1.2h-1.2zM374.5 96.9h1.2v1.2h-1.2zM391.5 94.6h1.2v1.2h-1.2zM408.4 108.9h1.2v1.2h-1.2zM397.4 104.4h1.2v1.2h-1.2zM382.6 99.9h1.2v1.2h-1.2zM394.8 96.9h1.2v1.2h-1.2zM400.3 79.6h1.2v1.2h-1.2zM387.8 124.3h1.2v1.2h-1.2zM381.3 104.3h1.2v1.2h-1.2zM404.3 100.2h1.2v1.2h-1.2zM398.1 79.9h1.2v1.2h-1.2zM393.1 82.4h1.2v1.2h-1.2zM404.7 94.4h1.2v1.2h-1.2zM404.3 97.1h1.2v1.2h-1.2zM393.9 111.6h1.2v1.2h-1.2zM405.8 101.2h1.2v1.2h-1.2zM403.0 103.4h1.2v1.2h-1.2zM394.9 103.1h1.2v1.2h-1.2zM398.3 94.5h1.2v1.2h-1.2zM403.6 118.3h1.2v1.2h-1.2zM378.5 120.2h1.2v1.2h-1.2zM393.4 112.0h1.2v1.2h-1.2zM388.0 99.1h1.2v1.2h-1.2zM407.1 93.1h1.2v1.2h-1.2zM400.8 83.2h1.2v1.2h-1.2zM386.8 119.5h1.2v1.2h-1.2zM399.0 96.0h1.2v1.2h-1.2zM384.6 91.2h1.2v1.2h-1.2zM387.8 100.6h1.2v1.2h-1.2zM396.4 91.3h1.2v1.2h-1.2zM391.2 101.1h1.2v1.2h-1.2zM408.5 78.2h1.2v1.2h-1.2zM384.2 114.7h1.2v1.2h-1.2zM384.1 98.2h1.2v1.2h-1.2zM398.6 116.7h1.2v1.2h-1.2zM378.4 73.5h1.2v1.2h-1.2zM396.8 109.4h1.2v1.2h-1.2zM398.8 88.3h1.2v1.2h-1.2zM399.3 74.6h1.2v1.2h-1.2zM405.2 110.5h1.2v1.2h-1.2zM395.6 107.1h1.2v1.2h-1.2zM387.6 117.2h1.2v1.2h-1.2zM391.5 91.2h1.2v1.2h-1.2zM390.4 81.1h1.2v1.2h-1.2zM403.8 116.7h1.2v1.2h-1.2zM384.1 100.4h1.2v1.2h-1.2zM401.7 89.8h1.2v1.2h-1.2zM382.9 106.7h1.2v1.2h-1.2zM406.9 95.1h1.2v1.2h-1.2zM387.5 98.1h1.2v1.2h-1.2zM379.4 103.7h1.2v1.2h-1.2zM408.9 105.2h1.2v1.2h-1.2zM396.7 102.5h1.2v1.2h-1.2zM392.6 100.8h1.2v1.2h-1.2zM391.9 101.4h1.2v1.2h-1.2zM392.7 101.5h1.2v1.2h-1.2zM404.0 94.8h1.2v1.2h-1.2zM385.4 107.5h1.2v1.2h-1.2zM395.2 93.0h1.2v1.2h-1.2zM402.8 86.5h1.2v1.2h-1.2zM406.2 100.2h1.2v1.2h-1.2zM391.0 92.4h1.2v1.2h-1.2zM396.4 88.1h1.2v1.2h-1.2zM406.4 69.8h1.2v1.2h-1.2zM398.9 93.2h1.2v1.2h-1.2zM387.2 108.2h1.2v1.2h-1.2zM393.0 104.1h1.2v1.2h-1.2zM393.4 96.0h1.2v1.2h-1.2zM402.4 106.0h1.2v1.2h-1.2zM411.9 74.5h1.2v1.2h-1.2zM410.6 100.6h1.2v1.2h-1.2zM397.9 122.2h1.2v1.2h-1.2zM395.3 106.5h1.2v1.2h-1.2zM390.9 111.6h1.2v1.2h-1.2zM407.0 40.1h1.2v1.2h-1.2zM409.4 42.9h1.2v1.2h-1.2zM397.6 46.5h1.2v1.2h-1.2zM402.2 78.9h1.2v1.2h-1.2zM377.5 115.9h1.2v1.2h-1.2zM381.9 121.1h1.2v1.2h-1.2zM387.4 90.3h1.2v1.2h-1.2zM389.8 108.5h1.2v1.2h-1.2zM386.2 86.2h1.2v1.2h-1.2z" fill="#1a1a1a" fill-opacity="1.00"/>
<rect x="329.30" y="26.70" width="126.50" height="113.60" fill="none" stroke="#222" stroke-width="1.35"/>
<path d="M368.35 26.70V140.30M329.30 87.70H455.80" stroke="#222" stroke-width="1.15" fill="none"/>
<text x="323.30" y="155.00" font-family="Liberation Sans, sans-serif" font-size="9" fill="#151515" stroke="#151515" stroke-width="0.35" textLength="8.5" lengthAdjust="spacingAndGlyphs">10</text>
<text x="331.90" y="149.70" font-family="Liberation Sans, sans-serif" font-size="9" fill="#151515" stroke="#151515" stroke-width="0.35">0</text>
<g transform="translate(321.70 140.30) rotate(-90)"><text x="-6.5" y="0" font-family="Liberation Sans, sans-serif" font-size="9" fill="#151515" stroke="#151515" stroke-width="0.35" textLength="9.2" lengthAdjust="spacingAndGlyphs">10</text><text x="2.5" y="-5.6" font-family="Liberation Sans, sans-serif" font-size="9" fill="#151515" stroke="#151515" stroke-width="0.35">0</text></g>
<text x="354.93" y="155.00" font-family="Liberation Sans, sans-serif" font-size="9" fill="#151515" stroke="#151515" stroke-width="0.35" textLength="8.5" lengthAdjust="spacingAndGlyphs">10</text>
<text x="363.53" y="149.70" font-family="Liberation Sans, sans-serif" font-size="9" fill="#151515" stroke="#151515" stroke-width="0.35">1</text>
<g transform="translate(321.70 111.90) rotate(-90)"><text x="-6.5" y="0" font-family="Liberation Sans, sans-serif" font-size="9" fill="#151515" stroke="#151515" stroke-width="0.35" textLength="9.2" lengthAdjust="spacingAndGlyphs">10</text><text x="2.5" y="-5.6" font-family="Liberation Sans, sans-serif" font-size="9" fill="#151515" stroke="#151515" stroke-width="0.35">1</text></g>
<text x="386.55" y="155.00" font-family="Liberation Sans, sans-serif" font-size="9" fill="#151515" stroke="#151515" stroke-width="0.35" textLength="8.5" lengthAdjust="spacingAndGlyphs">10</text>
<text x="395.15" y="149.70" font-family="Liberation Sans, sans-serif" font-size="9" fill="#151515" stroke="#151515" stroke-width="0.35">2</text>
<g transform="translate(321.70 83.50) rotate(-90)"><text x="-6.5" y="0" font-family="Liberation Sans, sans-serif" font-size="9" fill="#151515" stroke="#151515" stroke-width="0.35" textLength="9.2" lengthAdjust="spacingAndGlyphs">10</text><text x="2.5" y="-5.6" font-family="Liberation Sans, sans-serif" font-size="9" fill="#151515" stroke="#151515" stroke-width="0.35">2</text></g>
<text x="418.18" y="155.00" font-family="Liberation Sans, sans-serif" font-size="9" fill="#151515" stroke="#151515" stroke-width="0.35" textLength="8.5" lengthAdjust="spacingAndGlyphs">10</text>
<text x="426.78" y="149.70" font-family="Liberation Sans, sans-serif" font-size="9" fill="#151515" stroke="#151515" stroke-width="0.35">3</text>
<g transform="translate(321.70 55.10) rotate(-90)"><text x="-6.5" y="0" font-family="Liberation Sans, sans-serif" font-size="9" fill="#151515" stroke="#151515" stroke-width="0.35" textLength="9.2" lengthAdjust="spacingAndGlyphs">10</text><text x="2.5" y="-5.6" font-family="Liberation Sans, sans-serif" font-size="9" fill="#151515" stroke="#151515" stroke-width="0.35">3</text></g>
<text x="449.80" y="155.00" font-family="Liberation Sans, sans-serif" font-size="9" fill="#151515" stroke="#151515" stroke-width="0.35" textLength="8.5" lengthAdjust="spacingAndGlyphs">10</text>
<text x="458.40" y="149.70" font-family="Liberation Sans, sans-serif" font-size="9" fill="#151515" stroke="#151515" stroke-width="0.35">4</text>
<g transform="translate(321.70 26.70) rotate(-90)"><text x="-8.2" y="0" font-family="Liberation Sans, sans-serif" font-size="9" fill="#151515" stroke="#151515" stroke-width="0.35" textLength="9.2" lengthAdjust="spacingAndGlyphs">10</text></g>
<path d="M394.60 46.20H443.80M419.70 31.50V59.20" stroke="#333" stroke-width="1" fill="none"/>
<text x="403.80" y="42.80" font-family="Liberation Sans, sans-serif" font-size="14" font-weight="bold" text-anchor="middle" fill="#0a0a0a" stroke="#0a0a0a" stroke-width="0.35">20</text>
<text x="430.80" y="42.80" font-family="Liberation Sans, sans-serif" font-size="14" font-weight="bold" text-anchor="middle" fill="#0a0a0a" stroke="#0a0a0a" stroke-width="0.35">5</text>
<text x="403.80" y="60.80" font-family="Liberation Sans, sans-serif" font-size="14" font-weight="bold" text-anchor="middle" fill="#0a0a0a" stroke="#0a0a0a" stroke-width="0.35">52</text>
<text x="430.80" y="60.80" font-family="Liberation Sans, sans-serif" font-size="14" font-weight="bold" text-anchor="middle" fill="#0a0a0a" stroke="#0a0a0a" stroke-width="0.35">23</text>
<path d="M329.90 281.50v4.5M329.90 281.50h-4.5M339.41 281.50v2.4M329.90 273.01h-2.4M344.97 281.50v2.4M329.90 268.05h-2.4M348.91 281.50v2.4M329.90 264.52h-2.4M351.97 281.50v2.4M329.90 261.79h-2.4M354.47 281.50v2.4M329.90 259.56h-2.4M356.58 281.50v2.4M329.90 257.67h-2.4M358.42 281.50v2.4M329.90 256.03h-2.4M360.03 281.50v2.4M329.90 254.59h-2.4M361.47 281.50v4.5M329.90 253.30h-4.5M370.98 281.50v2.4M329.90 244.81h-2.4M376.54 281.50v2.4M329.90 239.85h-2.4M380.49 281.50v2.4M329.90 236.32h-2.4M383.54 281.50v2.4M329.90 233.59h-2.4M386.05 281.50v2.4M329.90 231.36h-2.4M388.16 281.50v2.4M329.90 229.47h-2.4M389.99 281.50v2.4M329.90 227.83h-2.4M391.61 281.50v2.4M329.90 226.39h-2.4M393.05 281.50v4.5M329.90 225.10h-4.5M402.56 281.50v2.4M329.90 216.61h-2.4M408.12 281.50v2.4M329.90 211.65h-2.4M412.06 281.50v2.4M329.90 208.12h-2.4M415.12 281.50v2.4M329.90 205.39h-2.4M417.62 281.50v2.4M329.90 203.16h-2.4M419.73 281.50v2.4M329.90 201.27h-2.4M421.57 281.50v2.4M329.90 199.63h-2.4M423.18 281.50v2.4M329.90 198.19h-2.4M424.62 281.50v4.5M329.90 196.90h-4.5M434.13 281.50v2.4M329.90 188.41h-2.4M439.69 281.50v2.4M329.90 183.45h-2.4M443.64 281.50v2.4M329.90 179.92h-2.4M446.69 281.50v2.4M329.90 177.19h-2.4M449.20 281.50v2.4M329.90 174.96h-2.4M451.31 281.50v2.4M329.90 173.07h-2.4M453.14 281.50v2.4M329.90 171.43h-2.4M454.76 281.50v2.4M329.90 169.99h-2.4M456.20 281.50v4.5M329.90 168.70h-4.5" stroke="#1a1a1a" stroke-width="1.15" fill="none"/>
<path d="M342.8 263.7h1.2v1.2h-1.2zM346.2 258.5h1.2v1.2h-1.2zM340.1 271.6h1.2v1.2h-1.2zM344.5 257.9h1.2v1.2h-1.2zM351.9 248.8h1.2v1.2h-1.2zM354.0 265.4h1.2v1.2h-1.2zM342.6 234.2h1.2v1.2h-1.2zM350.4 248.2h1.2v1.2h-1.2zM342.7 253.5h1.2v1.2h-1.2zM348.6 259.8h1.2v1.2h-1.2zM344.4 254.1h1.2v1.2h-1.2zM347.5 259.0h1.2v1.2h-1.2zM353.2 243.1h1.2v1.2h-1.2zM351.0 256.7h1.2v1.2h-1.2zM344.1 260.4h1.2v1.2h-1.2zM339.7 260.8h1.2v1.2h-1.2zM340.6 260.9h1.2v1.2h-1.2zM336.8 266.4h1.2v1.2h-1.2zM331.6 244.0h1.2v1.2h-1.2zM341.7 255.0h1.2v1.2h-1.2zM336.5 247.1h1.2v1.2h-1.2zM343.8 264.9h1.2v1.2h-1.2zM350.9 246.2h1.2v1.2h-1.2zM341.6 248.2h1.2v1.2h-1.2zM331.5 246.5h1.2v1.2h-1.2zM349.8 235.5h1.2v1.2h-1.2zM361.7 264.0h1.2v1.2h-1.2zM353.9 254.3h1.2v1.2h-1.2zM353.0 245.0h1.2v1.2h-1.2zM350.8 261.3h1.2v1.2h-1.2zM347.4 261.2h1.2v1.2h-1.2zM346.1 260.0h1.2v1.2h-1.2zM350.2 257.2h1.2v1.2h-1.2zM346.4 257.3h1.2v1.2h-1.2zM343.0 241.3h1.2v1.2h-1.2zM333.5 233.9h1.2v1.2h-1.2zM346.8 248.0h1.2v1.2h-1.2zM347.4 246.3h1.2v1.2h-1.2zM344.7 249.5h1.2v1.2h-1.2zM344.0 277.7h1.2v1.2h-1.2zM353.0 267.8h1.2v1.2h-1.2zM344.0 274.0h1.2v1.2h-1.2zM347.7 263.0h1.2v1.2h-1.2zM334.0 244.5h1.2v1.2h-1.2zM343.2 249.4h1.2v1.2h-1.2zM338.5 227.4h1.2v1.2h-1.2zM336.9 250.7h1.2v1.2h-1.2zM344.2 238.8h1.2v1.2h-1.2zM341.1 274.3h1.2v1.2h-1.2zM343.1 227.8h1.2v1.2h-1.2zM340.8 252.1h1.2v1.2h-1.2zM350.8 254.4h1.2v1.2h-1.2zM351.5 256.1h1.2v1.2h-1.2zM350.1 268.7h1.2v1.2h-1.2zM352.6 254.5h1.2v1.2h-1.2zM333.7 254.5h1.2v1.2h-1.2zM345.3 243.4h1.2v1.2h-1.2zM347.8 250.1h1.2v1.2h-1.2zM347.5 254.4h1.2v1.2h-1.2zM335.7 265.0h1.2v1.2h-1.2zM355.9 263.5h1.2v1.2h-1.2zM344.0 230.8h1.2v1.2h-1.2zM344.3 251.7h1.2v1.2h-1.2zM336.6 228.4h1.2v1.2h-1.2zM345.1 264.1h1.2v1.2h-1.2zM347.0 280.2h1.2v1.2h-1.2zM341.9 269.6h1.2v1.2h-1.2zM341.8 240.1h1.2v1.2h-1.2zM341.7 257.4h1.2v1.2h-1.2zM337.0 242.4h1.2v1.2h-1.2zM343.9 262.9h1.2v1.2h-1.2zM340.5 258.1h1.2v1.2h-1.2zM338.6 247.8h1.2v1.2h-1.2zM343.4 264.0h1.2v1.2h-1.2zM353.0 250.5h1.2v1.2h-1.2zM345.2 276.4h1.2v1.2h-1.2zM347.8 247.6h1.2v1.2h-1.2zM344.9 234.5h1.2v1.2h-1.2zM337.2 235.5h1.2v1.2h-1.2zM349.1 246.5h1.2v1.2h-1.2zM342.7 253.0h1.2v1.2h-1.2zM340.7 237.6h1.2v1.2h-1.2zM355.4 227.6h1.2v1.2h-1.2zM341.9 260.7h1.2v1.2h-1.2zM340.7 250.8h1.2v1.2h-1.2zM344.2 255.0h1.2v1.2h-1.2zM339.8 265.4h1.2v1.2h-1.2zM345.6 270.7h1.2v1.2h-1.2zM342.7 227.5h1.2v1.2h-1.2zM330.8 245.7h1.2v1.2h-1.2zM345.2 231.9h1.2v1.2h-1.2zM338.2 267.5h1.2v1.2h-1.2zM344.4 243.3h1.2v1.2h-1.2zM341.3 253.5h1.2v1.2h-1.2zM339.2 248.2h1.2v1.2h-1.2zM337.8 254.8h1.2v1.2h-1.2zM352.9 270.1h1.2v1.2h-1.2zM341.3 234.7h1.2v1.2h-1.2zM331.9 253.9h1.2v1.2h-1.2zM343.7 244.2h1.2v1.2h-1.2zM336.6 249.4h1.2v1.2h-1.2zM343.9 260.4h1.2v1.2h-1.2zM345.9 222.6h1.2v1.2h-1.2zM338.0 255.3h1.2v1.2h-1.2zM344.7 262.0h1.2v1.2h-1.2zM331.9 271.5h1.2v1.2h-1.2zM334.0 249.6h1.2v1.2h-1.2zM338.9 246.2h1.2v1.2h-1.2zM336.8 262.2h1.2v1.2h-1.2zM347.5 256.4h1.2v1.2h-1.2zM333.4 244.3h1.2v1.2h-1.2zM341.7 257.0h1.2v1.2h-1.2zM338.3 248.8h1.2v1.2h-1.2zM360.0 252.8h1.2v1.2h-1.2zM340.1 221.7h1.2v1.2h-1.2zM337.0 272.3h1.2v1.2h-1.2zM347.9 237.3h1.2v1.2h-1.2zM347.5 254.2h1.2v1.2h-1.2zM336.7 261.9h1.2v1.2h-1.2zM338.0 248.3h1.2v1.2h-1.2zM342.3 254.7h1.2v1.2h-1.2zM339.1 255.8h1.2v1.2h-1.2zM342.1 254.5h1.2v1.2h-1.2zM344.8 244.2h1.2v1.2h-1.2zM332.8 251.2h1.2v1.2h-1.2zM350.5 256.2h1.2v1.2h-1.2zM343.7 242.9h1.2v1.2h-1.2zM334.4 236.7h1.2v1.2h-1.2zM335.9 247.5h1.2v1.2h-1.2zM331.6 250.6h1.2v1.2h-1.2zM331.4 260.2h1.2v1.2h-1.2zM341.9 230.3h1.2v1.2h-1.2zM338.4 254.9h1.2v1.2h-1.2zM344.7 261.7h1.2v1.2h-1.2zM339.7 250.3h1.2v1.2h-1.2zM340.5 258.8h1.2v1.2h-1.2zM337.4 250.1h1.2v1.2h-1.2zM343.1 247.8h1.2v1.2h-1.2zM334.8 268.9h1.2v1.2h-1.2zM345.5 240.8h1.2v1.2h-1.2zM355.5 242.6h1.2v1.2h-1.2zM336.2 247.5h1.2v1.2h-1.2zM345.8 270.6h1.2v1.2h-1.2zM351.4 258.9h1.2v1.2h-1.2zM342.6 260.3h1.2v1.2h-1.2zM336.8 243.4h1.2v1.2h-1.2zM345.7 254.6h1.2v1.2h-1.2zM343.7 239.5h1.2v1.2h-1.2zM343.8 234.3h1.2v1.2h-1.2zM348.4 252.2h1.2v1.2h-1.2zM337.8 246.3h1.2v1.2h-1.2zM337.4 269.0h1.2v1.2h-1.2zM342.3 255.3h1.2v1.2h-1.2zM335.6 235.9h1.2v1.2h-1.2zM343.7 246.6h1.2v1.2h-1.2zM345.5 265.2h1.2v1.2h-1.2zM341.3 258.7h1.2v1.2h-1.2zM343.3 255.0h1.2v1.2h-1.2zM338.6 255.1h1.2v1.2h-1.2zM345.1 253.0h1.2v1.2h-1.2zM339.1 234.1h1.2v1.2h-1.2zM334.9 271.5h1.2v1.2h-1.2zM349.0 255.8h1.2v1.2h-1.2zM344.1 250.2h1.2v1.2h-1.2zM346.7 264.0h1.2v1.2h-1.2zM340.4 255.9h1.2v1.2h-1.2zM348.6 232.5h1.2v1.2h-1.2zM335.8 245.0h1.2v1.2h-1.2zM334.3 246.7h1.2v1.2h-1.2zM336.4 247.2h1.2v1.2h-1.2zM345.4 237.6h1.2v1.2h-1.2zM342.8 269.2h1.2v1.2h-1.2zM343.4 237.0h1.2v1.2h-1.2zM338.0 266.5h1.2v1.2h-1.2zM340.4 244.3h1.2v1.2h-1.2zM347.4 243.3h1.2v1.2h-1.2zM334.6 259.7h1.2v1.2h-1.2zM342.3 244.1h1.2v1.2h-1.2zM345.3 265.8h1.2v1.2h-1.2zM349.4 253.4h1.2v1.2h-1.2zM345.2 258.2h1.2v1.2h-1.2zM332.1 272.7h1.2v1.2h-1.2zM337.7 245.2h1.2v1.2h-1.2zM336.6 240.2h1.2v1.2h-1.2zM349.5 252.2h1.2v1.2h-1.2zM338.2 229.5h1.2v1.2h-1.2zM343.3 251.5h1.2v1.2h-1.2zM335.2 250.9h1.2v1.2h-1.2zM333.9 258.3h1.2v1.2h-1.2zM342.8 225.8h1.2v1.2h-1.2zM334.6 244.0h1.2v1.2h-1.2zM347.5 259.5h1.2v1.2h-1.2zM346.4 272.8h1.2v1.2h-1.2zM340.2 245.8h1.2v1.2h-1.2zM345.9 241.7h1.2v1.2h-1.2zM336.2 263.9h1.2v1.2h-1.2zM350.8 229.9h1.2v1.2h-1.2zM345.3 252.0h1.2v1.2h-1.2zM348.3 247.9h1.2v1.2h-1.2zM341.3 269.6h1.2v1.2h-1.2zM338.1 257.3h1.2v1.2h-1.2zM346.4 250.7h1.2v1.2h-1.2zM348.0 258.5h1.2v1.2h-1.2zM347.7 231.0h1.2v1.2h-1.2zM335.2 255.8h1.2v1.2h-1.2zM350.0 269.9h1.2v1.2h-1.2zM342.2 242.9h1.2v1.2h-1.2zM334.8 228.0h1.2v1.2h-1.2zM338.8 259.3h1.2v1.2h-1.2zM341.7 233.9h1.2v1.2h-1.2zM341.5 252.8h1.2v1.2h-1.2zM337.1 270.2h1.2v1.2h-1.2zM345.1 265.7h1.2v1.2h-1.2zM342.8 240.1h1.2v1.2h-1.2zM349.4 265.8h1.2v1.2h-1.2zM338.2 235.6h1.2v1.2h-1.2zM347.6 245.1h1.2v1.2h-1.2zM334.3 251.1h1.2v1.2h-1.2zM345.9 242.8h1.2v1.2h-1.2zM342.4 264.4h1.2v1.2h-1.2zM347.2 232.8h1.2v1.2h-1.2zM347.0 274.1h1.2v1.2h-1.2zM348.3 251.1h1.2v1.2h-1.2zM344.6 232.6h1.2v1.2h-1.2zM338.2 245.7h1.2v1.2h-1.2zM356.1 252.2h1.2v1.2h-1.2zM335.6 273.1h1.2v1.2h-1.2zM350.4 231.7h1.2v1.2h-1.2zM340.8 231.2h1.2v1.2h-1.2zM349.1 223.9h1.2v1.2h-1.2zM354.6 239.0h1.2v1.2h-1.2zM335.1 278.4h1.2v1.2h-1.2zM345.7 256.5h1.2v1.2h-1.2zM347.9 239.9h1.2v1.2h-1.2zM348.0 248.7h1.2v1.2h-1.2zM345.6 255.0h1.2v1.2h-1.2zM351.4 236.2h1.2v1.2h-1.2zM332.8 260.2h1.2v1.2h-1.2zM358.0 258.9h1.2v1.2h-1.2zM341.0 260.5h1.2v1.2h-1.2zM334.0 253.3h1.2v1.2h-1.2zM330.9 253.6h1.2v1.2h-1.2zM347.0 273.2h1.2v1.2h-1.2zM338.8 263.7h1.2v1.2h-1.2zM351.2 239.2h1.2v1.2h-1.2zM340.3 229.1h1.2v1.2h-1.2zM336.3 257.6h1.2v1.2h-1.2zM347.0 270.0h1.2v1.2h-1.2zM338.0 223.6h1.2v1.2h-1.2zM335.3 259.5h1.2v1.2h-1.2zM342.0 260.9h1.2v1.2h-1.2zM340.1 260.3h1.2v1.2h-1.2zM335.6 240.0h1.2v1.2h-1.2zM341.1 230.4h1.2v1.2h-1.2zM350.4 249.0h1.2v1.2h-1.2zM335.6 241.4h1.2v1.2h-1.2zM335.7 253.7h1.2v1.2h-1.2zM339.7 262.9h1.2v1.2h-1.2zM334.4 251.2h1.2v1.2h-1.2zM332.0 246.4h1.2v1.2h-1.2zM351.2 250.6h1.2v1.2h-1.2zM348.1 251.4h1.2v1.2h-1.2zM334.8 241.2h1.2v1.2h-1.2zM334.6 256.4h1.2v1.2h-1.2zM353.3 262.7h1.2v1.2h-1.2zM335.6 253.6h1.2v1.2h-1.2zM337.3 266.7h1.2v1.2h-1.2zM333.1 261.7h1.2v1.2h-1.2zM333.9 246.3h1.2v1.2h-1.2zM343.3 253.9h1.2v1.2h-1.2zM341.7 251.3h1.2v1.2h-1.2zM336.4 250.8h1.2v1.2h-1.2zM341.7 240.5h1.2v1.2h-1.2zM345.9 254.3h1.2v1.2h-1.2zM337.1 268.3h1.2v1.2h-1.2zM338.3 228.4h1.2v1.2h-1.2zM350.6 247.4h1.2v1.2h-1.2zM351.9 257.5h1.2v1.2h-1.2zM336.2 266.1h1.2v1.2h-1.2zM345.2 263.6h1.2v1.2h-1.2zM342.4 271.6h1.2v1.2h-1.2zM348.3 247.9h1.2v1.2h-1.2zM332.0 251.6h1.2v1.2h-1.2zM342.6 239.8h1.2v1.2h-1.2zM340.8 270.8h1.2v1.2h-1.2zM339.0 266.2h1.2v1.2h-1.2zM335.9 240.0h1.2v1.2h-1.2zM348.4 250.0h1.2v1.2h-1.2zM343.6 265.0h1.2v1.2h-1.2zM353.0 236.7h1.2v1.2h-1.2zM346.0 255.0h1.2v1.2h-1.2zM343.1 274.5h1.2v1.2h-1.2zM340.5 244.7h1.2v1.2h-1.2zM345.5 226.8h1.2v1.2h-1.2zM344.6 241.0h1.2v1.2h-1.2zM344.3 242.8h1.2v1.2h-1.2zM345.5 249.0h1.2v1.2h-1.2zM337.3 258.9h1.2v1.2h-1.2zM347.1 232.0h1.2v1.2h-1.2zM333.5 248.8h1.2v1.2h-1.2zM339.6 268.7h1.2v1.2h-1.2zM352.7 258.1h1.2v1.2h-1.2zM349.4 248.0h1.2v1.2h-1.2zM333.0 255.9h1.2v1.2h-1.2zM343.8 266.6h1.2v1.2h-1.2zM337.8 231.9h1.2v1.2h-1.2zM340.8 258.2h1.2v1.2h-1.2zM340.7 245.7h1.2v1.2h-1.2zM342.6 249.7h1.2v1.2h-1.2zM351.4 235.7h1.2v1.2h-1.2zM343.9 232.9h1.2v1.2h-1.2zM341.8 257.6h1.2v1.2h-1.2zM344.3 255.9h1.2v1.2h-1.2zM337.1 234.0h1.2v1.2h-1.2zM348.5 247.7h1.2v1.2h-1.2zM332.9 271.5h1.2v1.2h-1.2zM347.0 216.9h1.2v1.2h-1.2zM359.4 253.9h1.2v1.2h-1.2zM331.3 264.1h1.2v1.2h-1.2zM344.3 267.7h1.2v1.2h-1.2zM342.2 231.3h1.2v1.2h-1.2zM341.0 246.7h1.2v1.2h-1.2zM344.0 249.8h1.2v1.2h-1.2zM345.8 236.8h1.2v1.2h-1.2zM338.4 245.6h1.2v1.2h-1.2zM344.9 230.7h1.2v1.2h-1.2zM342.7 264.5h1.2v1.2h-1.2zM342.4 255.3h1.2v1.2h-1.2zM344.5 257.8h1.2v1.2h-1.2zM334.0 250.4h1.2v1.2h-1.2zM354.3 269.9h1.2v1.2h-1.2zM336.4 240.2h1.2v1.2h-1.2zM340.9 265.4h1.2v1.2h-1.2zM348.2 244.7h1.2v1.2h-1.2zM330.9 267.1h1.2v1.2h-1.2zM352.0 260.5h1.2v1.2h-1.2zM346.1 259.2h1.2v1.2h-1.2zM354.4 265.7h1.2v1.2h-1.2zM351.7 237.7h1.2v1.2h-1.2zM338.6 252.0h1.2v1.2h-1.2zM341.9 251.2h1.2v1.2h-1.2zM359.0 249.5h1.2v1.2h-1.2zM340.7 250.6h1.2v1.2h-1.2zM339.8 234.3h1.2v1.2h-1.2zM349.6 252.4h1.2v1.2h-1.2zM344.5 252.5h1.2v1.2h-1.2zM336.8 232.0h1.2v1.2h-1.2zM340.1 258.8h1.2v1.2h-1.2zM341.2 261.3h1.2v1.2h-1.2zM336.8 248.4h1.2v1.2h-1.2zM343.1 250.8h1.2v1.2h-1.2zM343.2 270.0h1.2v1.2h-1.2zM339.2 253.7h1.2v1.2h-1.2zM337.7 258.9h1.2v1.2h-1.2zM343.6 242.8h1.2v1.2h-1.2zM335.3 237.0h1.2v1.2h-1.2zM340.2 254.0h1.2v1.2h-1.2zM338.7 250.6h1.2v1.2h-1.2zM343.0 254.8h1.2v1.2h-1.2zM355.1 256.8h1.2v1.2h-1.2zM346.4 245.7h1.2v1.2h-1.2zM338.4 261.8h1.2v1.2h-1.2zM338.0 243.8h1.2v1.2h-1.2zM332.0 255.8h1.2v1.2h-1.2zM341.4 258.9h1.2v1.2h-1.2zM336.2 236.5h1.2v1.2h-1.2zM349.5 252.3h1.2v1.2h-1.2zM347.3 237.6h1.2v1.2h-1.2zM333.3 220.3h1.2v1.2h-1.2zM344.0 264.5h1.2v1.2h-1.2zM350.9 274.3h1.2v1.2h-1.2zM338.5 242.1h1.2v1.2h-1.2zM340.6 242.0h1.2v1.2h-1.2zM332.2 251.5h1.2v1.2h-1.2zM342.9 242.4h1.2v1.2h-1.2zM342.2 235.7h1.2v1.2h-1.2zM339.8 247.8h1.2v1.2h-1.2zM339.0 251.1h1.2v1.2h-1.2zM333.5 235.2h1.2v1.2h-1.2zM336.4 261.3h1.2v1.2h-1.2zM335.6 240.3h1.2v1.2h-1.2zM355.3 248.8h1.2v1.2h-1.2zM339.4 240.9h1.2v1.2h-1.2zM351.9 258.6h1.2v1.2h-1.2zM343.8 272.0h1.2v1.2h-1.2zM334.0 230.9h1.2v1.2h-1.2zM349.5 257.5h1.2v1.2h-1.2zM338.6 262.0h1.2v1.2h-1.2zM341.4 276.6h1.2v1.2h-1.2zM333.5 256.5h1.2v1.2h-1.2zM348.6 263.2h1.2v1.2h-1.2zM339.6 247.0h1.2v1.2h-1.2zM339.1 260.7h1.2v1.2h-1.2zM339.3 250.3h1.2v1.2h-1.2zM348.9 250.6h1.2v1.2h-1.2zM343.7 250.5h1.2v1.2h-1.2zM342.1 224.1h1.2v1.2h-1.2zM335.7 256.6h1.2v1.2h-1.2zM337.7 244.3h1.2v1.2h-1.2zM336.9 240.0h1.2v1.2h-1.2zM341.6 241.5h1.2v1.2h-1.2zM339.2 264.3h1.2v1.2h-1.2zM348.9 256.6h1.2v1.2h-1.2zM349.8 264.7h1.2v1.2h-1.2zM338.9 262.0h1.2v1.2h-1.2zM343.1 261.7h1.2v1.2h-1.2zM343.9 278.9h1.2v1.2h-1.2zM333.6 256.6h1.2v1.2h-1.2zM338.5 247.4h1.2v1.2h-1.2zM341.9 251.5h1.2v1.2h-1.2zM353.5 251.3h1.2v1.2h-1.2zM343.7 265.4h1.2v1.2h-1.2zM352.2 239.9h1.2v1.2h-1.2zM344.0 235.3h1.2v1.2h-1.2zM345.3 269.8h1.2v1.2h-1.2zM338.5 248.5h1.2v1.2h-1.2zM350.0 257.5h1.2v1.2h-1.2zM347.4 246.2h1.2v1.2h-1.2zM339.9 247.4h1.2v1.2h-1.2zM352.6 233.2h1.2v1.2h-1.2zM338.5 271.7h1.2v1.2h-1.2zM341.5 238.2h1.2v1.2h-1.2zM343.6 249.3h1.2v1.2h-1.2zM341.2 258.3h1.2v1.2h-1.2zM347.3 233.1h1.2v1.2h-1.2zM343.3 270.9h1.2v1.2h-1.2zM333.0 250.8h1.2v1.2h-1.2zM334.2 260.4h1.2v1.2h-1.2zM336.3 247.8h1.2v1.2h-1.2zM339.2 257.8h1.2v1.2h-1.2zM333.2 234.3h1.2v1.2h-1.2zM343.3 269.2h1.2v1.2h-1.2zM338.6 257.2h1.2v1.2h-1.2zM343.8 253.4h1.2v1.2h-1.2zM341.9 245.0h1.2v1.2h-1.2zM340.3 267.2h1.2v1.2h-1.2zM345.0 268.2h1.2v1.2h-1.2zM337.1 253.5h1.2v1.2h-1.2zM337.7 235.3h1.2v1.2h-1.2zM348.0 248.4h1.2v1.2h-1.2zM343.6 234.1h1.2v1.2h-1.2zM340.3 250.5h1.2v1.2h-1.2zM339.4 264.9h1.2v1.2h-1.2zM345.1 253.7h1.2v1.2h-1.2zM343.5 246.4h1.2v1.2h-1.2zM337.2 248.4h1.2v1.2h-1.2zM335.1 249.9h1.2v1.2h-1.2zM341.2 266.3h1.2v1.2h-1.2zM338.5 253.7h1.2v1.2h-1.2zM341.8 244.2h1.2v1.2h-1.2zM341.6 229.6h1.2v1.2h-1.2zM349.5 244.7h1.2v1.2h-1.2zM341.8 229.0h1.2v1.2h-1.2zM345.8 235.7h1.2v1.2h-1.2zM351.1 238.7h1.2v1.2h-1.2zM337.0 260.4h1.2v1.2h-1.2zM350.6 226.9h1.2v1.2h-1.2zM344.9 232.7h1.2v1.2h-1.2zM339.0 260.9h1.2v1.2h-1.2zM339.4 271.2h1.2v1.2h-1.2zM337.2 254.1h1.2v1.2h-1.2zM349.7 270.8h1.2v1.2h-1.2zM343.6 259.4h1.2v1.2h-1.2zM339.7 251.2h1.2v1.2h-1.2zM338.1 256.9h1.2v1.2h-1.2zM347.6 239.2h1.2v1.2h-1.2zM334.1 252.6h1.2v1.2h-1.2zM355.4 254.9h1.2v1.2h-1.2zM342.8 251.4h1.2v1.2h-1.2zM330.7 242.9h1.2v1.2h-1.2zM352.1 225.2h1.2v1.2h-1.2zM354.0 236.7h1.2v1.2h-1.2zM352.0 250.2h1.2v1.2h-1.2zM345.9 245.0h1.2v1.2h-1.2zM338.9 254.6h1.2v1.2h-1.2zM339.8 238.1h1.2v1.2h-1.2zM340.1 260.2h1.2v1.2h-1.2zM336.8 256.6h1.2v1.2h-1.2zM332.9 253.2h1.2v1.2h-1.2zM334.2 261.8h1.2v1.2h-1.2zM335.0 259.9h1.2v1.2h-1.2zM349.3 241.4h1.2v1.2h-1.2zM342.3 241.0h1.2v1.2h-1.2zM345.2 261.6h1.2v1.2h-1.2zM349.7 269.0h1.2v1.2h-1.2zM350.7 242.6h1.2v1.2h-1.2zM342.7 258.8h1.2v1.2h-1.2zM343.2 235.2h1.2v1.2h-1.2zM342.3 218.7h1.2v1.2h-1.2zM354.2 249.6h1.2v1.2h-1.2zM357.1 238.6h1.2v1.2h-1.2zM345.5 262.1h1.2v1.2h-1.2zM332.3 247.7h1.2v1.2h-1.2zM345.2 260.4h1.2v1.2h-1.2zM344.5 218.4h1.2v1.2h-1.2zM352.6 232.2h1.2v1.2h-1.2zM344.6 263.9h1.2v1.2h-1.2zM335.4 231.6h1.2v1.2h-1.2zM343.7 246.3h1.2v1.2h-1.2zM341.3 249.3h1.2v1.2h-1.2zM341.1 255.9h1.2v1.2h-1.2zM338.4 251.5h1.2v1.2h-1.2zM338.1 240.8h1.2v1.2h-1.2zM344.3 241.3h1.2v1.2h-1.2zM345.5 251.6h1.2v1.2h-1.2zM349.2 259.5h1.2v1.2h-1.2zM346.4 253.4h1.2v1.2h-1.2zM342.2 265.9h1.2v1.2h-1.2zM346.5 234.7h1.2v1.2h-1.2zM342.6 264.8h1.2v1.2h-1.2zM343.0 235.5h1.2v1.2h-1.2zM347.2 259.7h1.2v1.2h-1.2zM349.6 254.2h1.2v1.2h-1.2zM342.7 262.9h1.2v1.2h-1.2zM334.5 274.0h1.2v1.2h-1.2zM344.6 254.8h1.2v1.2h-1.2zM347.0 262.1h1.2v1.2h-1.2zM341.2 241.8h1.2v1.2h-1.2zM348.0 264.0h1.2v1.2h-1.2zM344.5 243.9h1.2v1.2h-1.2zM342.6 239.7h1.2v1.2h-1.2zM358.8 243.4h1.2v1.2h-1.2zM347.8 272.9h1.2v1.2h-1.2zM336.2 245.1h1.2v1.2h-1.2zM333.0 254.0h1.2v1.2h-1.2zM340.4 252.1h1.2v1.2h-1.2zM342.2 245.9h1.2v1.2h-1.2zM342.7 251.1h1.2v1.2h-1.2zM337.1 247.9h1.2v1.2h-1.2zM338.1 235.3h1.2v1.2h-1.2zM341.7 227.9h1.2v1.2h-1.2zM345.5 251.5h1.2v1.2h-1.2zM343.0 266.8h1.2v1.2h-1.2zM348.3 246.3h1.2v1.2h-1.2zM344.3 267.3h1.2v1.2h-1.2zM340.9 256.8h1.2v1.2h-1.2zM344.7 238.6h1.2v1.2h-1.2zM343.8 246.9h1.2v1.2h-1.2zM340.2 257.5h1.2v1.2h-1.2zM346.3 240.3h1.2v1.2h-1.2zM340.2 249.4h1.2v1.2h-1.2zM335.5 256.7h1.2v1.2h-1.2zM340.5 242.8h1.2v1.2h-1.2zM348.2 250.9h1.2v1.2h-1.2zM334.1 250.7h1.2v1.2h-1.2zM340.7 255.7h1.2v1.2h-1.2zM357.0 259.0h1.2v1.2h-1.2zM351.6 249.7h1.2v1.2h-1.2zM345.1 258.3h1.2v1.2h-1.2zM341.2 255.1h1.2v1.2h-1.2zM338.9 260.9h1.2v1.2h-1.2zM335.8 274.0h1.2v1.2h-1.2zM341.1 256.6h1.2v1.2h-1.2zM342.9 231.1h1.2v1.2h-1.2zM344.8 240.6h1.2v1.2h-1.2zM343.3 246.5h1.2v1.2h-1.2zM340.1 232.3h1.2v1.2h-1.2zM333.1 244.8h1.2v1.2h-1.2zM334.8 255.1h1.2v1.2h-1.2zM332.5 254.8h1.2v1.2h-1.2zM345.6 242.3h1.2v1.2h-1.2zM335.5 247.5h1.2v1.2h-1.2zM347.2 269.9h1.2v1.2h-1.2zM356.4 253.1h1.2v1.2h-1.2zM346.1 254.4h1.2v1.2h-1.2zM341.8 238.1h1.2v1.2h-1.2zM339.5 266.3h1.2v1.2h-1.2zM351.2 244.1h1.2v1.2h-1.2zM331.1 276.3h1.2v1.2h-1.2zM342.1 257.8h1.2v1.2h-1.2zM340.7 228.7h1.2v1.2h-1.2zM344.0 239.5h1.2v1.2h-1.2zM340.0 243.9h1.2v1.2h-1.2zM352.0 226.8h1.2v1.2h-1.2zM331.6 245.4h1.2v1.2h-1.2zM337.4 262.0h1.2v1.2h-1.2zM352.4 242.5h1.2v1.2h-1.2zM345.7 249.2h1.2v1.2h-1.2zM353.6 241.3h1.2v1.2h-1.2zM346.1 245.3h1.2v1.2h-1.2zM341.3 246.0h1.2v1.2h-1.2zM341.0 252.5h1.2v1.2h-1.2zM337.8 255.5h1.2v1.2h-1.2zM333.2 262.4h1.2v1.2h-1.2zM335.5 228.0h1.2v1.2h-1.2zM347.5 247.5h1.2v1.2h-1.2zM338.3 263.7h1.2v1.2h-1.2zM341.7 277.0h1.2v1.2h-1.2zM344.8 233.5h1.2v1.2h-1.2zM338.5 243.3h1.2v1.2h-1.2zM340.0 273.7h1.2v1.2h-1.2zM360.1 274.0h1.2v1.2h-1.2zM344.9 259.0h1.2v1.2h-1.2zM343.0 223.4h1.2v1.2h-1.2zM351.2 277.6h1.2v1.2h-1.2zM338.4 251.6h1.2v1.2h-1.2zM337.1 249.3h1.2v1.2h-1.2zM336.1 237.4h1.2v1.2h-1.2zM350.0 226.8h1.2v1.2h-1.2zM348.8 237.2h1.2v1.2h-1.2zM340.2 226.0h1.2v1.2h-1.2zM346.3 239.0h1.2v1.2h-1.2zM358.6 239.9h1.2v1.2h-1.2zM343.6 260.5h1.2v1.2h-1.2zM335.4 241.3h1.2v1.2h-1.2zM334.7 259.1h1.2v1.2h-1.2zM343.9 265.0h1.2v1.2h-1.2zM332.3 240.0h1.2v1.2h-1.2zM341.1 246.2h1.2v1.2h-1.2zM344.0 266.5h1.2v1.2h-1.2zM342.8 241.7h1.2v1.2h-1.2zM341.6 242.6h1.2v1.2h-1.2zM337.5 275.9h1.2v1.2h-1.2zM346.4 275.5h1.2v1.2h-1.2zM340.5 251.1h1.2v1.2h-1.2zM333.4 255.0h1.2v1.2h-1.2zM346.8 260.9h1.2v1.2h-1.2zM334.1 253.4h1.2v1.2h-1.2zM348.1 245.9h1.2v1.2h-1.2zM346.6 245.4h1.2v1.2h-1.2zM341.9 244.5h1.2v1.2h-1.2zM332.0 241.2h1.2v1.2h-1.2zM343.1 248.2h1.2v1.2h-1.2zM341.8 244.5h1.2v1.2h-1.2zM347.8 249.7h1.2v1.2h-1.2zM344.5 245.8h1.2v1.2h-1.2zM350.7 250.6h1.2v1.2h-1.2zM344.8 231.8h1.2v1.2h-1.2zM337.4 256.1h1.2v1.2h-1.2zM333.1 232.9h1.2v1.2h-1.2zM341.1 231.6h1.2v1.2h-1.2zM349.2 257.5h1.2v1.2h-1.2zM339.8 267.5h1.2v1.2h-1.2zM337.4 236.7h1.2v1.2h-1.2zM348.0 252.2h1.2v1.2h-1.2zM340.4 265.3h1.2v1.2h-1.2zM341.0 260.3h1.2v1.2h-1.2zM337.9 254.1h1.2v1.2h-1.2zM358.3 240.6h1.2v1.2h-1.2zM360.8 262.5h1.2v1.2h-1.2zM358.8 273.4h1.2v1.2h-1.2zM354.3 274.9h1.2v1.2h-1.2zM337.0 260.9h1.2v1.2h-1.2zM342.2 238.2h1.2v1.2h-1.2zM339.5 261.7h1.2v1.2h-1.2zM335.1 235.1h1.2v1.2h-1.2zM357.2 269.9h1.2v1.2h-1.2zM332.0 239.8h1.2v1.2h-1.2zM331.1 256.1h1.2v1.2h-1.2zM361.5 237.5h1.2v1.2h-1.2zM348.9 251.6h1.2v1.2h-1.2zM353.6 258.9h1.2v1.2h-1.2zM353.7 235.2h1.2v1.2h-1.2zM361.3 268.5h1.2v1.2h-1.2zM334.4 230.5h1.2v1.2h-1.2zM356.2 268.0h1.2v1.2h-1.2zM342.8 275.5h1.2v1.2h-1.2zM350.6 255.1h1.2v1.2h-1.2zM332.3 253.8h1.2v1.2h-1.2zM342.8 251.4h1.2v1.2h-1.2zM341.7 271.6h1.2v1.2h-1.2zM342.4 234.7h1.2v1.2h-1.2zM338.8 271.0h1.2v1.2h-1.2zM347.0 247.2h1.2v1.2h-1.2zM358.2 278.2h1.2v1.2h-1.2zM343.9 236.8h1.2v1.2h-1.2zM341.0 235.5h1.2v1.2h-1.2zM358.1 264.9h1.2v1.2h-1.2zM341.0 261.8h1.2v1.2h-1.2zM357.3 278.7h1.2v1.2h-1.2zM336.4 252.5h1.2v1.2h-1.2zM351.1 251.7h1.2v1.2h-1.2zM347.4 252.4h1.2v1.2h-1.2zM343.7 258.1h1.2v1.2h-1.2zM343.3 244.5h1.2v1.2h-1.2zM343.9 268.3h1.2v1.2h-1.2zM335.8 253.2h1.2v1.2h-1.2zM338.2 275.5h1.2v1.2h-1.2zM331.3 247.1h1.2v1.2h-1.2zM360.9 264.8h1.2v1.2h-1.2zM338.3 266.0h1.2v1.2h-1.2zM346.6 234.6h1.2v1.2h-1.2zM334.2 232.2h1.2v1.2h-1.2zM339.8 250.1h1.2v1.2h-1.2zM361.1 273.6h1.2v1.2h-1.2zM348.1 262.7h1.2v1.2h-1.2zM350.2 269.8h1.2v1.2h-1.2zM342.5 261.8h1.2v1.2h-1.2zM337.7 241.1h1.2v1.2h-1.2zM339.3 249.8h1.2v1.2h-1.2zM340.2 259.3h1.2v1.2h-1.2zM332.2 245.5h1.2v1.2h-1.2zM349.8 268.9h1.2v1.2h-1.2zM355.4 251.1h1.2v1.2h-1.2zM350.3 231.3h1.2v1.2h-1.2zM359.7 262.6h1.2v1.2h-1.2zM355.6 235.2h1.2v1.2h-1.2zM343.8 244.6h1.2v1.2h-1.2zM357.1 267.3h1.2v1.2h-1.2zM335.9 277.5h1.2v1.2h-1.2zM337.4 236.6h1.2v1.2h-1.2zM348.4 251.5h1.2v1.2h-1.2zM360.6 232.3h1.2v1.2h-1.2zM359.1 265.0h1.2v1.2h-1.2zM340.8 237.4h1.2v1.2h-1.2zM352.9 231.5h1.2v1.2h-1.2zM340.1 234.0h1.2v1.2h-1.2zM341.8 278.7h1.2v1.2h-1.2zM357.2 257.0h1.2v1.2h-1.2zM351.0 261.0h1.2v1.2h-1.2zM355.4 270.7h1.2v1.2h-1.2zM360.9 276.3h1.2v1.2h-1.2zM341.6 276.5h1.2v1.2h-1.2zM338.8 235.6h1.2v1.2h-1.2zM351.2 232.3h1.2v1.2h-1.2zM358.2 277.9h1.2v1.2h-1.2zM355.9 242.6h1.2v1.2h-1.2zM347.4 232.6h1.2v1.2h-1.2zM344.8 270.3h1.2v1.2h-1.2zM337.1 237.7h1.2v1.2h-1.2zM342.0 247.2h1.2v1.2h-1.2zM341.3 245.9h1.2v1.2h-1.2zM333.2 261.5h1.2v1.2h-1.2zM346.2 260.0h1.2v1.2h-1.2zM341.1 274.3h1.2v1.2h-1.2zM355.0 257.2h1.2v1.2h-1.2zM342.9 271.8h1.2v1.2h-1.2zM344.5 250.4h1.2v1.2h-1.2zM348.6 232.8h1.2v1.2h-1.2zM346.4 234.1h1.2v1.2h-1.2zM359.5 268.8h1.2v1.2h-1.2zM334.8 240.4h1.2v1.2h-1.2zM351.6 256.6h1.2v1.2h-1.2zM343.6 250.0h1.2v1.2h-1.2zM338.0 250.1h1.2v1.2h-1.2zM332.6 233.3h1.2v1.2h-1.2zM338.3 231.3h1.2v1.2h-1.2zM338.4 239.7h1.2v1.2h-1.2zM342.0 259.0h1.2v1.2h-1.2zM361.7 264.5h1.2v1.2h-1.2zM356.4 257.4h1.2v1.2h-1.2zM354.6 260.9h1.2v1.2h-1.2zM331.3 248.0h1.2v1.2h-1.2zM335.1 263.6h1.2v1.2h-1.2zM342.3 251.3h1.2v1.2h-1.2zM335.8 277.5h1.2v1.2h-1.2zM339.6 236.8h1.2v1.2h-1.2zM342.5 245.6h1.2v1.2h-1.2zM336.9 264.1h1.2v1.2h-1.2zM344.4 230.6h1.2v1.2h-1.2zM360.4 236.0h1.2v1.2h-1.2zM357.9 278.4h1.2v1.2h-1.2zM347.9 267.6h1.2v1.2h-1.2zM331.2 239.8h1.2v1.2h-1.2zM355.6 264.0h1.2v1.2h-1.2zM334.7 243.1h1.2v1.2h-1.2zM333.4 268.8h1.2v1.2h-1.2zM350.9 247.1h1.2v1.2h-1.2zM348.5 254.5h1.2v1.2h-1.2zM339.1 256.3h1.2v1.2h-1.2zM331.2 265.2h1.2v1.2h-1.2zM360.7 238.1h1.2v1.2h-1.2zM344.5 259.1h1.2v1.2h-1.2zM352.2 267.9h1.2v1.2h-1.2zM341.2 266.9h1.2v1.2h-1.2zM342.1 268.2h1.2v1.2h-1.2zM346.7 258.1h1.2v1.2h-1.2zM358.7 238.7h1.2v1.2h-1.2zM346.5 247.0h1.2v1.2h-1.2zM332.9 268.2h1.2v1.2h-1.2zM337.1 238.1h1.2v1.2h-1.2zM335.2 268.2h1.2v1.2h-1.2zM352.8 246.1h1.2v1.2h-1.2zM346.1 247.5h1.2v1.2h-1.2zM346.3 231.9h1.2v1.2h-1.2zM339.9 276.9h1.2v1.2h-1.2zM340.9 264.3h1.2v1.2h-1.2zM350.2 252.8h1.2v1.2h-1.2zM350.2 264.1h1.2v1.2h-1.2zM348.8 268.5h1.2v1.2h-1.2zM340.3 241.3h1.2v1.2h-1.2zM345.3 268.6h1.2v1.2h-1.2zM346.4 230.3h1.2v1.2h-1.2zM345.4 273.9h1.2v1.2h-1.2zM336.2 258.0h1.2v1.2h-1.2zM339.8 256.6h1.2v1.2h-1.2zM354.7 246.1h1.2v1.2h-1.2zM336.4 252.0h1.2v1.2h-1.2zM361.5 231.3h1.2v1.2h-1.2zM340.4 240.7h1.2v1.2h-1.2zM345.7 268.5h1.2v1.2h-1.2zM348.4 258.8h1.2v1.2h-1.2zM337.9 256.1h1.2v1.2h-1.2zM354.2 246.3h1.2v1.2h-1.2zM331.6 277.5h1.2v1.2h-1.2zM346.7 277.3h1.2v1.2h-1.2zM349.9 246.7h1.2v1.2h-1.2zM336.5 275.7h1.2v1.2h-1.2zM354.6 258.2h1.2v1.2h-1.2zM331.6 244.8h1.2v1.2h-1.2zM344.1 234.5h1.2v1.2h-1.2zM345.6 253.0h1.2v1.2h-1.2zM337.3 255.7h1.2v1.2h-1.2zM360.5 272.8h1.2v1.2h-1.2zM356.5 244.9h1.2v1.2h-1.2zM338.2 253.4h1.2v1.2h-1.2zM359.9 240.4h1.2v1.2h-1.2zM356.9 220.1h1.2v1.2h-1.2zM353.7 207.4h1.2v1.2h-1.2zM354.3 203.8h1.2v1.2h-1.2zM351.6 206.8h1.2v1.2h-1.2zM346.5 181.9h1.2v1.2h-1.2zM352.2 215.1h1.2v1.2h-1.2zM342.9 207.1h1.2v1.2h-1.2zM350.0 216.1h1.2v1.2h-1.2zM334.5 229.4h1.2v1.2h-1.2zM340.6 235.9h1.2v1.2h-1.2zM353.2 208.3h1.2v1.2h-1.2zM347.7 210.6h1.2v1.2h-1.2zM344.2 229.9h1.2v1.2h-1.2zM342.6 197.8h1.2v1.2h-1.2zM345.2 181.3h1.2v1.2h-1.2zM352.6 187.6h1.2v1.2h-1.2zM355.4 221.0h1.2v1.2h-1.2zM358.3 196.8h1.2v1.2h-1.2zM344.8 199.1h1.2v1.2h-1.2zM351.2 192.1h1.2v1.2h-1.2zM344.7 169.8h1.2v1.2h-1.2zM346.8 209.4h1.2v1.2h-1.2zM358.1 193.0h1.2v1.2h-1.2zM352.2 215.1h1.2v1.2h-1.2zM351.7 188.8h1.2v1.2h-1.2zM352.2 208.8h1.2v1.2h-1.2zM355.0 240.1h1.2v1.2h-1.2zM342.5 199.7h1.2v1.2h-1.2zM355.5 179.9h1.2v1.2h-1.2zM331.9 210.4h1.2v1.2h-1.2zM348.5 229.9h1.2v1.2h-1.2zM350.8 205.5h1.2v1.2h-1.2zM343.2 177.2h1.2v1.2h-1.2zM349.6 196.5h1.2v1.2h-1.2zM344.3 211.2h1.2v1.2h-1.2zM334.6 204.8h1.2v1.2h-1.2zM342.9 237.6h1.2v1.2h-1.2zM345.9 223.9h1.2v1.2h-1.2zM340.7 181.1h1.2v1.2h-1.2zM351.8 200.6h1.2v1.2h-1.2zM338.7 223.1h1.2v1.2h-1.2zM349.5 178.9h1.2v1.2h-1.2zM345.2 237.7h1.2v1.2h-1.2zM347.2 184.6h1.2v1.2h-1.2zM341.6 228.1h1.2v1.2h-1.2zM355.4 217.1h1.2v1.2h-1.2zM337.7 219.3h1.2v1.2h-1.2zM341.7 198.1h1.2v1.2h-1.2zM343.6 223.3h1.2v1.2h-1.2zM349.6 215.3h1.2v1.2h-1.2zM343.9 198.0h1.2v1.2h-1.2zM352.9 196.4h1.2v1.2h-1.2zM344.9 215.0h1.2v1.2h-1.2zM345.5 221.9h1.2v1.2h-1.2zM349.9 216.4h1.2v1.2h-1.2zM360.2 197.5h1.2v1.2h-1.2zM359.0 185.6h1.2v1.2h-1.2zM342.6 193.3h1.2v1.2h-1.2zM350.8 226.3h1.2v1.2h-1.2zM360.3 197.6h1.2v1.2h-1.2zM352.9 203.1h1.2v1.2h-1.2zM344.4 175.0h1.2v1.2h-1.2zM351.7 191.1h1.2v1.2h-1.2zM350.4 195.4h1.2v1.2h-1.2zM349.4 190.8h1.2v1.2h-1.2zM348.9 235.3h1.2v1.2h-1.2zM348.8 184.1h1.2v1.2h-1.2zM341.9 208.3h1.2v1.2h-1.2zM351.4 186.2h1.2v1.2h-1.2zM341.1 180.0h1.2v1.2h-1.2zM357.0 210.8h1.2v1.2h-1.2zM348.5 199.0h1.2v1.2h-1.2zM358.0 215.4h1.2v1.2h-1.2zM346.0 225.7h1.2v1.2h-1.2zM350.1 201.5h1.2v1.2h-1.2zM344.4 206.2h1.2v1.2h-1.2zM354.8 183.2h1.2v1.2h-1.2zM336.7 217.0h1.2v1.2h-1.2zM352.9 229.6h1.2v1.2h-1.2zM350.0 181.8h1.2v1.2h-1.2zM351.4 208.8h1.2v1.2h-1.2zM340.6 180.2h1.2v1.2h-1.2zM337.4 207.2h1.2v1.2h-1.2zM338.9 211.8h1.2v1.2h-1.2zM345.6 216.5h1.2v1.2h-1.2zM351.7 191.3h1.2v1.2h-1.2zM344.3 218.1h1.2v1.2h-1.2zM342.7 222.5h1.2v1.2h-1.2zM350.1 220.6h1.2v1.2h-1.2zM343.0 218.8h1.2v1.2h-1.2zM345.3 209.6h1.2v1.2h-1.2zM350.3 197.0h1.2v1.2h-1.2zM342.4 216.1h1.2v1.2h-1.2zM340.1 171.7h1.2v1.2h-1.2zM338.0 201.2h1.2v1.2h-1.2zM350.5 214.7h1.2v1.2h-1.2zM338.1 212.6h1.2v1.2h-1.2zM339.3 223.7h1.2v1.2h-1.2zM348.9 195.7h1.2v1.2h-1.2zM343.8 204.8h1.2v1.2h-1.2zM343.1 225.0h1.2v1.2h-1.2zM348.4 196.8h1.2v1.2h-1.2zM349.2 183.6h1.2v1.2h-1.2zM347.5 200.7h1.2v1.2h-1.2zM343.2 205.1h1.2v1.2h-1.2zM347.9 182.2h1.2v1.2h-1.2zM348.7 254.1h1.2v1.2h-1.2zM351.2 196.4h1.2v1.2h-1.2zM348.7 233.0h1.2v1.2h-1.2zM340.2 233.0h1.2v1.2h-1.2zM344.5 236.9h1.2v1.2h-1.2zM341.7 223.0h1.2v1.2h-1.2zM343.2 226.4h1.2v1.2h-1.2zM351.8 211.5h1.2v1.2h-1.2zM341.6 223.0h1.2v1.2h-1.2zM348.7 188.3h1.2v1.2h-1.2zM349.8 203.2h1.2v1.2h-1.2zM345.9 190.0h1.2v1.2h-1.2zM347.8 220.0h1.2v1.2h-1.2zM341.6 219.1h1.2v1.2h-1.2zM335.9 207.8h1.2v1.2h-1.2zM348.1 190.4h1.2v1.2h-1.2zM347.5 184.6h1.2v1.2h-1.2zM357.5 212.4h1.2v1.2h-1.2zM352.9 190.8h1.2v1.2h-1.2zM333.4 204.6h1.2v1.2h-1.2zM354.4 203.4h1.2v1.2h-1.2zM353.3 212.5h1.2v1.2h-1.2zM348.5 223.2h1.2v1.2h-1.2zM343.1 199.3h1.2v1.2h-1.2zM352.9 213.4h1.2v1.2h-1.2zM343.4 188.3h1.2v1.2h-1.2zM351.8 203.6h1.2v1.2h-1.2zM339.0 212.6h1.2v1.2h-1.2zM349.3 243.2h1.2v1.2h-1.2zM341.2 218.4h1.2v1.2h-1.2zM343.7 205.0h1.2v1.2h-1.2zM346.1 229.4h1.2v1.2h-1.2zM348.4 203.4h1.2v1.2h-1.2zM342.8 222.4h1.2v1.2h-1.2zM342.5 212.7h1.2v1.2h-1.2zM348.9 218.2h1.2v1.2h-1.2zM351.1 210.6h1.2v1.2h-1.2zM357.9 218.8h1.2v1.2h-1.2zM342.2 191.2h1.2v1.2h-1.2zM342.5 227.7h1.2v1.2h-1.2zM340.2 231.6h1.2v1.2h-1.2zM349.0 196.4h1.2v1.2h-1.2zM340.8 204.4h1.2v1.2h-1.2zM350.9 204.8h1.2v1.2h-1.2zM350.6 208.7h1.2v1.2h-1.2zM354.3 198.1h1.2v1.2h-1.2zM345.8 187.5h1.2v1.2h-1.2zM344.7 189.7h1.2v1.2h-1.2zM337.9 202.3h1.2v1.2h-1.2zM339.3 183.2h1.2v1.2h-1.2zM348.6 215.2h1.2v1.2h-1.2zM348.4 202.9h1.2v1.2h-1.2zM342.2 209.0h1.2v1.2h-1.2zM341.6 202.2h1.2v1.2h-1.2zM348.8 201.8h1.2v1.2h-1.2zM353.3 170.5h1.2v1.2h-1.2zM337.5 222.2h1.2v1.2h-1.2zM343.3 198.3h1.2v1.2h-1.2zM343.4 205.0h1.2v1.2h-1.2zM345.6 211.8h1.2v1.2h-1.2zM351.8 236.2h1.2v1.2h-1.2zM334.5 204.2h1.2v1.2h-1.2zM341.5 209.4h1.2v1.2h-1.2zM340.8 207.1h1.2v1.2h-1.2zM348.1 205.3h1.2v1.2h-1.2zM347.9 216.7h1.2v1.2h-1.2zM340.6 205.2h1.2v1.2h-1.2zM352.5 221.1h1.2v1.2h-1.2zM352.1 192.4h1.2v1.2h-1.2zM342.8 222.0h1.2v1.2h-1.2zM346.5 210.7h1.2v1.2h-1.2zM344.5 220.8h1.2v1.2h-1.2zM347.5 189.8h1.2v1.2h-1.2zM348.6 200.3h1.2v1.2h-1.2zM345.0 215.2h1.2v1.2h-1.2zM347.4 196.6h1.2v1.2h-1.2zM339.9 198.7h1.2v1.2h-1.2zM345.8 186.6h1.2v1.2h-1.2zM343.0 243.8h1.2v1.2h-1.2zM342.9 207.0h1.2v1.2h-1.2zM339.6 200.7h1.2v1.2h-1.2zM347.9 208.6h1.2v1.2h-1.2zM337.0 206.6h1.2v1.2h-1.2zM341.0 223.7h1.2v1.2h-1.2zM346.0 231.7h1.2v1.2h-1.2zM348.6 187.0h1.2v1.2h-1.2zM351.9 198.0h1.2v1.2h-1.2zM343.5 171.5h1.2v1.2h-1.2zM343.4 215.3h1.2v1.2h-1.2zM356.5 195.9h1.2v1.2h-1.2zM345.7 206.2h1.2v1.2h-1.2zM332.8 201.3h1.2v1.2h-1.2zM358.9 178.3h1.2v1.2h-1.2zM333.6 199.8h1.2v1.2h-1.2zM351.1 192.9h1.2v1.2h-1.2zM344.7 225.2h1.2v1.2h-1.2zM363.8 227.9h1.2v1.2h-1.2zM336.7 189.6h1.2v1.2h-1.2zM339.7 223.6h1.2v1.2h-1.2zM351.3 203.3h1.2v1.2h-1.2zM333.9 217.1h1.2v1.2h-1.2zM363.2 184.3h1.2v1.2h-1.2zM340.6 171.7h1.2v1.2h-1.2zM358.8 184.7h1.2v1.2h-1.2zM336.6 221.5h1.2v1.2h-1.2zM353.3 196.7h1.2v1.2h-1.2zM339.0 226.5h1.2v1.2h-1.2zM342.3 213.8h1.2v1.2h-1.2zM352.1 193.5h1.2v1.2h-1.2zM363.1 195.1h1.2v1.2h-1.2zM339.5 184.2h1.2v1.2h-1.2zM332.2 197.2h1.2v1.2h-1.2zM361.7 213.3h1.2v1.2h-1.2zM342.5 188.5h1.2v1.2h-1.2zM357.5 218.7h1.2v1.2h-1.2zM341.3 185.5h1.2v1.2h-1.2zM339.7 218.1h1.2v1.2h-1.2zM346.8 210.1h1.2v1.2h-1.2zM353.3 217.4h1.2v1.2h-1.2zM348.9 172.4h1.2v1.2h-1.2zM352.9 185.0h1.2v1.2h-1.2zM359.2 204.9h1.2v1.2h-1.2zM353.7 210.8h1.2v1.2h-1.2zM359.1 218.4h1.2v1.2h-1.2zM361.3 218.9h1.2v1.2h-1.2zM339.4 214.2h1.2v1.2h-1.2zM342.6 214.7h1.2v1.2h-1.2zM349.4 204.3h1.2v1.2h-1.2zM334.1 181.6h1.2v1.2h-1.2zM335.2 176.7h1.2v1.2h-1.2zM359.6 223.8h1.2v1.2h-1.2zM342.5 197.4h1.2v1.2h-1.2zM349.9 211.3h1.2v1.2h-1.2zM333.8 227.4h1.2v1.2h-1.2zM332.0 177.6h1.2v1.2h-1.2zM354.8 190.1h1.2v1.2h-1.2zM352.1 203.4h1.2v1.2h-1.2zM346.9 201.0h1.2v1.2h-1.2zM357.9 194.5h1.2v1.2h-1.2zM356.3 205.1h1.2v1.2h-1.2zM360.2 177.1h1.2v1.2h-1.2zM340.8 172.4h1.2v1.2h-1.2zM340.6 171.5h1.2v1.2h-1.2zM350.0 170.9h1.2v1.2h-1.2zM343.4 170.9h1.2v1.2h-1.2zM359.6 171.5h1.2v1.2h-1.2zM349.2 171.5h1.2v1.2h-1.2zM349.5 171.4h1.2v1.2h-1.2zM341.6 172.2h1.2v1.2h-1.2zM352.9 171.8h1.2v1.2h-1.2zM359.8 170.8h1.2v1.2h-1.2zM341.3 171.0h1.2v1.2h-1.2zM343.8 170.9h1.2v1.2h-1.2zM348.6 171.9h1.2v1.2h-1.2zM385.7 244.2h1.2v1.2h-1.2zM377.5 253.6h1.2v1.2h-1.2zM400.9 244.0h1.2v1.2h-1.2zM387.6 233.5h1.2v1.2h-1.2zM402.2 237.5h1.2v1.2h-1.2zM394.5 250.7h1.2v1.2h-1.2zM397.0 251.3h1.2v1.2h-1.2zM409.7 249.7h1.2v1.2h-1.2zM389.1 250.0h1.2v1.2h-1.2zM395.6 241.7h1.2v1.2h-1.2zM403.0 243.4h1.2v1.2h-1.2zM399.5 252.5h1.2v1.2h-1.2zM406.0 238.2h1.2v1.2h-1.2zM403.5 263.3h1.2v1.2h-1.2zM410.2 246.6h1.2v1.2h-1.2zM391.4 250.9h1.2v1.2h-1.2zM392.3 246.1h1.2v1.2h-1.2zM383.1 249.7h1.2v1.2h-1.2zM380.8 260.5h1.2v1.2h-1.2zM401.9 243.5h1.2v1.2h-1.2zM397.8 248.8h1.2v1.2h-1.2zM395.4 250.9h1.2v1.2h-1.2zM396.1 252.0h1.2v1.2h-1.2zM390.8 250.4h1.2v1.2h-1.2zM409.4 237.6h1.2v1.2h-1.2zM390.8 257.3h1.2v1.2h-1.2zM400.2 248.5h1.2v1.2h-1.2zM399.1 244.3h1.2v1.2h-1.2zM393.1 253.3h1.2v1.2h-1.2zM399.0 252.7h1.2v1.2h-1.2zM401.3 264.6h1.2v1.2h-1.2zM398.3 258.9h1.2v1.2h-1.2zM398.8 265.5h1.2v1.2h-1.2zM405.8 239.7h1.2v1.2h-1.2zM410.2 239.8h1.2v1.2h-1.2zM406.0 239.7h1.2v1.2h-1.2zM400.6 248.4h1.2v1.2h-1.2zM409.5 227.7h1.2v1.2h-1.2zM381.5 260.3h1.2v1.2h-1.2zM403.9 242.2h1.2v1.2h-1.2zM398.4 234.0h1.2v1.2h-1.2zM394.4 243.7h1.2v1.2h-1.2zM405.0 248.0h1.2v1.2h-1.2zM396.2 257.6h1.2v1.2h-1.2zM392.1 255.6h1.2v1.2h-1.2zM395.6 252.2h1.2v1.2h-1.2zM395.1 259.9h1.2v1.2h-1.2zM393.9 265.1h1.2v1.2h-1.2zM404.2 239.6h1.2v1.2h-1.2zM393.8 259.7h1.2v1.2h-1.2zM409.9 235.1h1.2v1.2h-1.2zM399.0 252.6h1.2v1.2h-1.2zM403.4 247.8h1.2v1.2h-1.2zM395.9 255.9h1.2v1.2h-1.2zM398.3 241.1h1.2v1.2h-1.2zM397.2 246.5h1.2v1.2h-1.2zM395.8 249.3h1.2v1.2h-1.2zM400.6 241.1h1.2v1.2h-1.2zM403.3 234.1h1.2v1.2h-1.2zM403.2 250.4h1.2v1.2h-1.2zM401.1 235.4h1.2v1.2h-1.2zM393.4 251.0h1.2v1.2h-1.2zM401.5 253.0h1.2v1.2h-1.2zM384.7 251.9h1.2v1.2h-1.2zM406.7 236.4h1.2v1.2h-1.2zM387.4 247.3h1.2v1.2h-1.2zM395.3 246.8h1.2v1.2h-1.2zM408.1 247.5h1.2v1.2h-1.2zM381.5 258.9h1.2v1.2h-1.2zM398.4 254.7h1.2v1.2h-1.2zM397.4 259.2h1.2v1.2h-1.2zM398.8 244.0h1.2v1.2h-1.2zM387.5 258.4h1.2v1.2h-1.2zM396.4 234.7h1.2v1.2h-1.2zM404.7 256.5h1.2v1.2h-1.2zM380.0 257.7h1.2v1.2h-1.2zM403.1 260.3h1.2v1.2h-1.2zM407.9 239.5h1.2v1.2h-1.2zM401.4 253.0h1.2v1.2h-1.2zM385.2 263.1h1.2v1.2h-1.2zM401.8 253.8h1.2v1.2h-1.2zM390.1 256.9h1.2v1.2h-1.2zM397.2 246.0h1.2v1.2h-1.2zM397.9 250.9h1.2v1.2h-1.2zM384.8 251.9h1.2v1.2h-1.2zM400.7 234.7h1.2v1.2h-1.2zM409.1 264.6h1.2v1.2h-1.2zM403.3 246.7h1.2v1.2h-1.2zM388.8 242.0h1.2v1.2h-1.2zM387.2 258.2h1.2v1.2h-1.2zM390.2 251.9h1.2v1.2h-1.2zM393.9 256.4h1.2v1.2h-1.2zM408.3 252.6h1.2v1.2h-1.2zM403.2 255.2h1.2v1.2h-1.2zM409.0 237.4h1.2v1.2h-1.2zM399.8 242.6h1.2v1.2h-1.2zM398.0 246.5h1.2v1.2h-1.2zM398.6 253.7h1.2v1.2h-1.2zM386.6 230.9h1.2v1.2h-1.2zM399.9 256.1h1.2v1.2h-1.2zM394.2 260.9h1.2v1.2h-1.2zM404.4 243.6h1.2v1.2h-1.2zM395.8 252.9h1.2v1.2h-1.2zM404.0 234.8h1.2v1.2h-1.2zM401.8 231.0h1.2v1.2h-1.2zM388.6 252.7h1.2v1.2h-1.2zM400.2 238.2h1.2v1.2h-1.2zM398.0 258.5h1.2v1.2h-1.2zM383.7 256.7h1.2v1.2h-1.2zM408.3 234.8h1.2v1.2h-1.2zM407.6 249.1h1.2v1.2h-1.2zM394.9 249.3h1.2v1.2h-1.2zM397.3 248.8h1.2v1.2h-1.2zM395.8 243.0h1.2v1.2h-1.2zM405.2 259.7h1.2v1.2h-1.2zM395.9 260.1h1.2v1.2h-1.2zM391.1 240.1h1.2v1.2h-1.2zM402.9 248.8h1.2v1.2h-1.2zM401.4 239.8h1.2v1.2h-1.2zM394.2 257.4h1.2v1.2h-1.2zM410.0 246.7h1.2v1.2h-1.2zM400.8 226.7h1.2v1.2h-1.2zM392.1 260.3h1.2v1.2h-1.2zM407.4 237.4h1.2v1.2h-1.2zM376.2 258.4h1.2v1.2h-1.2zM386.6 248.2h1.2v1.2h-1.2zM392.5 246.9h1.2v1.2h-1.2zM389.4 255.9h1.2v1.2h-1.2zM400.1 237.3h1.2v1.2h-1.2zM384.2 268.7h1.2v1.2h-1.2zM402.3 248.8h1.2v1.2h-1.2zM383.2 269.5h1.2v1.2h-1.2zM388.8 251.9h1.2v1.2h-1.2zM400.3 241.9h1.2v1.2h-1.2zM398.6 244.5h1.2v1.2h-1.2zM380.2 242.3h1.2v1.2h-1.2zM392.3 245.7h1.2v1.2h-1.2zM401.2 260.5h1.2v1.2h-1.2zM395.5 266.3h1.2v1.2h-1.2zM393.8 250.4h1.2v1.2h-1.2zM395.6 235.6h1.2v1.2h-1.2zM396.9 247.0h1.2v1.2h-1.2zM390.5 256.4h1.2v1.2h-1.2zM400.9 245.1h1.2v1.2h-1.2zM390.1 252.9h1.2v1.2h-1.2zM390.7 243.6h1.2v1.2h-1.2zM393.3 257.2h1.2v1.2h-1.2zM395.1 247.9h1.2v1.2h-1.2zM394.6 254.0h1.2v1.2h-1.2zM396.1 255.4h1.2v1.2h-1.2zM396.1 255.6h1.2v1.2h-1.2zM394.9 243.3h1.2v1.2h-1.2zM400.9 245.9h1.2v1.2h-1.2zM393.6 261.0h1.2v1.2h-1.2zM393.2 243.5h1.2v1.2h-1.2zM394.6 260.7h1.2v1.2h-1.2zM386.2 260.9h1.2v1.2h-1.2zM401.7 244.2h1.2v1.2h-1.2zM394.5 243.6h1.2v1.2h-1.2zM380.4 245.9h1.2v1.2h-1.2zM385.6 239.1h1.2v1.2h-1.2zM393.7 254.3h1.2v1.2h-1.2zM389.5 248.1h1.2v1.2h-1.2zM390.9 248.8h1.2v1.2h-1.2zM400.6 257.3h1.2v1.2h-1.2zM383.1 191.3h1.2v1.2h-1.2zM382.5 213.8h1.2v1.2h-1.2zM384.4 193.4h1.2v1.2h-1.2zM404.0 205.6h1.2v1.2h-1.2zM393.1 196.1h1.2v1.2h-1.2zM394.5 218.1h1.2v1.2h-1.2zM390.1 186.8h1.2v1.2h-1.2zM385.1 214.3h1.2v1.2h-1.2zM393.4 225.6h1.2v1.2h-1.2zM386.2 215.0h1.2v1.2h-1.2zM390.9 193.8h1.2v1.2h-1.2zM400.1 195.7h1.2v1.2h-1.2zM386.2 202.0h1.2v1.2h-1.2zM391.9 184.1h1.2v1.2h-1.2zM407.6 199.5h1.2v1.2h-1.2zM390.2 186.2h1.2v1.2h-1.2zM384.1 189.0h1.2v1.2h-1.2zM382.0 206.9h1.2v1.2h-1.2zM398.1 221.7h1.2v1.2h-1.2zM387.3 219.4h1.2v1.2h-1.2zM400.9 182.8h1.2v1.2h-1.2zM385.5 189.9h1.2v1.2h-1.2zM405.1 264.1h1.2v1.2h-1.2zM374.4 242.4h1.2v1.2h-1.2zM378.2 259.0h1.2v1.2h-1.2zM388.3 272.6h1.2v1.2h-1.2zM403.8 244.3h1.2v1.2h-1.2zM382.4 253.6h1.2v1.2h-1.2zM387.4 266.2h1.2v1.2h-1.2zM379.3 269.3h1.2v1.2h-1.2zM394.4 248.9h1.2v1.2h-1.2zM408.8 247.0h1.2v1.2h-1.2zM401.3 273.4h1.2v1.2h-1.2zM405.9 274.3h1.2v1.2h-1.2zM388.8 265.3h1.2v1.2h-1.2zM403.7 244.8h1.2v1.2h-1.2z" fill="#1a1a1a" fill-opacity="1.00"/>
<rect x="329.90" y="168.70" width="126.30" height="112.80" fill="none" stroke="#222" stroke-width="1.35"/>
<path d="M369.55 168.70V281.50M329.90 229.10H456.20" stroke="#222" stroke-width="1.15" fill="none"/>
<text x="323.90" y="296.20" font-family="Liberation Sans, sans-serif" font-size="9" fill="#151515" stroke="#151515" stroke-width="0.35" textLength="8.5" lengthAdjust="spacingAndGlyphs">10</text>
<text x="332.50" y="290.90" font-family="Liberation Sans, sans-serif" font-size="9" fill="#151515" stroke="#151515" stroke-width="0.35">0</text>
<g transform="translate(322.30 281.50) rotate(-90)"><text x="-6.5" y="0" font-family="Liberation Sans, sans-serif" font-size="9" fill="#151515" stroke="#151515" stroke-width="0.35" textLength="9.2" lengthAdjust="spacingAndGlyphs">10</text><text x="2.5" y="-5.6" font-family="Liberation Sans, sans-serif" font-size="9" fill="#151515" stroke="#151515" stroke-width="0.35">0</text></g>
<text x="355.47" y="296.20" font-family="Liberation Sans, sans-serif" font-size="9" fill="#151515" stroke="#151515" stroke-width="0.35" textLength="8.5" lengthAdjust="spacingAndGlyphs">10</text>
<text x="364.07" y="290.90" font-family="Liberation Sans, sans-serif" font-size="9" fill="#151515" stroke="#151515" stroke-width="0.35">1</text>
<g transform="translate(322.30 253.30) rotate(-90)"><text x="-6.5" y="0" font-family="Liberation Sans, sans-serif" font-size="9" fill="#151515" stroke="#151515" stroke-width="0.35" textLength="9.2" lengthAdjust="spacingAndGlyphs">10</text><text x="2.5" y="-5.6" font-family="Liberation Sans, sans-serif" font-size="9" fill="#151515" stroke="#151515" stroke-width="0.35">1</text></g>
<text x="387.05" y="296.20" font-family="Liberation Sans, sans-serif" font-size="9" fill="#151515" stroke="#151515" stroke-width="0.35" textLength="8.5" lengthAdjust="spacingAndGlyphs">10</text>
<text x="395.65" y="290.90" font-family="Liberation Sans, sans-serif" font-size="9" fill="#151515" stroke="#151515" stroke-width="0.35">2</text>
<g transform="translate(322.30 225.10) rotate(-90)"><text x="-6.5" y="0" font-family="Liberation Sans, sans-serif" font-size="9" fill="#151515" stroke="#151515" stroke-width="0.35" textLength="9.2" lengthAdjust="spacingAndGlyphs">10</text><text x="2.5" y="-5.6" font-family="Liberation Sans, sans-serif" font-size="9" fill="#151515" stroke="#151515" stroke-width="0.35">2</text></g>
<text x="418.62" y="296.20" font-family="Liberation Sans, sans-serif" font-size="9" fill="#151515" stroke="#151515" stroke-width="0.35" textLength="8.5" lengthAdjust="spacingAndGlyphs">10</text>
<text x="427.23" y="290.90" font-family="Liberation Sans, sans-serif" font-size="9" fill="#151515" stroke="#151515" stroke-width="0.35">3</text>
<g transform="translate(322.30 196.90) rotate(-90)"><text x="-6.5" y="0" font-family="Liberation Sans, sans-serif" font-size="9" fill="#151515" stroke="#151515" stroke-width="0.35" textLength="9.2" lengthAdjust="spacingAndGlyphs">10</text><text x="2.5" y="-5.6" font-family="Liberation Sans, sans-serif" font-size="9" fill="#151515" stroke="#151515" stroke-width="0.35">3</text></g>
<text x="450.20" y="296.20" font-family="Liberation Sans, sans-serif" font-size="9" fill="#151515" stroke="#151515" stroke-width="0.35" textLength="8.5" lengthAdjust="spacingAndGlyphs">10</text>
<text x="458.80" y="290.90" font-family="Liberation Sans, sans-serif" font-size="9" fill="#151515" stroke="#151515" stroke-width="0.35">4</text>
<g transform="translate(322.30 168.70) rotate(-90)"><text x="-8.2" y="0" font-family="Liberation Sans, sans-serif" font-size="9" fill="#151515" stroke="#151515" stroke-width="0.35" textLength="9.2" lengthAdjust="spacingAndGlyphs">10</text><rect x="3.2" y="-9.5" width="1.4" height="1.2" fill="#555"/></g>
<path d="M401.20 187.70H450.00M425.70 172.30V200.80" stroke="#333" stroke-width="1" fill="none"/>
<text x="413.50" y="183.40" font-family="Liberation Sans, sans-serif" font-size="14" font-weight="bold" text-anchor="middle" fill="#0a0a0a" stroke="#0a0a0a" stroke-width="0.35">21</text>
<text x="438.50" y="183.40" font-family="Liberation Sans, sans-serif" font-size="14" font-weight="bold" text-anchor="middle" fill="#0a0a0a" stroke="#0a0a0a" stroke-width="0.35">3</text>
<text x="413.50" y="202.80" font-family="Liberation Sans, sans-serif" font-size="14" font-weight="bold" text-anchor="middle" fill="#0a0a0a" stroke="#0a0a0a" stroke-width="0.35">59</text>
<text x="438.50" y="202.80" font-family="Liberation Sans, sans-serif" font-size="14" font-weight="bold" text-anchor="middle" fill="#0a0a0a" stroke="#0a0a0a" stroke-width="0.35">17</text>
<path d="M52.00 33.20V279.80" stroke="#333" stroke-width="1.3"/>
<path d="M52.00 25.20L47.20 34.20L56.80 34.20z" fill="#000"/>
<path d="M305.00 31.20V278.20" stroke="#333" stroke-width="1.3"/>
<path d="M305.00 23.00L300.10 32.20L309.90 32.20z" fill="#000"/>
<path d="M71.70 300.10H187.80" stroke="#333" stroke-width="1.3"/>
<path d="M196.50 300.10L186.80 295.40L186.80 304.80z" fill="#000"/>
<path d="M332.60 301.40H449.60" stroke="#333" stroke-width="1.3"/>
<path d="M458.60 301.40L448.60 296.70L448.60 306.10z" fill="#000"/>
<text x="93" y="317.1" font-family="Liberation Sans, sans-serif" font-size="14" font-weight="bold" fill="#000" stroke="#000" stroke-width="0.3">CD8</text>
<text x="345" y="317.1" font-family="Liberation Sans, sans-serif" font-size="14" font-weight="bold" fill="#000" stroke="#000" stroke-width="0.3">CD25</text>
<text transform="translate(28.8 163.8) rotate(-90)" font-family="Liberation Sans, sans-serif" font-size="14" font-weight="bold" fill="#000" stroke="#000" stroke-width="0.3">CD4</text>
<text transform="translate(277.7 164.8) rotate(-90)" font-family="Liberation Sans, sans-serif" font-size="14.25" font-weight="bold" fill="#000" stroke="#000" stroke-width="0.3">CD44</text>
<text x="460" y="78.6" font-family="Liberation Sans, sans-serif" font-size="14.3" font-weight="bold" fill="#000" stroke="#000" stroke-width="0.3">TβRII-/-</text>
<text x="460" y="218.6" font-family="Liberation Sans, sans-serif" font-size="14.3" font-weight="bold" fill="#000" stroke="#000" stroke-width="0.3">TβRII+/-</text>
<path d="M65.72 463.82V451.34" stroke="#969696" stroke-width="0.65"/>
<rect x="65.12" y="450.84" width="1.2" height="1" fill="#999"/>
<rect x="58.10" y="463.82" width="15.65" height="29.38" fill="#000"/>
<path d="M81.38 462.78V453.68" stroke="#969696" stroke-width="0.65"/>
<rect x="80.78" y="453.18" width="1.2" height="1" fill="#999"/>
<rect x="73.95" y="463.18" width="15.25" height="30.02" fill="#bcbcbc" stroke="#858585" stroke-width="0.8"/>
<path d="M120.03 486.05V480.20" stroke="#969696" stroke-width="0.65"/>
<rect x="119.43" y="479.70" width="1.2" height="1" fill="#999"/>
<rect x="112.40" y="486.05" width="15.65" height="7.15" fill="#000"/>
<path d="M135.68 487.22V484.49" stroke="#969696" stroke-width="0.65"/>
<rect x="135.08" y="483.99" width="1.2" height="1" fill="#999"/>
<rect x="128.25" y="487.62" width="15.25" height="5.58" fill="#bcbcbc" stroke="#858585" stroke-width="0.8"/>
<path d="M174.62 403.76V385.95" stroke="#969696" stroke-width="0.65"/>
<rect x="174.03" y="385.45" width="1.2" height="1" fill="#999"/>
<rect x="167.00" y="403.76" width="15.65" height="89.44" fill="#000"/>
<path d="M190.28 404.80V396.22" stroke="#969696" stroke-width="0.65"/>
<rect x="189.68" y="395.72" width="1.2" height="1" fill="#999"/>
<rect x="182.85" y="405.20" width="15.25" height="88.00" fill="#bcbcbc" stroke="#858585" stroke-width="0.8"/>
<path d="M229.12 488.26V486.31" stroke="#969696" stroke-width="0.65"/>
<rect x="228.53" y="485.81" width="1.2" height="1" fill="#999"/>
<rect x="221.50" y="488.26" width="15.65" height="4.94" fill="#000"/>
<path d="M244.78 486.96V483.84" stroke="#969696" stroke-width="0.65"/>
<rect x="244.18" y="483.34" width="1.2" height="1" fill="#999"/>
<rect x="237.35" y="487.36" width="15.25" height="5.84" fill="#bcbcbc" stroke="#858585" stroke-width="0.8"/>
<path d="M46.60 362.70V493.20M42.40 493.20H264.60M42.40 467.20h4.20M42.40 441.20h4.20M42.40 415.20h4.20M42.40 389.20h4.20M42.40 363.20h4.20" stroke="#222" stroke-width="1.1" fill="none"/>
<text transform="translate(36.80 497.42) scale(0.930 1)" font-family="Liberation Sans, sans-serif" font-size="12.6" font-weight="bold" text-anchor="end" fill="#000" stroke="#000" stroke-width="0.3">0</text>
<text transform="translate(36.80 471.42) scale(0.930 1)" font-family="Liberation Sans, sans-serif" font-size="12.6" font-weight="bold" text-anchor="end" fill="#000" stroke="#000" stroke-width="0.3">20</text>
<text transform="translate(36.80 445.42) scale(0.930 1)" font-family="Liberation Sans, sans-serif" font-size="12.6" font-weight="bold" text-anchor="end" fill="#000" stroke="#000" stroke-width="0.3">40</text>
<text transform="translate(36.80 419.42) scale(0.930 1)" font-family="Liberation Sans, sans-serif" font-size="12.6" font-weight="bold" text-anchor="end" fill="#000" stroke="#000" stroke-width="0.3">60</text>
<text transform="translate(36.80 393.42) scale(0.930 1)" font-family="Liberation Sans, sans-serif" font-size="12.6" font-weight="bold" text-anchor="end" fill="#000" stroke="#000" stroke-width="0.3">80</text>
<text transform="translate(36.80 367.42) scale(0.930 1)" font-family="Liberation Sans, sans-serif" font-size="12.6" font-weight="bold" text-anchor="end" fill="#000" stroke="#000" stroke-width="0.3">100</text>
<path d="M323.80 449.27V430.75" stroke="#969696" stroke-width="0.65"/>
<rect x="323.20" y="430.25" width="1.2" height="1" fill="#999"/>
<rect x="316.20" y="449.27" width="15.60" height="43.03" fill="#000"/>
<path d="M339.40 450.41V431.90" stroke="#969696" stroke-width="0.65"/>
<rect x="338.80" y="431.40" width="1.2" height="1" fill="#999"/>
<rect x="332.00" y="450.81" width="15.20" height="41.49" fill="#bcbcbc" stroke="#858585" stroke-width="0.8"/>
<path d="M377.95 470.72V464.21" stroke="#969696" stroke-width="0.65"/>
<rect x="377.35" y="463.71" width="1.2" height="1" fill="#999"/>
<rect x="370.40" y="470.72" width="15.50" height="21.58" fill="#000"/>
<path d="M393.45 476.85V464.21" stroke="#969696" stroke-width="0.65"/>
<rect x="392.85" y="463.71" width="1.2" height="1" fill="#999"/>
<rect x="386.10" y="477.25" width="15.10" height="15.05" fill="#bcbcbc" stroke="#858585" stroke-width="0.8"/>
<path d="M431.75 459.35V446.46" stroke="#969696" stroke-width="0.65"/>
<rect x="431.15" y="445.96" width="1.2" height="1" fill="#999"/>
<rect x="424.20" y="459.35" width="15.50" height="32.95" fill="#000"/>
<path d="M447.25 459.35V450.54" stroke="#969696" stroke-width="0.65"/>
<rect x="446.65" y="450.04" width="1.2" height="1" fill="#999"/>
<rect x="439.90" y="459.75" width="15.10" height="32.55" fill="#bcbcbc" stroke="#858585" stroke-width="0.8"/>
<path d="M485.15 461.27V445.82" stroke="#969696" stroke-width="0.65"/>
<rect x="484.55" y="445.32" width="1.2" height="1" fill="#999"/>
<rect x="477.60" y="461.27" width="15.50" height="31.03" fill="#000"/>
<path d="M500.65 453.99V438.67" stroke="#969696" stroke-width="0.65"/>
<rect x="500.05" y="438.17" width="1.2" height="1" fill="#999"/>
<rect x="493.30" y="454.39" width="15.10" height="37.91" fill="#bcbcbc" stroke="#858585" stroke-width="0.8"/>
<path d="M304.80 364.10V492.30M300.60 492.30H520.00M300.60 466.76h4.20M300.60 441.22h4.20M300.60 415.68h4.20M300.60 390.14h4.20M300.60 364.60h4.20" stroke="#222" stroke-width="1.1" fill="none"/>
<text transform="translate(294.90 496.79) scale(1.000 1)" font-family="Liberation Sans, sans-serif" font-size="13.4" font-weight="bold" text-anchor="end" fill="#000" stroke="#000" stroke-width="0.3">0</text>
<text transform="translate(294.90 471.25) scale(1.000 1)" font-family="Liberation Sans, sans-serif" font-size="13.4" font-weight="bold" text-anchor="end" fill="#000" stroke="#000" stroke-width="0.3">20</text>
<text transform="translate(294.90 445.71) scale(1.000 1)" font-family="Liberation Sans, sans-serif" font-size="13.4" font-weight="bold" text-anchor="end" fill="#000" stroke="#000" stroke-width="0.3">40</text>
<text transform="translate(294.90 420.17) scale(1.000 1)" font-family="Liberation Sans, sans-serif" font-size="13.4" font-weight="bold" text-anchor="end" fill="#000" stroke="#000" stroke-width="0.3">60</text>
<text transform="translate(294.90 394.63) scale(1.000 1)" font-family="Liberation Sans, sans-serif" font-size="13.4" font-weight="bold" text-anchor="end" fill="#000" stroke="#000" stroke-width="0.3">80</text>
<text transform="translate(294.90 369.09) scale(1.000 1)" font-family="Liberation Sans, sans-serif" font-size="13.4" font-weight="bold" text-anchor="end" fill="#000" stroke="#000" stroke-width="0.3">100</text>
<text x="63.20" y="513.90" font-family="Liberation Sans, sans-serif" font-size="12" font-weight="bold" fill="#000" stroke="#000" stroke-width="0.25">CD4<tspan dy="-3.6" font-size="7.6">+</tspan></text>
<text x="117.60" y="513.90" font-family="Liberation Sans, sans-serif" font-size="12" font-weight="bold" fill="#000" stroke="#000" stroke-width="0.25">CD8<tspan dy="-3.6" font-size="7.6">+</tspan></text>
<text x="180.00" y="513.90" font-family="Liberation Sans, sans-serif" font-size="12" font-weight="bold" fill="#000" stroke="#000" stroke-width="0.25">DP<tspan dy="-3.6" font-size="7.6"></tspan></text>
<text x="235.40" y="513.90" font-family="Liberation Sans, sans-serif" font-size="12" font-weight="bold" fill="#000" stroke="#000" stroke-width="0.25">DN<tspan dy="-3.6" font-size="7.6"></tspan></text>
<text x="316.00" y="513.50" font-family="Liberation Sans, sans-serif" font-size="12" font-weight="bold" fill="#000" stroke="#000" stroke-width="0.25">CD44<tspan dy="-3.6" font-size="7.6">+</tspan></text>
<text x="369.60" y="513.50" font-family="Liberation Sans, sans-serif" font-size="12" font-weight="bold" fill="#000" stroke="#000" stroke-width="0.25">CD25<tspan dy="-3.6" font-size="7.6">+</tspan></text>
<text x="369.60" y="536.10" font-family="Liberation Sans, sans-serif" font-size="12" font-weight="bold" fill="#000" stroke="#000" stroke-width="0.25">CD44<tspan dy="-3.6" font-size="7.6">+</tspan></text>
<text x="424.20" y="513.50" font-family="Liberation Sans, sans-serif" font-size="12" font-weight="bold" fill="#000" stroke="#000" stroke-width="0.25">CD25<tspan dy="-3.6" font-size="7.6">+</tspan></text>
<text x="481.40" y="513.50" font-family="Liberation Sans, sans-serif" font-size="12" font-weight="bold" fill="#000" stroke="#000" stroke-width="0.25">CD25<tspan dy="-5.2" font-size="8.5">-</tspan></text>
<text x="481.40" y="536.10" font-family="Liberation Sans, sans-serif" font-size="12" font-weight="bold" fill="#000" stroke="#000" stroke-width="0.25">CD44<tspan dy="-5.2" font-size="8.5">-</tspan></text>
<text transform="translate(10.8 465.9) rotate(-90) scale(1.03 0.97)" font-family="Liberation Sans, sans-serif" font-size="14.3" font-weight="bold" fill="#000" stroke="#000" stroke-width="0.3">% of gated</text>
</svg>
</body></html>
